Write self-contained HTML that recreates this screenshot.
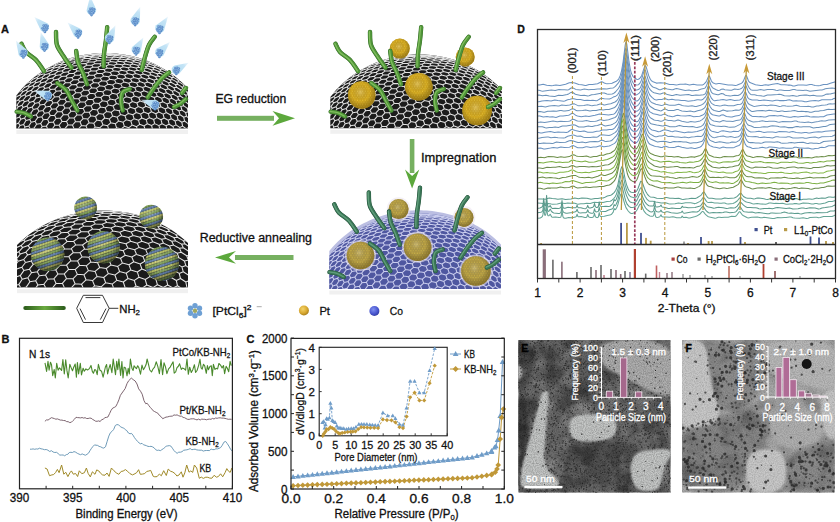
<!DOCTYPE html><html><head><meta charset="utf-8"><style>html,body{margin:0;padding:0;background:#fff;width:840px;height:522px;overflow:hidden}svg{display:block}</style></head><body><svg width="840" height="522" viewBox="0 0 840 522" font-family='"Liberation Sans", sans-serif'><rect width="840" height="522" fill="#ffffff"/>
<polyline points="537.5,85.0 539.8,85.1 543.2,84.3 546.7,85.3 551.7,85.7 553.0,85.6 556.0,85.0 559.9,85.5 565.6,84.2 569.3,82.8 571.6,82.6 574.8,83.0 578.8,84.4 581.8,84.8 585.2,85.6 586.0,85.5 589.0,84.5 592.4,84.5 597.5,83.7 601.4,81.8 602.6,82.0 604.3,83.1 605.6,83.6 606.9,83.7 610.7,83.6 612.0,83.3 616.3,81.2 617.5,80.4 618.8,78.8 620.1,75.9 621.4,71.5 623.1,62.1 625.2,45.1 625.6,43.0 626.0,42.1 626.5,42.8 626.9,44.7 629.0,61.7 630.3,69.3 631.6,73.8 632.9,76.3 634.6,78.0 636.7,79.3 637.5,79.4 638.4,79.3 639.7,78.5 640.9,76.9 641.8,75.2 644.4,67.1 644.8,66.1 645.2,65.7 645.6,65.9 646.1,66.7 648.6,75.4 650.3,79.3 651.2,80.4 652.4,81.5 656.3,83.1 657.5,83.1 660.5,82.7 663.1,83.1 664.8,83.0 669.5,84.5 670.7,84.6 673.3,84.4 676.3,84.9 677.6,84.8 680.1,84.2 683.5,84.3 685.6,84.1 689.5,84.9 693.3,84.2 697.1,84.9 702.2,85.1 703.9,84.2 705.7,82.4 706.9,80.2 708.6,76.1 709.1,75.8 709.5,76.3 711.2,80.5 712.0,81.9 713.3,83.0 714.6,83.6 715.9,83.9 718.4,83.4 719.7,83.4 728.2,84.9 732.0,84.9 735.5,85.6 736.7,85.3 741.0,83.5 742.3,82.6 743.5,80.9 745.2,76.5 745.7,75.6 746.1,75.3 746.5,75.8 748.6,81.2 749.9,82.6 755.5,84.7 760.6,85.5 762.3,85.4 764.0,84.9 765.7,84.8 767.4,85.1 769.1,85.1 772.5,84.3 777.6,83.6 781.0,84.7 782.7,84.8 784.4,84.7 787.8,85.1 789.5,85.1 791.2,85.3 792.9,85.9 794.6,86.0 798.0,85.0 801.4,85.0 803.1,84.9 806.5,85.2 809.9,84.4 811.7,84.6 813.4,85.1 815.1,85.5 818.5,85.7 820.2,85.5 823.6,84.4 827.0,84.5 830.4,83.2 835.5,81.7" fill="none" stroke="#6a92c0" stroke-width="1.05" stroke-linejoin="round" />
<polyline points="537.5,90.3 539.0,90.3 541.5,91.1 542.6,91.3 551.3,90.0 555.2,90.4 559.0,89.5 562.0,89.7 564.6,89.7 567.3,90.0 568.6,89.7 571.1,88.0 572.2,87.7 573.1,88.0 575.8,89.4 580.5,90.0 584.3,89.1 588.6,89.8 591.1,89.5 594.1,89.6 597.5,88.9 603.5,88.7 606.9,88.9 610.3,88.2 612.8,87.9 613.7,87.7 615.4,86.4 618.4,82.9 619.7,80.8 620.9,77.3 621.8,73.8 622.6,69.0 624.8,52.5 625.6,48.6 626.0,48.6 626.5,50.0 629.0,68.7 630.3,75.3 632.0,80.7 632.9,82.5 633.7,83.8 635.0,84.8 636.7,85.1 638.4,84.7 639.7,83.5 640.5,82.2 641.4,80.2 643.9,71.4 644.4,70.4 644.8,69.9 645.2,70.1 645.6,70.8 647.8,78.6 648.6,81.1 649.5,82.9 650.7,84.9 652.0,86.3 653.3,87.2 655.8,88.1 659.3,89.7 660.5,89.7 663.5,88.5 664.8,88.2 667.3,89.0 671.6,89.8 672.9,89.7 675.4,88.7 676.7,88.5 685.2,90.4 689.0,90.0 691.6,90.7 692.9,90.8 698.0,90.2 701.4,89.0 703.9,88.6 705.2,87.9 706.5,85.8 708.2,81.1 708.6,80.4 709.1,80.5 709.5,81.2 711.2,85.8 712.5,87.6 713.3,88.3 716.3,89.8 718.0,90.4 719.7,90.2 721.4,89.3 723.1,89.1 724.8,89.8 730.3,90.3 731.6,90.2 734.6,89.1 738.0,89.4 740.1,89.0 741.8,88.2 743.1,86.9 745.7,81.0 746.1,81.0 746.5,81.7 748.2,86.1 749.5,88.4 750.8,89.7 751.6,90.1 752.5,90.2 757.2,90.2 760.6,89.6 764.0,90.2 767.4,89.4 769.1,89.4 772.5,89.5 774.2,89.7 775.9,90.3 777.6,90.4 779.3,90.0 781.0,89.9 784.4,90.5 789.5,90.5 792.9,89.5 794.6,89.6 796.3,90.1 798.0,90.2 799.7,90.2 803.1,90.5 804.8,90.3 806.5,90.3 809.9,91.3 820.2,89.9 821.9,90.0 823.6,89.6 825.3,88.8 827.0,88.4 832.1,88.1 835.5,88.4" fill="none" stroke="#6e94bc" stroke-width="1.05" stroke-linejoin="round" />
<polyline points="537.5,95.1 539.0,95.1 542.4,95.8 546.0,95.2 549.2,95.9 554.8,96.4 558.5,95.3 562.4,95.5 567.1,94.5 568.6,93.9 571.0,92.4 571.8,92.2 572.8,92.5 575.0,94.0 576.2,94.6 580.9,95.4 584.3,95.3 587.7,96.0 589.0,95.7 591.6,94.8 594.5,94.5 602.2,93.0 604.3,93.1 606.9,94.0 608.2,94.2 612.0,93.9 613.7,93.4 615.4,92.0 618.4,88.5 619.7,86.3 620.5,84.0 621.4,80.7 622.2,76.1 624.8,56.0 625.2,53.8 625.6,52.9 626.0,53.5 626.5,55.4 628.6,71.6 630.3,80.6 631.6,84.8 632.9,87.6 634.1,89.3 635.4,89.9 636.7,90.0 638.4,89.6 639.2,89.0 640.1,88.1 640.9,86.5 641.8,84.3 643.9,77.2 644.4,76.4 644.8,76.2 645.2,76.6 645.6,77.6 647.3,83.8 648.6,87.3 650.3,89.9 652.4,91.9 654.1,92.8 659.3,94.1 660.5,94.0 663.1,93.0 664.4,92.9 667.3,94.6 671.6,95.5 672.9,95.4 676.3,94.5 680.1,95.2 688.6,94.5 691.6,95.4 692.9,95.6 695.9,95.1 699.3,95.3 703.5,94.8 704.8,94.1 705.7,93.0 706.5,91.1 707.8,87.1 708.2,86.2 708.6,85.9 709.1,86.3 711.2,91.7 712.0,92.9 713.3,93.8 717.6,94.8 718.4,94.7 721.4,93.6 723.1,93.8 724.8,94.9 726.5,95.5 730.3,95.9 731.6,95.8 734.6,95.2 738.0,95.5 739.7,94.8 741.4,93.4 742.7,91.9 743.5,90.3 744.8,86.7 745.2,85.8 745.7,85.5 746.1,86.0 747.8,90.4 748.6,92.1 749.5,93.3 750.8,94.4 752.1,94.8 754.6,94.8 757.2,95.4 760.6,95.7 762.3,96.1 764.0,96.2 767.4,95.0 770.8,95.1 774.2,94.7 777.6,94.6 779.3,94.3 781.0,94.4 784.4,95.7 789.5,96.0 792.9,95.6 796.3,96.3 798.0,96.1 799.7,95.5 804.8,95.1 806.5,95.1 809.9,95.8 813.4,95.3 816.8,96.0 821.9,96.0 823.6,95.5 825.3,94.6 827.0,94.1 828.7,94.1 830.4,93.9 832.1,93.4 835.5,92.7" fill="none" stroke="#6890b8" stroke-width="1.05" stroke-linejoin="round" />
<polyline points="537.5,101.8 538.9,101.8 541.9,100.9 547.0,100.4 551.1,100.9 554.7,100.1 557.9,100.6 563.7,101.2 564.7,101.0 567.6,99.8 570.1,99.3 572.8,98.5 573.9,98.7 576.7,99.6 580.5,99.4 584.3,100.5 587.3,100.2 590.3,100.4 592.8,100.2 596.2,100.7 597.5,100.4 600.1,98.7 601.4,98.3 604.3,98.8 609.4,99.0 610.7,98.6 613.3,97.1 615.8,96.2 617.5,94.8 618.8,92.9 620.1,89.9 620.9,87.1 622.2,80.5 624.8,60.5 625.2,58.8 625.6,58.5 626.0,59.7 626.5,62.2 628.2,76.3 629.5,84.4 630.7,89.3 631.6,91.3 632.4,92.7 634.1,94.4 635.0,94.8 635.8,95.0 637.5,94.4 639.2,93.1 640.5,91.5 641.4,89.8 643.9,81.6 644.4,80.8 644.8,80.7 645.2,81.2 645.6,82.3 648.2,91.6 649.5,94.4 650.3,95.7 652.0,97.4 654.1,99.2 655.4,99.8 656.3,99.9 658.8,99.5 661.8,99.4 664.8,98.4 668.2,99.7 669.0,99.7 672.0,99.2 675.4,99.9 678.4,99.9 681.4,100.6 684.8,100.4 688.2,101.3 694.2,100.4 697.1,99.7 698.4,99.8 700.5,100.1 701.4,100.0 703.1,99.2 705.2,97.2 706.1,95.8 707.8,91.7 708.2,91.3 708.6,91.6 710.3,96.0 711.6,98.4 712.9,99.9 713.7,100.4 714.6,100.7 717.6,100.2 719.7,100.1 723.1,99.5 726.5,100.3 730.3,99.6 734.6,100.5 739.7,100.0 741.0,99.3 742.3,97.8 743.1,96.2 744.8,92.2 745.2,91.9 745.7,92.3 747.8,97.7 749.1,99.0 752.1,100.0 753.3,100.1 755.5,99.9 757.2,100.0 758.9,100.5 760.6,100.6 762.3,100.2 764.0,100.0 772.5,101.1 775.9,100.2 777.6,100.2 779.3,100.6 784.4,100.6 786.1,100.5 787.8,100.0 789.5,99.8 792.9,100.9 796.3,100.8 798.0,101.0 801.4,100.9 803.1,101.2 804.8,101.8 806.5,101.8 809.9,100.9 815.1,100.5 818.5,101.0 821.9,99.7 830.4,99.7 832.1,99.4 833.8,98.6 835.5,98.2" fill="none" stroke="#6a92c0" stroke-width="1.05" stroke-linejoin="round" />
<polyline points="537.5,106.4 541.6,106.2 545.4,107.0 549.2,106.0 554.3,105.5 557.9,106.0 559.0,105.9 561.8,105.1 566.0,105.6 569.7,105.0 572.4,104.0 573.5,103.8 574.8,104.1 577.5,105.4 578.8,105.7 583.9,105.5 587.3,104.8 588.6,104.9 590.7,105.6 592.0,105.7 594.5,105.2 597.1,105.0 600.1,104.0 600.9,103.9 601.8,104.0 603.9,105.0 604.8,105.1 607.7,104.2 610.7,103.8 615.0,102.0 616.7,100.8 618.0,99.0 619.2,96.1 620.5,92.0 622.2,83.4 624.3,67.1 624.8,64.9 625.2,63.9 625.6,64.4 626.0,66.3 628.6,86.0 629.5,90.6 630.3,93.9 631.2,96.1 632.4,98.1 634.6,100.1 636.3,101.0 637.1,100.9 638.0,100.5 639.2,99.1 640.1,97.7 641.4,94.6 643.5,87.1 643.9,86.0 644.4,85.5 644.8,85.7 645.2,86.5 647.3,94.3 648.6,98.3 649.5,100.1 650.3,101.3 651.6,102.4 655.8,104.3 661.4,105.4 662.7,105.3 665.2,104.1 666.1,104.2 668.6,105.0 669.9,105.2 675.0,105.2 678.8,104.2 679.7,104.4 682.2,105.5 683.5,105.8 688.2,106.3 692.0,105.8 695.0,106.4 696.3,106.4 701.4,104.9 703.5,103.7 704.8,102.4 705.7,101.1 707.4,97.3 707.8,96.7 708.2,96.7 708.6,97.5 710.3,101.6 711.2,102.8 712.0,103.6 713.7,104.7 715.0,105.2 719.7,106.0 721.4,105.8 723.1,105.2 724.8,105.1 728.2,105.8 733.7,105.7 737.6,104.5 740.6,104.3 741.4,103.8 742.3,102.8 743.1,101.1 744.4,97.6 744.8,96.9 745.2,97.0 745.7,97.7 746.9,101.3 748.2,103.5 749.5,104.5 752.9,106.1 754.2,106.4 755.5,106.3 757.2,105.9 762.3,105.3 764.0,105.2 767.4,105.8 770.8,105.0 775.9,105.6 779.3,106.4 781.0,106.3 782.7,105.8 784.4,105.7 786.1,106.1 787.8,106.2 792.9,105.9 796.3,105.2 799.7,106.2 806.5,106.4 808.2,106.3 809.9,106.4 811.7,106.9 813.4,107.1 816.8,106.1 818.5,106.0 821.9,105.2 825.3,105.1 827.0,104.7 828.7,103.9 830.4,103.7 832.1,103.9 835.5,103.8" fill="none" stroke="#6e94bc" stroke-width="1.05" stroke-linejoin="round" />
<polyline points="537.5,111.6 540.2,111.6 543.6,112.3 544.6,112.2 547.7,111.2 550.4,111.2 553.4,111.0 556.5,111.2 560.1,110.4 561.2,110.5 563.5,111.0 565.0,111.1 568.8,110.6 571.8,108.9 572.7,108.7 573.7,108.9 575.8,110.3 577.1,110.8 582.6,110.6 585.6,110.1 589.9,111.0 592.8,110.5 596.2,110.4 600.1,109.6 603.1,109.9 606.0,109.4 609.0,109.4 614.1,107.8 615.8,106.5 617.5,104.1 619.2,100.6 620.5,96.8 621.4,93.0 622.2,87.8 624.3,71.3 624.8,69.6 625.2,69.3 625.6,70.4 626.0,72.8 628.6,92.3 629.9,98.0 631.2,101.3 632.4,103.6 634.1,105.7 635.4,106.3 636.3,106.3 637.5,105.6 638.8,104.3 639.7,103.1 640.5,101.4 641.4,99.1 643.5,91.5 643.9,90.7 644.4,90.6 644.8,91.2 645.2,92.4 647.8,102.2 648.6,104.2 649.5,105.6 650.7,106.8 654.6,109.3 660.1,110.8 661.0,110.9 661.8,110.6 663.9,109.2 664.8,109.0 665.6,109.1 667.8,110.2 668.6,110.4 673.7,110.4 676.7,109.5 677.6,109.4 678.4,109.6 680.5,110.6 681.8,110.9 686.9,111.4 690.3,111.1 693.3,111.8 694.6,111.8 697.6,110.8 701.0,110.1 703.9,108.5 705.2,107.1 707.4,102.2 707.8,101.8 708.2,102.2 710.3,107.0 712.0,109.1 712.9,109.8 714.2,110.5 718.4,111.4 719.7,111.4 723.1,109.9 726.5,111.1 728.2,111.1 732.5,110.8 735.9,109.9 738.9,110.2 739.7,110.1 741.0,109.3 741.8,108.2 742.7,106.6 744.0,103.2 744.4,102.3 744.8,102.1 745.2,102.6 746.9,107.0 747.8,108.4 749.1,109.6 750.8,110.9 752.1,111.5 752.9,111.6 757.2,110.8 762.3,110.6 765.7,111.1 769.1,110.2 772.5,110.8 775.9,111.1 777.6,111.4 779.3,111.4 781.0,110.9 782.7,110.9 784.4,111.4 786.1,111.6 791.2,111.1 794.6,110.5 798.0,111.5 799.7,111.5 801.4,111.3 804.8,111.6 806.5,111.6 808.2,111.7 809.9,112.2 811.7,112.3 815.1,111.3 818.5,111.3 820.2,110.8 823.6,110.6 827.0,109.4 828.7,109.2 830.4,109.4 832.1,109.5 835.5,109.2" fill="none" stroke="#6890b8" stroke-width="1.05" stroke-linejoin="round" />
<polyline points="537.5,116.1 539.8,115.9 543.3,116.9 547.0,116.6 549.6,116.9 552.6,116.8 556.0,117.4 559.9,116.1 563.0,116.0 568.4,115.3 569.4,114.9 571.6,113.5 572.4,113.2 573.5,113.6 576.2,115.6 577.5,116.0 581.3,116.7 585.6,116.1 589.0,116.6 592.4,115.7 595.0,115.3 597.9,114.4 599.2,114.1 608.6,115.0 612.8,114.3 614.1,113.9 615.4,112.9 617.1,110.4 618.8,106.9 620.1,103.2 621.4,97.2 623.9,77.4 624.3,75.1 624.8,74.0 625.2,74.3 625.6,76.1 627.7,92.7 628.6,97.8 629.5,101.6 630.7,105.3 632.4,108.5 634.1,110.6 635.4,111.3 636.3,111.3 637.5,110.9 638.8,109.9 639.7,108.7 640.9,105.8 643.1,98.1 643.5,97.0 643.9,96.6 644.4,96.8 644.8,97.7 646.9,105.9 647.8,108.5 649.0,110.8 650.3,112.1 653.3,113.7 657.1,114.4 659.7,115.3 661.4,115.3 663.9,114.1 664.8,114.1 667.8,115.7 672.4,116.7 673.7,116.6 676.3,115.5 677.6,115.2 680.5,115.8 685.6,116.0 689.9,115.5 693.7,116.7 699.7,116.3 702.7,115.1 704.4,113.9 705.2,112.7 706.9,108.3 707.4,107.6 707.8,107.7 708.2,108.3 709.5,111.4 710.3,112.8 711.2,113.8 712.5,114.7 718.4,116.0 719.7,115.9 721.4,115.1 723.1,114.8 726.5,116.4 730.8,117.0 732.0,117.1 735.5,115.9 738.9,115.6 740.1,114.9 741.0,114.0 741.8,112.7 744.0,107.4 744.4,106.9 744.8,107.1 746.5,111.0 747.8,113.0 750.8,115.6 752.1,116.2 752.9,116.4 755.5,116.4 758.9,116.7 760.6,116.5 762.3,116.7 764.0,117.1 765.7,117.0 769.1,115.8 774.2,115.4 777.6,116.0 781.0,115.5 782.7,115.9 784.4,116.5 789.5,117.2 791.2,117.2 792.9,116.7 794.6,116.4 798.0,117.0 801.4,116.4 803.1,116.4 806.5,115.9 808.2,116.2 809.9,116.8 811.7,117.0 813.4,116.7 818.5,117.0 820.2,116.7 823.6,116.7 827.0,115.1 833.8,113.9 835.5,113.9" fill="none" stroke="#6a92c0" stroke-width="1.05" stroke-linejoin="round" />
<polyline points="537.5,122.4 540.7,121.9 544.6,122.6 547.7,121.9 553.1,121.1 554.3,121.2 557.3,121.8 560.7,121.2 563.9,121.5 568.6,121.3 569.9,121.0 572.0,119.6 573.1,119.3 574.1,119.5 576.7,120.7 577.9,121.0 582.6,121.3 586.5,120.5 590.3,121.5 595.4,121.3 596.7,121.0 600.1,119.7 600.9,119.7 603.9,120.5 608.6,119.7 615.0,117.5 616.3,116.4 617.5,114.4 618.8,111.5 620.1,107.4 620.9,103.5 621.8,98.3 623.9,81.9 624.3,80.1 624.8,79.7 625.2,80.7 625.6,83.1 627.3,97.1 628.6,105.3 629.9,110.1 630.7,112.1 632.0,113.9 633.7,115.6 634.6,116.2 635.4,116.5 636.7,116.3 638.4,114.9 639.7,113.0 640.5,111.1 643.1,102.2 643.5,101.3 643.9,101.1 644.4,101.5 644.8,102.5 647.8,113.4 648.6,115.4 649.5,116.8 651.2,118.3 654.1,120.0 655.4,120.3 658.0,120.5 660.5,121.3 661.4,121.3 662.2,121.1 664.4,119.8 665.2,119.6 668.2,120.5 671.2,120.6 673.7,121.1 675.0,121.0 677.6,120.1 678.4,120.1 681.8,121.3 686.9,122.3 688.2,122.2 690.8,121.5 694.2,122.0 695.4,121.9 700.1,120.9 702.2,119.6 704.4,117.6 705.2,116.2 706.5,113.2 706.9,112.5 707.4,112.5 707.8,113.1 709.5,117.4 710.3,118.7 711.6,119.9 713.7,121.0 716.7,121.4 719.7,122.0 723.1,120.6 726.5,121.2 729.9,121.2 732.9,121.5 736.3,120.4 739.7,120.1 740.6,119.6 741.4,118.6 742.3,117.0 743.5,113.6 744.0,113.0 744.4,112.9 744.8,113.6 746.5,118.1 747.4,119.3 748.2,119.9 751.6,121.5 753.3,122.0 758.9,121.4 762.3,120.8 765.7,121.6 767.4,121.5 769.1,121.2 774.2,121.3 775.9,121.4 777.6,122.0 779.3,122.2 782.7,121.4 791.2,121.8 794.6,121.0 796.3,121.1 798.0,121.7 799.7,122.1 804.8,122.4 808.2,121.9 811.7,122.7 815.1,122.0 818.5,121.6 820.2,121.0 821.9,120.8 823.6,121.0 825.3,120.9 828.7,119.9 833.8,119.7 835.5,119.8" fill="none" stroke="#6e94bc" stroke-width="1.05" stroke-linejoin="round" />
<polyline points="537.5,126.8 542.4,126.7 545.3,127.8 546.3,127.9 549.4,127.4 552.2,127.4 555.1,127.0 558.5,127.4 559.6,127.1 562.4,126.0 566.3,126.0 573.3,124.7 575.0,125.0 578.8,127.0 583.9,127.1 588.2,126.1 591.1,126.5 592.4,126.5 595.0,125.8 597.5,125.4 600.9,124.2 601.8,124.3 603.9,125.6 605.2,125.9 610.7,125.0 612.0,124.6 615.0,122.9 616.3,121.8 617.5,120.0 618.8,116.8 620.1,111.8 620.9,107.3 623.5,87.9 623.9,85.6 624.3,84.4 624.8,84.7 625.2,86.3 627.7,105.7 628.6,110.6 629.9,115.5 630.7,117.6 632.0,119.4 634.1,120.9 636.3,121.8 637.1,121.7 638.0,121.2 639.2,119.5 640.5,116.4 642.6,109.1 643.1,108.0 643.5,107.4 643.9,107.5 644.4,108.2 646.5,115.3 647.8,118.9 649.0,121.5 650.3,123.2 651.2,123.7 652.0,124.1 656.7,125.1 659.7,125.4 662.2,126.0 663.1,125.9 664.8,125.4 665.6,125.3 669.9,126.7 675.0,126.7 676.3,126.5 678.4,125.7 679.7,125.4 683.5,126.4 686.1,126.5 689.0,126.8 692.5,126.4 695.4,127.3 697.1,127.4 701.0,126.4 702.7,125.4 703.5,124.4 704.4,123.0 706.1,118.6 706.5,117.8 706.9,117.5 707.4,118.0 709.5,123.4 710.3,124.4 711.2,124.8 715.4,125.9 721.4,126.5 723.1,126.2 724.8,126.3 728.2,127.1 729.9,127.3 734.6,127.1 740.1,124.4 741.4,123.0 743.5,117.8 744.0,117.4 744.4,117.7 744.8,118.6 746.5,123.0 747.8,124.8 748.6,125.3 751.2,126.0 753.8,127.2 755.0,127.6 760.6,127.2 764.0,126.7 767.4,127.1 770.8,126.0 772.5,125.8 777.6,126.2 779.3,126.8 781.0,127.1 784.4,126.7 787.8,127.6 792.9,127.6 796.3,126.6 798.0,126.6 799.7,127.0 801.4,127.1 803.1,126.8 809.9,126.8 813.4,128.0 816.8,127.5 818.5,127.5 823.6,126.5 825.3,126.5 827.0,126.1 828.7,125.1 830.4,124.5 835.5,124.1" fill="none" stroke="#6890b8" stroke-width="1.05" stroke-linejoin="round" />
<polyline points="537.5,132.4 538.5,132.4 540.7,132.9 541.9,132.9 544.9,132.2 550.5,131.5 554.5,132.5 558.1,132.0 560.9,132.3 563.7,132.2 566.4,132.5 568.0,132.0 570.7,130.0 571.6,129.6 572.2,129.5 575.4,130.5 579.6,131.6 580.9,131.5 583.5,131.1 584.3,131.1 587.7,132.2 592.8,132.2 596.7,131.2 599.7,130.9 602.2,130.0 606.5,130.1 609.4,129.5 612.0,129.4 613.3,129.1 615.0,127.6 617.1,124.9 618.4,122.5 619.2,120.2 620.1,116.9 620.9,112.4 623.5,93.0 623.9,91.2 624.3,90.7 624.8,91.7 625.2,93.9 626.9,107.3 628.2,114.9 629.0,118.4 629.9,120.9 630.7,122.9 632.0,125.0 633.3,126.1 634.1,126.5 635.0,126.5 636.3,126.3 637.1,126.0 638.4,124.9 639.2,123.4 640.1,121.3 642.6,112.5 643.1,111.8 643.5,111.7 643.9,112.3 644.4,113.5 646.9,123.2 647.8,125.2 649.0,127.3 650.7,129.1 652.0,130.0 655.4,130.7 658.4,131.8 660.1,131.6 663.5,130.1 664.8,129.8 668.2,130.6 671.2,131.6 672.4,131.7 674.6,131.1 675.9,130.9 684.4,132.8 688.2,131.9 692.0,132.3 697.1,131.6 702.7,129.8 703.5,129.3 704.4,128.1 706.1,123.8 706.5,123.1 706.9,123.1 707.4,123.9 708.6,127.3 709.5,129.1 710.8,130.6 712.0,131.2 717.1,132.6 718.4,132.4 721.4,130.9 723.1,130.7 729.9,132.0 731.2,131.9 733.7,131.3 737.2,131.6 738.4,131.4 739.7,130.6 741.0,129.3 743.5,123.6 744.0,123.7 744.4,124.3 745.7,127.4 746.9,129.4 749.1,131.3 750.8,132.0 755.5,131.8 758.9,131.3 760.6,131.5 762.3,132.1 764.0,132.4 767.4,132.0 769.1,132.1 772.5,132.0 775.9,132.5 779.3,131.6 786.1,131.8 787.8,132.1 789.5,132.2 791.2,131.7 792.9,131.6 796.3,132.6 801.4,133.1 804.8,132.4 806.5,132.5 808.2,132.9 809.9,132.9 813.4,132.2 818.5,131.7 821.9,132.1 825.3,131.2 832.1,130.7 833.8,130.8 835.5,130.5" fill="none" stroke="#6a92c0" stroke-width="1.05" stroke-linejoin="round" />
<polyline points="537.5,138.3 538.9,138.3 542.0,137.4 547.1,136.9 548.3,137.0 551.0,137.7 554.8,137.2 558.1,137.7 563.7,138.1 565.0,137.7 567.7,136.3 572.7,134.9 573.7,135.0 577.1,136.2 580.5,136.1 583.5,137.3 584.8,137.5 590.3,137.5 593.3,137.0 596.7,137.2 597.9,136.7 600.5,134.9 601.4,134.7 609.0,135.5 610.7,135.1 615.0,132.6 616.3,131.5 617.5,129.7 618.8,126.5 620.1,121.5 620.9,116.8 623.5,97.3 623.9,95.8 624.3,95.8 624.8,97.1 625.2,99.6 626.9,113.1 628.2,121.0 629.5,126.0 630.3,128.1 631.2,129.5 632.9,131.0 634.6,131.7 635.8,131.5 637.1,130.7 638.4,129.1 639.7,126.9 642.6,118.4 643.1,117.9 643.5,118.0 644.4,120.0 646.9,128.8 648.6,132.3 650.3,134.1 654.1,136.3 655.4,136.8 656.7,136.8 659.3,136.1 661.8,135.9 664.8,134.9 665.6,135.2 667.8,136.4 668.6,136.6 672.0,136.2 675.0,136.9 678.0,137.0 681.4,137.6 684.8,137.1 688.6,137.7 691.6,137.1 694.6,136.8 697.6,136.2 701.0,136.5 702.2,135.9 703.1,134.9 704.4,132.5 705.7,129.1 706.1,128.3 706.5,128.2 706.9,128.8 708.6,133.3 709.5,134.7 710.3,135.6 712.0,136.9 713.3,137.5 714.2,137.7 715.4,137.6 718.0,136.7 719.7,136.6 723.1,135.9 726.5,137.0 728.2,136.9 730.8,136.5 733.7,137.3 735.0,137.4 738.4,136.7 739.7,135.9 740.6,134.8 741.4,133.0 742.7,129.2 743.1,128.3 743.5,128.1 744.0,128.6 746.1,134.4 746.9,135.6 747.8,136.3 749.1,136.6 752.5,136.8 755.5,136.5 757.2,136.7 758.9,137.3 760.6,137.6 764.0,137.1 767.4,137.5 769.1,137.5 772.5,137.9 775.9,136.8 777.6,136.7 779.3,136.9 786.1,137.2 787.8,136.8 789.5,136.7 792.9,137.9 798.0,138.1 801.4,137.7 803.1,137.8 804.8,138.3 806.5,138.3 809.9,137.4 815.1,137.0 818.5,137.9 821.9,136.8 830.4,136.6 832.1,136.3 835.5,134.7" fill="none" stroke="#6e94bc" stroke-width="1.05" stroke-linejoin="round" />
<polyline points="537.5,142.7 539.2,143.4 540.2,143.5 543.7,142.9 546.6,143.3 549.4,143.2 552.2,143.4 553.4,143.2 556.5,142.1 559.9,142.4 565.6,142.2 569.3,140.8 570.7,140.6 572.4,140.8 577.9,142.4 579.2,142.5 582.2,142.1 585.6,142.7 589.9,141.7 595.0,141.4 597.9,141.7 598.8,141.5 600.9,140.4 601.8,140.2 602.6,140.3 604.8,141.2 606.0,141.4 609.9,141.1 611.1,140.8 612.8,139.5 616.7,135.3 618.0,133.0 618.8,130.6 619.7,127.2 620.5,122.5 623.1,102.9 623.5,100.9 623.9,100.3 624.3,101.0 624.8,103.1 627.3,122.1 629.0,130.1 629.9,132.8 631.2,135.5 632.4,137.0 633.7,137.5 635.0,137.6 636.3,137.3 637.5,136.4 638.4,135.2 639.7,132.4 642.2,124.1 642.6,123.3 643.1,123.2 643.5,123.6 643.9,124.7 646.5,133.1 647.3,134.9 648.6,136.9 649.9,138.3 651.2,139.3 656.3,141.6 657.5,141.9 660.5,141.4 664.8,141.2 669.5,142.6 670.7,142.5 672.9,141.7 674.1,141.5 677.1,141.8 680.1,141.6 683.1,142.0 686.1,141.9 690.3,143.2 693.7,142.8 696.7,142.7 701.4,141.6 702.7,140.7 703.9,138.5 705.7,133.4 706.1,132.8 706.5,133.0 708.6,138.2 709.9,140.1 711.6,141.1 714.6,142.3 715.9,142.5 719.7,141.8 721.4,141.9 726.5,142.9 728.2,143.0 729.9,142.7 732.0,142.0 735.5,142.2 736.7,141.9 738.9,140.6 740.1,139.3 741.0,137.8 742.7,133.4 743.1,132.9 743.5,133.1 744.0,134.0 745.7,138.5 746.9,140.6 748.2,142.0 749.1,142.4 749.9,142.6 752.5,142.6 755.5,142.9 758.9,142.9 760.6,143.2 762.3,143.0 764.0,142.3 765.7,141.9 769.1,142.1 770.8,142.0 774.2,142.3 777.6,141.8 779.3,142.2 781.0,142.9 782.7,143.2 787.8,143.1 791.2,142.4 794.6,143.1 798.0,142.4 803.1,142.3 804.8,142.7 806.5,143.3 808.2,143.5 809.9,143.1 811.7,143.0 813.4,143.3 816.8,143.3 818.5,143.5 820.2,143.3 823.6,141.5 832.1,140.7 833.8,140.4 835.5,139.8" fill="none" stroke="#6890b8" stroke-width="1.05" stroke-linejoin="round" />
<polyline points="537.5,148.3 540.7,148.0 543.7,148.9 544.9,149.1 547.9,148.4 550.5,148.1 553.4,147.6 557.3,148.1 560.9,147.1 564.3,147.4 569.0,147.2 570.1,146.9 572.2,145.8 573.1,145.6 574.1,145.9 576.7,147.3 577.9,147.7 582.6,147.8 586.0,146.8 586.9,146.8 590.7,147.5 593.3,147.1 596.2,147.0 600.1,145.8 601.4,146.0 603.5,146.7 604.3,146.8 609.0,146.0 610.7,145.4 614.1,143.6 615.4,142.6 616.7,140.7 618.0,137.5 619.2,132.9 620.1,128.6 622.6,109.7 623.5,105.7 623.9,105.7 624.3,107.2 626.9,126.8 627.7,131.8 628.6,135.4 629.5,137.8 630.7,140.0 632.9,141.9 634.1,142.7 635.0,142.9 635.8,142.9 636.7,142.5 637.5,141.6 638.4,140.3 639.7,137.3 642.2,128.7 642.6,128.0 643.1,127.9 643.5,128.5 643.9,129.5 646.9,139.6 647.8,141.6 649.0,143.5 650.3,144.5 654.1,146.1 655.4,146.4 658.0,146.7 661.0,147.6 662.2,147.5 664.8,146.1 665.6,146.2 668.6,147.2 673.7,147.5 675.0,147.3 677.1,146.4 678.4,146.2 681.8,147.3 686.9,148.2 688.2,148.2 691.2,147.7 694.2,148.4 695.4,148.4 699.7,147.2 701.4,146.2 703.1,143.9 705.2,138.9 705.7,138.3 706.1,138.4 706.5,139.2 708.2,143.8 709.5,145.4 710.8,146.1 713.3,147.0 716.7,147.5 719.7,148.2 723.1,147.0 726.5,147.8 732.9,147.8 734.2,147.4 736.7,146.2 738.9,145.5 739.7,144.9 740.6,143.7 742.3,139.3 742.7,138.6 743.1,138.7 743.5,139.4 745.2,144.1 746.5,146.0 747.8,146.7 749.9,147.3 752.1,148.2 753.3,148.6 758.9,148.0 762.3,147.3 765.7,147.9 767.4,147.7 769.1,147.1 770.8,147.0 775.9,147.4 779.3,148.3 782.7,147.8 786.1,148.3 791.2,148.2 792.9,147.9 794.6,147.3 796.3,147.3 799.7,148.1 801.4,148.0 804.8,148.3 808.2,148.1 811.7,149.1 813.4,149.0 815.1,148.5 818.5,148.2 820.2,147.6 821.9,147.3 823.6,147.4 825.3,147.2 828.7,145.8 835.5,145.7" fill="none" stroke="#6a92c0" stroke-width="1.05" stroke-linejoin="round" />
<polyline points="537.5,157.7 540.7,157.3 544.5,157.7 547.5,156.8 548.7,156.6 553.8,156.8 557.3,157.5 560.9,156.8 563.7,157.3 565.0,157.3 569.3,156.6 572.2,155.0 573.3,154.8 574.4,155.0 576.2,155.9 577.5,156.3 583.0,156.4 586.5,156.1 589.4,157.1 590.7,157.3 593.7,156.6 596.7,156.4 600.1,155.2 603.5,155.3 606.5,154.1 609.4,153.5 610.7,153.0 613.3,151.3 615.0,149.8 616.3,147.6 617.1,145.4 618.4,140.9 619.2,137.0 622.2,117.7 623.1,113.9 623.5,113.4 623.9,113.8 624.8,117.5 626.9,132.3 628.2,139.1 629.5,143.5 630.3,145.3 631.2,146.6 632.9,148.2 634.6,149.2 635.8,149.1 636.7,148.5 637.5,147.3 638.4,145.7 639.7,142.2 641.8,135.3 642.2,134.5 642.6,134.3 643.1,134.6 643.9,136.6 646.1,144.7 647.3,148.6 648.2,150.6 649.0,152.0 649.9,152.9 650.7,153.5 654.6,155.3 660.5,156.7 662.2,156.8 664.4,156.1 665.6,155.9 668.6,156.4 671.6,156.5 674.1,156.9 678.0,156.5 682.2,157.7 687.3,157.5 691.2,156.7 693.7,157.1 695.0,157.1 700.1,155.4 701.4,154.7 702.2,153.9 703.1,152.7 704.8,149.4 705.2,148.8 705.7,148.8 706.1,149.3 708.2,154.0 709.5,155.3 713.7,157.0 719.7,157.7 721.4,157.4 723.1,156.7 724.8,156.5 728.2,156.8 733.3,156.7 736.3,155.8 738.4,155.4 739.3,155.0 740.1,154.0 741.8,150.4 742.3,149.7 742.7,149.4 743.1,149.7 743.5,150.5 745.2,154.1 746.5,155.5 747.4,156.0 749.9,156.4 752.9,157.4 754.2,157.3 757.2,156.6 762.3,156.7 765.7,157.7 767.4,157.7 769.1,157.3 770.8,157.4 772.5,157.8 777.6,158.0 779.3,157.9 782.7,156.8 786.1,157.3 789.5,157.1 791.2,157.2 794.6,156.9 796.3,157.1 798.0,157.8 799.7,158.1 803.1,157.8 804.8,157.8 808.2,157.4 811.7,157.9 815.1,156.9 816.8,156.8 818.5,156.9 821.9,156.5 823.6,156.8 825.3,156.6 828.7,155.6 832.1,155.8 835.5,155.2" fill="none" stroke="#6c8e48" stroke-width="1.05" stroke-linejoin="round" />
<polyline points="537.5,162.8 539.8,162.4 543.3,162.9 546.3,162.2 551.8,161.6 553.0,161.7 556.1,162.6 559.6,162.1 562.4,162.4 565.2,162.2 567.7,162.3 569.0,162.0 571.6,160.3 572.8,160.0 576.2,161.0 580.9,161.7 582.2,161.7 585.2,161.1 589.0,162.2 594.1,162.1 595.4,161.8 598.4,160.7 602.6,160.4 607.3,159.4 612.8,156.9 614.1,156.0 615.4,154.2 616.7,151.3 618.0,147.3 619.7,139.5 622.2,122.5 623.1,119.4 623.5,119.3 623.9,120.2 624.3,122.1 626.5,136.8 627.7,143.9 628.6,147.0 629.5,149.3 630.3,150.9 631.6,152.6 632.9,153.9 634.1,154.5 635.4,154.4 636.7,153.4 638.0,151.6 638.8,149.8 641.4,141.6 642.2,139.9 642.6,139.8 643.1,140.3 643.5,141.3 646.5,152.3 647.3,154.5 648.6,156.8 650.3,158.5 652.9,160.1 654.1,160.5 656.7,160.8 660.1,162.0 661.4,162.0 663.9,161.4 669.0,161.3 670.3,161.4 672.9,162.2 673.7,162.2 677.1,161.7 680.1,162.4 685.6,163.0 686.9,162.8 689.9,161.9 692.9,162.2 694.2,162.1 698.4,161.3 700.1,160.5 702.2,158.5 704.4,154.9 704.8,154.3 705.2,154.0 705.7,154.3 706.1,155.0 707.8,158.7 708.6,159.8 709.9,160.9 712.0,161.9 715.4,162.1 718.4,162.9 719.7,162.9 723.1,161.9 728.2,161.7 732.0,162.1 735.0,161.2 738.0,160.7 738.9,160.2 739.7,159.2 741.4,155.7 741.8,154.9 742.3,154.6 742.7,154.8 743.1,155.5 744.4,158.4 745.7,160.3 746.5,160.8 752.1,162.4 755.0,162.1 757.2,162.0 760.6,161.6 762.3,161.9 764.0,162.6 765.7,162.8 767.4,162.6 774.2,162.8 777.6,163.4 781.0,162.3 786.1,162.2 787.8,162.2 789.5,162.5 791.2,162.5 792.9,162.0 794.6,162.0 798.0,163.0 803.1,163.3 806.5,162.5 808.2,162.6 809.9,163.0 811.7,162.9 813.4,162.5 816.8,162.2 820.2,161.6 823.6,162.0 827.0,161.1 830.4,160.9 832.1,160.6 835.5,160.7" fill="none" stroke="#7cb044" stroke-width="1.05" stroke-linejoin="round" />
<polyline points="537.5,168.0 539.8,168.0 542.9,168.5 547.0,167.2 550.1,167.5 553.1,167.2 555.6,167.3 559.4,166.6 560.5,166.8 562.9,167.5 564.1,167.6 568.6,166.9 571.4,165.7 572.4,165.5 573.3,165.7 575.4,166.7 576.2,167.0 577.1,167.0 579.6,166.5 584.8,166.4 589.0,167.1 592.4,166.4 595.4,166.7 596.7,166.7 602.2,165.8 605.2,164.9 608.2,164.7 609.4,164.3 612.4,162.3 614.1,160.7 615.4,158.7 616.7,155.7 618.0,151.5 618.8,148.0 620.1,141.2 622.2,127.7 622.6,126.2 623.1,125.5 623.5,125.8 624.3,129.1 626.5,143.3 628.2,151.6 629.0,154.2 629.9,156.1 632.0,159.2 633.3,160.3 634.1,160.7 635.0,160.5 636.3,159.5 637.5,157.5 638.4,155.6 641.4,146.7 641.8,146.0 642.2,145.7 642.6,145.9 643.1,146.6 646.1,156.9 646.9,159.2 648.2,161.4 649.5,162.6 654.1,165.7 655.4,166.2 659.7,167.2 661.0,167.3 663.9,166.6 666.9,167.2 668.2,167.3 670.7,166.9 673.7,166.8 676.3,166.4 677.6,166.6 680.5,167.7 683.9,167.4 686.9,167.7 689.5,167.5 693.3,168.0 694.2,167.8 696.7,166.6 699.7,165.9 701.0,165.1 702.2,163.7 704.4,159.6 704.8,159.1 705.2,159.1 705.7,159.6 707.4,163.1 708.2,164.2 709.1,164.8 712.0,166.7 713.3,167.3 718.4,168.0 719.7,168.0 721.4,167.5 723.1,167.3 726.5,167.8 729.9,167.0 732.5,166.7 735.0,166.0 738.0,165.6 739.3,164.5 740.1,163.0 741.4,159.9 741.8,159.3 742.3,159.2 742.7,159.6 744.8,164.3 745.7,165.4 747.4,166.6 750.4,167.7 751.6,168.1 752.9,167.9 755.5,167.1 758.9,167.3 762.3,167.3 764.0,167.5 765.7,167.4 767.4,167.0 769.1,167.1 772.5,168.1 777.6,168.3 781.0,167.6 784.4,168.2 786.1,168.0 787.8,167.5 792.9,167.0 794.6,167.1 798.0,168.0 801.4,167.5 809.9,168.6 811.7,168.3 813.4,167.6 815.1,167.4 818.5,167.6 820.2,167.2 823.6,166.7 827.0,165.6 830.4,166.1 835.5,165.4" fill="none" stroke="#6a8a4e" stroke-width="1.05" stroke-linejoin="round" />
<polyline points="537.5,172.2 539.8,172.0 543.3,173.0 547.0,172.6 549.7,173.0 552.7,173.0 556.0,173.5 559.9,172.2 563.3,172.2 568.4,171.5 571.4,170.1 572.4,169.9 573.5,170.2 576.2,171.8 577.5,172.2 581.8,172.7 585.6,172.2 589.0,172.7 592.4,171.7 595.4,171.2 598.4,170.4 602.6,170.5 605.6,170.0 608.2,170.0 609.4,169.7 610.7,169.2 612.8,168.0 614.1,166.8 615.4,164.8 616.7,161.5 618.0,156.9 619.2,150.8 621.8,134.6 622.6,131.4 623.1,131.2 623.5,131.9 623.9,133.5 626.5,149.6 627.7,155.7 628.6,158.4 629.5,160.3 630.7,162.3 632.0,163.8 633.3,165.0 634.6,165.5 635.4,165.4 636.7,164.3 638.4,161.3 641.4,152.8 641.8,152.2 642.2,152.1 642.6,152.6 643.1,153.4 646.5,164.6 647.3,166.3 648.2,167.5 649.5,168.5 652.9,169.9 654.1,170.2 657.1,170.7 660.1,171.8 661.4,171.9 664.4,171.6 667.3,172.4 672.9,173.2 674.1,173.1 677.1,172.2 681.0,172.6 683.5,172.3 686.5,172.2 689.5,171.6 690.8,171.8 692.9,172.6 694.6,172.7 698.8,171.9 700.5,171.0 702.2,169.0 703.9,165.6 704.4,165.0 704.8,164.8 705.2,165.2 707.4,169.4 708.2,170.3 709.5,170.8 712.5,171.7 715.9,171.9 718.4,172.5 719.7,172.6 721.4,172.2 723.1,172.0 726.5,172.9 731.6,173.1 732.9,172.8 735.5,171.6 737.6,170.9 738.4,170.4 739.3,169.3 741.0,165.4 741.4,164.6 741.8,164.2 742.3,164.4 742.7,165.1 744.0,167.9 744.8,169.3 745.7,170.1 746.5,170.5 748.6,171.2 752.1,172.7 755.5,172.6 758.9,173.0 760.6,172.9 764.0,173.6 765.7,173.5 767.4,172.8 769.1,172.4 774.2,172.4 777.6,172.8 781.0,172.2 782.7,172.5 784.4,173.1 789.5,173.5 791.2,173.5 792.9,173.0 794.6,172.8 798.0,173.3 801.4,172.6 806.5,172.1 808.2,172.4 809.9,173.0 811.7,173.2 813.4,172.8 815.1,172.8 818.5,173.2 820.2,172.9 821.9,173.0 823.6,172.9 827.0,171.2 830.4,170.8 833.8,170.1 835.5,170.0" fill="none" stroke="#84b848" stroke-width="1.05" stroke-linejoin="round" />
<polyline points="537.5,177.9 542.6,177.1 546.0,178.0 550.1,177.5 552.7,177.8 555.5,178.0 557.9,178.6 559.0,178.7 562.6,177.5 566.0,177.3 572.7,175.6 574.4,175.4 575.8,175.6 578.4,176.9 579.6,177.3 584.8,177.8 588.6,177.3 592.0,177.9 597.9,176.2 600.9,174.8 601.8,174.8 603.9,175.5 605.2,175.6 611.1,173.6 612.8,172.5 614.6,170.7 615.8,168.8 617.1,165.8 618.0,162.8 618.8,158.7 621.8,139.6 622.2,138.1 622.6,137.4 623.1,137.7 623.9,141.0 626.0,154.4 627.3,160.5 628.6,164.7 629.5,166.7 630.3,168.1 631.6,169.3 632.9,169.7 635.4,169.5 636.7,168.8 638.0,167.0 640.9,158.6 641.4,157.9 641.8,157.6 642.2,157.9 642.6,158.7 645.2,166.7 646.9,170.6 648.2,172.8 649.5,174.4 650.3,175.2 651.6,175.8 656.7,176.3 659.7,176.3 663.5,177.2 667.3,176.7 670.3,177.4 672.9,177.8 675.9,178.4 677.1,178.3 679.7,177.6 683.5,178.1 688.6,177.6 692.5,176.6 696.7,177.3 698.0,177.0 699.7,176.2 701.4,174.9 702.2,173.7 703.9,170.0 704.4,169.5 704.8,169.5 705.2,170.1 706.9,174.2 708.2,176.3 709.1,177.0 710.3,177.5 712.9,177.3 715.9,177.4 718.4,177.2 721.4,177.7 723.1,177.6 724.8,177.0 726.5,177.0 729.9,177.7 734.6,177.8 736.3,177.0 738.0,175.4 739.3,173.6 741.0,170.4 741.4,170.0 741.8,170.1 742.3,170.7 743.5,173.4 744.4,174.7 745.7,175.9 746.9,176.6 748.2,176.8 751.6,176.7 755.0,177.9 758.9,177.7 764.0,178.0 767.4,178.9 769.1,178.7 770.8,178.1 772.5,177.9 774.2,178.0 777.6,177.7 781.0,178.0 784.4,177.2 787.8,178.0 792.9,178.6 794.6,178.5 796.3,178.1 798.0,178.1 799.7,178.6 801.4,178.7 809.9,177.3 813.4,178.1 816.8,177.7 820.2,177.8 823.6,177.5 825.3,177.7 827.0,177.5 830.4,176.0 833.8,175.6 835.5,175.2" fill="none" stroke="#6c8e48" stroke-width="1.05" stroke-linejoin="round" />
<polyline points="537.5,182.9 539.2,182.4 540.2,182.3 543.3,182.9 546.2,183.2 548.7,183.6 550.0,183.6 552.8,183.0 556.8,183.6 562.2,182.7 565.6,181.6 569.3,181.7 571.8,180.7 572.7,180.6 582.2,183.4 586.0,182.5 588.6,182.5 591.6,182.2 595.0,182.1 598.4,180.5 599.7,180.2 606.5,180.9 607.7,180.8 608.6,180.5 612.8,177.8 614.1,176.7 615.4,174.8 616.3,172.9 617.5,168.7 618.4,165.0 621.8,144.8 622.2,143.5 622.6,143.1 623.1,143.7 623.9,147.2 626.0,160.7 627.3,166.9 628.6,170.8 629.9,173.0 631.6,174.7 633.3,175.6 634.6,175.7 635.8,175.0 637.1,173.6 638.0,172.2 640.9,164.8 641.4,164.2 641.8,164.0 642.2,164.3 642.6,165.0 645.6,173.7 647.3,177.1 648.2,178.2 649.5,179.2 652.0,180.6 653.3,181.0 654.6,181.1 657.1,180.8 661.4,182.2 666.5,182.8 669.9,182.6 673.7,183.6 677.1,182.9 679.7,182.7 682.7,182.2 686.5,182.9 690.3,182.1 693.3,182.5 698.4,182.6 699.7,182.1 700.5,181.3 701.8,179.2 703.5,175.3 703.9,174.7 704.4,174.6 704.8,175.1 706.5,179.0 707.4,180.3 708.6,181.3 710.3,182.0 712.5,182.4 715.9,181.8 719.7,182.9 723.1,182.8 724.8,183.0 728.2,182.8 731.6,183.5 732.5,183.5 734.2,182.9 737.6,180.7 738.9,179.0 740.6,175.0 741.0,174.4 741.4,174.2 741.8,174.6 742.3,175.4 744.0,179.4 744.8,180.6 745.7,181.3 746.5,181.5 749.1,181.7 752.1,182.6 755.0,183.1 757.2,183.7 758.9,183.7 760.6,183.2 762.3,183.1 765.7,183.6 770.8,183.1 774.2,182.3 775.9,182.5 777.6,183.1 779.3,183.2 781.0,183.0 787.8,183.3 789.5,183.8 791.2,184.1 794.6,183.3 799.7,182.9 803.1,183.2 804.8,183.1 806.5,182.5 808.2,182.4 811.7,183.2 816.8,183.8 818.5,183.5 820.2,182.9 823.6,183.0 830.4,181.0 832.1,180.3 833.8,179.9 835.5,180.2" fill="none" stroke="#7cb044" stroke-width="1.05" stroke-linejoin="round" />
<polyline points="537.5,188.3 540.3,188.3 543.2,189.1 544.1,189.2 547.9,188.1 550.9,188.1 553.5,187.9 556.8,188.1 560.5,187.1 564.3,187.8 568.6,187.5 569.7,187.3 571.8,186.3 572.8,186.1 573.9,186.3 576.2,187.6 577.5,187.9 582.6,187.5 586.0,186.9 589.0,187.5 590.3,187.6 593.3,187.0 596.2,187.0 599.7,186.4 603.5,186.6 606.5,185.6 609.4,185.0 611.1,184.0 613.7,181.7 615.0,179.9 616.3,177.0 617.5,172.5 618.4,168.6 621.4,151.7 621.8,150.3 622.2,149.7 622.6,149.9 623.5,152.9 625.6,165.7 627.3,173.5 628.6,177.1 629.5,178.6 630.3,179.7 632.0,180.9 633.7,181.7 635.0,181.7 635.8,181.1 636.7,180.0 637.5,178.3 640.5,169.9 640.9,169.1 641.4,168.7 641.8,168.9 642.6,170.3 644.8,176.7 646.1,180.0 647.3,182.4 648.2,183.5 649.0,184.3 649.9,184.7 652.0,185.3 655.0,186.6 661.0,188.3 662.2,188.2 665.2,187.6 668.2,188.0 673.7,187.9 677.6,187.0 678.4,187.1 681.8,188.1 684.4,188.0 687.3,188.2 690.3,187.9 693.3,188.5 694.6,188.6 698.8,186.6 700.1,185.8 701.4,184.1 703.1,180.3 703.5,179.5 703.9,179.2 704.4,179.5 704.8,180.2 706.5,184.3 707.8,185.8 708.6,186.2 711.2,186.7 713.7,187.7 719.7,188.8 723.1,188.0 724.8,188.1 726.5,188.4 728.2,188.3 733.3,187.3 738.0,184.6 738.9,183.5 740.6,180.2 741.0,179.9 741.4,180.1 741.8,180.7 743.5,184.2 745.2,186.4 746.5,187.1 749.5,187.8 751.6,188.7 752.9,188.9 757.2,188.1 762.3,187.8 765.7,188.3 769.1,187.5 770.8,187.7 772.5,188.2 777.6,188.9 779.3,188.9 781.0,188.5 782.7,188.3 786.1,188.9 791.2,188.2 794.6,187.5 796.3,187.7 798.0,188.3 799.7,188.4 801.4,188.1 808.2,188.5 809.9,189.0 811.7,189.3 815.1,188.3 818.5,188.3 821.9,187.6 823.6,187.5 825.3,187.1 827.0,186.2 828.7,185.9 832.1,186.2 835.5,185.9" fill="none" stroke="#6a8a4e" stroke-width="1.05" stroke-linejoin="round" />
<polyline points="537.5,199.1 541.9,198.9 545.3,199.2 548.3,198.2 549.4,198.0 552.2,198.5 555.1,198.7 557.9,199.2 562.0,198.7 565.6,199.5 571.0,199.1 574.8,198.1 578.4,198.7 581.8,198.1 586.9,198.2 591.1,199.2 595.0,198.4 597.9,198.4 600.5,198.0 603.1,198.0 604.3,197.6 607.3,196.0 610.7,195.2 612.0,194.5 614.1,192.6 615.8,190.2 617.1,187.1 618.0,184.1 620.9,169.2 621.8,166.8 622.2,166.7 622.6,167.4 623.1,168.7 625.2,179.4 626.5,184.6 628.2,189.0 629.0,190.5 629.9,191.5 631.2,192.2 632.9,192.4 635.0,192.2 636.3,191.4 637.1,190.3 638.0,188.5 640.5,181.7 640.9,181.2 641.4,181.2 642.2,182.3 644.4,188.3 645.6,191.2 647.3,194.1 648.6,195.7 649.5,196.4 650.3,196.9 653.7,197.3 656.7,198.2 662.2,198.6 663.5,198.3 665.6,197.6 666.5,197.5 669.9,198.3 672.9,198.3 675.0,198.6 678.8,198.3 681.8,199.3 683.1,199.5 686.1,199.0 688.6,198.8 691.6,198.2 695.4,198.4 697.1,197.8 700.5,195.6 701.4,194.8 703.1,192.3 703.5,192.0 703.9,192.0 704.4,192.4 706.5,196.0 707.4,197.1 708.2,197.9 709.5,198.3 712.0,198.3 715.9,199.1 721.4,199.0 724.8,197.9 728.2,198.4 734.2,197.9 735.5,197.5 737.2,196.4 740.1,193.4 740.6,193.2 741.0,193.3 741.4,193.7 743.5,196.5 745.7,197.8 747.4,198.3 750.8,198.3 753.8,198.9 755.0,198.8 757.2,198.1 758.9,198.1 764.0,198.7 765.7,199.2 767.4,199.4 770.8,198.8 774.2,199.5 779.3,199.3 782.7,198.3 784.4,198.3 786.1,198.7 787.8,198.9 791.2,198.6 796.3,198.6 799.7,199.8 801.4,199.7 803.1,199.2 806.5,199.2 808.2,199.0 809.9,199.0 811.7,199.2 813.4,199.1 815.1,198.5 816.8,198.1 818.5,198.4 821.9,198.1 825.3,198.2 828.7,197.1 830.4,197.0 832.1,197.3 833.8,197.2 835.5,196.7" fill="none" stroke="#5c9c8e" stroke-width="1.05" stroke-linejoin="round" />
<polyline points="537.5,203.0 541.2,203.2 544.6,204.0 548.4,203.4 551.3,204.1 552.6,204.2 557.3,204.1 561.2,202.9 565.0,203.5 567.7,203.1 570.7,203.2 573.5,202.9 574.8,203.2 577.1,204.1 577.9,204.2 580.9,203.7 583.9,203.7 586.5,203.3 590.3,203.6 593.3,202.5 594.5,202.3 597.1,202.4 600.1,202.3 603.1,202.6 606.9,201.4 610.3,201.2 612.0,200.2 613.7,198.6 615.0,197.0 616.3,194.5 618.0,188.9 620.9,174.8 621.4,173.6 621.8,173.1 622.2,173.2 623.1,175.5 625.2,185.3 626.9,191.0 628.6,194.6 629.5,195.7 630.3,196.5 631.6,197.1 634.1,197.8 635.0,197.8 635.8,197.4 637.1,195.8 640.1,188.6 640.5,188.0 640.9,187.7 641.4,187.9 642.2,189.3 643.9,193.8 645.2,196.5 646.9,199.1 648.2,200.4 649.0,201.0 649.9,201.2 652.9,201.2 655.8,202.0 658.8,202.4 661.4,203.0 665.6,202.8 668.6,203.8 669.9,204.0 675.0,203.7 678.4,203.0 681.8,203.5 685.6,202.8 690.8,202.7 694.2,203.6 695.0,203.6 696.3,203.3 700.1,201.4 701.4,200.0 702.7,198.0 703.1,197.5 703.5,197.4 704.4,198.1 706.5,201.4 707.4,202.1 708.2,202.5 711.6,202.2 714.6,202.9 717.6,203.0 719.7,203.3 721.4,203.3 723.1,203.0 724.8,203.1 726.5,203.7 728.2,204.1 732.9,203.4 734.6,202.8 737.2,201.0 739.7,197.9 740.6,197.4 741.4,198.0 743.5,200.4 745.7,201.7 747.4,202.3 749.9,202.7 752.5,203.7 753.8,203.9 757.2,203.4 760.6,204.0 765.7,204.2 767.4,203.8 769.1,203.1 770.8,202.9 774.2,203.5 775.9,203.3 779.3,203.5 782.7,203.2 786.1,204.3 787.8,204.3 789.5,204.1 792.9,204.0 794.6,203.6 796.3,203.6 798.0,203.9 799.7,204.0 803.1,202.9 808.2,203.2 811.7,204.0 813.4,203.9 815.1,203.5 816.8,203.6 818.5,204.1 820.2,204.0 825.3,203.0 828.7,201.4 832.1,201.4 835.5,200.5" fill="none" stroke="#64a496" stroke-width="1.05" stroke-linejoin="round" />
<polyline points="537.5,208.2 538.6,208.2 539.9,207.9 541.6,207.2 542.4,206.5 542.9,205.2 543.7,198.5 544.5,204.6 544.9,205.7 545.4,205.7 545.8,204.8 546.0,203.3 546.6,195.4 547.1,202.5 547.7,205.9 548.3,206.8 548.8,207.0 549.4,206.6 550.1,205.6 550.4,205.8 551.3,207.7 552.2,208.4 555.1,208.2 558.2,208.4 559.5,208.2 560.5,207.8 560.9,207.4 561.3,206.2 562.0,200.5 562.9,207.0 563.3,207.8 564.1,208.3 565.0,208.2 568.0,207.3 571.6,207.8 575.8,207.7 576.2,207.4 577.1,205.3 577.9,207.4 578.4,207.7 580.9,207.8 583.5,208.6 585.2,208.7 586.0,208.4 586.9,207.7 587.7,205.4 588.6,207.5 589.4,208.0 590.3,208.0 592.8,207.2 593.7,206.5 594.5,203.4 595.4,206.7 596.2,207.4 597.1,207.5 597.9,207.0 598.4,206.4 599.2,202.1 599.7,204.5 600.1,205.8 600.5,206.2 603.1,206.6 606.0,206.2 608.6,206.4 609.9,206.2 611.6,205.0 612.8,203.5 613.3,202.7 614.1,199.5 615.0,200.7 615.4,200.5 616.3,199.2 617.1,197.1 618.0,194.3 620.5,182.9 621.4,180.6 621.8,180.3 622.2,180.7 622.6,181.7 625.2,191.7 626.5,195.6 628.6,200.1 629.5,201.3 630.3,202.0 631.6,202.6 632.9,202.8 634.1,202.7 635.4,202.1 636.3,201.2 637.1,199.9 639.7,194.4 640.5,193.4 640.9,193.5 641.8,194.7 643.5,199.1 644.8,201.7 646.5,203.9 648.2,205.3 649.0,205.7 650.3,206.0 652.4,206.1 653.3,205.9 653.7,205.3 654.6,201.2 655.4,205.8 655.8,206.6 656.3,206.9 657.1,207.0 659.7,206.5 660.1,206.3 661.0,205.0 661.8,206.6 662.2,206.9 665.2,207.5 668.2,208.4 669.5,208.4 672.0,207.9 675.9,208.6 680.1,208.4 681.0,208.1 681.4,207.7 682.2,206.2 683.1,207.2 683.5,207.3 685.6,207.2 688.2,207.8 695.0,207.5 700.1,206.0 701.0,205.3 702.7,202.8 703.1,202.5 703.5,202.4 703.9,202.8 706.5,206.1 708.2,207.1 711.2,207.5 713.7,208.2 715.0,208.1 717.1,207.4 718.4,207.3 723.1,207.7 726.5,208.4 728.2,208.3 730.8,207.7 733.7,208.0 735.0,207.7 736.3,206.9 737.2,206.1 739.7,202.5 740.1,202.2 740.6,202.2 743.5,205.2 745.7,206.8 746.9,207.4 748.2,207.6 750.4,207.5 753.3,207.8 755.5,207.7 757.2,208.0 758.9,208.7 760.6,209.1 764.0,208.5 767.4,208.5 769.1,208.3 772.5,208.7 774.2,208.3 775.9,207.7 777.6,207.5 786.1,208.6 789.5,208.1 792.9,209.1 798.0,208.8 801.4,207.9 803.1,207.9 804.8,208.3 806.5,208.4 809.9,207.8 815.1,208.0 818.5,209.1 820.2,208.7 821.9,208.0 825.3,207.6 828.7,206.9 830.4,206.8 832.1,206.4 835.5,204.7" fill="none" stroke="#5a988a" stroke-width="1.05" stroke-linejoin="round" />
<polyline points="537.5,212.8 540.7,212.3 541.6,212.0 542.4,211.2 542.9,209.9 543.7,203.2 544.5,209.4 544.9,210.6 545.4,210.7 545.8,209.9 546.0,208.4 546.6,200.6 547.1,207.7 547.7,210.9 548.3,211.4 548.7,211.3 549.2,210.8 550.1,209.2 550.4,209.3 551.3,211.1 551.8,211.8 552.8,212.5 553.9,212.9 558.6,213.5 559.6,213.4 560.5,212.9 560.9,212.4 561.3,211.0 562.0,205.0 562.6,210.2 563.0,211.6 563.9,212.4 566.0,213.2 567.1,213.2 572.4,212.6 575.4,211.7 576.2,211.2 577.1,209.2 577.9,211.7 578.4,212.2 579.2,212.7 580.5,212.9 582.6,212.7 586.0,212.7 586.9,212.0 587.7,209.8 588.6,212.0 589.0,212.4 591.1,213.2 592.4,213.3 593.3,212.9 593.7,212.3 594.5,208.7 595.4,211.6 596.2,211.9 597.9,211.6 598.4,211.1 598.8,209.5 599.2,207.0 599.7,209.4 600.1,210.9 600.5,211.3 604.3,211.6 605.6,211.4 608.6,210.0 612.0,209.1 612.8,208.4 613.3,207.7 614.1,204.6 615.0,205.8 615.8,205.0 617.1,202.3 618.0,199.6 620.5,188.6 621.4,186.6 621.8,186.6 622.6,188.5 624.8,197.7 626.0,201.8 627.3,204.4 629.0,206.4 630.7,207.5 632.0,207.6 633.7,207.2 635.8,206.1 636.7,205.4 637.5,204.3 640.1,199.3 640.5,199.0 640.9,199.0 641.8,200.0 643.9,205.1 645.6,208.0 646.9,209.3 649.0,211.0 650.3,211.8 651.2,212.0 652.4,211.8 653.3,211.1 653.7,210.3 654.6,205.8 655.4,210.2 655.8,211.0 657.1,211.8 658.4,212.0 659.7,211.8 660.1,211.5 661.0,210.1 661.8,211.7 663.1,212.3 664.4,212.4 666.5,211.8 667.8,211.8 671.2,212.8 676.3,213.3 677.6,213.2 681.0,212.4 681.4,212.2 682.2,211.1 683.1,212.6 683.5,213.0 684.4,213.2 692.9,211.8 695.9,212.1 697.1,212.0 698.0,211.6 699.3,210.6 702.2,206.8 702.7,206.5 703.1,206.5 703.5,206.9 705.7,210.1 706.9,211.5 708.6,212.7 709.9,213.1 713.3,212.4 716.7,212.8 719.7,212.6 721.4,212.7 723.1,212.6 724.8,212.0 726.5,211.9 729.9,212.8 734.2,212.3 735.5,211.9 736.3,211.3 737.6,209.7 738.9,207.6 739.7,206.7 740.1,206.8 740.6,207.2 742.7,210.7 743.5,211.5 744.4,211.8 748.6,212.2 752.1,212.1 755.5,213.0 758.9,212.4 767.4,213.8 769.1,213.7 770.8,213.1 772.5,212.9 775.9,213.2 781.0,212.9 784.4,212.1 786.1,212.4 787.8,213.1 789.5,213.3 791.2,213.1 794.6,213.4 798.0,213.2 799.7,213.7 801.4,213.9 804.8,212.9 809.9,212.5 813.4,213.1 815.1,213.0 816.8,212.5 821.9,212.7 827.0,212.5 830.4,211.0 833.8,210.9 835.5,210.5" fill="none" stroke="#5c9c8e" stroke-width="1.05" stroke-linejoin="round" />
<polyline points="537.5,218.1 538.9,218.3 540.2,218.1 541.5,217.3 542.4,216.4 542.9,214.9 543.7,208.1 544.5,214.1 544.9,215.2 545.4,215.2 545.8,214.3 546.0,212.7 546.6,204.8 547.1,211.8 547.7,215.1 548.3,215.8 548.8,215.8 549.4,215.3 550.1,214.2 550.4,214.4 551.4,216.4 551.8,216.9 552.7,217.3 555.6,217.0 559.0,217.6 560.5,217.3 560.9,216.9 561.3,215.7 562.0,210.0 562.9,216.6 563.5,217.7 564.7,218.3 565.9,218.2 568.6,217.4 572.2,217.8 575.4,217.1 576.2,216.6 577.1,214.3 577.9,216.5 578.4,216.8 581.3,216.6 584.8,217.5 586.0,217.5 586.9,216.8 587.7,214.5 588.6,216.7 589.0,217.0 590.3,217.4 592.0,217.4 593.3,217.0 593.7,216.5 594.5,213.3 595.4,216.6 596.2,217.4 597.5,217.6 597.9,217.3 598.4,216.8 599.2,212.5 599.7,214.8 600.1,216.1 600.5,216.4 604.3,216.2 607.3,215.4 609.9,215.1 611.6,214.2 612.8,212.7 613.3,211.9 614.1,208.6 615.0,209.8 615.4,209.6 616.3,208.4 617.1,206.7 618.0,204.2 620.5,194.9 620.9,194.1 621.4,193.9 621.8,194.2 622.2,195.1 624.8,204.3 626.0,207.6 628.2,211.0 629.5,212.4 630.3,213.1 631.2,213.4 632.4,213.4 634.1,212.7 635.4,211.9 636.3,211.0 637.1,209.7 639.7,204.5 640.1,204.1 640.5,204.0 641.4,205.0 643.5,210.1 644.4,211.7 646.1,213.6 648.2,215.1 649.9,215.9 651.2,216.2 652.9,216.2 653.3,215.9 653.7,215.3 654.6,211.2 655.4,216.0 655.8,216.9 656.3,217.3 657.1,217.5 658.4,217.2 659.7,216.7 660.1,216.3 661.0,214.8 661.8,216.4 663.1,216.9 666.1,216.9 669.5,217.3 672.9,216.7 674.1,216.9 676.7,217.7 680.1,217.8 681.0,217.7 681.4,217.4 682.2,216.1 683.1,217.3 683.5,217.5 686.1,217.3 688.6,217.9 689.9,217.9 695.4,216.6 696.7,216.1 699.7,214.3 701.8,211.9 702.7,211.4 703.5,211.9 705.7,214.7 707.8,216.4 709.5,217.1 715.0,218.3 716.3,218.1 718.4,217.3 719.7,217.2 721.4,217.4 724.8,217.2 728.2,217.2 731.6,216.3 735.0,216.4 735.9,216.0 736.7,215.3 738.9,212.2 739.3,211.8 739.7,211.7 740.1,211.9 741.8,214.3 743.1,215.5 746.9,217.5 748.2,217.9 751.6,217.3 757.2,216.9 760.6,217.7 762.3,217.7 764.0,217.3 765.7,217.4 772.5,218.5 774.2,218.6 777.6,217.5 781.0,217.8 784.4,217.5 786.1,217.6 789.5,216.9 791.2,217.0 792.9,217.7 794.6,218.1 799.7,218.2 803.1,217.8 806.5,218.5 808.2,218.2 809.9,217.6 815.1,217.2 816.8,217.2 818.5,217.7 820.2,217.5 823.6,216.4 827.0,216.6 832.1,216.4 833.8,215.8 835.5,214.9" fill="none" stroke="#64a496" stroke-width="1.05" stroke-linejoin="round" />
<line x1="572.4" y1="76" x2="572.4" y2="244" stroke="#b8963a" stroke-width="1" stroke-dasharray="3,2"/>
<line x1="601.4" y1="77" x2="601.4" y2="244" stroke="#b8963a" stroke-width="1" stroke-dasharray="3,2"/>
<line x1="664.8" y1="77" x2="664.8" y2="244" stroke="#b8963a" stroke-width="1" stroke-dasharray="3,2"/>
<line x1="634.8" y1="62" x2="634.8" y2="244" stroke="#983a5a" stroke-width="1.7" stroke-dasharray="2.8,1.6"/>
<line x1="621.3" y1="210" x2="626.4" y2="37.6" stroke="#b8963a" stroke-width="1.3"/>
<path d="M623.4,43.1 L626.4,32.6 L629.4,43.1 L626.4,40.1 Z" fill="#c89a38"/>
<line x1="641.4" y1="210" x2="645.1" y2="61.3" stroke="#b8963a" stroke-width="1.3"/>
<path d="M642.1,66.8 L645.1,56.3 L648.1,66.8 L645.1,63.8 Z" fill="#c89a38"/>
<line x1="703" y1="210" x2="709.3" y2="68.8" stroke="#b8963a" stroke-width="1.3"/>
<path d="M706.3,74.3 L709.3,63.8 L712.3,74.3 L709.3,71.3 Z" fill="#c89a38"/>
<line x1="740" y1="210" x2="746.4" y2="68" stroke="#b8963a" stroke-width="1.3"/>
<path d="M743.4,73.5 L746.4,63 L749.4,73.5 L746.4,70.5 Z" fill="#c89a38"/>
<text x="576.3" y="60.5" font-size="11" fill="#222" stroke="#222" stroke-width="0.3" text-anchor="middle" textLength="26" lengthAdjust="spacingAndGlyphs" transform="rotate(-90 576.3 60.5)" >(001)</text>
<text x="605.8" y="63.0" font-size="11" fill="#222" stroke="#222" stroke-width="0.3" text-anchor="middle" textLength="26" lengthAdjust="spacingAndGlyphs" transform="rotate(-90 605.8 63.0)" >(110)</text>
<text x="639.3" y="48.0" font-size="11" fill="#222" stroke="#222" stroke-width="0.3" text-anchor="middle" textLength="26" lengthAdjust="spacingAndGlyphs" transform="rotate(-90 639.3 48.0)" >(111)</text>
<text x="659.1" y="49.0" font-size="11" fill="#222" stroke="#222" stroke-width="0.3" text-anchor="middle" textLength="26" lengthAdjust="spacingAndGlyphs" transform="rotate(-90 659.1 49.0)" >(200)</text>
<text x="671.2" y="64.0" font-size="11" fill="#222" stroke="#222" stroke-width="0.3" text-anchor="middle" textLength="26" lengthAdjust="spacingAndGlyphs" transform="rotate(-90 671.2 64.0)" >(201)</text>
<text x="716.6" y="47.5" font-size="11" fill="#222" stroke="#222" stroke-width="0.3" text-anchor="middle" textLength="26" lengthAdjust="spacingAndGlyphs" transform="rotate(-90 716.6 47.5)" >(220)</text>
<text x="753.6" y="47.5" font-size="11" fill="#222" stroke="#222" stroke-width="0.3" text-anchor="middle" textLength="26" lengthAdjust="spacingAndGlyphs" transform="rotate(-90 753.6 47.5)" >(311)</text>
<text x="767.0" y="80.0" font-size="11" fill="#111" stroke="#111" stroke-width="0.3" text-anchor="start" textLength="37.5" lengthAdjust="spacingAndGlyphs" >Stage III</text>
<text x="768.6" y="157.0" font-size="11" fill="#111" stroke="#111" stroke-width="0.3" text-anchor="start" textLength="34.5" lengthAdjust="spacingAndGlyphs" >Stage II</text>
<text x="769.5" y="200.3" font-size="11" fill="#111" stroke="#111" stroke-width="0.3" text-anchor="start" textLength="31.5" lengthAdjust="spacingAndGlyphs" >Stage I</text>
<rect x="620.2" y="222.9" width="1.8" height="21.4" fill="#3f4f8f"/>
<rect x="626.0" y="222.9" width="1.8" height="21.4" fill="#b89a48"/>
<rect x="640.1" y="232.9" width="1.8" height="11.4" fill="#3f4f8f"/>
<rect x="645.1" y="237.9" width="1.8" height="6.4" fill="#b89a48"/>
<rect x="649.8" y="240.7" width="1.8" height="3.6" fill="#b89a48"/>
<rect x="683.1" y="241.5" width="1.8" height="2.8" fill="#999"/>
<rect x="700.1" y="237" width="1.8" height="7.3" fill="#3f4f8f"/>
<rect x="707.7" y="241" width="1.8" height="3.3" fill="#b89a48"/>
<rect x="711.1" y="241" width="1.8" height="3.3" fill="#b89a48"/>
<rect x="540.2" y="243" width="1.8" height="1.3" fill="#b89a48"/>
<rect x="739.6" y="237" width="1.8" height="7.3" fill="#3f4f8f"/>
<rect x="744.1" y="242" width="1.8" height="2.3" fill="#b89a48"/>
<rect x="809.6" y="236.5" width="1.8" height="7.8" fill="#3f4f8f"/>
<rect x="818.1" y="237.5" width="1.8" height="6.8" fill="#3f4f8f"/>
<rect x="825.1" y="241" width="1.8" height="3.3" fill="#b89a48"/>
<rect x="832.1" y="242" width="1.8" height="2.3" fill="#b89a48"/>
<rect x="775.1" y="242" width="1.8" height="2.3" fill="#555"/>
<rect x="687.1" y="243" width="1.8" height="1.3" fill="#b89a48"/>
<rect x="754.5" y="228" width="3.2" height="3.2" fill="#3f4f8f"/>
<text x="763.8" y="233.6" font-size="11" fill="#111" stroke="#111" stroke-width="0.3" text-anchor="start" textLength="8.6" lengthAdjust="spacingAndGlyphs" >Pt</text>
<rect x="784" y="228" width="3.2" height="3.2" fill="#b89a48"/>
<text x="794.0" y="233.6" font-size="11" fill="#111" stroke="#111" stroke-width="0.3" text-anchor="start" textLength="39" lengthAdjust="spacingAndGlyphs" >L1<tspan font-size="7" dy="2">0</tspan><tspan dy="-2">-PtCo</tspan></text>
<rect x="542.7" y="249.3" width="3.2" height="29.2" fill="#8a6e7a"/>
<rect x="552.1" y="259.7" width="1.6" height="18.8" fill="#6a6a6a"/>
<rect x="561.1" y="261.7" width="1.6" height="16.8" fill="#8a6e7a"/>
<rect x="576.1" y="272" width="1.6" height="6.5" fill="#6a6a6a"/>
<rect x="590.2" y="267" width="1.6" height="11.5" fill="#6a6a6a"/>
<rect x="595.2" y="270" width="1.6" height="8.5" fill="#8a6e7a"/>
<rect x="600.2" y="265" width="1.6" height="13.5" fill="#6a6a6a"/>
<rect x="603.2" y="275" width="1.6" height="3.5" fill="#c08090"/>
<rect x="610.2" y="269" width="1.6" height="9.5" fill="#6a6a6a"/>
<rect x="615.2" y="270" width="1.6" height="8.5" fill="#8a6e7a"/>
<rect x="619.9" y="274" width="1.6" height="4.5" fill="#8a6e7a"/>
<rect x="624.2" y="271" width="1.6" height="7.5" fill="#6a6a6a"/>
<rect x="629.2" y="272" width="1.6" height="6.5" fill="#8a7e9a"/>
<rect x="644.9" y="273.6" width="1.6" height="4.9" fill="#6a6a6a"/>
<rect x="655.7" y="265.5" width="1.6" height="13.0" fill="#c06060"/>
<rect x="658.8" y="272" width="1.4" height="6.5" fill="#c08090"/>
<rect x="666.3" y="273" width="1.4" height="5.5" fill="#8a6e7a"/>
<rect x="671.3" y="272" width="1.4" height="6.5" fill="#8a6e7a"/>
<rect x="682.4" y="274" width="1.2" height="4.5" fill="#888"/>
<rect x="689.4" y="275" width="1.2" height="3.5" fill="#888"/>
<rect x="704.4" y="275" width="1.2" height="3.5" fill="#888"/>
<rect x="728.2" y="266" width="1.6" height="12.5" fill="#c07060"/>
<rect x="762.6" y="264" width="1.8" height="14.5" fill="#b04030"/>
<rect x="774.2" y="271" width="1.6" height="7.5" fill="#8a5050"/>
<rect x="711.4" y="276" width="1.2" height="2.5" fill="#888"/>
<rect x="739.4" y="276" width="1.2" height="2.5" fill="#999"/>
<rect x="799.4" y="276" width="1.2" height="2.5" fill="#999"/>
<rect x="633.8" y="249" width="2.2" height="29.5" fill="#b04030"/>
<rect x="671.5" y="257.5" width="3.2" height="3.2" fill="#a84040"/>
<text x="676.5" y="262.5" font-size="11" fill="#111" stroke="#111" stroke-width="0.3" text-anchor="start" textLength="11" lengthAdjust="spacingAndGlyphs" >Co</text>
<rect x="697.5" y="257.5" width="3.2" height="3.2" fill="#6a6a6a"/>
<text x="705.7" y="262.5" font-size="11" fill="#111" stroke="#111" stroke-width="0.3" text-anchor="start" textLength="60" lengthAdjust="spacingAndGlyphs" >H<tspan font-size="7" dy="2">2</tspan><tspan dy="-2">PtCl</tspan><tspan font-size="7" dy="2">6</tspan><tspan dy="-2">·6H</tspan><tspan font-size="7" dy="2">2</tspan><tspan dy="-2">O</tspan></text>
<rect x="774.5" y="257.5" width="3.2" height="3.2" fill="#8a6e7a"/>
<text x="782.9" y="262.5" font-size="11" fill="#111" stroke="#111" stroke-width="0.3" text-anchor="start" textLength="50.5" lengthAdjust="spacingAndGlyphs" >CoCl<tspan font-size="7" dy="2">2</tspan><tspan dy="-2">·2H</tspan><tspan font-size="7" dy="2">2</tspan><tspan dy="-2">O</tspan></text>
<rect x="537.5" y="29.5" width="298.0" height="249.0" fill="none" stroke="#2a2a2a" stroke-width="1.3"/>
<line x1="537.5" y1="244.5" x2="835.5" y2="244.5" stroke="#2a2a2a" stroke-width="1.3"/>
<line x1="537.5" y1="278.5" x2="537.5" y2="282.5" stroke="#333" stroke-width="1"/>
<line x1="558.8" y1="278.5" x2="558.8" y2="282.5" stroke="#333" stroke-width="1"/>
<line x1="580.1" y1="278.5" x2="580.1" y2="282.5" stroke="#333" stroke-width="1"/>
<line x1="601.4" y1="278.5" x2="601.4" y2="282.5" stroke="#333" stroke-width="1"/>
<line x1="622.6" y1="278.5" x2="622.6" y2="282.5" stroke="#333" stroke-width="1"/>
<line x1="643.9" y1="278.5" x2="643.9" y2="282.5" stroke="#333" stroke-width="1"/>
<line x1="665.2" y1="278.5" x2="665.2" y2="282.5" stroke="#333" stroke-width="1"/>
<line x1="686.5" y1="278.5" x2="686.5" y2="282.5" stroke="#333" stroke-width="1"/>
<line x1="707.8" y1="278.5" x2="707.8" y2="282.5" stroke="#333" stroke-width="1"/>
<line x1="729.1" y1="278.5" x2="729.1" y2="282.5" stroke="#333" stroke-width="1"/>
<line x1="750.4" y1="278.5" x2="750.4" y2="282.5" stroke="#333" stroke-width="1"/>
<line x1="771.6" y1="278.5" x2="771.6" y2="282.5" stroke="#333" stroke-width="1"/>
<line x1="792.9" y1="278.5" x2="792.9" y2="282.5" stroke="#333" stroke-width="1"/>
<line x1="814.2" y1="278.5" x2="814.2" y2="282.5" stroke="#333" stroke-width="1"/>
<line x1="835.5" y1="278.5" x2="835.5" y2="282.5" stroke="#333" stroke-width="1"/>
<text x="537.5" y="297.0" font-size="12" fill="#111" stroke="#111" stroke-width="0.3" text-anchor="middle" >1</text>
<text x="580.1" y="297.0" font-size="12" fill="#111" stroke="#111" stroke-width="0.3" text-anchor="middle" >2</text>
<text x="622.6" y="297.0" font-size="12" fill="#111" stroke="#111" stroke-width="0.3" text-anchor="middle" >3</text>
<text x="665.2" y="297.0" font-size="12" fill="#111" stroke="#111" stroke-width="0.3" text-anchor="middle" >4</text>
<text x="707.8" y="297.0" font-size="12" fill="#111" stroke="#111" stroke-width="0.3" text-anchor="middle" >5</text>
<text x="750.4" y="297.0" font-size="12" fill="#111" stroke="#111" stroke-width="0.3" text-anchor="middle" >6</text>
<text x="792.9" y="297.0" font-size="12" fill="#111" stroke="#111" stroke-width="0.3" text-anchor="middle" >7</text>
<text x="835.5" y="297.0" font-size="12" fill="#111" stroke="#111" stroke-width="0.3" text-anchor="middle" >8</text>
<text x="686.7" y="312.4" font-size="11.5" fill="#111" stroke="#111" stroke-width="0.3" text-anchor="middle" textLength="57.7" lengthAdjust="spacingAndGlyphs" >2-Theta (°)</text>
<text x="517.2" y="32.8" font-size="10.5" fill="#111" stroke="#111" stroke-width="0.3" text-anchor="start" font-weight="bold" >D</text>
<polyline points="45.0,362.9 46.6,371.4 48.0,361.2 49.1,370.1 50.5,362.2 51.5,364.6 52.7,375.6 54.2,369.5 55.3,378.0 56.7,363.3 58.1,370.1 59.5,367.9 60.6,369.2 61.6,370.5 62.9,359.6 64.3,373.9 65.7,359.8 67.0,370.9 68.2,378.0 69.8,364.3 71.3,368.1 72.5,370.8 73.6,367.5 75.2,364.0 76.4,377.3 77.4,362.6 78.6,373.9 80.3,363.4 81.5,374.9 83.1,368.2 84.3,371.2 85.9,368.9 87.5,370.0 88.5,369.4 89.6,368.3 91.0,365.4 92.3,371.4 93.4,373.2 94.8,369.5 96.0,370.4 97.2,374.6 98.4,364.3 100.0,370.3 101.6,371.3 103.1,377.1 104.2,372.3 105.4,367.0 106.6,364.6 107.6,373.9 108.8,368.9 110.2,364.5 111.9,372.6 113.2,359.0 114.4,367.3 115.5,374.7 116.7,361.4 117.8,369.6 118.9,359.0 120.6,375.4 121.9,361.6 123.0,378.0 124.1,367.1 125.6,368.0 127.0,375.8 128.2,368.3 129.3,373.9 130.4,359.0 131.9,368.2 133.1,370.4 134.1,365.7 135.3,367.4 136.4,368.7 137.7,365.7 138.9,367.8 140.5,374.2 142.0,365.1 143.4,369.7 144.4,368.3 146.1,364.6 147.1,359.0 148.5,364.4 149.8,370.0 151.5,372.0 153.0,369.0 154.6,367.1 156.2,361.8 157.8,366.4 159.4,373.7 161.0,359.6 162.6,374.6 164.0,362.8 165.5,366.9 166.9,373.6 168.6,368.9 170.2,367.1 171.7,364.2 173.1,361.9 174.2,373.1 175.7,371.8 177.0,367.7 178.2,366.5 179.6,363.8 181.3,369.4 182.5,368.1 184.0,368.7 185.6,370.2 187.0,359.0 188.3,374.3 189.7,367.2 191.3,372.5 192.9,369.4 194.4,364.7 195.6,372.4 197.2,370.2 198.8,364.8 200.0,359.2 201.1,367.9 202.2,369.1 203.5,364.2 204.7,365.9 206.3,373.3 207.4,365.6 208.4,369.7 209.9,366.5 211.3,365.8 212.3,375.7 213.4,364.4 215.0,369.5 216.1,368.3 217.6,368.9 218.9,363.5 220.5,365.1 222.1,367.9 223.5,365.5 224.6,373.6 226.1,366.4 227.2,368.0 228.7,371.8 230.1,361.4 231.3,365.7" fill="none" stroke="#4a8a2c" stroke-width="1.1" stroke-linejoin="round" />
<polyline points="44.9,421.3 46.5,419.9 48.1,420.0 49.8,418.8 51.4,417.7 52.9,418.1 54.4,418.6 55.9,419.2 57.4,418.9 58.9,419.5 60.4,420.1 61.9,420.1 63.5,420.5 65.1,420.6 66.6,421.6 68.2,421.7 69.8,422.6 71.4,422.2 72.9,420.7 74.5,419.2 76.0,417.3 77.6,417.6 79.1,417.7 80.6,417.9 82.1,417.5 83.6,418.1 85.1,417.7 86.6,418.5 88.1,418.5 89.6,418.1 91.1,418.2 92.6,419.4 94.1,420.2 95.6,421.2 97.1,421.3 98.6,420.9 100.2,421.5 101.7,419.6 103.3,419.3 104.8,417.6 106.4,417.4 108.0,416.9 109.6,413.5 111.1,410.3 112.7,408.1 114.3,407.4 115.8,406.5 117.4,403.4 118.9,399.8 120.4,395.3 122.0,393.0 123.5,390.9 125.2,388.5 127.0,383.6 128.7,380.7 131.3,378.1 133.2,379.6 135.2,381.0 137.0,384.0 138.7,388.9 140.5,391.2 142.2,394.2 144.0,400.7 145.7,403.7 147.2,403.3 148.7,405.4 150.2,407.3 151.7,408.9 153.2,410.8 154.7,411.6 156.2,412.4 157.8,413.2 159.4,415.4 161.1,416.7 162.7,418.7 164.3,417.9 166.0,417.1 167.7,416.9 169.3,416.4 170.9,416.2 172.4,416.1 174.0,414.9 175.5,415.2 177.1,414.9 178.6,415.7 180.1,416.2 181.6,416.2 183.1,417.4 184.6,417.7 186.1,418.6 187.6,419.3 189.2,419.4 190.7,418.9 192.3,418.8 193.9,418.8 195.4,419.4 197.0,419.9 198.6,419.1 200.2,420.0 201.7,419.1 203.3,419.3 204.8,419.3 206.4,419.8 207.9,419.3 209.4,419.1 211.0,419.3 212.5,418.4 214.0,419.0 215.6,418.0 217.1,418.3 218.6,417.9 220.2,417.8 221.7,418.1 223.3,418.1 225.0,418.4 226.6,418.8 228.3,419.3 229.9,419.2 231.6,419.3" fill="none" stroke="#6e5460" stroke-width="0.9" stroke-linejoin="round" />
<polyline points="30.0,449.2 31.6,449.2 33.1,448.9 34.7,449.3 36.3,448.9 37.9,449.1 39.4,448.2 41.0,448.8 42.7,449.1 44.5,449.7 46.2,449.5 47.9,450.2 49.7,451.5 51.4,450.7 53.1,452.0 54.8,452.5 56.5,452.3 58.1,453.5 59.8,455.1 61.5,455.0 63.2,455.0 64.7,455.8 66.3,454.6 67.8,454.3 69.3,452.5 70.9,452.3 72.4,452.5 74.0,451.6 75.7,452.2 77.3,453.3 79.0,454.1 80.6,454.7 82.2,453.9 83.9,454.7 85.5,455.2 87.0,454.3 88.5,453.2 90.0,450.6 91.5,448.3 93.0,446.4 94.5,444.9 96.0,445.2 97.6,445.4 99.1,446.4 100.7,446.8 102.2,447.7 103.8,448.1 105.5,446.8 107.1,441.6 108.8,436.1 110.4,432.7 112.0,431.4 113.7,429.4 115.3,425.5 116.9,424.6 118.6,424.8 120.4,426.7 122.1,427.6 123.7,428.0 125.3,429.7 126.8,430.6 128.4,433.0 130.0,433.8 131.5,433.4 133.0,435.2 134.5,437.7 136.0,439.6 137.5,441.4 139.0,442.8 140.5,443.8 142.0,443.3 143.5,444.8 145.0,445.2 146.5,445.7 148.0,446.4 149.5,446.5 151.0,446.3 152.6,446.9 154.1,447.8 155.7,449.7 157.2,450.4 158.8,450.1 160.3,450.7 161.8,449.7 163.3,448.7 164.8,447.6 166.3,446.0 167.8,445.9 169.3,445.6 170.9,446.1 172.4,448.2 174.0,450.6 175.5,452.1 177.1,453.3 178.7,452.2 180.4,452.2 182.0,451.7 183.6,450.3 185.3,450.0 186.9,449.8 188.6,449.3 190.2,448.6 191.8,449.7 193.5,449.4 195.1,449.2 196.8,449.9 198.4,450.1 200.0,450.2 201.7,450.2 203.3,451.1 204.9,450.6 206.4,450.5 208.0,450.5 209.6,450.6 211.2,449.0 212.7,449.6 214.3,449.6 215.9,448.8 217.4,448.9 219.0,448.4 220.7,447.5 222.3,445.2 223.9,442.2 225.6,441.4 227.2,443.5 228.9,446.1 230.5,449.1 232.2,451.1" fill="none" stroke="#5f90b0" stroke-width="0.9" stroke-linejoin="round" />
<polyline points="44.9,468.0 47.1,469.0 49.5,475.7 51.9,474.9 53.6,474.6 55.6,472.5 57.4,469.4 59.1,472.7 61.6,465.0 63.8,474.2 65.8,472.3 67.9,476.6 69.8,472.9 71.4,470.9 73.3,474.2 75.6,473.5 77.6,476.5 79.3,470.8 81.8,473.7 84.4,472.7 86.4,468.0 88.2,473.5 90.3,476.9 92.4,471.8 95.0,474.3 96.7,469.9 98.9,471.0 100.6,473.3 102.7,475.0 105.0,475.2 107.0,473.0 109.1,476.4 111.4,468.0 114.0,470.8 116.3,472.9 118.8,474.3 121.2,471.4 123.1,471.1 125.4,469.6 127.6,471.3 129.9,473.6 132.5,474.9 135.0,473.7 136.7,472.6 138.6,469.7 140.3,474.3 142.4,474.1 144.7,473.6 146.8,471.4 148.9,471.0 150.7,470.4 153.2,476.3 154.8,476.8 157.1,476.6 159.4,474.0 161.3,475.8 163.7,470.7 166.3,475.5 168.2,469.1 170.7,471.3 172.8,472.0 175.2,473.8 176.9,476.0 179.0,475.0 181.3,471.8 183.0,477.2 184.8,472.9 186.7,465.0 189.0,472.2 190.8,470.9 192.7,472.4 194.4,465.0 196.7,468.0 199.3,478.3 201.3,477.1 203.3,478.4 205.8,477.2 207.8,477.3 209.8,478.1 211.9,478.2 214.1,475.3 216.5,477.2 218.4,476.5 220.6,473.8 222.7,476.8 225.1,472.6 226.8,468.6 228.5,471.2 230.2,472.4 231.9,468.0" fill="none" stroke="#a08a28" stroke-width="1.0" stroke-linejoin="round" />
<rect x="19.5" y="338.3" width="212.9" height="150.5" fill="none" stroke="#222" stroke-width="1.2"/>
<line x1="19.5" y1="488.8" x2="19.5" y2="485.8" stroke="#222" stroke-width="1"/>
<line x1="46.1" y1="488.8" x2="46.1" y2="485.8" stroke="#222" stroke-width="1"/>
<line x1="72.7" y1="488.8" x2="72.7" y2="485.8" stroke="#222" stroke-width="1"/>
<line x1="99.3" y1="488.8" x2="99.3" y2="485.8" stroke="#222" stroke-width="1"/>
<line x1="125.9" y1="488.8" x2="125.9" y2="485.8" stroke="#222" stroke-width="1"/>
<line x1="152.6" y1="488.8" x2="152.6" y2="485.8" stroke="#222" stroke-width="1"/>
<line x1="179.2" y1="488.8" x2="179.2" y2="485.8" stroke="#222" stroke-width="1"/>
<line x1="205.8" y1="488.8" x2="205.8" y2="485.8" stroke="#222" stroke-width="1"/>
<line x1="232.4" y1="488.8" x2="232.4" y2="485.8" stroke="#222" stroke-width="1"/>
<text x="19.5" y="502.0" font-size="12.5" fill="#111" stroke="#111" stroke-width="0.3" text-anchor="middle" textLength="19.5" lengthAdjust="spacingAndGlyphs" >390</text>
<text x="72.7" y="502.0" font-size="12.5" fill="#111" stroke="#111" stroke-width="0.3" text-anchor="middle" textLength="19.5" lengthAdjust="spacingAndGlyphs" >395</text>
<text x="125.9" y="502.0" font-size="12.5" fill="#111" stroke="#111" stroke-width="0.3" text-anchor="middle" textLength="19.5" lengthAdjust="spacingAndGlyphs" >400</text>
<text x="179.2" y="502.0" font-size="12.5" fill="#111" stroke="#111" stroke-width="0.3" text-anchor="middle" textLength="19.5" lengthAdjust="spacingAndGlyphs" >405</text>
<text x="232.4" y="502.0" font-size="12.5" fill="#111" stroke="#111" stroke-width="0.3" text-anchor="middle" textLength="19.5" lengthAdjust="spacingAndGlyphs" >410</text>
<text x="126.5" y="517.5" font-size="12" fill="#111" stroke="#111" stroke-width="0.3" text-anchor="middle" textLength="102" lengthAdjust="spacingAndGlyphs" >Binding Energy (eV)</text>
<text x="29.0" y="357.6" font-size="11.5" fill="#111" stroke="#111" stroke-width="0.3" text-anchor="start" textLength="21" lengthAdjust="spacingAndGlyphs" >N 1s</text>
<text x="172.6" y="356.0" font-size="11.5" fill="#111" stroke="#111" stroke-width="0.3" text-anchor="start" textLength="57.7" lengthAdjust="spacingAndGlyphs" >PtCo/KB-NH<tspan font-size="7.5" dy="2">2</tspan></text>
<text x="179.5" y="413.5" font-size="11.5" fill="#111" stroke="#111" stroke-width="0.3" text-anchor="start" textLength="46" lengthAdjust="spacingAndGlyphs" >Pt/KB-NH<tspan font-size="7.5" dy="2">2</tspan></text>
<text x="185.5" y="445.0" font-size="11.5" fill="#111" stroke="#111" stroke-width="0.3" text-anchor="start" textLength="33.2" lengthAdjust="spacingAndGlyphs" >KB-NH<tspan font-size="7.5" dy="2">2</tspan></text>
<text x="199.4" y="472.0" font-size="11.5" fill="#111" stroke="#111" stroke-width="0.3" text-anchor="start" textLength="11.8" lengthAdjust="spacingAndGlyphs" >KB</text>
<text x="1.5" y="343.2" font-size="11" fill="#111" stroke="#111" stroke-width="0.3" text-anchor="start" font-weight="bold" >B</text>
<polyline points="293.1,476.9 298.0,476.3 302.8,475.8 307.6,475.3 312.5,474.8 317.3,474.2 322.2,473.7 327.0,473.2 331.8,472.7 336.7,472.1 341.5,471.6 346.4,471.1 351.2,470.5 356.0,470.0 360.9,469.5 365.7,469.0 370.5,468.4 375.4,467.9 380.2,467.4 385.1,466.9 389.9,466.3 394.7,465.8 399.6,465.3 404.4,464.8 409.3,464.2 414.1,463.7 418.9,463.2 423.8,462.6 428.6,462.1 433.4,461.6 438.3,461.1 443.1,460.5 448.0,460.0 452.8,459.5 457.6,459.0 462.5,458.4 467.3,457.9 472.1,457.4 477.0,456.0 481.8,454.6 486.7,453.3 491.5,451.9 491.5,451.0 494.5,447.5 495.9,446.3 497.5,440.0 498.7,430.5 500.2,416.0 502.5,362.0" fill="none" stroke="#6f9cc8" stroke-width="1.0" stroke-linejoin="round" />
<polyline points="293.1,485.7 298.0,485.5 302.8,485.3 307.6,485.1 312.5,484.8 317.3,484.6 322.2,484.4 327.0,484.2 331.8,484.0 336.7,483.8 341.5,483.6 346.4,483.3 351.2,483.1 356.0,482.9 360.9,482.7 365.7,482.5 370.5,482.3 375.4,482.1 380.2,481.8 385.1,481.6 389.9,481.4 394.7,481.2 399.6,481.0 404.4,480.8 409.3,480.6 414.1,480.3 418.9,480.1 423.8,479.9 428.6,479.7 433.4,479.5 438.3,479.3 443.1,479.1 448.0,478.8 452.8,478.6 457.6,478.4 462.5,478.2 467.3,478.0 472.1,477.8 477.0,477.0 481.8,476.2 486.7,475.4 491.5,474.7 492.0,474.0 495.3,472.2 497.0,469.0 498.2,465.0 500.2,439.0 501.6,417.6 503.4,409.0" fill="none" stroke="#c09838" stroke-width="1.0" stroke-linejoin="round" />
<path d="M293.1,474.0 L295.9,478.9 L290.4,478.9 Z" fill="#6f9cc8"/>
<path d="M298.0,473.4 L300.7,478.4 L295.2,478.4 Z" fill="#6f9cc8"/>
<path d="M302.8,472.9 L305.6,477.8 L300.1,477.8 Z" fill="#6f9cc8"/>
<path d="M307.6,472.4 L310.4,477.3 L304.9,477.3 Z" fill="#6f9cc8"/>
<path d="M312.5,471.9 L315.2,476.8 L309.7,476.8 Z" fill="#6f9cc8"/>
<path d="M317.3,471.3 L320.1,476.3 L314.6,476.3 Z" fill="#6f9cc8"/>
<path d="M322.2,470.8 L324.9,475.7 L319.4,475.7 Z" fill="#6f9cc8"/>
<path d="M327.0,470.3 L329.8,475.2 L324.2,475.2 Z" fill="#6f9cc8"/>
<path d="M331.8,469.8 L334.6,474.7 L329.1,474.7 Z" fill="#6f9cc8"/>
<path d="M336.7,469.2 L339.4,474.2 L333.9,474.2 Z" fill="#6f9cc8"/>
<path d="M341.5,468.7 L344.3,473.6 L338.8,473.6 Z" fill="#6f9cc8"/>
<path d="M346.4,468.2 L349.1,473.1 L343.6,473.1 Z" fill="#6f9cc8"/>
<path d="M351.2,467.6 L353.9,472.6 L348.4,472.6 Z" fill="#6f9cc8"/>
<path d="M356.0,467.1 L358.8,472.0 L353.3,472.0 Z" fill="#6f9cc8"/>
<path d="M360.9,466.6 L363.6,471.5 L358.1,471.5 Z" fill="#6f9cc8"/>
<path d="M365.7,466.1 L368.5,471.0 L363.0,471.0 Z" fill="#6f9cc8"/>
<path d="M370.5,465.5 L373.3,470.5 L367.8,470.5 Z" fill="#6f9cc8"/>
<path d="M375.4,465.0 L378.1,469.9 L372.6,469.9 Z" fill="#6f9cc8"/>
<path d="M380.2,464.5 L383.0,469.4 L377.5,469.4 Z" fill="#6f9cc8"/>
<path d="M385.1,464.0 L387.8,468.9 L382.3,468.9 Z" fill="#6f9cc8"/>
<path d="M389.9,463.4 L392.7,468.4 L387.1,468.4 Z" fill="#6f9cc8"/>
<path d="M394.7,462.9 L397.5,467.8 L392.0,467.8 Z" fill="#6f9cc8"/>
<path d="M399.6,462.4 L402.3,467.3 L396.8,467.3 Z" fill="#6f9cc8"/>
<path d="M404.4,461.9 L407.2,466.8 L401.7,466.8 Z" fill="#6f9cc8"/>
<path d="M409.3,461.3 L412.0,466.3 L406.5,466.3 Z" fill="#6f9cc8"/>
<path d="M414.1,460.8 L416.8,465.7 L411.3,465.7 Z" fill="#6f9cc8"/>
<path d="M418.9,460.3 L421.7,465.2 L416.2,465.2 Z" fill="#6f9cc8"/>
<path d="M423.8,459.7 L426.5,464.7 L421.0,464.7 Z" fill="#6f9cc8"/>
<path d="M428.6,459.2 L431.4,464.1 L425.8,464.1 Z" fill="#6f9cc8"/>
<path d="M433.4,458.7 L436.2,463.6 L430.7,463.6 Z" fill="#6f9cc8"/>
<path d="M438.3,458.2 L441.0,463.1 L435.5,463.1 Z" fill="#6f9cc8"/>
<path d="M443.1,457.6 L445.9,462.6 L440.4,462.6 Z" fill="#6f9cc8"/>
<path d="M448.0,457.1 L450.7,462.0 L445.2,462.0 Z" fill="#6f9cc8"/>
<path d="M452.8,456.6 L455.6,461.5 L450.0,461.5 Z" fill="#6f9cc8"/>
<path d="M457.6,456.1 L460.4,461.0 L454.9,461.0 Z" fill="#6f9cc8"/>
<path d="M462.5,455.5 L465.2,460.5 L459.7,460.5 Z" fill="#6f9cc8"/>
<path d="M467.3,455.0 L470.1,459.9 L464.6,459.9 Z" fill="#6f9cc8"/>
<path d="M472.1,454.5 L474.9,459.4 L469.4,459.4 Z" fill="#6f9cc8"/>
<path d="M477.0,453.1 L479.7,458.1 L474.2,458.1 Z" fill="#6f9cc8"/>
<path d="M481.8,451.7 L484.6,456.7 L479.1,456.7 Z" fill="#6f9cc8"/>
<path d="M486.7,450.4 L489.4,455.3 L483.9,455.3 Z" fill="#6f9cc8"/>
<path d="M491.5,449.0 L494.3,453.9 L488.7,453.9 Z" fill="#6f9cc8"/>
<path d="M491.5,448.1 L494.3,453.0 L488.7,453.0 Z" fill="#6f9cc8"/>
<path d="M494.5,444.6 L497.3,449.5 L491.7,449.5 Z" fill="#6f9cc8"/>
<path d="M495.9,443.4 L498.7,448.3 L493.1,448.3 Z" fill="#6f9cc8"/>
<path d="M497.5,437.1 L500.3,442.0 L494.7,442.0 Z" fill="#6f9cc8"/>
<path d="M498.7,427.6 L501.5,432.5 L495.9,432.5 Z" fill="#6f9cc8"/>
<path d="M500.2,413.1 L503.0,418.0 L497.4,418.0 Z" fill="#6f9cc8"/>
<path d="M502.5,359.1 L505.3,364.0 L499.7,364.0 Z" fill="#6f9cc8"/>
<path d="M293.1,482.9 L295.9,485.7 L293.1,488.5 L290.3,485.7 Z" fill="#c09838"/>
<path d="M298.0,482.7 L300.8,485.5 L298.0,488.3 L295.2,485.5 Z" fill="#c09838"/>
<path d="M302.8,482.5 L305.6,485.3 L302.8,488.1 L300.0,485.3 Z" fill="#c09838"/>
<path d="M307.6,482.3 L310.4,485.1 L307.6,487.9 L304.8,485.1 Z" fill="#c09838"/>
<path d="M312.5,482.0 L315.3,484.8 L312.5,487.6 L309.7,484.8 Z" fill="#c09838"/>
<path d="M317.3,481.8 L320.1,484.6 L317.3,487.4 L314.5,484.6 Z" fill="#c09838"/>
<path d="M322.2,481.6 L325.0,484.4 L322.2,487.2 L319.4,484.4 Z" fill="#c09838"/>
<path d="M327.0,481.4 L329.8,484.2 L327.0,487.0 L324.2,484.2 Z" fill="#c09838"/>
<path d="M331.8,481.2 L334.6,484.0 L331.8,486.8 L329.0,484.0 Z" fill="#c09838"/>
<path d="M336.7,481.0 L339.5,483.8 L336.7,486.6 L333.9,483.8 Z" fill="#c09838"/>
<path d="M341.5,480.8 L344.3,483.6 L341.5,486.4 L338.7,483.6 Z" fill="#c09838"/>
<path d="M346.4,480.5 L349.2,483.3 L346.4,486.1 L343.6,483.3 Z" fill="#c09838"/>
<path d="M351.2,480.3 L354.0,483.1 L351.2,485.9 L348.4,483.1 Z" fill="#c09838"/>
<path d="M356.0,480.1 L358.8,482.9 L356.0,485.7 L353.2,482.9 Z" fill="#c09838"/>
<path d="M360.9,479.9 L363.7,482.7 L360.9,485.5 L358.1,482.7 Z" fill="#c09838"/>
<path d="M365.7,479.7 L368.5,482.5 L365.7,485.3 L362.9,482.5 Z" fill="#c09838"/>
<path d="M370.5,479.5 L373.3,482.3 L370.5,485.1 L367.7,482.3 Z" fill="#c09838"/>
<path d="M375.4,479.3 L378.2,482.1 L375.4,484.9 L372.6,482.1 Z" fill="#c09838"/>
<path d="M380.2,479.0 L383.0,481.8 L380.2,484.6 L377.4,481.8 Z" fill="#c09838"/>
<path d="M385.1,478.8 L387.9,481.6 L385.1,484.4 L382.3,481.6 Z" fill="#c09838"/>
<path d="M389.9,478.6 L392.7,481.4 L389.9,484.2 L387.1,481.4 Z" fill="#c09838"/>
<path d="M394.7,478.4 L397.5,481.2 L394.7,484.0 L391.9,481.2 Z" fill="#c09838"/>
<path d="M399.6,478.2 L402.4,481.0 L399.6,483.8 L396.8,481.0 Z" fill="#c09838"/>
<path d="M404.4,478.0 L407.2,480.8 L404.4,483.6 L401.6,480.8 Z" fill="#c09838"/>
<path d="M409.3,477.8 L412.1,480.6 L409.3,483.4 L406.5,480.6 Z" fill="#c09838"/>
<path d="M414.1,477.5 L416.9,480.3 L414.1,483.1 L411.3,480.3 Z" fill="#c09838"/>
<path d="M418.9,477.3 L421.7,480.1 L418.9,482.9 L416.1,480.1 Z" fill="#c09838"/>
<path d="M423.8,477.1 L426.6,479.9 L423.8,482.7 L421.0,479.9 Z" fill="#c09838"/>
<path d="M428.6,476.9 L431.4,479.7 L428.6,482.5 L425.8,479.7 Z" fill="#c09838"/>
<path d="M433.4,476.7 L436.2,479.5 L433.4,482.3 L430.6,479.5 Z" fill="#c09838"/>
<path d="M438.3,476.5 L441.1,479.3 L438.3,482.1 L435.5,479.3 Z" fill="#c09838"/>
<path d="M443.1,476.3 L445.9,479.1 L443.1,481.9 L440.3,479.1 Z" fill="#c09838"/>
<path d="M448.0,476.0 L450.8,478.8 L448.0,481.6 L445.2,478.8 Z" fill="#c09838"/>
<path d="M452.8,475.8 L455.6,478.6 L452.8,481.4 L450.0,478.6 Z" fill="#c09838"/>
<path d="M457.6,475.6 L460.4,478.4 L457.6,481.2 L454.8,478.4 Z" fill="#c09838"/>
<path d="M462.5,475.4 L465.3,478.2 L462.5,481.0 L459.7,478.2 Z" fill="#c09838"/>
<path d="M467.3,475.2 L470.1,478.0 L467.3,480.8 L464.5,478.0 Z" fill="#c09838"/>
<path d="M472.1,475.0 L474.9,477.8 L472.1,480.6 L469.3,477.8 Z" fill="#c09838"/>
<path d="M477.0,474.2 L479.8,477.0 L477.0,479.8 L474.2,477.0 Z" fill="#c09838"/>
<path d="M481.8,473.4 L484.6,476.2 L481.8,479.0 L479.0,476.2 Z" fill="#c09838"/>
<path d="M486.7,472.6 L489.5,475.4 L486.7,478.2 L483.9,475.4 Z" fill="#c09838"/>
<path d="M491.5,471.9 L494.3,474.7 L491.5,477.5 L488.7,474.7 Z" fill="#c09838"/>
<path d="M492.0,471.2 L494.8,474.0 L492.0,476.8 L489.2,474.0 Z" fill="#c09838"/>
<path d="M495.3,469.4 L498.1,472.2 L495.3,475.0 L492.5,472.2 Z" fill="#c09838"/>
<path d="M497.0,466.2 L499.8,469.0 L497.0,471.8 L494.2,469.0 Z" fill="#c09838"/>
<path d="M498.2,462.2 L501.0,465.0 L498.2,467.8 L495.4,465.0 Z" fill="#c09838"/>
<path d="M500.2,436.2 L503.0,439.0 L500.2,441.8 L497.4,439.0 Z" fill="#c09838"/>
<path d="M501.6,414.8 L504.4,417.6 L501.6,420.4 L498.8,417.6 Z" fill="#c09838"/>
<path d="M503.4,406.2 L506.2,409.0 L503.4,411.8 L500.6,409.0 Z" fill="#c09838"/>
<rect x="291.0" y="338.4" width="213.3" height="150.6" fill="none" stroke="#222" stroke-width="1.2"/>
<line x1="291.0" y1="489.0" x2="291.0" y2="486.0" stroke="#222" stroke-width="1"/>
<line x1="312.3" y1="489.0" x2="312.3" y2="486.0" stroke="#222" stroke-width="1"/>
<line x1="333.7" y1="489.0" x2="333.7" y2="486.0" stroke="#222" stroke-width="1"/>
<line x1="355.0" y1="489.0" x2="355.0" y2="486.0" stroke="#222" stroke-width="1"/>
<line x1="376.3" y1="489.0" x2="376.3" y2="486.0" stroke="#222" stroke-width="1"/>
<line x1="397.6" y1="489.0" x2="397.6" y2="486.0" stroke="#222" stroke-width="1"/>
<line x1="419.0" y1="489.0" x2="419.0" y2="486.0" stroke="#222" stroke-width="1"/>
<line x1="440.3" y1="489.0" x2="440.3" y2="486.0" stroke="#222" stroke-width="1"/>
<line x1="461.6" y1="489.0" x2="461.6" y2="486.0" stroke="#222" stroke-width="1"/>
<line x1="483.0" y1="489.0" x2="483.0" y2="486.0" stroke="#222" stroke-width="1"/>
<line x1="504.3" y1="489.0" x2="504.3" y2="486.0" stroke="#222" stroke-width="1"/>
<line x1="291.0" y1="489.0" x2="294.0" y2="489.0" stroke="#222" stroke-width="1"/>
<line x1="504.3" y1="489.0" x2="501.3" y2="489.0" stroke="#222" stroke-width="1"/>
<line x1="291.0" y1="470.1" x2="294.0" y2="470.1" stroke="#222" stroke-width="1"/>
<line x1="504.3" y1="470.1" x2="501.3" y2="470.1" stroke="#222" stroke-width="1"/>
<line x1="291.0" y1="451.3" x2="294.0" y2="451.3" stroke="#222" stroke-width="1"/>
<line x1="504.3" y1="451.3" x2="501.3" y2="451.3" stroke="#222" stroke-width="1"/>
<line x1="291.0" y1="432.4" x2="294.0" y2="432.4" stroke="#222" stroke-width="1"/>
<line x1="504.3" y1="432.4" x2="501.3" y2="432.4" stroke="#222" stroke-width="1"/>
<line x1="291.0" y1="413.6" x2="294.0" y2="413.6" stroke="#222" stroke-width="1"/>
<line x1="504.3" y1="413.6" x2="501.3" y2="413.6" stroke="#222" stroke-width="1"/>
<line x1="291.0" y1="394.7" x2="294.0" y2="394.7" stroke="#222" stroke-width="1"/>
<line x1="504.3" y1="394.7" x2="501.3" y2="394.7" stroke="#222" stroke-width="1"/>
<line x1="291.0" y1="375.8" x2="294.0" y2="375.8" stroke="#222" stroke-width="1"/>
<line x1="504.3" y1="375.8" x2="501.3" y2="375.8" stroke="#222" stroke-width="1"/>
<line x1="291.0" y1="357.0" x2="294.0" y2="357.0" stroke="#222" stroke-width="1"/>
<line x1="504.3" y1="357.0" x2="501.3" y2="357.0" stroke="#222" stroke-width="1"/>
<line x1="291.0" y1="338.1" x2="294.0" y2="338.1" stroke="#222" stroke-width="1"/>
<line x1="504.3" y1="338.1" x2="501.3" y2="338.1" stroke="#222" stroke-width="1"/>
<text x="291.0" y="503.0" font-size="12.5" fill="#111" stroke="#111" stroke-width="0.3" text-anchor="middle" textLength="19" lengthAdjust="spacingAndGlyphs" >0.0</text>
<text x="333.7" y="503.0" font-size="12.5" fill="#111" stroke="#111" stroke-width="0.3" text-anchor="middle" textLength="19" lengthAdjust="spacingAndGlyphs" >0.2</text>
<text x="376.3" y="503.0" font-size="12.5" fill="#111" stroke="#111" stroke-width="0.3" text-anchor="middle" textLength="19" lengthAdjust="spacingAndGlyphs" >0.4</text>
<text x="419.0" y="503.0" font-size="12.5" fill="#111" stroke="#111" stroke-width="0.3" text-anchor="middle" textLength="19" lengthAdjust="spacingAndGlyphs" >0.6</text>
<text x="461.6" y="503.0" font-size="12.5" fill="#111" stroke="#111" stroke-width="0.3" text-anchor="middle" textLength="19" lengthAdjust="spacingAndGlyphs" >0.8</text>
<text x="504.3" y="503.0" font-size="12.5" fill="#111" stroke="#111" stroke-width="0.3" text-anchor="middle" textLength="19" lengthAdjust="spacingAndGlyphs" >1.0</text>
<text x="287.5" y="493.5" font-size="12.5" fill="#111" stroke="#111" stroke-width="0.3" text-anchor="end" textLength="6.5" lengthAdjust="spacingAndGlyphs" >0</text>
<text x="287.5" y="455.8" font-size="12.5" fill="#111" stroke="#111" stroke-width="0.3" text-anchor="end" textLength="19.5" lengthAdjust="spacingAndGlyphs" >500</text>
<text x="287.5" y="418.1" font-size="12.5" fill="#111" stroke="#111" stroke-width="0.3" text-anchor="end" textLength="25.5" lengthAdjust="spacingAndGlyphs" >1000</text>
<text x="287.5" y="380.3" font-size="12.5" fill="#111" stroke="#111" stroke-width="0.3" text-anchor="end" textLength="25.5" lengthAdjust="spacingAndGlyphs" >1500</text>
<text x="287.5" y="342.6" font-size="12.5" fill="#111" stroke="#111" stroke-width="0.3" text-anchor="end" textLength="25.5" lengthAdjust="spacingAndGlyphs" >2000</text>
<text x="396.5" y="517.5" font-size="12" fill="#111" stroke="#111" stroke-width="0.3" text-anchor="middle" textLength="124" lengthAdjust="spacingAndGlyphs" >Relative Pressure (P/P<tspan font-size="8" dy="2.5">0</tspan><tspan dy="-2.5">)</tspan></text>
<text x="257.5" y="421.0" font-size="12" fill="#111" stroke="#111" stroke-width="0.3" text-anchor="middle" textLength="142" lengthAdjust="spacingAndGlyphs" transform="rotate(-90 257.5 421.0)" >Adsorbed Volume (cm<tspan font-size="8" dy="-4">3</tspan><tspan dy="4">·g</tspan><tspan font-size="8" dy="-4">−1</tspan><tspan dy="4">)</tspan></text>
<text x="246.5" y="343.0" font-size="11" fill="#111" stroke="#111" stroke-width="0.3" text-anchor="start" font-weight="bold" >C</text>
<rect x="319.2" y="347.3" width="128.0" height="88.5" fill="#fff" stroke="#222" stroke-width="1.1"/>
<polyline points="322.4,422.5 323.7,421.4 324.6,428.1 325.6,424.7 326.6,418.5 327.8,419.2 329.4,417.7 330.4,403.3 331.4,407.9 332.3,420.5 333.6,421.4 335.2,422.5 336.8,425.8 338.1,428.1 340.0,427.8 341.9,428.5 343.8,428.5 346.4,429.2 348.6,428.7 351.2,428.5 353.4,428.5 356.0,427.0 358.9,424.3 361.4,424.1 364.0,424.3 366.9,424.3 369.8,424.7 372.3,425.0 375.2,425.2 378.1,425.2 382.9,412.8 387.7,415.7 392.8,415.7 395.4,418.5 399.5,424.3 403.0,425.2 406.6,407.9 410.1,381.2 414.6,381.2 419.4,392.7 424.2,392.7 429.6,370.5 434.7,348.4" fill="none" stroke="#6f9cc8" stroke-width="0.9" stroke-linejoin="round" stroke-dasharray="2.5,1.5"/>
<polyline points="322.7,435.8 324.0,433.6 325.6,431.4 326.6,429.2 328.5,429.2 330.4,427.2 332.3,428.1 334.2,429.2 336.2,431.4 338.4,433.1 340.0,433.6 342.2,432.9 344.8,432.5 347.7,432.0 350.6,431.8 352.8,431.6 355.4,431.4 358.2,429.2 361.1,427.2 364.0,427.4 367.2,427.6 370.4,427.8 374.2,427.8 378.1,428.1 382.9,419.4 387.0,420.1 391.5,420.3 395.4,422.3 399.5,427.2 403.0,428.1 406.6,416.6 410.1,397.3 414.6,392.7 419.4,400.4 424.2,400.4 429.6,383.2 434.7,365.7" fill="none" stroke="#c09838" stroke-width="0.9" stroke-linejoin="round" stroke-dasharray="2.5,1.5"/>
<path d="M322.4,420.3 L324.5,424.1 L320.3,424.1 Z" fill="#6f9cc8"/>
<path d="M323.7,419.2 L325.8,423.0 L321.6,423.0 Z" fill="#6f9cc8"/>
<path d="M324.6,425.9 L326.7,429.6 L322.6,429.6 Z" fill="#6f9cc8"/>
<path d="M325.6,422.5 L327.7,426.3 L323.5,426.3 Z" fill="#6f9cc8"/>
<path d="M326.6,416.3 L328.6,420.1 L324.5,420.1 Z" fill="#6f9cc8"/>
<path d="M327.8,417.0 L329.9,420.8 L325.8,420.8 Z" fill="#6f9cc8"/>
<path d="M329.4,415.5 L331.5,419.2 L327.4,419.2 Z" fill="#6f9cc8"/>
<path d="M330.4,401.1 L332.5,404.8 L328.3,404.8 Z" fill="#6f9cc8"/>
<path d="M331.4,405.7 L333.4,409.5 L329.3,409.5 Z" fill="#6f9cc8"/>
<path d="M332.3,418.3 L334.4,422.1 L330.2,422.1 Z" fill="#6f9cc8"/>
<path d="M333.6,419.2 L335.7,423.0 L331.5,423.0 Z" fill="#6f9cc8"/>
<path d="M335.2,420.3 L337.3,424.1 L333.1,424.1 Z" fill="#6f9cc8"/>
<path d="M336.8,423.6 L338.9,427.4 L334.7,427.4 Z" fill="#6f9cc8"/>
<path d="M338.1,425.9 L340.2,429.6 L336.0,429.6 Z" fill="#6f9cc8"/>
<path d="M340.0,425.6 L342.1,429.4 L337.9,429.4 Z" fill="#6f9cc8"/>
<path d="M341.9,426.3 L344.0,430.0 L339.8,430.0 Z" fill="#6f9cc8"/>
<path d="M343.8,426.3 L345.9,430.0 L341.8,430.0 Z" fill="#6f9cc8"/>
<path d="M346.4,427.0 L348.5,430.7 L344.3,430.7 Z" fill="#6f9cc8"/>
<path d="M348.6,426.5 L350.7,430.3 L346.6,430.3 Z" fill="#6f9cc8"/>
<path d="M351.2,426.3 L353.3,430.0 L349.1,430.0 Z" fill="#6f9cc8"/>
<path d="M353.4,426.3 L355.5,430.0 L351.4,430.0 Z" fill="#6f9cc8"/>
<path d="M356.0,424.8 L358.1,428.5 L353.9,428.5 Z" fill="#6f9cc8"/>
<path d="M358.9,422.1 L361.0,425.8 L356.8,425.8 Z" fill="#6f9cc8"/>
<path d="M361.4,421.9 L363.5,425.6 L359.4,425.6 Z" fill="#6f9cc8"/>
<path d="M364.0,422.1 L366.1,425.8 L361.9,425.8 Z" fill="#6f9cc8"/>
<path d="M366.9,422.1 L369.0,425.8 L364.8,425.8 Z" fill="#6f9cc8"/>
<path d="M369.8,422.5 L371.8,426.3 L367.7,426.3 Z" fill="#6f9cc8"/>
<path d="M372.3,422.8 L374.4,426.5 L370.2,426.5 Z" fill="#6f9cc8"/>
<path d="M375.2,423.0 L377.3,426.7 L373.1,426.7 Z" fill="#6f9cc8"/>
<path d="M378.1,423.0 L380.2,426.7 L376.0,426.7 Z" fill="#6f9cc8"/>
<path d="M382.9,410.6 L385.0,414.3 L380.8,414.3 Z" fill="#6f9cc8"/>
<path d="M387.7,413.5 L389.8,417.2 L385.6,417.2 Z" fill="#6f9cc8"/>
<path d="M392.8,413.5 L394.9,417.2 L390.7,417.2 Z" fill="#6f9cc8"/>
<path d="M395.4,416.3 L397.4,420.1 L393.3,420.1 Z" fill="#6f9cc8"/>
<path d="M399.5,422.1 L401.6,425.8 L397.4,425.8 Z" fill="#6f9cc8"/>
<path d="M403.0,423.0 L405.1,426.7 L400.9,426.7 Z" fill="#6f9cc8"/>
<path d="M406.6,405.7 L408.6,409.5 L404.5,409.5 Z" fill="#6f9cc8"/>
<path d="M410.1,379.0 L412.2,382.7 L408.0,382.7 Z" fill="#6f9cc8"/>
<path d="M414.6,379.0 L416.6,382.7 L412.5,382.7 Z" fill="#6f9cc8"/>
<path d="M419.4,390.5 L421.4,394.2 L417.3,394.2 Z" fill="#6f9cc8"/>
<path d="M424.2,390.5 L426.2,394.2 L422.1,394.2 Z" fill="#6f9cc8"/>
<path d="M429.6,368.3 L431.7,372.1 L427.5,372.1 Z" fill="#6f9cc8"/>
<path d="M434.7,346.2 L436.8,350.0 L432.6,350.0 Z" fill="#6f9cc8"/>
<path d="M322.7,433.7 L324.8,435.8 L322.7,437.9 L320.6,435.8 Z" fill="#c09838"/>
<path d="M324.0,431.5 L326.1,433.6 L324.0,435.7 L321.9,433.6 Z" fill="#c09838"/>
<path d="M325.6,429.3 L327.7,431.4 L325.6,433.5 L323.5,431.4 Z" fill="#c09838"/>
<path d="M326.6,427.1 L328.7,429.2 L326.6,431.3 L324.5,429.2 Z" fill="#c09838"/>
<path d="M328.5,427.1 L330.6,429.2 L328.5,431.3 L326.4,429.2 Z" fill="#c09838"/>
<path d="M330.4,425.1 L332.5,427.2 L330.4,429.3 L328.3,427.2 Z" fill="#c09838"/>
<path d="M332.3,426.0 L334.4,428.1 L332.3,430.2 L330.2,428.1 Z" fill="#c09838"/>
<path d="M334.2,427.1 L336.3,429.2 L334.2,431.3 L332.1,429.2 Z" fill="#c09838"/>
<path d="M336.2,429.3 L338.3,431.4 L336.2,433.5 L334.1,431.4 Z" fill="#c09838"/>
<path d="M338.4,431.0 L340.5,433.1 L338.4,435.2 L336.3,433.1 Z" fill="#c09838"/>
<path d="M340.0,431.5 L342.1,433.6 L340.0,435.7 L337.9,433.6 Z" fill="#c09838"/>
<path d="M342.2,430.8 L344.3,432.9 L342.2,435.0 L340.1,432.9 Z" fill="#c09838"/>
<path d="M344.8,430.4 L346.9,432.5 L344.8,434.6 L342.7,432.5 Z" fill="#c09838"/>
<path d="M347.7,429.9 L349.8,432.0 L347.7,434.1 L345.6,432.0 Z" fill="#c09838"/>
<path d="M350.6,429.7 L352.7,431.8 L350.6,433.9 L348.5,431.8 Z" fill="#c09838"/>
<path d="M352.8,429.5 L354.9,431.6 L352.8,433.7 L350.7,431.6 Z" fill="#c09838"/>
<path d="M355.4,429.3 L357.5,431.4 L355.4,433.5 L353.3,431.4 Z" fill="#c09838"/>
<path d="M358.2,427.1 L360.3,429.2 L358.2,431.3 L356.1,429.2 Z" fill="#c09838"/>
<path d="M361.1,425.1 L363.2,427.2 L361.1,429.3 L359.0,427.2 Z" fill="#c09838"/>
<path d="M364.0,425.3 L366.1,427.4 L364.0,429.5 L361.9,427.4 Z" fill="#c09838"/>
<path d="M367.2,425.5 L369.3,427.6 L367.2,429.7 L365.1,427.6 Z" fill="#c09838"/>
<path d="M370.4,425.7 L372.5,427.8 L370.4,429.9 L368.3,427.8 Z" fill="#c09838"/>
<path d="M374.2,425.7 L376.3,427.8 L374.2,429.9 L372.1,427.8 Z" fill="#c09838"/>
<path d="M378.1,426.0 L380.2,428.1 L378.1,430.2 L376.0,428.1 Z" fill="#c09838"/>
<path d="M382.9,417.3 L385.0,419.4 L382.9,421.5 L380.8,419.4 Z" fill="#c09838"/>
<path d="M387.0,418.0 L389.1,420.1 L387.0,422.2 L384.9,420.1 Z" fill="#c09838"/>
<path d="M391.5,418.2 L393.6,420.3 L391.5,422.4 L389.4,420.3 Z" fill="#c09838"/>
<path d="M395.4,420.2 L397.5,422.3 L395.4,424.4 L393.3,422.3 Z" fill="#c09838"/>
<path d="M399.5,425.1 L401.6,427.2 L399.5,429.3 L397.4,427.2 Z" fill="#c09838"/>
<path d="M403.0,426.0 L405.1,428.1 L403.0,430.2 L400.9,428.1 Z" fill="#c09838"/>
<path d="M406.6,414.5 L408.7,416.6 L406.6,418.7 L404.5,416.6 Z" fill="#c09838"/>
<path d="M410.1,395.2 L412.2,397.3 L410.1,399.4 L408.0,397.3 Z" fill="#c09838"/>
<path d="M414.6,390.6 L416.7,392.7 L414.6,394.8 L412.5,392.7 Z" fill="#c09838"/>
<path d="M419.4,398.3 L421.5,400.4 L419.4,402.5 L417.3,400.4 Z" fill="#c09838"/>
<path d="M424.2,398.3 L426.3,400.4 L424.2,402.5 L422.1,400.4 Z" fill="#c09838"/>
<path d="M429.6,381.1 L431.7,383.2 L429.6,385.3 L427.5,383.2 Z" fill="#c09838"/>
<path d="M434.7,363.6 L436.8,365.7 L434.7,367.8 L432.6,365.7 Z" fill="#c09838"/>
<line x1="319.2" y1="435.8" x2="319.2" y2="433.3" stroke="#222" stroke-width="0.9"/>
<text x="319.2" y="449.0" font-size="11.5" fill="#111" stroke="#111" stroke-width="0.3" text-anchor="middle" textLength="6" lengthAdjust="spacingAndGlyphs" >0</text>
<line x1="335.2" y1="435.8" x2="335.2" y2="433.3" stroke="#222" stroke-width="0.9"/>
<text x="335.2" y="449.0" font-size="11.5" fill="#111" stroke="#111" stroke-width="0.3" text-anchor="middle" textLength="6" lengthAdjust="spacingAndGlyphs" >5</text>
<line x1="351.2" y1="435.8" x2="351.2" y2="433.3" stroke="#222" stroke-width="0.9"/>
<text x="351.2" y="449.0" font-size="11.5" fill="#111" stroke="#111" stroke-width="0.3" text-anchor="middle" textLength="12" lengthAdjust="spacingAndGlyphs" >10</text>
<line x1="367.2" y1="435.8" x2="367.2" y2="433.3" stroke="#222" stroke-width="0.9"/>
<text x="367.2" y="449.0" font-size="11.5" fill="#111" stroke="#111" stroke-width="0.3" text-anchor="middle" textLength="12" lengthAdjust="spacingAndGlyphs" >15</text>
<line x1="383.2" y1="435.8" x2="383.2" y2="433.3" stroke="#222" stroke-width="0.9"/>
<text x="383.2" y="449.0" font-size="11.5" fill="#111" stroke="#111" stroke-width="0.3" text-anchor="middle" textLength="12" lengthAdjust="spacingAndGlyphs" >20</text>
<line x1="399.2" y1="435.8" x2="399.2" y2="433.3" stroke="#222" stroke-width="0.9"/>
<text x="399.2" y="449.0" font-size="11.5" fill="#111" stroke="#111" stroke-width="0.3" text-anchor="middle" textLength="12" lengthAdjust="spacingAndGlyphs" >25</text>
<line x1="415.2" y1="435.8" x2="415.2" y2="433.3" stroke="#222" stroke-width="0.9"/>
<text x="415.2" y="449.0" font-size="11.5" fill="#111" stroke="#111" stroke-width="0.3" text-anchor="middle" textLength="12" lengthAdjust="spacingAndGlyphs" >30</text>
<line x1="431.2" y1="435.8" x2="431.2" y2="433.3" stroke="#222" stroke-width="0.9"/>
<text x="431.2" y="449.0" font-size="11.5" fill="#111" stroke="#111" stroke-width="0.3" text-anchor="middle" textLength="12" lengthAdjust="spacingAndGlyphs" >35</text>
<line x1="447.2" y1="435.8" x2="447.2" y2="433.3" stroke="#222" stroke-width="0.9"/>
<text x="447.2" y="449.0" font-size="11.5" fill="#111" stroke="#111" stroke-width="0.3" text-anchor="middle" textLength="12" lengthAdjust="spacingAndGlyphs" >40</text>
<line x1="319.2" y1="435.8" x2="321.7" y2="435.8" stroke="#222" stroke-width="0.9"/>
<text x="315.0" y="440.0" font-size="11.5" fill="#111" stroke="#111" stroke-width="0.3" text-anchor="end" >0</text>
<line x1="319.2" y1="413.7" x2="321.7" y2="413.7" stroke="#222" stroke-width="0.9"/>
<text x="315.0" y="417.9" font-size="11.5" fill="#111" stroke="#111" stroke-width="0.3" text-anchor="end" >1</text>
<line x1="319.2" y1="391.6" x2="321.7" y2="391.6" stroke="#222" stroke-width="0.9"/>
<text x="315.0" y="395.8" font-size="11.5" fill="#111" stroke="#111" stroke-width="0.3" text-anchor="end" >2</text>
<line x1="319.2" y1="369.4" x2="321.7" y2="369.4" stroke="#222" stroke-width="0.9"/>
<text x="315.0" y="373.6" font-size="11.5" fill="#111" stroke="#111" stroke-width="0.3" text-anchor="end" >3</text>
<line x1="319.2" y1="347.3" x2="321.7" y2="347.3" stroke="#222" stroke-width="0.9"/>
<text x="315.0" y="351.5" font-size="11.5" fill="#111" stroke="#111" stroke-width="0.3" text-anchor="end" >4</text>
<text x="376.0" y="460.5" font-size="11.5" fill="#111" stroke="#111" stroke-width="0.3" text-anchor="middle" textLength="83" lengthAdjust="spacingAndGlyphs" >Pore Diameter (nm)</text>
<text x="303.5" y="391.5" font-size="11.5" fill="#111" stroke="#111" stroke-width="0.3" text-anchor="middle" textLength="87" lengthAdjust="spacingAndGlyphs" transform="rotate(-90 303.5 391.5)" >dV/dlogD (cm<tspan font-size="7.5" dy="-3.5">3</tspan><tspan dy="3.5">·g</tspan><tspan font-size="7.5" dy="-3.5">−1</tspan><tspan dy="3.5">)</tspan></text>
<line x1="450" y1="354" x2="461" y2="354" stroke="#6f9cc8" stroke-width="1"/>
<path d="M455.6,351.0 L458.5,356.1 L452.8,356.1 Z" fill="#6f9cc8"/>
<text x="464.0" y="358.0" font-size="11.5" fill="#111" stroke="#111" stroke-width="0.3" text-anchor="start" textLength="11" lengthAdjust="spacingAndGlyphs" >KB</text>
<line x1="450" y1="369" x2="461" y2="369" stroke="#c09838" stroke-width="1"/>
<path d="M455.6,366.0 L458.6,369.0 L455.6,372.0 L452.6,369.0 Z" fill="#c09838"/>
<text x="464.0" y="373.0" font-size="11.5" fill="#111" stroke="#111" stroke-width="0.3" text-anchor="start" textLength="32.5" lengthAdjust="spacingAndGlyphs" >KB-NH<tspan font-size="7.5" dy="2">2</tspan></text>
<defs>
<radialGradient id="gPt" cx="0.4" cy="0.35" r="0.7"><stop offset="0" stop-color="#f6dc5a"/><stop offset="0.55" stop-color="#d9ae22"/><stop offset="1" stop-color="#8e6a0c"/></radialGradient>
<radialGradient id="gOl" cx="0.4" cy="0.35" r="0.7"><stop offset="0" stop-color="#c8b468"/><stop offset="0.55" stop-color="#a08a40"/><stop offset="1" stop-color="#5c5024"/></radialGradient>
<radialGradient id="gShade" cx="0.42" cy="0.38" r="0.68"><stop offset="0" stop-color="#fff" stop-opacity="0.12"/><stop offset="0.55" stop-color="#000" stop-opacity="0.05"/><stop offset="1" stop-color="#000" stop-opacity="0.6"/></radialGradient>
<pattern id="patDot" width="1.6" height="2.6" patternUnits="userSpaceOnUse"><rect x="1.2" y="0" width="0.4" height="2.6" fill="#34402e" opacity="0.55"/></pattern>
<radialGradient id="gAu" cx="0.4" cy="0.35" r="0.7"><stop offset="0" stop-color="#f4d46a"/><stop offset="0.6" stop-color="#d8a830"/><stop offset="1" stop-color="#a07818"/></radialGradient>
<radialGradient id="gCo" cx="0.4" cy="0.35" r="0.7"><stop offset="0" stop-color="#8090f0"/><stop offset="0.6" stop-color="#4a58d0"/><stop offset="1" stop-color="#303aa0"/></radialGradient>
<pattern id="patBump" width="2.6" height="4.5" patternUnits="userSpaceOnUse"><circle cx="1.3" cy="1.1" r="0.95" fill="#f6da50" fill-opacity="0.75" stroke="#9a720c" stroke-width="0.4"/><circle cx="0" cy="3.35" r="0.95" fill="#f6da50" fill-opacity="0.75" stroke="#9a720c" stroke-width="0.4"/><circle cx="2.6" cy="3.35" r="0.95" fill="#f6da50" fill-opacity="0.75" stroke="#9a720c" stroke-width="0.4"/></pattern>
<radialGradient id="gEdge" cx="0.45" cy="0.4" r="0.65"><stop offset="0" stop-color="#fff" stop-opacity="0.25"/><stop offset="0.5" stop-color="#000" stop-opacity="0"/><stop offset="1" stop-color="#4a3400" stop-opacity="0.45"/></radialGradient>
<linearGradient id="gRod" x1="0" y1="0" x2="1" y2="0"><stop offset="0" stop-color="#2a5a1a"/><stop offset="0.5" stop-color="#6aaa40"/><stop offset="1" stop-color="#2a5a1a"/></linearGradient>
</defs>
<defs><clipPath id="dc0"><path d="M16.299999999999997,128.5 L16.299999999999997,95.5 L16.3,95.5 L19.2,91.9 L22.0,88.6 L24.9,85.5 L27.7,82.7 L30.6,80.2 L33.5,77.8 L36.3,75.5 L39.2,73.4 L42.1,71.5 L44.9,69.7 L47.8,68.0 L50.6,66.4 L53.5,64.9 L56.4,63.6 L59.2,62.3 L62.1,61.1 L64.9,60.0 L67.8,59.0 L70.7,58.1 L73.5,57.3 L76.4,56.5 L79.3,55.8 L82.1,55.2 L85.0,54.7 L87.8,54.3 L90.7,53.9 L93.6,53.6 L96.4,53.3 L99.3,53.1 L102.1,53.0 L105.0,53.0 L107.9,53.0 L110.7,53.1 L113.6,53.3 L116.5,53.6 L119.3,53.9 L122.2,54.3 L125.0,54.7 L127.9,55.2 L130.8,55.8 L133.6,56.5 L136.5,57.3 L139.4,58.1 L142.2,59.0 L145.1,60.0 L147.9,61.1 L150.8,62.3 L153.7,63.6 L156.5,64.9 L159.4,66.4 L162.2,68.0 L165.1,69.7 L168.0,71.5 L170.8,73.4 L173.7,75.5 L176.6,77.8 L179.4,80.2 L182.3,82.8 L185.1,85.6 L188.0,88.6 L188,128.5 Z"/></clipPath></defs>
<rect x="16.299999999999997" y="130.0" width="171.7" height="4" fill="#e6e6e6" opacity="0.6"/>
<path d="M16.3,128.5 L16.3,95.5 L19.2,91.9 L22.0,88.6 L24.9,85.5 L27.7,82.7 L30.6,80.2 L33.5,77.8 L36.3,75.5 L39.2,73.4 L42.1,71.5 L44.9,69.7 L47.8,68.0 L50.6,66.4 L53.5,64.9 L56.4,63.6 L59.2,62.3 L62.1,61.1 L64.9,60.0 L67.8,59.0 L70.7,58.1 L73.5,57.3 L76.4,56.5 L79.3,55.8 L82.1,55.2 L85.0,54.7 L87.8,54.3 L90.7,53.9 L93.6,53.6 L96.4,53.3 L99.3,53.1 L102.1,53.0 L105.0,53.0 L107.9,53.0 L110.7,53.1 L113.6,53.3 L116.5,53.6 L119.3,53.9 L122.2,54.3 L125.0,54.7 L127.9,55.2 L130.8,55.8 L133.6,56.5 L136.5,57.3 L139.4,58.1 L142.2,59.0 L145.1,60.0 L147.9,61.1 L150.8,62.3 L153.7,63.6 L156.5,64.9 L159.4,66.4 L162.2,68.0 L165.1,69.7 L168.0,71.5 L170.8,73.4 L173.7,75.5 L176.6,77.8 L179.4,80.2 L182.3,82.8 L185.1,85.6 L188.0,88.6 L188.0,128.5 Z" fill="#1c1c1c"/>
<defs><path id="mesh0" d="M44.4 -18.1l-4.2 -1.8M40.2 -19.9l-3.2 2.4M37.0 -17.6l1.1 4.2M38.0 -13.4l4.2 1.8M42.2 -11.6l3.2 -2.3M45.4 -14.0l-1.0 -4.2M51.7 -18.3l-4.1 -2.0M47.6 -20.3l-3.2 2.2M45.4 -14.0l4.1 1.9M49.5 -12.0l3.1 -2.2M52.7 -14.2l-0.9 -4.2M58.9 -18.2l-4.0 -2.1M54.9 -20.4l-3.1 2.0M52.7 -14.2l4.0 2.1M56.7 -12.1l3.1 -2.0M59.7 -14.1l-0.9 -4.1M65.9 -17.8l-3.9 -2.3M62.0 -20.1l-3.1 1.9M59.7 -14.1l3.9 2.2M63.6 -11.8l3.0 -1.8M66.6 -13.7l-0.8 -4.1M8.4 -19.3l-4.5 -1.1M3.9 -20.4l-3.2 3.0M0.7 -17.3l1.4 4.0M2.0 -13.3l4.5 1.0M6.5 -12.3l3.2 -3.0M9.7 -15.3l-1.3 -4.1M16.1 -21.0l-4.5 -1.2M11.6 -22.2l-3.2 2.9M9.7 -15.3l4.5 1.2M14.2 -14.1l3.2 -2.8M17.4 -16.9l-1.3 -4.1M23.8 -22.3l-4.5 -1.4M19.4 -23.7l-3.2 2.7M17.4 -16.9l4.4 1.4M21.8 -15.5l3.2 -2.7M25.0 -18.2l-1.2 -4.1M31.5 -23.3l-4.4 -1.6M27.1 -24.9l-3.2 2.6M25.0 -18.2l4.4 1.5M29.4 -16.7l3.2 -2.5M32.6 -19.3l-1.1 -4.1M39.1 -24.0l-4.4 -1.7M34.7 -25.7l-3.2 2.4M32.6 -19.3l4.3 1.7M40.2 -19.9l-1.1 -4.1M46.6 -24.4l-4.3 -1.9M42.3 -26.3l-3.2 2.2M47.6 -20.3l-1.0 -4.1M53.9 -24.4l-4.2 -2.0M49.7 -26.5l-3.2 2.1M54.9 -20.4l-1.0 -4.1M61.1 -24.1l-4.0 -2.2M57.0 -26.3l-3.1 1.9M62.0 -20.1l-0.9 -4.0M68.0 -23.5l-3.9 -2.3M64.1 -25.9l-3.1 1.7M65.9 -17.8l3.0 -1.7M68.9 -19.5l-0.8 -4.0M74.7 -22.6l-3.7 -2.5M71.0 -25.1l-3.0 1.5M68.9 -19.5l3.7 2.4M72.6 -17.1l2.9 -1.5M75.5 -18.6l-0.8 -4.0M81.2 -21.3l-3.6 -2.6M77.6 -23.9l-2.9 1.4M75.5 -18.6l3.6 2.6M79.1 -16.0l2.8 -1.3M81.9 -17.3l-0.7 -3.9M87.4 -19.7l-3.4 -2.8M84.0 -22.5l-2.8 1.2M81.9 -17.3l3.4 2.7M85.3 -14.6l2.7 -1.2M88.0 -15.8l-0.6 -3.9M-12.9 -19.7l-4.5 -0.6M-17.5 -20.3l-3.0 3.3M-20.5 -17.0l1.5 3.9M-19.0 -13.1l4.5 0.6M-14.5 -12.5l3.0 -3.3M-11.5 -15.8l-1.4 -3.9M-5.3 -22.2l-4.6 -0.7M-9.8 -22.9l-3.1 3.2M-11.5 -15.8l4.5 0.7M-7.0 -15.1l3.1 -3.2M-3.8 -18.2l-1.4 -3.9M2.5 -24.3l-4.6 -0.9M-2.1 -25.2l-3.2 3.1M-3.8 -18.2l4.5 0.9M3.9 -20.4l-1.4 -4.0M10.3 -26.2l-4.6 -1.1M5.7 -27.2l-3.2 2.9M11.6 -22.2l-1.3 -4.0M18.1 -27.7l-4.6 -1.2M13.5 -28.9l-3.2 2.8M19.4 -23.7l-1.3 -4.0M25.9 -28.9l-4.5 -1.4M21.3 -30.3l-3.3 2.6M27.1 -24.9l-1.2 -4.0M33.6 -29.7l-4.5 -1.6M29.1 -31.3l-3.3 2.4M34.7 -25.7l-1.2 -4.0M41.2 -30.3l-4.4 -1.8M36.8 -32.0l-3.2 2.3M42.3 -26.3l-1.1 -4.0M48.7 -30.4l-4.3 -1.9M44.4 -32.4l-3.2 2.1M49.7 -26.5l-1.1 -4.0M56.0 -30.3l-4.2 -2.1M51.9 -32.4l-3.2 1.9M57.0 -26.3l-1.0 -4.0M63.2 -29.8l-4.1 -2.2M59.1 -32.0l-3.1 1.7M64.1 -25.9l-0.9 -3.9M70.1 -29.0l-3.9 -2.4M66.2 -31.3l-3.0 1.6M71.0 -25.1l-0.9 -3.9M76.8 -27.8l-3.8 -2.5M73.0 -30.3l-2.9 1.4M77.6 -23.9l-0.8 -3.9M83.2 -26.3l-3.6 -2.7M79.6 -29.0l-2.8 1.2M84.0 -22.5l-0.8 -3.8M89.3 -24.5l-3.4 -2.8M85.9 -27.3l-2.7 1.0M87.4 -19.7l2.6 -1.0M90.0 -20.7l-0.7 -3.8M-26.5 -21.1l-4.5 -0.3M-31.0 -21.4l-2.9 3.5M-33.9 -17.9l1.5 3.7M-32.4 -14.2l4.4 0.3M-27.9 -13.9l2.9 -3.5M-25.0 -17.4l-1.5 -3.8M-18.9 -24.1l-4.5 -0.4M-23.5 -24.5l-3.0 3.4M-25.0 -17.4l4.5 0.4M-17.5 -20.3l-1.5 -3.8M-11.3 -26.7l-4.6 -0.6M-15.9 -27.3l-3.1 3.2M-9.8 -22.9l-1.4 -3.8M-3.5 -29.1l-4.6 -0.8M-8.1 -29.8l-3.2 3.1M-2.1 -25.2l-1.4 -3.8M4.3 -31.1l-4.6 -0.9M-0.3 -32.0l-3.2 3.0M5.7 -27.2l-1.4 -3.9M12.2 -32.8l-4.6 -1.1M7.6 -33.9l-3.2 2.8M13.5 -28.9l-1.3 -3.9M20.1 -34.2l-4.6 -1.3M15.5 -35.4l-3.3 2.6M21.3 -30.3l-1.3 -3.9M27.9 -35.2l-4.5 -1.4M23.3 -36.6l-3.3 2.5M29.1 -31.3l-1.2 -3.9M35.6 -35.9l-4.5 -1.6M31.2 -37.5l-3.3 2.3M36.8 -32.0l-1.2 -3.9M43.3 -36.2l-4.4 -1.8M38.9 -38.0l-3.2 2.1M44.4 -32.4l-1.1 -3.9M50.8 -36.2l-4.3 -2.0M46.5 -38.2l-3.2 1.9M51.9 -32.4l-1.1 -3.9M58.1 -35.9l-4.2 -2.1M53.9 -38.0l-3.1 1.8M59.1 -32.0l-1.0 -3.8M65.2 -35.2l-4.1 -2.3M61.2 -37.4l-3.1 1.6M66.2 -31.3l-1.0 -3.8M72.1 -34.1l-3.9 -2.4M68.2 -36.5l-3.0 1.4M73.0 -30.3l-0.9 -3.8M78.8 -32.7l-3.7 -2.6M75.0 -35.3l-2.9 1.2M79.6 -29.0l-0.9 -3.7M85.1 -31.0l-3.6 -2.7M81.5 -33.8l-2.8 1.0M85.9 -27.3l-0.8 -3.7M91.1 -29.0l-3.4 -2.9M87.7 -31.9l-2.6 0.8M89.3 -24.5l2.6 -0.8M91.9 -25.3l-0.8 -3.7M-39.9 -21.6l-4.4 0.1M-44.3 -21.5l-2.8 3.6M-47.0 -17.9l1.6 3.5M-45.4 -14.4l4.3 -0.0M-41.1 -14.4l2.8 -3.6M-38.3 -18.0l-1.6 -3.6M-32.5 -25.0l-4.5 -0.1M-37.0 -25.1l-2.9 3.5M-38.3 -18.0l4.4 0.1M-31.0 -21.4l-1.5 -3.6M-25.0 -28.2l-4.5 -0.3M-29.5 -28.4l-3.0 3.4M-23.5 -24.5l-1.5 -3.7M-17.3 -31.0l-4.6 -0.4M-21.9 -31.4l-3.1 3.3M-15.9 -27.3l-1.5 -3.7M-9.6 -33.6l-4.6 -0.6M-14.2 -34.1l-3.1 3.1M-8.1 -29.8l-1.4 -3.7M-1.7 -35.8l-4.7 -0.8M-6.3 -36.5l-3.2 3.0M-0.3 -32.0l-1.4 -3.7M6.2 -37.7l-4.7 -0.9M1.6 -38.6l-3.2 2.8M7.6 -33.9l-1.4 -3.8M14.1 -39.2l-4.6 -1.1M9.5 -40.3l-3.3 2.7M15.5 -35.4l-1.3 -3.8M22.0 -40.4l-4.6 -1.3M17.4 -41.7l-3.3 2.5M23.3 -36.6l-1.3 -3.8M29.9 -41.3l-4.6 -1.5M25.3 -42.7l-3.3 2.3M31.2 -37.5l-1.3 -3.8M37.7 -41.8l-4.5 -1.6M33.2 -43.4l-3.3 2.1M38.9 -38.0l-1.2 -3.8M45.3 -41.9l-4.4 -1.8M40.9 -43.7l-3.2 2.0M46.5 -38.2l-1.2 -3.7M52.8 -41.7l-4.3 -2.0M48.5 -43.7l-3.2 1.8M53.9 -38.0l-1.1 -3.7M60.1 -41.1l-4.2 -2.2M55.9 -43.3l-3.1 1.6M61.2 -37.4l-1.1 -3.7M67.2 -40.2l-4.1 -2.3M63.1 -42.5l-3.0 1.4M68.2 -36.5l-1.0 -3.7M74.0 -39.0l-3.9 -2.5M70.1 -41.4l-2.9 1.2M75.0 -35.3l-1.0 -3.6M80.6 -37.4l-3.7 -2.6M76.9 -40.0l-2.8 1.0M81.5 -33.8l-0.9 -3.6M86.9 -35.4l-3.6 -2.8M83.3 -38.2l-2.7 0.8M87.7 -31.9l-0.9 -3.6M-52.9 -21.1l-4.2 0.4M-57.1 -20.7l-2.6 3.8M-59.6 -16.9l1.6 3.3M-58.1 -13.6l4.2 -0.4M-53.9 -14.0l2.6 -3.7M-51.3 -17.7l-1.6 -3.4M-45.8 -25.0l-4.3 0.2M-50.1 -24.7l-2.7 3.7M-51.3 -17.7l4.3 -0.2M-44.3 -21.5l-1.6 -3.4M-38.5 -28.6l-4.4 0.1M-43.0 -28.5l-2.8 3.5M-37.0 -25.1l-1.5 -3.5M-31.1 -32.0l-4.5 -0.1M-35.6 -32.0l-2.9 3.4M-29.5 -28.4l-1.5 -3.5M-23.4 -35.0l-4.6 -0.3M-28.0 -35.2l-3.0 3.3M-21.9 -31.4l-1.5 -3.6M-15.7 -37.7l-4.6 -0.4M-20.3 -38.2l-3.1 3.2M-14.2 -34.1l-1.5 -3.6M-7.8 -40.1l-4.7 -0.6M-12.5 -40.7l-3.2 3.0M-6.3 -36.5l-1.4 -3.6M0.1 -42.2l-4.7 -0.8M-4.5 -43.0l-3.2 2.9M1.6 -38.6l-1.4 -3.6M8.1 -44.0l-4.7 -1.0M3.4 -44.9l-3.3 2.7M9.5 -40.3l-1.4 -3.6M16.1 -45.3l-4.7 -1.1M11.4 -46.5l-3.3 2.5M17.4 -41.7l-1.3 -3.6M24.0 -46.4l-4.6 -1.3M19.4 -47.7l-3.3 2.3M25.3 -42.7l-1.3 -3.6M31.9 -47.0l-4.6 -1.5M27.3 -48.5l-3.3 2.2M33.2 -43.4l-1.3 -3.6M39.7 -47.4l-4.5 -1.7M35.1 -49.0l-3.3 2.0M40.9 -43.7l-1.2 -3.6M47.3 -47.3l-4.4 -1.8M42.9 -49.1l-3.2 1.8M48.5 -43.7l-1.2 -3.6M54.8 -46.9l-4.3 -2.0M50.4 -48.9l-3.2 1.6M55.9 -43.3l-1.2 -3.6M62.0 -46.1l-4.2 -2.2M57.8 -48.3l-3.1 1.4M63.1 -42.5l-1.1 -3.6M69.1 -45.0l-4.0 -2.4M65.0 -47.3l-3.0 1.2M70.1 -41.4l-1.1 -3.5M75.8 -43.5l-3.9 -2.5M72.0 -46.0l-2.9 1.0M76.9 -40.0l-1.0 -3.5M82.3 -41.6l-3.7 -2.7M78.6 -44.3l-2.8 0.8M83.3 -38.2l-1.0 -3.5M88.5 -39.5l-3.5 -2.8M85.0 -42.3l-2.6 0.6M86.9 -35.4l2.6 -0.6M89.4 -36.1l-0.9 -3.4M-65.3 -19.6l-4.0 0.7M-69.3 -18.9l-2.4 3.9M-71.6 -15.1l1.6 3.1M-70.1 -11.9l3.9 -0.7M-66.2 -12.6l2.4 -3.8M-63.7 -16.4l-1.6 -3.2M-58.6 -24.0l-4.1 0.6M-62.8 -23.4l-2.5 3.8M-63.7 -16.4l4.1 -0.5M-57.1 -20.7l-1.6 -3.3M-51.7 -28.0l-4.3 0.4M-56.0 -27.6l-2.7 3.7M-50.1 -24.7l-1.5 -3.3M-44.5 -31.9l-4.4 0.3M-48.9 -31.6l-2.8 3.6M-43.0 -28.5l-1.5 -3.3M-37.1 -35.4l-4.5 0.1M-41.6 -35.3l-2.9 3.5M-35.6 -32.0l-1.5 -3.4M-29.5 -38.7l-4.6 -0.1M-34.1 -38.7l-3.0 3.3M-28.0 -35.2l-1.5 -3.4M-21.8 -41.6l-4.6 -0.2M-26.4 -41.8l-3.1 3.2M-20.3 -38.2l-1.5 -3.4M-13.9 -44.2l-4.7 -0.4M-18.6 -44.6l-3.2 3.0M-12.5 -40.7l-1.5 -3.5M-6.0 -46.5l-4.7 -0.6M-10.7 -47.1l-3.2 2.9M-4.5 -43.0l-1.4 -3.5M2.0 -48.4l-4.7 -0.8M-2.7 -49.2l-3.3 2.7M3.4 -44.9l-1.4 -3.5M10.0 -50.0l-4.7 -1.0M5.3 -50.9l-3.3 2.5M11.4 -46.5l-1.4 -3.5M18.0 -51.2l-4.7 -1.1M13.3 -52.3l-3.3 2.4M19.4 -47.7l-1.4 -3.5M26.0 -52.0l-4.7 -1.3M21.3 -53.4l-3.3 2.2M27.3 -48.5l-1.3 -3.5M33.9 -52.5l-4.6 -1.5M29.3 -54.0l-3.3 2.0M35.1 -49.0l-1.3 -3.5M41.6 -52.6l-4.5 -1.7M37.1 -54.3l-3.2 1.8M42.9 -49.1l-1.3 -3.5M49.2 -52.4l-4.4 -1.9M44.8 -54.2l-3.2 1.6M50.4 -48.9l-1.2 -3.5M56.6 -51.7l-4.3 -2.0M52.3 -53.8l-3.1 1.4M57.8 -48.3l-1.2 -3.4M63.9 -50.7l-4.2 -2.2M59.7 -52.9l-3.0 1.2M65.0 -47.3l-1.1 -3.4M70.8 -49.4l-4.0 -2.4M66.8 -51.8l-2.9 1.0M72.0 -46.0l-1.1 -3.4M77.5 -47.7l-3.9 -2.5M73.7 -50.2l-2.8 0.8M78.6 -44.3l-1.1 -3.3M83.9 -45.6l-3.7 -2.7M80.2 -48.3l-2.7 0.6M85.0 -42.3l-1.0 -3.3M90.0 -43.2l-3.5 -2.8M86.5 -46.0l-2.6 0.4M88.5 -39.5l2.5 -0.5M91.0 -39.9l-1.0 -3.3M-70.8 -22.0l-3.9 0.9M-74.7 -21.1l-2.3 3.9M-77.0 -17.2l1.5 3.0M-75.5 -14.2l3.8 -0.8M-69.3 -18.9l-1.5 -3.0M-64.3 -26.5l-4.1 0.7M-68.4 -25.8l-2.5 3.8M-62.8 -23.4l-1.5 -3.1M-57.5 -30.8l-4.2 0.6M-61.7 -30.2l-2.6 3.7M-56.0 -27.6l-1.5 -3.1M-50.4 -34.8l-4.3 0.4M-54.7 -34.4l-2.7 3.6M-48.9 -31.6l-1.5 -3.2M-43.1 -38.5l-4.4 0.3M-47.5 -38.3l-2.9 3.5M-41.6 -35.3l-1.5 -3.2M-35.6 -42.0l-4.5 0.1M-40.1 -41.9l-3.0 3.3M-34.1 -38.7l-1.5 -3.2M-27.9 -45.1l-4.6 -0.1M-32.5 -45.2l-3.1 3.2M-26.4 -41.8l-1.5 -3.3M-20.1 -47.9l-4.7 -0.2M-24.8 -48.2l-3.2 3.0M-18.6 -44.6l-1.5 -3.3M-12.2 -50.4l-4.7 -0.4M-16.9 -50.8l-3.2 2.9M-10.7 -47.1l-1.5 -3.3M-4.2 -52.5l-4.7 -0.6M-8.9 -53.1l-3.3 2.7M-2.7 -49.2l-1.4 -3.3M3.9 -54.3l-4.7 -0.8M-0.9 -55.1l-3.3 2.6M5.3 -50.9l-1.4 -3.3M11.9 -55.7l-4.7 -1.0M7.2 -56.6l-3.3 2.4M13.3 -52.3l-1.4 -3.3M20.0 -56.7l-4.7 -1.2M15.2 -57.9l-3.3 2.2M21.3 -53.4l-1.4 -3.3M27.9 -57.4l-4.7 -1.3M23.3 -58.7l-3.3 2.0M29.3 -54.0l-1.3 -3.3M35.8 -57.6l-4.6 -1.5M31.2 -59.2l-3.3 1.8M37.1 -54.3l-1.3 -3.3M43.5 -57.5l-4.5 -1.7M39.0 -59.3l-3.2 1.6M44.8 -54.2l-1.3 -3.3M51.1 -57.1l-4.4 -1.9M46.7 -59.0l-3.2 1.4M52.3 -53.8l-1.3 -3.3M58.5 -56.2l-4.3 -2.1M54.2 -58.3l-3.1 1.2M59.7 -52.9l-1.2 -3.3M65.6 -55.0l-4.2 -2.2M61.5 -57.2l-3.0 1.0M66.8 -51.8l-1.2 -3.2M72.5 -53.4l-4.0 -2.4M68.5 -55.8l-2.9 0.8M73.7 -50.2l-1.2 -3.2M79.1 -51.4l-3.9 -2.6M75.3 -54.0l-2.8 0.6M80.2 -48.3l-1.1 -3.2M85.4 -49.2l-3.7 -2.7M81.8 -51.9l-2.6 0.4M86.5 -46.0l-1.1 -3.1M91.4 -46.5l-3.5 -2.9M87.9 -49.4l-2.5 0.2M90.0 -43.2l2.4 -0.3M92.4 -43.4l-1.0 -3.1M-76.2 -24.0l-3.8 1.0M-80.0 -22.9l-2.2 3.9M-82.2 -19.0l1.5 2.8M-80.7 -16.2l3.7 -1.0M-74.7 -21.1l-1.5 -2.9M-69.8 -28.7l-3.9 0.9M-73.8 -27.8l-2.4 3.8M-68.4 -25.8l-1.5 -2.9M-63.2 -33.2l-4.1 0.8M-67.3 -32.4l-2.6 3.7M-61.7 -30.2l-1.5 -3.0M-56.2 -37.4l-4.2 0.6M-60.5 -36.8l-2.7 3.6M-54.7 -34.4l-1.5 -3.0M-49.0 -41.3l-4.4 0.5M-53.4 -40.9l-2.8 3.5M-47.5 -38.3l-1.5 -3.0M-41.6 -45.0l-4.5 0.3M-46.1 -44.7l-2.9 3.4M-40.1 -41.9l-1.5 -3.1M-34.0 -48.3l-4.6 0.1M-38.6 -48.2l-3.0 3.2M-32.5 -45.2l-1.5 -3.1M-26.2 -51.3l-4.6 -0.1M-30.9 -51.4l-3.1 3.1M-24.8 -48.2l-1.5 -3.1M-18.3 -54.0l-4.7 -0.2M-23.0 -54.2l-3.2 2.9M-16.9 -50.8l-1.5 -3.1M-10.4 -56.3l-4.7 -0.4M-15.1 -56.7l-3.3 2.7M-8.9 -53.1l-1.5 -3.2M-2.3 -58.2l-4.8 -0.6M-7.1 -58.8l-3.3 2.6M-0.9 -55.1l-1.4 -3.2M5.8 -59.8l-4.8 -0.8M1.0 -60.6l-3.3 2.4M7.2 -56.6l-1.4 -3.2M13.8 -61.0l-4.7 -1.0M9.1 -62.0l-3.3 2.2M15.2 -57.9l-1.4 -3.2M21.9 -61.9l-4.7 -1.2M17.2 -63.1l-3.3 2.0M23.3 -58.7l-1.4 -3.2M29.8 -62.3l-4.7 -1.4M25.2 -63.7l-3.3 1.8M31.2 -59.2l-1.4 -3.2M37.7 -62.4l-4.6 -1.6M33.1 -64.0l-3.2 1.6M39.0 -59.3l-1.3 -3.2M45.4 -62.1l-4.5 -1.7M40.8 -63.8l-3.2 1.4M46.7 -59.0l-1.3 -3.1M52.9 -61.4l-4.4 -1.9M48.5 -63.3l-3.1 1.2M54.2 -58.3l-1.3 -3.1M60.2 -60.3l-4.3 -2.1M55.9 -62.4l-3.0 1.0M61.5 -57.2l-1.3 -3.1M67.3 -58.9l-4.1 -2.3M63.1 -61.1l-2.9 0.8M68.5 -55.8l-1.2 -3.1M74.1 -57.0l-4.0 -2.4M70.1 -59.5l-2.8 0.6M75.3 -54.0l-1.2 -3.0M80.6 -54.9l-3.8 -2.6M76.8 -57.5l-2.7 0.4M81.8 -51.9l-1.2 -3.0M86.8 -52.3l-3.6 -2.8M83.1 -55.1l-2.5 0.2M87.9 -49.4l-1.1 -2.9M-87.2 -20.5l-3.5 1.4M-90.7 -19.2l-2.0 4.0M-92.7 -15.2l1.4 2.6M-91.3 -12.6l3.4 -1.3M-87.9 -13.9l2.1 -4.0M-85.8 -17.9l-1.4 -2.7M-81.4 -25.6l-3.7 1.2M-85.1 -24.4l-2.2 3.9M-85.8 -17.9l3.6 -1.2M-80.0 -22.9l-1.4 -2.7M-75.2 -30.5l-3.8 1.1M-79.1 -29.4l-2.3 3.8M-73.8 -27.8l-1.4 -2.8M-68.7 -35.2l-4.0 0.9M-72.7 -34.2l-2.5 3.7M-67.3 -32.4l-1.5 -2.8M-61.9 -39.6l-4.2 0.8M-66.1 -38.8l-2.6 3.6M-60.5 -36.8l-1.5 -2.8M-54.9 -43.7l-4.3 0.6M-59.2 -43.1l-2.8 3.5M-53.4 -40.9l-1.5 -2.9M-47.6 -47.6l-4.4 0.5M-52.0 -47.1l-2.9 3.4M-46.1 -44.7l-1.5 -2.9M-40.1 -51.1l-4.5 0.3M-44.6 -50.8l-3.0 3.2M-38.6 -48.2l-1.5 -2.9M-32.4 -54.3l-4.6 0.1M-37.0 -54.2l-3.1 3.1M-30.9 -51.4l-1.5 -3.0M-24.5 -57.2l-4.7 -0.0M-29.2 -57.2l-3.2 2.9M-23.0 -54.2l-1.5 -3.0M-16.6 -59.7l-4.7 -0.2M-21.3 -59.9l-3.2 2.7M-15.1 -56.7l-1.5 -3.0M-8.5 -61.8l-4.8 -0.4M-13.3 -62.3l-3.3 2.6M-7.1 -58.8l-1.5 -3.0M-0.4 -63.6l-4.8 -0.6M-5.2 -64.2l-3.3 2.4M1.0 -60.6l-1.4 -3.0M7.7 -65.0l-4.8 -0.8M2.9 -65.8l-3.3 2.2M9.1 -62.0l-1.4 -3.0M15.7 -66.1l-4.7 -1.0M11.0 -67.1l-3.3 2.0M17.2 -63.1l-1.4 -3.0M23.8 -66.7l-4.7 -1.2M19.0 -67.9l-3.3 1.8M25.2 -63.7l-1.4 -3.0M31.7 -66.9l-4.7 -1.4M27.0 -68.3l-3.3 1.6M33.1 -64.0l-1.4 -3.0M39.5 -66.8l-4.6 -1.6M34.9 -68.4l-3.2 1.4M40.8 -63.8l-1.4 -3.0M47.1 -66.3l-4.5 -1.8M42.6 -68.0l-3.2 1.2M48.5 -63.3l-1.3 -3.0M54.6 -65.3l-4.4 -1.9M50.2 -67.3l-3.1 1.0M55.9 -62.4l-1.3 -2.9M61.8 -64.0l-4.3 -2.1M57.6 -66.2l-3.0 0.8M63.1 -61.1l-1.3 -2.9M68.8 -62.4l-4.1 -2.3M64.7 -64.6l-2.9 0.6M70.1 -59.5l-1.3 -2.9M75.5 -60.3l-4.0 -2.5M71.6 -62.8l-2.7 0.4M76.8 -57.5l-1.2 -2.8M81.9 -57.9l-3.8 -2.6M78.1 -60.5l-2.6 0.2M83.1 -55.1l-1.2 -2.8M88.0 -55.1l-3.6 -2.8M84.4 -57.9l-2.5 0.0M86.8 -52.3l2.4 -0.0M89.2 -52.4l-1.2 -2.8M-92.0 -21.7l-3.3 1.5M-95.3 -20.1l-1.9 4.0M-97.2 -16.2l1.3 2.4M-95.9 -13.7l3.3 -1.5M-90.7 -19.2l-1.3 -2.5M-86.4 -26.9l-3.5 1.4M-89.9 -25.5l-2.1 3.9M-85.1 -24.4l-1.4 -2.5M-80.5 -32.0l-3.7 1.3M-84.2 -30.8l-2.3 3.8M-79.1 -29.4l-1.4 -2.6M-74.1 -36.9l-3.9 1.1M-78.0 -35.7l-2.4 3.7M-72.7 -34.2l-1.4 -2.6M-67.5 -41.5l-4.0 1.0M-71.6 -40.5l-2.6 3.6M-66.1 -38.8l-1.4 -2.7M-60.6 -45.8l-4.2 0.8M-64.8 -45.0l-2.7 3.5M-59.2 -43.1l-1.4 -2.7M-53.4 -49.8l-4.3 0.7M-57.7 -49.1l-2.9 3.4M-52.0 -47.1l-1.4 -2.7M-46.0 -53.5l-4.4 0.5M-50.4 -53.0l-3.0 3.2M-44.6 -50.8l-1.4 -2.7M-38.4 -56.9l-4.5 0.3M-42.9 -56.6l-3.1 3.1M-37.0 -54.2l-1.4 -2.8M-30.6 -60.0l-4.6 0.1M-35.3 -59.9l-3.1 2.9M-29.2 -57.2l-1.5 -2.8M-22.7 -62.7l-4.7 -0.0M-27.4 -62.8l-3.2 2.8M-21.3 -59.9l-1.5 -2.8M-14.7 -65.1l-4.7 -0.2M-19.5 -65.3l-3.3 2.6M-13.3 -62.3l-1.5 -2.8M-6.7 -67.1l-4.8 -0.4M-11.4 -67.5l-3.3 2.4M-5.2 -64.2l-1.5 -2.8M1.4 -68.7l-4.8 -0.6M-3.3 -69.3l-3.3 2.2M2.9 -65.8l-1.4 -2.8M9.5 -69.9l-4.8 -0.8M4.8 -70.7l-3.3 2.0M11.0 -67.1l-1.4 -2.8M17.6 -70.7l-4.7 -1.0M12.9 -71.7l-3.3 1.8M19.0 -67.9l-1.4 -2.8M25.6 -71.1l-4.7 -1.2M20.9 -72.3l-3.3 1.6M27.0 -68.3l-1.4 -2.8M33.5 -71.2l-4.6 -1.4M28.9 -72.6l-3.2 1.4M34.9 -68.4l-1.4 -2.8M41.2 -70.8l-4.6 -1.6M36.7 -72.4l-3.2 1.2M42.6 -68.0l-1.4 -2.8M48.8 -70.0l-4.5 -1.8M44.4 -71.8l-3.1 1.0M50.2 -67.3l-1.4 -2.8M56.2 -68.9l-4.4 -2.0M51.9 -70.8l-3.0 0.8M57.6 -66.2l-1.4 -2.7M63.4 -67.4l-4.2 -2.1M59.1 -69.5l-2.9 0.6M64.7 -64.6l-1.3 -2.7M70.2 -65.4l-4.1 -2.3M66.2 -67.7l-2.8 0.4M71.6 -62.8l-1.3 -2.7M76.8 -63.1l-3.9 -2.5M72.9 -65.6l-2.7 0.2M78.1 -60.5l-1.3 -2.6M83.1 -60.5l-3.8 -2.6M79.4 -63.1l-2.5 -0.0M84.4 -57.9l-1.3 -2.6M89.0 -57.5l-3.6 -2.8M85.5 -60.3l-2.4 -0.2M88.0 -55.1l2.3 0.2M90.3 -54.9l-1.2 -2.6M-91.2 -27.9l-3.4 1.6M-94.6 -26.3l-2.0 3.9M-96.6 -22.4l1.3 2.3M-89.9 -25.5l-1.3 -2.4M-85.5 -33.1l-3.6 1.5M-89.0 -31.7l-2.2 3.8M-84.2 -30.8l-1.3 -2.4M-79.4 -38.2l-3.8 1.3M-83.1 -36.9l-2.4 3.7M-78.0 -35.7l-1.3 -2.4M-72.9 -42.9l-3.9 1.2M-76.8 -41.8l-2.5 3.6M-71.6 -40.5l-1.4 -2.5M-66.2 -47.5l-4.1 1.0M-70.2 -46.4l-2.7 3.5M-64.8 -45.0l-1.4 -2.5M-59.1 -51.7l-4.2 0.9M-63.4 -50.8l-2.8 3.4M-57.7 -49.1l-1.4 -2.5M-51.9 -55.6l-4.4 0.7M-56.2 -54.9l-2.9 3.2M-50.4 -53.0l-1.4 -2.6M-44.4 -59.2l-4.5 0.5M-48.8 -58.7l-3.0 3.1M-42.9 -56.6l-1.4 -2.6M-36.7 -62.5l-4.6 0.3M-41.2 -62.1l-3.1 2.9M-35.3 -59.9l-1.4 -2.6M-28.9 -65.4l-4.6 0.2M-33.5 -65.2l-3.2 2.8M-27.4 -62.8l-1.4 -2.6M-20.9 -67.9l-4.7 -0.0M-25.6 -68.0l-3.2 2.6M-19.5 -65.3l-1.4 -2.6M-12.9 -70.1l-4.7 -0.2M-17.6 -70.3l-3.3 2.4M-11.4 -67.5l-1.4 -2.6M-4.8 -71.9l-4.8 -0.4M-9.5 -72.3l-3.3 2.2M-3.3 -69.3l-1.4 -2.6M3.3 -73.3l-4.8 -0.6M-1.4 -73.9l-3.3 2.0M4.8 -70.7l-1.4 -2.6M11.4 -74.3l-4.8 -0.8M6.7 -75.1l-3.3 1.8M12.9 -71.7l-1.4 -2.6M19.5 -74.9l-4.7 -1.0M14.7 -76.0l-3.3 1.6M20.9 -72.3l-1.4 -2.6M27.4 -75.2l-4.7 -1.2M22.7 -76.4l-3.3 1.4M28.9 -72.6l-1.4 -2.6M35.3 -75.0l-4.6 -1.4M30.6 -76.4l-3.2 1.2M36.7 -72.4l-1.4 -2.6M42.9 -74.4l-4.5 -1.6M38.4 -76.0l-3.1 1.0M44.4 -71.8l-1.4 -2.6M50.4 -73.4l-4.4 -1.8M46.0 -75.2l-3.1 0.8M51.9 -70.8l-1.4 -2.6M57.7 -72.0l-4.3 -2.0M53.4 -74.0l-3.0 0.6M59.1 -69.5l-1.4 -2.5M64.8 -70.2l-4.2 -2.1M60.6 -72.4l-2.9 0.4M66.2 -67.7l-1.4 -2.5M71.6 -68.1l-4.0 -2.3M67.5 -70.4l-2.7 0.2M72.9 -65.6l-1.4 -2.5M78.0 -65.6l-3.9 -2.5M74.1 -68.0l-2.6 -0.0M79.4 -63.1l-1.3 -2.4M84.2 -62.7l-3.7 -2.6M80.5 -65.3l-2.4 -0.2M85.5 -60.3l-1.3 -2.4M89.9 -59.4l-3.5 -2.8M86.4 -62.2l-2.3 -0.4M89.0 -57.5l2.2 0.4M91.2 -57.1l-1.3 -2.4M-90.3 -33.9l-3.4 1.6M-93.7 -32.3l-2.1 3.8M-95.8 -28.5l1.2 2.2M-89.0 -31.7l-1.2 -2.2M-84.4 -39.1l-3.6 1.5M-88.0 -37.6l-2.3 3.7M-83.1 -36.9l-1.3 -2.2M-78.1 -44.0l-3.8 1.4M-81.9 -42.7l-2.5 3.6M-76.8 -41.8l-1.3 -2.3M-71.6 -48.7l-4.0 1.2M-75.5 -47.5l-2.6 3.5M-70.2 -46.4l-1.3 -2.3M-64.7 -53.1l-4.1 1.1M-68.8 -52.1l-2.7 3.4M-63.4 -50.8l-1.3 -2.3M-57.6 -57.3l-4.3 0.9M-61.8 -56.4l-2.9 3.2M-56.2 -54.9l-1.4 -2.4M-50.2 -61.1l-4.4 0.7M-54.6 -60.3l-3.0 3.1M-48.8 -58.7l-1.4 -2.4M-42.6 -64.5l-4.5 0.5M-47.1 -64.0l-3.1 2.9M-41.2 -62.1l-1.4 -2.4M-34.9 -67.6l-4.6 0.4M-39.5 -67.3l-3.2 2.8M-33.5 -65.2l-1.4 -2.4M-27.0 -70.4l-4.7 0.2M-31.7 -70.2l-3.2 2.6M-25.6 -68.0l-1.4 -2.4M-19.0 -72.8l-4.7 -0.0M-23.8 -72.8l-3.3 2.4M-17.6 -70.3l-1.4 -2.4M-11.0 -74.8l-4.7 -0.2M-15.7 -75.0l-3.3 2.2M-9.5 -72.3l-1.4 -2.4M-2.9 -76.4l-4.8 -0.4M-7.7 -76.8l-3.3 2.0M-1.4 -73.9l-1.4 -2.4M5.2 -77.6l-4.8 -0.6M0.4 -78.2l-3.3 1.8M6.7 -75.1l-1.5 -2.4M13.3 -78.4l-4.8 -0.8M8.5 -79.2l-3.3 1.6M14.7 -76.0l-1.5 -2.4M21.3 -78.8l-4.7 -1.0M16.6 -79.8l-3.3 1.4M22.7 -76.4l-1.5 -2.4M29.2 -78.8l-4.7 -1.2M24.5 -80.0l-3.2 1.2M30.6 -76.4l-1.5 -2.4M37.0 -78.4l-4.6 -1.4M32.4 -79.8l-3.2 1.0M38.4 -76.0l-1.4 -2.4M44.6 -77.5l-4.5 -1.6M40.1 -79.1l-3.1 0.8M46.0 -75.2l-1.4 -2.4M52.0 -76.3l-4.4 -1.8M47.6 -78.1l-3.0 0.6M53.4 -74.0l-1.4 -2.3M59.2 -74.7l-4.3 -2.0M54.9 -76.7l-2.9 0.4M60.6 -72.4l-1.4 -2.3M66.1 -72.7l-4.2 -2.2M61.9 -74.8l-2.8 0.1M67.5 -70.4l-1.4 -2.3M72.7 -70.3l-4.0 -2.3M68.7 -72.6l-2.6 -0.1M74.1 -68.0l-1.4 -2.3M79.1 -67.5l-3.8 -2.5M75.2 -70.0l-2.5 -0.3M80.5 -65.3l-1.4 -2.2M85.1 -64.4l-3.7 -2.7M81.4 -67.1l-2.3 -0.5M86.4 -62.2l-1.4 -2.2M90.7 -60.9l-3.5 -2.8M87.2 -63.7l-2.2 -0.7M89.9 -59.4l2.1 0.6M92.0 -58.8l-1.3 -2.1M-89.2 -39.6l-3.4 1.7M-92.6 -38.0l-2.2 3.7M-94.8 -34.3l1.2 2.0M-88.0 -37.6l-1.2 -2.0M-83.1 -44.8l-3.6 1.5M-86.8 -43.2l-2.4 3.6M-81.9 -42.7l-1.2 -2.1M-76.8 -49.6l-3.8 1.4M-80.6 -48.2l-2.5 3.5M-75.5 -47.5l-1.2 -2.1M-70.1 -54.2l-4.0 1.2M-74.1 -53.0l-2.7 3.3M-68.8 -52.1l-1.3 -2.1M-63.1 -58.5l-4.1 1.1M-67.3 -57.4l-2.8 3.2M-61.8 -56.4l-1.3 -2.2M-55.9 -62.5l-4.3 0.9M-60.2 -61.6l-2.9 3.1M-54.6 -60.3l-1.3 -2.2M-48.5 -66.2l-4.4 0.7M-52.9 -65.4l-3.0 2.9M-47.1 -64.0l-1.3 -2.2M-40.8 -69.5l-4.5 0.6M-45.4 -68.9l-3.1 2.7M-39.5 -67.3l-1.4 -2.2M-33.1 -72.4l-4.6 0.4M-37.7 -72.0l-3.2 2.6M-31.7 -70.2l-1.4 -2.2M-25.2 -75.0l-4.7 0.2M-29.8 -74.8l-3.2 2.4M-23.8 -72.8l-1.4 -2.2M-17.2 -77.2l-4.7 -0.0M-21.9 -77.2l-3.3 2.2M-15.7 -75.0l-1.4 -2.2M-9.1 -79.0l-4.7 -0.2M-13.8 -79.2l-3.3 2.0M-7.7 -76.8l-1.4 -2.2M-1.0 -80.4l-4.8 -0.4M-5.8 -80.8l-3.3 1.8M0.4 -78.2l-1.4 -2.2M7.1 -81.4l-4.8 -0.6M2.3 -82.0l-3.3 1.6M8.5 -79.2l-1.5 -2.2M15.1 -82.0l-4.7 -0.8M10.4 -82.8l-3.3 1.4M16.6 -79.8l-1.5 -2.2M23.0 -82.2l-4.7 -1.0M18.3 -83.2l-3.3 1.2M24.5 -80.0l-1.5 -2.2M30.9 -81.9l-4.6 -1.2M26.2 -83.2l-3.2 1.0M32.4 -79.8l-1.5 -2.2M38.6 -81.3l-4.6 -1.4M34.0 -82.7l-3.1 0.8M40.1 -79.1l-1.5 -2.2M46.1 -80.3l-4.5 -1.6M41.6 -81.9l-3.0 0.6M47.6 -78.1l-1.5 -2.1M53.4 -78.8l-4.4 -1.8M49.0 -80.6l-2.9 0.3M54.9 -76.7l-1.5 -2.1M60.5 -76.9l-4.2 -2.0M56.2 -78.9l-2.8 0.1M61.9 -74.8l-1.5 -2.1M67.3 -74.7l-4.1 -2.2M63.2 -76.9l-2.7 -0.1M68.7 -72.6l-1.5 -2.1M73.8 -72.1l-3.9 -2.3M69.8 -74.4l-2.6 -0.3M75.2 -70.0l-1.4 -2.0M80.0 -69.1l-3.8 -2.5M76.2 -71.6l-2.4 -0.5M81.4 -67.1l-1.4 -2.0M85.8 -65.7l-3.6 -2.7M82.2 -68.4l-2.2 -0.7M87.2 -63.7l-1.4 -2.0M91.3 -62.0l-3.4 -2.8M87.9 -64.8l-2.1 -0.9M90.7 -60.9l2.0 0.8M92.7 -60.1l-1.4 -1.9M-87.9 -45.1l-3.5 1.7M-91.4 -43.4l-2.3 3.6M-93.7 -39.8l1.1 1.8M-86.8 -43.2l-1.1 -1.9M-81.8 -50.1l-3.7 1.6M-85.4 -48.5l-2.5 3.4M-80.6 -48.2l-1.2 -1.9M-75.3 -54.9l-3.9 1.4M-79.1 -53.5l-2.6 3.3M-74.1 -53.0l-1.2 -1.9M-68.5 -59.4l-4.0 1.3M-72.5 -58.1l-2.8 3.2M-67.3 -57.4l-1.2 -1.9M-61.5 -63.6l-4.2 1.1M-65.6 -62.4l-2.9 3.1M-60.2 -61.6l-1.3 -2.0M-54.2 -67.4l-4.3 0.9M-58.5 -66.4l-3.0 2.9M-52.9 -65.4l-1.3 -2.0M-46.7 -70.9l-4.4 0.8M-51.1 -70.1l-3.1 2.7M-45.4 -68.9l-1.3 -2.0M-39.0 -74.0l-4.5 0.6M-43.5 -73.5l-3.2 2.6M-37.7 -72.0l-1.3 -2.0M-31.2 -76.8l-4.6 0.4M-35.8 -76.4l-3.2 2.4M-29.8 -74.8l-1.4 -2.0M-23.3 -79.2l-4.7 0.2M-27.9 -79.0l-3.3 2.2M-21.9 -77.2l-1.4 -2.0M-15.2 -81.2l-4.7 -0.0M-20.0 -81.2l-3.3 2.0M-13.8 -79.2l-1.4 -2.0M-7.2 -82.8l-4.7 -0.2M-11.9 -83.0l-3.3 1.8M-5.8 -80.8l-1.4 -2.0M0.9 -84.0l-4.7 -0.4M-3.9 -84.4l-3.3 1.6M2.3 -82.0l-1.4 -2.0M8.9 -84.8l-4.7 -0.6M4.2 -85.4l-3.3 1.4M10.4 -82.8l-1.5 -2.0M16.9 -85.2l-4.7 -0.8M12.2 -86.0l-3.3 1.2M18.3 -83.2l-1.5 -2.0M24.8 -85.1l-4.7 -1.0M20.1 -86.1l-3.2 1.0M26.2 -83.2l-1.5 -2.0M32.5 -84.7l-4.6 -1.2M27.9 -85.9l-3.2 0.8M34.0 -82.7l-1.5 -2.0M40.1 -83.8l-4.5 -1.4M35.6 -85.2l-3.1 0.5M41.6 -81.9l-1.5 -1.9M47.5 -82.5l-4.4 -1.6M43.1 -84.1l-3.0 0.3M49.0 -80.6l-1.5 -1.9M54.7 -80.8l-4.3 -1.8M50.4 -82.6l-2.9 0.1M56.2 -78.9l-1.5 -1.9M61.7 -78.7l-4.2 -2.0M57.5 -80.7l-2.7 -0.1M63.2 -76.9l-1.5 -1.9M68.4 -76.3l-4.1 -2.2M64.3 -78.4l-2.6 -0.3M69.8 -74.4l-1.5 -1.8M74.7 -73.4l-3.9 -2.3M70.8 -75.7l-2.5 -0.5M76.2 -71.6l-1.5 -1.8M80.7 -70.2l-3.7 -2.5M77.0 -72.7l-2.3 -0.7M82.2 -68.4l-1.5 -1.8M86.4 -66.6l-3.5 -2.7M82.9 -69.2l-2.1 -0.9M87.9 -64.8l-1.5 -1.7M-92.4 -45.0l-3.3 1.9M-95.7 -43.1l-2.2 3.5M-98.0 -39.6l1.0 1.6M-97.0 -37.9l3.3 -1.9M-91.4 -43.4l-1.0 -1.7M-86.5 -50.2l-3.5 1.8M-90.0 -48.5l-2.4 3.4M-85.4 -48.5l-1.1 -1.7M-80.2 -55.2l-3.7 1.6M-83.9 -53.5l-2.6 3.3M-79.1 -53.5l-1.1 -1.7M-73.7 -59.8l-3.9 1.5M-77.5 -58.4l-2.7 3.2M-72.5 -58.1l-1.2 -1.7M-66.8 -64.2l-4.0 1.3M-70.8 -62.9l-2.8 3.0M-65.6 -62.4l-1.2 -1.8M-59.7 -68.2l-4.2 1.1M-63.9 -67.1l-2.9 2.9M-58.5 -66.4l-1.2 -1.8M-52.3 -71.9l-4.3 1.0M-56.6 -70.9l-3.0 2.7M-51.1 -70.1l-1.3 -1.8M-44.8 -75.2l-4.4 0.8M-49.2 -74.5l-3.1 2.6M-43.5 -73.5l-1.3 -1.8M-37.1 -78.2l-4.5 0.6M-41.6 -77.6l-3.2 2.4M-35.8 -76.4l-1.3 -1.8M-29.3 -80.8l-4.6 0.4M-33.9 -80.4l-3.2 2.2M-27.9 -79.0l-1.3 -1.8M-21.3 -83.0l-4.7 0.2M-26.0 -82.8l-3.3 2.0M-20.0 -81.2l-1.4 -1.8M-13.3 -84.8l-4.7 0.0M-18.0 -84.8l-3.3 1.8M-11.9 -83.0l-1.4 -1.8M-5.3 -86.2l-4.7 -0.2M-10.0 -86.4l-3.3 1.6M-3.9 -84.4l-1.4 -1.8M2.7 -87.2l-4.7 -0.4M-2.0 -87.6l-3.3 1.4M4.2 -85.4l-1.4 -1.8M10.7 -87.8l-4.7 -0.6M6.0 -88.4l-3.3 1.2M12.2 -86.0l-1.5 -1.8M18.6 -87.9l-4.7 -0.8M13.9 -88.7l-3.2 1.0M20.1 -86.1l-1.5 -1.8M26.4 -87.6l-4.6 -1.0M21.8 -88.7l-3.2 0.7M27.9 -85.9l-1.5 -1.7M34.1 -86.9l-4.6 -1.2M29.5 -88.2l-3.1 0.5M35.6 -85.2l-1.5 -1.7M41.6 -85.8l-4.5 -1.4M37.1 -87.2l-3.0 0.3M43.1 -84.1l-1.5 -1.7M48.9 -84.3l-4.4 -1.6M44.5 -85.9l-2.9 0.1M50.4 -82.6l-1.5 -1.7M56.0 -82.4l-4.3 -1.8M51.7 -84.2l-2.8 -0.1M57.5 -80.7l-1.5 -1.7M62.8 -80.1l-4.1 -2.0M58.6 -82.0l-2.7 -0.3M64.3 -78.4l-1.5 -1.6M69.3 -77.3l-4.0 -2.2M65.3 -79.5l-2.5 -0.5M70.8 -75.7l-1.5 -1.6M75.5 -74.3l-3.8 -2.3M71.6 -76.6l-2.4 -0.8M77.0 -72.7l-1.5 -1.6M81.3 -70.8l-3.7 -2.5M77.7 -73.3l-2.2 -1.0M82.9 -69.2l-1.5 -1.6M-91.0 -49.9l-3.3 2.0M-94.3 -48.0l-2.3 3.4M-96.7 -44.6l0.9 1.5M-90.0 -48.5l-1.0 -1.5M-85.0 -55.0l-3.5 1.8M-88.5 -53.2l-2.5 3.3M-83.9 -53.5l-1.0 -1.5M-78.6 -59.9l-3.7 1.7M-82.3 -58.2l-2.6 3.2M-77.5 -58.4l-1.1 -1.5M-72.0 -64.4l-3.9 1.5M-75.8 -62.9l-2.8 3.0M-70.8 -62.9l-1.1 -1.5M-65.0 -68.6l-4.0 1.3M-69.1 -67.3l-2.9 2.9M-63.9 -67.1l-1.1 -1.5M-57.8 -72.5l-4.2 1.2M-62.0 -71.3l-3.0 2.7M-56.6 -70.9l-1.2 -1.6M-50.4 -76.0l-4.3 1.0M-54.8 -75.0l-3.1 2.5M-49.2 -74.5l-1.2 -1.6M-42.9 -79.2l-4.4 0.8M-47.3 -78.4l-3.2 2.4M-41.6 -77.6l-1.3 -1.6M-35.1 -82.0l-4.5 0.6M-39.7 -81.4l-3.2 2.2M-33.9 -80.4l-1.3 -1.6M-27.3 -84.4l-4.6 0.4M-31.9 -84.0l-3.3 2.0M-26.0 -82.8l-1.3 -1.6M-19.4 -86.4l-4.6 0.2M-24.0 -86.2l-3.3 1.8M-18.0 -84.8l-1.4 -1.6M-11.4 -88.0l-4.7 0.0M-16.1 -88.0l-3.3 1.6M-10.0 -86.4l-1.4 -1.6M-3.4 -89.2l-4.7 -0.2M-8.1 -89.3l-3.3 1.4M-2.0 -87.6l-1.4 -1.6M4.5 -89.9l-4.7 -0.4M-0.1 -90.3l-3.3 1.2M6.0 -88.4l-1.4 -1.6M12.5 -90.3l-4.7 -0.6M7.8 -90.9l-3.2 0.9M13.9 -88.7l-1.5 -1.5M20.3 -90.2l-4.6 -0.8M15.7 -91.0l-3.2 0.7M21.8 -88.7l-1.5 -1.5M28.0 -89.7l-4.6 -1.0M23.4 -90.7l-3.1 0.5M29.5 -88.2l-1.5 -1.5M35.6 -88.7l-4.5 -1.2M31.1 -90.0l-3.0 0.3M37.1 -87.2l-1.5 -1.5M43.0 -87.4l-4.4 -1.4M38.5 -88.8l-2.9 0.1M44.5 -85.9l-1.5 -1.5M50.1 -85.6l-4.3 -1.6M45.8 -87.2l-2.8 -0.2M51.7 -84.2l-1.5 -1.5M57.1 -83.5l-4.2 -1.8M52.9 -85.3l-2.7 -0.4M58.6 -82.0l-1.6 -1.4M63.7 -80.9l-4.1 -2.0M59.6 -82.9l-2.6 -0.6M65.3 -79.5l-1.6 -1.4M70.1 -78.0l-3.9 -2.2M66.2 -80.1l-2.4 -0.8M71.6 -76.6l-1.6 -1.4M76.1 -74.7l-3.8 -2.3M72.3 -77.0l-2.3 -1.0M77.7 -73.3l-1.6 -1.4M81.8 -71.0l-3.6 -2.5M78.2 -73.5l-2.1 -1.2M81.3 -70.8l2.0 1.1M83.3 -69.6l-1.6 -1.3M-89.4 -54.5l-3.4 2.0M-92.8 -52.5l-2.4 3.2M-95.2 -49.3l0.9 1.3M-88.5 -53.2l-0.9 -1.3M-83.3 -59.5l-3.6 1.9M-86.9 -57.6l-2.6 3.1M-82.3 -58.2l-1.0 -1.3M-76.9 -64.2l-3.7 1.7M-80.6 -62.5l-2.7 3.0M-75.8 -62.9l-1.0 -1.3M-70.1 -68.6l-3.9 1.5M-74.0 -67.0l-2.8 2.8M-69.1 -67.3l-1.1 -1.3M-63.1 -72.6l-4.1 1.4M-67.2 -71.3l-2.9 2.7M-62.0 -71.3l-1.1 -1.3M-55.9 -76.4l-4.2 1.2M-60.1 -75.2l-3.0 2.5M-54.8 -75.0l-1.2 -1.3M-48.5 -79.7l-4.3 1.0M-52.8 -78.7l-3.1 2.3M-47.3 -78.4l-1.2 -1.3M-40.9 -82.7l-4.4 0.8M-45.3 -81.9l-3.2 2.2M-39.7 -81.4l-1.2 -1.3M-33.2 -85.3l-4.5 0.6M-37.7 -84.7l-3.2 2.0M-31.9 -84.0l-1.3 -1.3M-25.3 -87.5l-4.6 0.4M-29.9 -87.1l-3.3 1.8M-24.0 -86.2l-1.3 -1.3M-17.4 -89.3l-4.6 0.2M-22.0 -89.1l-3.3 1.6M-16.1 -88.0l-1.3 -1.3M-9.5 -90.7l-4.6 0.0M-14.1 -90.6l-3.3 1.4M-8.1 -89.3l-1.4 -1.3M-1.6 -91.6l-4.7 -0.2M-6.2 -91.8l-3.3 1.1M-0.1 -90.3l-1.4 -1.3M6.3 -92.2l-4.7 -0.4M1.7 -92.6l-3.2 0.9M7.8 -90.9l-1.4 -1.3M14.2 -92.3l-4.6 -0.6M9.6 -92.9l-3.2 0.7M15.7 -91.0l-1.5 -1.3M21.9 -92.0l-4.6 -0.8M17.3 -92.8l-3.1 0.5M23.4 -90.7l-1.5 -1.3M29.5 -91.2l-4.5 -1.0M25.0 -92.2l-3.1 0.3M31.1 -90.0l-1.5 -1.3M37.0 -90.1l-4.5 -1.2M32.5 -91.3l-3.0 0.0M38.5 -88.8l-1.5 -1.3M44.3 -88.5l-4.4 -1.4M39.9 -89.9l-2.9 -0.2M45.8 -87.2l-1.6 -1.2M51.3 -86.5l-4.3 -1.6M47.0 -88.1l-2.8 -0.4M52.9 -85.3l-1.6 -1.2M58.1 -84.1l-4.2 -1.8M53.9 -85.9l-2.6 -0.6M59.6 -82.9l-1.6 -1.2M64.6 -81.3l-4.0 -2.0M60.5 -83.3l-2.5 -0.8M66.2 -80.1l-1.6 -1.2M70.7 -78.1l-3.9 -2.2M66.9 -80.3l-2.3 -1.0M72.3 -77.0l-1.6 -1.1M-87.7 -58.7l-3.4 2.0M-91.1 -56.7l-2.5 3.1M-93.6 -53.6l0.8 1.1M-86.9 -57.6l-0.9 -1.1M-81.5 -63.6l-3.6 1.9M-85.1 -61.7l-2.6 3.0M-80.6 -62.5l-0.9 -1.1M-75.0 -68.1l-3.7 1.7M-78.8 -66.4l-2.8 2.8M-74.0 -67.0l-1.0 -1.1M-68.2 -72.4l-3.9 1.6M-72.1 -70.8l-2.9 2.7M-67.2 -71.3l-1.0 -1.1M-61.2 -76.3l-4.1 1.4M-65.2 -74.9l-3.0 2.5M-60.1 -75.2l-1.1 -1.1M-53.9 -79.8l-4.2 1.2M-58.1 -78.6l-3.1 2.3M-52.8 -78.7l-1.1 -1.1M-46.5 -83.0l-4.3 1.0M-50.8 -81.9l-3.1 2.1M-45.3 -81.9l-1.2 -1.1M-38.9 -85.8l-4.4 0.8M-43.3 -84.9l-3.2 1.9M-37.7 -84.7l-1.2 -1.1M-31.2 -88.2l-4.5 0.7M-35.6 -87.5l-3.2 1.7M-29.9 -87.1l-1.3 -1.1M-23.3 -90.2l-4.5 0.4M-27.9 -89.7l-3.3 1.5M-22.0 -89.1l-1.3 -1.1M-15.5 -91.7l-4.6 0.2M-20.1 -91.5l-3.3 1.3M-14.1 -90.6l-1.3 -1.1M-7.6 -92.9l-4.6 0.0M-12.2 -92.9l-3.3 1.1M-6.2 -91.8l-1.4 -1.1M0.3 -93.6l-4.6 -0.2M-4.3 -93.8l-3.2 0.9M1.7 -92.6l-1.4 -1.1M8.1 -94.0l-4.6 -0.4M3.5 -94.3l-3.2 0.7M9.6 -92.9l-1.4 -1.1M15.9 -93.8l-4.6 -0.6M11.3 -94.4l-3.2 0.5M17.3 -92.8l-1.5 -1.1M23.5 -93.3l-4.5 -0.8M18.9 -94.1l-3.1 0.2M25.0 -92.2l-1.5 -1.0M31.0 -92.3l-4.5 -1.0M26.5 -93.3l-3.0 0.0M32.5 -91.3l-1.5 -1.0M38.3 -90.9l-4.4 -1.2M33.9 -92.1l-2.9 -0.2M39.9 -89.9l-1.6 -1.0M45.4 -89.1l-4.3 -1.4M41.1 -90.5l-2.8 -0.4M47.0 -88.1l-1.6 -1.0M52.3 -86.9l-4.2 -1.6M48.1 -88.5l-2.7 -0.6M53.9 -85.9l-1.6 -1.0M58.9 -84.2l-4.1 -1.8M54.8 -86.0l-2.5 -0.8M60.5 -83.3l-1.6 -1.0M65.2 -81.2l-3.9 -2.0M61.3 -83.2l-2.4 -1.0M66.9 -80.3l-1.6 -0.9M-91.9 -57.5l-3.2 2.2M-95.1 -55.3l-2.4 3.1M-97.5 -52.3l0.7 0.9M-96.8 -51.4l3.2 -2.2M-91.1 -56.7l-0.8 -0.9M-85.9 -62.6l-3.4 2.1M-89.3 -60.5l-2.6 2.9M-85.1 -61.7l-0.8 -0.9M-79.6 -67.3l-3.6 1.9M-83.2 -65.3l-2.7 2.8M-78.8 -66.4l-0.9 -0.9M-73.0 -71.7l-3.8 1.8M-76.8 -69.9l-2.8 2.6M-72.1 -70.8l-0.9 -0.9M-66.2 -75.7l-3.9 1.6M-70.1 -74.1l-2.9 2.5M-65.2 -74.9l-1.0 -0.9M-59.1 -79.5l-4.1 1.4M-63.2 -78.0l-3.0 2.3M-58.1 -78.6l-1.0 -0.9M-51.9 -82.8l-4.2 1.2M-56.0 -81.6l-3.1 2.1M-50.8 -81.9l-1.1 -0.9M-44.4 -85.8l-4.3 1.1M-48.7 -84.8l-3.2 1.9M-43.3 -84.9l-1.1 -0.9M-36.8 -88.4l-4.4 0.9M-41.2 -87.5l-3.2 1.7M-35.6 -87.5l-1.2 -0.9M-29.1 -90.6l-4.5 0.7M-33.6 -89.9l-3.2 1.5M-27.9 -89.7l-1.2 -0.9M-21.3 -92.4l-4.5 0.5M-25.9 -91.9l-3.3 1.3M-20.1 -91.5l-1.3 -0.9M-13.5 -93.7l-4.6 0.3M-18.1 -93.5l-3.3 1.1M-12.2 -92.9l-1.3 -0.9M-5.7 -94.7l-4.6 0.0M-10.3 -94.6l-3.2 0.9M-4.3 -93.8l-1.4 -0.8M2.1 -95.2l-4.6 -0.2M-2.5 -95.3l-3.2 0.7M3.5 -94.3l-1.4 -0.8M9.8 -95.2l-4.6 -0.4M5.3 -95.6l-3.2 0.4M11.3 -94.4l-1.4 -0.8M17.5 -94.9l-4.5 -0.6M12.9 -95.5l-3.1 0.2M18.9 -94.1l-1.5 -0.8M25.0 -94.1l-4.5 -0.8M20.5 -94.9l-3.0 0.0M26.5 -93.3l-1.5 -0.8M32.4 -92.9l-4.4 -1.0M27.9 -93.9l-2.9 -0.2M33.9 -92.1l-1.5 -0.8M39.5 -91.3l-4.3 -1.2M35.2 -92.5l-2.8 -0.4M41.1 -90.5l-1.6 -0.8M46.5 -89.2l-4.2 -1.4M42.2 -90.6l-2.7 -0.7M48.1 -88.5l-1.6 -0.8M-90.0 -61.1l-3.2 2.3M-93.2 -58.9l-2.5 2.9M-95.7 -56.0l0.6 0.7M-89.3 -60.5l-0.7 -0.7M-84.0 -66.0l-3.4 2.1M-87.4 -63.9l-2.6 2.7M-83.2 -65.3l-0.8 -0.7M-77.6 -70.6l-3.6 2.0M-81.2 -68.6l-2.8 2.6M-76.8 -69.9l-0.8 -0.7M-71.0 -74.8l-3.7 1.8M-74.7 -73.0l-2.9 2.4M-70.1 -74.1l-0.9 -0.7M-64.1 -78.7l-3.9 1.6M-68.0 -77.1l-3.0 2.3M-63.2 -78.0l-0.9 -0.7M-57.0 -82.2l-4.0 1.5M-61.1 -80.8l-3.1 2.1M-56.0 -81.6l-1.0 -0.7M-49.7 -85.4l-4.2 1.3M-53.9 -84.1l-3.1 1.9M-48.7 -84.8l-1.1 -0.6M-42.3 -88.2l-4.3 1.1M-46.6 -87.1l-3.2 1.7M-41.2 -87.5l-1.1 -0.6M-34.7 -90.6l-4.4 0.9M-39.1 -89.7l-3.2 1.5M-33.6 -89.9l-1.2 -0.6M-27.1 -92.5l-4.4 0.7M-31.5 -91.9l-3.2 1.3M-25.9 -91.9l-1.2 -0.6M-19.4 -94.1l-4.5 0.5M-23.8 -93.6l-3.2 1.1M-18.1 -93.5l-1.3 -0.6M-11.6 -95.2l-4.5 0.3M-16.1 -95.0l-3.2 0.9M-10.3 -94.6l-1.3 -0.6M-3.9 -95.9l-4.5 0.1M-8.4 -95.9l-3.2 0.6M-2.5 -95.3l-1.4 -0.6M3.8 -96.2l-4.5 -0.2M-0.7 -96.4l-3.2 0.4M5.3 -95.6l-1.4 -0.6M11.5 -96.1l-4.5 -0.4M7.0 -96.4l-3.1 0.2M12.9 -95.5l-1.4 -0.6M19.0 -95.5l-4.5 -0.6M14.5 -96.0l-3.0 -0.0M20.5 -94.9l-1.5 -0.6M26.4 -94.4l-4.4 -0.8M22.0 -95.2l-3.0 -0.2M27.9 -93.9l-1.5 -0.6M33.6 -93.0l-4.4 -1.0M29.3 -94.0l-2.9 -0.5M35.2 -92.5l-1.6 -0.5M-88.0 -64.3l-3.2 2.3M-91.2 -62.0l-2.6 2.7M-93.8 -59.3l0.6 0.4M-87.4 -63.9l-0.6 -0.4M-81.9 -69.0l-3.4 2.2M-85.3 -66.9l-2.7 2.6M-81.2 -68.6l-0.7 -0.4M-75.5 -73.4l-3.6 2.0M-79.1 -71.4l-2.8 2.4M-74.7 -73.0l-0.8 -0.4M-68.9 -77.5l-3.7 1.8M-72.6 -75.6l-2.9 2.2M-68.0 -77.1l-0.8 -0.4M-62.0 -81.2l-3.9 1.7M-65.9 -79.5l-3.0 2.1M-61.1 -80.8l-0.9 -0.4M-54.9 -84.5l-4.0 1.5M-58.9 -83.1l-3.1 1.9M-53.9 -84.1l-1.0 -0.4M-47.6 -87.5l-4.1 1.3M-51.7 -86.2l-3.1 1.7M-46.6 -87.1l-1.0 -0.4M-40.2 -90.1l-4.2 1.1M-44.4 -89.0l-3.2 1.5M-39.1 -89.7l-1.1 -0.4M-32.6 -92.2l-4.3 0.9M-37.0 -91.3l-3.2 1.3M-31.5 -91.9l-1.1 -0.4M-25.0 -94.0l-4.4 0.7M-29.4 -93.3l-3.2 1.1M-23.8 -93.6l-1.2 -0.4M-17.4 -95.3l-4.4 0.5M-21.8 -94.8l-3.2 0.8M-16.1 -95.0l-1.3 -0.4M-9.7 -96.2l-4.5 0.3M-14.2 -96.0l-3.2 0.6M-8.4 -95.9l-1.3 -0.4M-2.0 -96.7l-4.5 0.1M-6.5 -96.6l-3.2 0.4M-0.7 -96.4l-1.4 -0.4M5.6 -96.8l-4.5 -0.1M1.1 -96.9l-3.1 0.2M7.0 -96.4l-1.4 -0.3M13.1 -96.4l-4.5 -0.4M8.6 -96.7l-3.1 -0.0M14.5 -96.0l-1.5 -0.3M-79.7 -71.6l-3.4 2.2M-83.1 -69.4l-2.7 2.4M-85.9 -67.1l0.6 0.2M-79.1 -71.4l-0.7 -0.2M-73.3 -75.8l-3.6 2.0M-76.9 -73.8l-2.9 2.2M-72.6 -75.6l-0.7 -0.2M-66.6 -79.7l-3.7 1.9M-70.4 -77.9l-2.9 2.0M-65.9 -79.5l-0.8 -0.2M-59.7 -83.2l-3.9 1.7M-63.6 -81.6l-3.0 1.8M-58.9 -83.1l-0.9 -0.2M-52.7 -86.4l-4.0 1.5M-56.7 -84.9l-3.1 1.6M-51.7 -86.2l-0.9 -0.2M-45.4 -89.1l-4.1 1.3M-49.5 -87.8l-3.1 1.5M-44.4 -89.0l-1.0 -0.2M-38.0 -91.5l-4.2 1.1M-42.2 -90.4l-3.2 1.2M-37.0 -91.3l-1.1 -0.2M-30.5 -93.4l-4.3 0.9M-34.8 -92.5l-3.2 1.0M-29.4 -93.3l-1.1 -0.1M-23.0 -95.0l-4.3 0.7M-27.3 -94.3l-3.2 0.8M-21.8 -94.8l-1.2 -0.1M-15.4 -96.1l-4.4 0.5M-19.8 -95.6l-3.2 0.6M-14.2 -96.0l-1.2 -0.1M-7.8 -96.8l-4.4 0.3M-12.2 -96.5l-3.2 0.4M-6.5 -96.6l-1.3 -0.1M-77.5 -73.8l-3.4 2.2M-80.9 -71.6l-2.8 2.2M-83.7 -69.4l0.5 -0.0M-76.9 -73.8l-0.6 0.0M-71.1 -77.8l-3.6 2.1M-74.6 -75.8l-2.9 2.0M-70.4 -77.9l-0.7 0.0M-64.4 -81.5l-3.7 1.9M-68.1 -79.6l-3.0 1.8M-63.6 -81.6l-0.8 0.1M-57.5 -84.8l-3.8 1.7M-61.3 -83.1l-3.0 1.6M-56.7 -84.9l-0.8 0.1M-50.4 -87.8l-4.0 1.5M-54.4 -86.3l-3.1 1.4M-49.5 -87.8l-0.9 0.1M-43.2 -90.3l-4.1 1.3M-47.3 -89.0l-3.1 1.2M-42.2 -90.4l-1.0 0.1M-35.8 -92.4l-4.2 1.1M-40.0 -91.3l-3.2 1.0M-34.8 -92.5l-1.0 0.1" fill="none"/></defs>
<g clip-path="url(#dc0)"><use href="#mesh0" x="105" y="150.0" stroke="#e2e2e2" stroke-width="1.05"/></g>
<defs><clipPath id="dc1"><path d="M330.3,128.3 L330.3,97.0 L330.3,97.0 L333.2,93.4 L336.0,90.1 L338.9,87.0 L341.7,84.2 L344.6,81.7 L347.5,79.3 L350.3,77.0 L353.2,74.9 L356.1,73.0 L358.9,71.2 L361.8,69.5 L364.6,67.9 L367.5,66.4 L370.4,65.1 L373.2,63.8 L376.1,62.6 L378.9,61.5 L381.8,60.5 L384.7,59.6 L387.5,58.8 L390.4,58.0 L393.3,57.3 L396.1,56.7 L399.0,56.2 L401.8,55.8 L404.7,55.4 L407.6,55.1 L410.4,54.8 L413.3,54.6 L416.1,54.5 L419.0,54.5 L421.9,54.5 L424.7,54.6 L427.6,54.8 L430.5,55.1 L433.3,55.4 L436.2,55.8 L439.0,56.2 L441.9,56.7 L444.8,57.3 L447.6,58.0 L450.5,58.8 L453.4,59.6 L456.2,60.5 L459.1,61.5 L461.9,62.6 L464.8,63.8 L467.7,65.1 L470.5,66.4 L473.4,67.9 L476.2,69.5 L479.1,71.2 L482.0,73.0 L484.8,74.9 L487.7,77.0 L490.6,79.3 L493.4,81.7 L496.3,84.3 L499.1,87.1 L502.0,90.1 L502,128.3 Z"/></clipPath></defs>
<rect x="330.3" y="129.8" width="171.7" height="4" fill="#e6e6e6" opacity="0.6"/>
<path d="M330.3,128.3 L330.3,97.0 L333.2,93.4 L336.0,90.1 L338.9,87.0 L341.7,84.2 L344.6,81.7 L347.5,79.3 L350.3,77.0 L353.2,74.9 L356.1,73.0 L358.9,71.2 L361.8,69.5 L364.6,67.9 L367.5,66.4 L370.4,65.1 L373.2,63.8 L376.1,62.6 L378.9,61.5 L381.8,60.5 L384.7,59.6 L387.5,58.8 L390.4,58.0 L393.3,57.3 L396.1,56.7 L399.0,56.2 L401.8,55.8 L404.7,55.4 L407.6,55.1 L410.4,54.8 L413.3,54.6 L416.1,54.5 L419.0,54.5 L421.9,54.5 L424.7,54.6 L427.6,54.8 L430.5,55.1 L433.3,55.4 L436.2,55.8 L439.0,56.2 L441.9,56.7 L444.8,57.3 L447.6,58.0 L450.5,58.8 L453.4,59.6 L456.2,60.5 L459.1,61.5 L461.9,62.6 L464.8,63.8 L467.7,65.1 L470.5,66.4 L473.4,67.9 L476.2,69.5 L479.1,71.2 L482.0,73.0 L484.8,74.9 L487.7,77.0 L490.6,79.3 L493.4,81.7 L496.3,84.3 L499.1,87.1 L502.0,90.1 L502.0,128.3 Z" fill="#1c1c1c"/>
<g clip-path="url(#dc1)"><use href="#mesh0" x="419" y="151.5" stroke="#e2e2e2" stroke-width="1.05"/></g>
<defs><clipPath id="dc2"><path d="M329.3,289 L329.3,255.8 L329.3,255.8 L332.2,252.2 L335.0,248.9 L337.9,245.8 L340.7,243.0 L343.6,240.5 L346.5,238.1 L349.3,235.8 L352.2,233.7 L355.1,231.8 L357.9,230.0 L360.8,228.3 L363.6,226.7 L366.5,225.2 L369.4,223.9 L372.2,222.6 L375.1,221.4 L377.9,220.3 L380.8,219.3 L383.7,218.4 L386.5,217.6 L389.4,216.8 L392.3,216.1 L395.1,215.5 L398.0,215.0 L400.8,214.6 L403.7,214.2 L406.6,213.9 L409.4,213.6 L412.3,213.4 L415.1,213.3 L418.0,213.3 L420.9,213.3 L423.7,213.4 L426.6,213.6 L429.5,213.9 L432.3,214.2 L435.2,214.6 L438.0,215.0 L440.9,215.5 L443.8,216.1 L446.6,216.8 L449.5,217.6 L452.4,218.4 L455.2,219.3 L458.1,220.3 L460.9,221.4 L463.8,222.6 L466.7,223.9 L469.5,225.2 L472.4,226.7 L475.2,228.3 L478.1,230.0 L481.0,231.8 L483.8,233.7 L486.7,235.8 L489.6,238.1 L492.4,240.5 L495.3,243.1 L498.1,245.9 L501.0,248.9 L501,289 Z"/></clipPath></defs>
<rect x="329.3" y="290.5" width="171.7" height="4" fill="#e6e6e6" opacity="0.6"/>
<path d="M329.3,289.0 L329.3,251.0 L332.2,247.6 L335.0,244.5 L337.9,241.6 L340.7,239.0 L343.6,236.5 L346.5,234.2 L349.3,232.1 L352.2,230.1 L355.1,228.2 L357.9,226.5 L360.8,224.8 L363.6,223.3 L366.5,221.9 L369.4,220.6 L372.2,219.3 L375.1,218.2 L377.9,217.1 L380.8,216.2 L383.7,215.3 L386.5,214.5 L389.4,213.7 L392.3,213.1 L395.1,212.5 L398.0,212.0 L400.8,211.5 L403.7,211.1 L406.6,210.8 L409.4,210.6 L412.3,210.4 L415.1,210.3 L418.0,210.3 L420.9,210.3 L423.7,210.4 L426.6,210.6 L429.5,210.8 L432.3,211.1 L435.2,211.5 L438.0,212.0 L440.9,212.5 L443.8,213.1 L446.6,213.7 L449.5,214.5 L452.4,215.3 L455.2,216.2 L458.1,217.1 L460.9,218.2 L463.8,219.3 L466.7,220.6 L469.5,221.9 L472.4,223.3 L475.2,224.9 L478.1,226.5 L481.0,228.2 L483.8,230.1 L486.7,232.1 L489.6,234.2 L492.4,236.5 L495.3,239.0 L498.1,241.7 L501.0,244.5 L501.0,289.0 Z" fill="#a4a8d8" opacity="0.75"/>
<path d="M329.3,289.0 L329.3,255.8 L332.2,252.2 L335.0,248.9 L337.9,245.8 L340.7,243.0 L343.6,240.5 L346.5,238.1 L349.3,235.8 L352.2,233.7 L355.1,231.8 L357.9,230.0 L360.8,228.3 L363.6,226.7 L366.5,225.2 L369.4,223.9 L372.2,222.6 L375.1,221.4 L377.9,220.3 L380.8,219.3 L383.7,218.4 L386.5,217.6 L389.4,216.8 L392.3,216.1 L395.1,215.5 L398.0,215.0 L400.8,214.6 L403.7,214.2 L406.6,213.9 L409.4,213.6 L412.3,213.4 L415.1,213.3 L418.0,213.3 L420.9,213.3 L423.7,213.4 L426.6,213.6 L429.5,213.9 L432.3,214.2 L435.2,214.6 L438.0,215.0 L440.9,215.5 L443.8,216.1 L446.6,216.8 L449.5,217.6 L452.4,218.4 L455.2,219.3 L458.1,220.3 L460.9,221.4 L463.8,222.6 L466.7,223.9 L469.5,225.2 L472.4,226.7 L475.2,228.3 L478.1,230.0 L481.0,231.8 L483.8,233.7 L486.7,235.8 L489.6,238.1 L492.4,240.5 L495.3,243.1 L498.1,245.9 L501.0,248.9 L501.0,289.0 Z" fill="#3c4496"/>
<g clip-path="url(#dc2)"><use href="#mesh0" x="418" y="310.3" stroke="#c4c8ec" stroke-width="1.05"/></g>
<path d="M329.3,289.0 L329.3,255.8 L332.2,252.2 L335.0,248.9 L337.9,245.8 L340.7,243.0 L343.6,240.5 L346.5,238.1 L349.3,235.8 L352.2,233.7 L355.1,231.8 L357.9,230.0 L360.8,228.3 L363.6,226.7 L366.5,225.2 L369.4,223.9 L372.2,222.6 L375.1,221.4 L377.9,220.3 L380.8,219.3 L383.7,218.4 L386.5,217.6 L389.4,216.8 L392.3,216.1 L395.1,215.5 L398.0,215.0 L400.8,214.6 L403.7,214.2 L406.6,213.9 L409.4,213.6 L412.3,213.4 L415.1,213.3 L418.0,213.3 L420.9,213.3 L423.7,213.4 L426.6,213.6 L429.5,213.9 L432.3,214.2 L435.2,214.6 L438.0,215.0 L440.9,215.5 L443.8,216.1 L446.6,216.8 L449.5,217.6 L452.4,218.4 L455.2,219.3 L458.1,220.3 L460.9,221.4 L463.8,222.6 L466.7,223.9 L469.5,225.2 L472.4,226.7 L475.2,228.3 L478.1,230.0 L481.0,231.8 L483.8,233.7 L486.7,235.8 L489.6,238.1 L492.4,240.5 L495.3,243.1 L498.1,245.9 L501.0,248.9 L501.0,289.0 Z" fill="#ffffff" opacity="0.1"/>
<defs><clipPath id="dc3"><path d="M17.0,287.6 L17.0,245.1 L17.0,245.1 L19.9,242.3 L22.7,239.7 L25.6,237.3 L28.4,235.0 L31.2,232.9 L34.1,230.9 L37.0,229.1 L39.8,227.4 L42.6,225.8 L45.5,224.3 L48.4,222.8 L51.2,221.5 L54.0,220.3 L56.9,219.1 L59.8,218.1 L62.6,217.1 L65.5,216.2 L68.3,215.3 L71.2,214.6 L74.0,213.9 L76.8,213.2 L79.7,212.7 L82.5,212.2 L85.4,211.8 L88.2,211.4 L91.1,211.1 L94.0,210.8 L96.8,210.7 L99.7,210.6 L102.5,210.5 L105.3,210.5 L108.2,210.6 L111.0,210.7 L113.9,210.9 L116.8,211.2 L119.6,211.5 L122.5,211.9 L125.3,212.3 L128.2,212.8 L131.0,213.4 L133.8,214.1 L136.7,214.8 L139.6,215.6 L142.4,216.4 L145.2,217.4 L148.1,218.4 L150.9,219.5 L153.8,220.6 L156.7,221.9 L159.5,223.2 L162.3,224.7 L165.2,226.2 L168.1,227.9 L170.9,229.6 L173.8,231.5 L176.6,233.5 L179.4,235.7 L182.3,238.0 L185.2,240.4 L188.0,243.1 L188.0,287.6 Z"/></clipPath></defs>
<rect x="17.0" y="289.1" width="171.0" height="4" fill="#e6e6e6" opacity="0.6"/>
<path d="M17.0,287.6 L17.0,245.1 L19.9,242.3 L22.7,239.7 L25.6,237.3 L28.4,235.0 L31.2,232.9 L34.1,230.9 L37.0,229.1 L39.8,227.4 L42.6,225.8 L45.5,224.3 L48.4,222.8 L51.2,221.5 L54.0,220.3 L56.9,219.1 L59.8,218.1 L62.6,217.1 L65.5,216.2 L68.3,215.3 L71.2,214.6 L74.0,213.9 L76.8,213.2 L79.7,212.7 L82.5,212.2 L85.4,211.8 L88.2,211.4 L91.1,211.1 L94.0,210.8 L96.8,210.7 L99.7,210.6 L102.5,210.5 L105.3,210.5 L108.2,210.6 L111.0,210.7 L113.9,210.9 L116.8,211.2 L119.6,211.5 L122.5,211.9 L125.3,212.3 L128.2,212.8 L131.0,213.4 L133.8,214.1 L136.7,214.8 L139.6,215.6 L142.4,216.4 L145.2,217.4 L148.1,218.4 L150.9,219.5 L153.8,220.6 L156.7,221.9 L159.5,223.2 L162.3,224.7 L165.2,226.2 L168.1,227.9 L170.9,229.6 L173.8,231.5 L176.6,233.5 L179.4,235.7 L182.3,238.0 L185.2,240.4 L188.0,243.1 L188.0,287.6 Z" fill="#1b1b1b"/>
<defs><path id="mesh1" d="M17.0 -16.3l-6.4 -1.6M10.6 -17.9l-4.5 4.0M6.0 -13.9l1.9 5.6M7.9 -8.3l6.3 1.6M14.2 -6.7l4.5 -3.9M18.7 -10.7l-1.8 -5.6M27.9 -18.1l-6.3 -1.9M21.6 -20.0l-4.6 3.7M18.7 -10.7l6.2 1.9M25.0 -8.8l4.6 -3.7M29.6 -12.5l-1.6 -5.6M38.7 -19.3l-6.2 -2.2M32.5 -21.5l-4.6 3.5M29.6 -12.5l6.1 2.2M35.7 -10.3l4.6 -3.4M40.3 -13.7l-1.5 -5.6M49.4 -19.9l-6.0 -2.5M43.3 -22.5l-4.6 3.2M40.3 -13.7l6.0 2.5M46.3 -11.2l4.5 -3.1M50.8 -14.3l-1.4 -5.6M59.8 -20.0l-5.8 -2.8M53.9 -22.8l-4.5 2.9M50.8 -14.3l5.8 2.7M56.6 -11.6l4.4 -2.8M61.0 -14.4l-1.3 -5.6M69.8 -19.4l-5.6 -3.1M64.2 -22.5l-4.4 2.5M61.0 -14.4l5.6 3.0M66.6 -11.4l4.3 -2.5M70.9 -13.9l-1.1 -5.5M79.3 -18.3l-5.3 -3.4M74.0 -21.7l-4.3 2.2M70.9 -13.9l5.3 3.3M76.2 -10.6l4.2 -2.2M80.4 -12.8l-1.0 -5.5M88.4 -16.6l-5.0 -3.6M83.4 -20.2l-4.1 1.9M80.4 -12.8l5.0 3.5M85.3 -9.3l4.0 -1.9M89.3 -11.1l-0.9 -5.4M-13.3 -17.4l-6.5 -0.8M-19.8 -18.2l-4.3 4.6M-24.0 -13.6l2.1 5.3M-21.9 -8.3l6.3 0.8M-15.6 -7.6l4.3 -4.5M-11.2 -12.0l-2.1 -5.3M-2.4 -20.7l-6.5 -1.1M-8.9 -21.7l-4.4 4.3M-11.2 -12.0l6.4 1.1M-4.8 -11.0l4.5 -4.3M-0.4 -15.3l-2.0 -5.4M8.7 -23.4l-6.5 -1.4M2.2 -24.8l-4.5 4.1M-0.4 -15.3l6.4 1.3M10.6 -17.9l-1.9 -5.4M19.8 -25.5l-6.5 -1.7M13.3 -27.2l-4.6 3.8M21.6 -20.0l-1.8 -5.5M30.9 -27.0l-6.4 -2.0M24.5 -29.0l-4.7 3.5M32.5 -21.5l-1.7 -5.5M41.8 -27.9l-6.3 -2.3M35.5 -30.3l-4.6 3.2M43.3 -22.5l-1.6 -5.5M52.5 -28.3l-6.1 -2.6M46.4 -30.9l-4.6 2.9M53.9 -22.8l-1.5 -5.4M62.8 -27.9l-5.9 -2.9M57.0 -30.8l-4.5 2.6M64.2 -22.5l-1.3 -5.4M72.8 -27.0l-5.6 -3.2M67.2 -30.2l-4.4 2.3M74.0 -21.7l-1.2 -5.4M82.3 -25.5l-5.3 -3.5M77.0 -29.0l-4.2 1.9M83.4 -20.2l-1.1 -5.3M91.3 -23.4l-5.0 -3.7M86.3 -27.1l-4.0 1.6M88.4 -16.6l3.9 -1.6M92.3 -18.1l-1.0 -5.2M-32.6 -19.2l-6.3 -0.2M-38.9 -19.4l-4.0 4.9M-43.0 -14.5l2.3 5.0M-40.7 -9.5l6.2 0.2M-34.5 -9.3l4.1 -4.8M-30.4 -14.1l-2.2 -5.1M-21.9 -23.3l-6.5 -0.5M-28.4 -23.8l-4.2 4.6M-30.4 -14.1l6.4 0.5M-19.8 -18.2l-2.1 -5.1M-10.9 -26.9l-6.6 -0.8M-17.5 -27.7l-4.4 4.4M-8.9 -21.7l-2.1 -5.2M0.2 -30.0l-6.6 -1.1M-6.4 -31.1l-4.5 4.2M2.2 -24.8l-2.0 -5.2M11.4 -32.5l-6.6 -1.4M4.8 -33.9l-4.6 3.9M13.3 -27.2l-1.9 -5.3M22.6 -34.3l-6.6 -1.7M16.1 -36.0l-4.7 3.6M24.5 -29.0l-1.8 -5.3M33.8 -35.5l-6.5 -2.1M27.3 -37.6l-4.7 3.3M35.5 -30.3l-1.7 -5.3M44.7 -36.1l-6.3 -2.4M38.4 -38.5l-4.6 3.0M46.4 -30.9l-1.6 -5.3M55.4 -36.1l-6.1 -2.7M49.3 -38.8l-4.6 2.6M57.0 -30.8l-1.5 -5.2M65.8 -35.4l-5.9 -3.0M59.9 -38.4l-4.5 2.3M67.2 -30.2l-1.4 -5.2M75.7 -34.1l-5.6 -3.3M70.1 -37.4l-4.3 2.0M77.0 -29.0l-1.3 -5.1M85.1 -32.2l-5.3 -3.5M79.8 -35.7l-4.1 1.6M86.3 -27.1l-1.2 -5.1M94.0 -29.6l-5.0 -3.8M89.0 -33.4l-3.9 1.3M91.3 -23.4l3.8 -1.3M95.1 -24.6l-1.1 -5.0M-51.4 -19.2l-6.1 0.4M-57.4 -18.8l-3.7 5.1M-61.1 -13.7l2.3 4.7M-58.8 -9.0l5.9 -0.3M-52.9 -9.4l3.8 -5.0M-49.1 -14.4l-2.3 -4.8M-41.2 -24.2l-6.3 0.1M-47.4 -24.1l-3.9 4.9M-49.1 -14.4l6.2 -0.1M-38.9 -19.4l-2.2 -4.8M-30.5 -28.7l-6.4 -0.2M-37.0 -28.9l-4.2 4.7M-28.4 -23.8l-2.2 -4.9M-19.6 -32.7l-6.6 -0.5M-26.2 -33.2l-4.4 4.5M-17.5 -27.7l-2.1 -5.0M-8.5 -36.1l-6.6 -0.8M-15.1 -36.9l-4.5 4.2M-6.4 -31.1l-2.1 -5.0M2.8 -38.9l-6.7 -1.1M-3.8 -40.0l-4.6 3.9M4.8 -33.9l-2.0 -5.0M14.2 -41.1l-6.7 -1.5M7.5 -42.6l-4.7 3.6M16.1 -36.0l-1.9 -5.1M25.5 -42.7l-6.6 -1.8M18.9 -44.4l-4.7 3.3M27.3 -37.6l-1.8 -5.1M36.7 -43.6l-6.5 -2.1M30.2 -45.7l-4.7 3.0M38.4 -38.5l-1.8 -5.1M47.6 -43.8l-6.3 -2.4M41.3 -46.2l-4.6 2.7M49.3 -38.8l-1.7 -5.0M58.3 -43.4l-6.1 -2.7M52.2 -46.1l-4.5 2.3M59.9 -38.4l-1.6 -5.0M68.6 -42.3l-5.9 -3.0M62.7 -45.4l-4.4 2.0M70.1 -37.4l-1.5 -5.0M78.4 -40.6l-5.6 -3.3M72.8 -43.9l-4.2 1.6M79.8 -35.7l-1.4 -4.9M87.7 -38.3l-5.3 -3.6M82.4 -41.9l-4.0 1.3M89.0 -33.4l-1.3 -4.8M-59.7 -23.3l-5.9 0.7M-65.6 -22.6l-3.6 5.1M-69.2 -17.4l2.3 4.4M-66.9 -13.0l5.8 -0.7M-57.4 -18.8l-2.2 -4.5M-49.6 -28.7l-6.2 0.4M-55.8 -28.2l-3.9 5.0M-47.4 -24.1l-2.2 -4.6M-39.2 -33.6l-6.4 0.1M-45.6 -33.4l-4.1 4.8M-37.0 -28.9l-2.2 -4.6M-28.3 -37.9l-6.5 -0.2M-34.9 -38.1l-4.3 4.5M-26.2 -33.2l-2.1 -4.7M-17.2 -41.7l-6.7 -0.5M-23.9 -42.2l-4.5 4.3M-15.1 -36.9l-2.1 -4.8M-5.9 -44.8l-6.7 -0.8M-12.6 -45.6l-4.6 4.0M-3.8 -40.0l-2.1 -4.8M5.5 -47.4l-6.7 -1.1M-1.2 -48.5l-4.7 3.7M7.5 -42.6l-2.0 -4.8M16.9 -49.3l-6.7 -1.5M10.2 -50.7l-4.7 3.4M18.9 -44.4l-1.9 -4.8M28.3 -50.5l-6.6 -1.8M21.7 -52.3l-4.7 3.0M30.2 -45.7l-1.9 -4.8M39.5 -51.0l-6.5 -2.1M33.0 -53.2l-4.7 2.7M41.3 -46.2l-1.8 -4.8M50.4 -50.9l-6.3 -2.5M44.1 -53.4l-4.6 2.3M52.2 -46.1l-1.7 -4.8M61.0 -50.1l-6.1 -2.8M54.9 -52.9l-4.5 2.0M62.7 -45.4l-1.7 -4.7M71.2 -48.6l-5.9 -3.1M65.4 -51.7l-4.3 1.6M72.8 -43.9l-1.6 -4.7M80.9 -46.5l-5.6 -3.4M75.4 -49.9l-4.1 1.3M82.4 -41.9l-1.5 -4.6M90.1 -43.7l-5.2 -3.7M84.8 -47.4l-3.9 0.9M87.7 -38.3l3.8 -0.9M91.5 -39.2l-1.4 -4.5M-77.0 -20.6l-5.5 1.3M-82.5 -19.3l-3.1 5.3M-85.6 -14.0l2.2 4.0M-83.5 -10.0l5.3 -1.2M-78.1 -11.2l3.3 -5.3M-74.9 -16.5l-2.2 -4.1M-67.8 -26.8l-5.8 1.0M-73.6 -25.8l-3.5 5.2M-74.9 -16.5l5.7 -1.0M-65.6 -22.6l-2.2 -4.2M-58.0 -32.5l-6.0 0.8M-64.1 -31.8l-3.8 5.0M-55.8 -28.2l-2.2 -4.3M-47.7 -37.8l-6.3 0.5M-54.0 -37.3l-4.0 4.8M-45.6 -33.4l-2.2 -4.4M-37.0 -42.5l-6.5 0.2M-43.5 -42.3l-4.2 4.6M-34.9 -38.1l-2.1 -4.4M-26.0 -46.6l-6.6 -0.2M-32.6 -46.8l-4.4 4.3M-23.9 -42.2l-2.1 -4.5M-14.7 -50.2l-6.7 -0.5M-21.4 -50.6l-4.6 4.0M-12.6 -45.6l-2.1 -4.5M-3.3 -53.0l-6.8 -0.8M-10.1 -53.9l-4.7 3.7M-1.2 -48.5l-2.1 -4.5M8.2 -55.3l-6.8 -1.2M1.4 -56.4l-4.7 3.4M10.2 -50.7l-2.0 -4.5M19.7 -56.8l-6.7 -1.5M13.0 -58.3l-4.7 3.1M21.7 -52.3l-2.0 -4.5M31.1 -57.7l-6.6 -1.8M24.4 -59.6l-4.7 2.7M33.0 -53.2l-1.9 -4.5M42.2 -57.9l-6.5 -2.2M35.7 -60.1l-4.7 2.4M44.1 -53.4l-1.9 -4.5M53.1 -57.4l-6.3 -2.5M46.8 -59.9l-4.5 2.0M54.9 -52.9l-1.8 -4.5M63.6 -56.2l-6.1 -2.8M57.5 -59.0l-4.4 1.6M65.4 -51.7l-1.7 -4.4M73.7 -54.3l-5.8 -3.2M67.8 -57.4l-4.2 1.3M75.4 -49.9l-1.7 -4.4M83.2 -51.7l-5.5 -3.5M77.7 -55.2l-4.0 0.9M84.8 -47.4l-1.6 -4.3M92.2 -48.5l-5.2 -3.7M87.0 -52.3l-3.7 0.5M90.1 -43.7l3.6 -0.6M93.7 -44.3l-1.5 -4.2M-84.6 -23.1l-5.2 1.6M-89.8 -21.5l-3.0 5.3M-92.8 -16.2l2.1 3.7M-90.7 -12.5l5.1 -1.5M-82.5 -19.3l-2.1 -3.8M-75.7 -29.7l-5.6 1.4M-81.3 -28.3l-3.3 5.2M-73.6 -25.8l-2.1 -3.9M-66.2 -35.8l-5.9 1.1M-72.0 -34.7l-3.6 5.0M-64.1 -31.8l-2.1 -4.0M-56.1 -41.4l-6.1 0.8M-62.3 -40.6l-3.9 4.8M-54.0 -37.3l-2.1 -4.1M-45.6 -46.4l-6.4 0.5M-52.0 -45.9l-4.2 4.6M-43.5 -42.3l-2.1 -4.1M-34.7 -50.9l-6.5 0.2M-41.3 -50.8l-4.4 4.3M-32.6 -46.8l-2.1 -4.2M-23.5 -54.8l-6.7 -0.1M-30.2 -55.0l-4.5 4.0M-21.4 -50.6l-2.1 -4.2M-12.1 -58.1l-6.8 -0.5M-18.9 -58.6l-4.6 3.7M-10.1 -53.9l-2.1 -4.2M-0.6 -60.7l-6.8 -0.8M-7.4 -61.5l-4.7 3.4M1.4 -56.4l-2.1 -4.2M10.9 -62.6l-6.8 -1.2M4.1 -63.8l-4.7 3.1M13.0 -58.3l-2.0 -4.2M22.4 -63.8l-6.7 -1.5M15.7 -65.3l-4.7 2.7M24.4 -59.6l-2.0 -4.2M33.8 -64.3l-6.6 -1.9M27.1 -66.2l-4.7 2.4M35.7 -60.1l-2.0 -4.2M44.9 -64.1l-6.5 -2.2M38.4 -66.3l-4.6 2.0M46.8 -59.9l-1.9 -4.2M55.7 -63.2l-6.3 -2.6M49.3 -65.7l-4.5 1.6M57.5 -59.0l-1.9 -4.2M66.0 -61.5l-6.1 -2.9M60.0 -64.4l-4.3 1.3M67.8 -57.4l-1.8 -4.1M75.9 -59.2l-5.8 -3.2M70.1 -62.4l-4.1 0.9M77.7 -55.2l-1.7 -4.0M85.3 -56.2l-5.5 -3.5M79.8 -59.7l-3.9 0.5M87.0 -52.3l-1.7 -4.0M94.0 -52.6l-5.1 -3.8M88.9 -56.4l-3.6 0.2M92.2 -48.5l3.4 -0.2M95.6 -48.7l-1.6 -3.9M-83.3 -31.9l-5.3 1.7M-88.6 -30.2l-3.2 5.2M-91.8 -25.0l2.0 3.5M-81.3 -28.3l-2.0 -3.6M-74.1 -38.3l-5.7 1.4M-79.7 -36.9l-3.5 5.0M-72.0 -34.7l-2.0 -3.7M-64.3 -44.3l-6.0 1.1M-70.3 -43.1l-3.8 4.8M-62.3 -40.6l-2.1 -3.7M-54.0 -49.7l-6.2 0.8M-60.2 -48.9l-4.1 4.6M-52.0 -45.9l-2.1 -3.8M-43.3 -54.6l-6.4 0.5M-49.8 -54.0l-4.3 4.3M-41.3 -50.8l-2.1 -3.8M-32.3 -58.8l-6.6 0.2M-38.9 -58.6l-4.5 4.0M-30.2 -55.0l-2.1 -3.9M-21.0 -62.5l-6.7 -0.1M-27.7 -62.6l-4.6 3.7M-18.9 -58.6l-2.1 -3.9M-9.5 -65.4l-6.8 -0.5M-16.3 -65.9l-4.7 3.4M-7.4 -61.5l-2.1 -3.9M2.1 -67.7l-6.8 -0.8M-4.8 -68.5l-4.7 3.1M4.1 -63.8l-2.1 -3.9M13.6 -69.2l-6.8 -1.2M6.8 -70.4l-4.8 2.7M15.7 -65.3l-2.0 -3.9M25.1 -70.1l-6.7 -1.5M18.4 -71.6l-4.7 2.4M27.1 -66.2l-2.0 -3.9M36.4 -70.2l-6.6 -1.9M29.7 -72.1l-4.7 2.0M38.4 -66.3l-2.0 -3.9M47.4 -69.6l-6.5 -2.2M40.9 -71.8l-4.5 1.6M49.3 -65.7l-2.0 -3.8M58.0 -68.2l-6.3 -2.6M51.8 -70.8l-4.4 1.2M60.0 -64.4l-1.9 -3.8M68.3 -66.2l-6.0 -2.9M62.2 -69.1l-4.2 0.9M70.1 -62.4l-1.9 -3.8M78.0 -63.4l-5.7 -3.2M72.2 -66.7l-4.0 0.5M79.8 -59.7l-1.8 -3.7M87.1 -60.0l-5.4 -3.5M81.7 -63.5l-3.7 0.1M88.9 -56.4l-1.8 -3.6M95.5 -56.0l-5.0 -3.8M90.5 -59.8l-3.4 -0.2M94.0 -52.6l3.3 0.2M97.2 -52.4l-1.7 -3.5M-90.5 -33.5l-5.0 2.0M-95.5 -31.4l-3.1 5.2M-98.6 -26.3l1.8 3.2M-96.7 -23.1l4.9 -1.9M-88.6 -30.2l-1.9 -3.2M-81.7 -40.2l-5.4 1.8M-87.1 -38.5l-3.4 5.0M-79.7 -36.9l-1.9 -3.3M-72.2 -46.5l-5.7 1.5M-78.0 -45.0l-3.7 4.8M-70.3 -43.1l-2.0 -3.4M-62.2 -52.3l-6.0 1.2M-68.3 -51.1l-4.0 4.6M-60.2 -48.9l-2.0 -3.4M-51.8 -57.5l-6.3 0.9M-58.0 -56.6l-4.2 4.3M-49.8 -54.0l-2.0 -3.5M-40.9 -62.1l-6.5 0.6M-47.4 -61.6l-4.4 4.0M-38.9 -58.6l-2.0 -3.5M-29.7 -66.1l-6.6 0.2M-36.4 -65.9l-4.5 3.7M-27.7 -62.6l-2.1 -3.5M-18.4 -69.4l-6.7 -0.1M-25.1 -69.6l-4.7 3.4M-16.3 -65.9l-2.1 -3.6M-6.8 -72.1l-6.8 -0.5M-13.6 -72.5l-4.7 3.1M-4.8 -68.5l-2.1 -3.6M4.8 -74.0l-6.8 -0.8M-2.1 -74.8l-4.8 2.7M6.8 -70.4l-2.1 -3.6M16.3 -75.2l-6.8 -1.2M9.5 -76.4l-4.7 2.4M18.4 -71.6l-2.1 -3.6M27.7 -75.6l-6.7 -1.6M21.0 -77.2l-4.7 2.0M29.7 -72.1l-2.1 -3.5M38.9 -75.3l-6.6 -1.9M32.3 -77.2l-4.6 1.6M40.9 -71.8l-2.0 -3.5M49.8 -74.3l-6.4 -2.3M43.3 -76.5l-4.5 1.2M51.8 -70.8l-2.0 -3.5M60.2 -72.5l-6.2 -2.6M54.0 -75.1l-4.3 0.8M62.2 -69.1l-2.0 -3.4M70.3 -70.0l-6.0 -2.9M64.3 -73.0l-4.1 0.5M72.2 -66.7l-2.0 -3.4M79.7 -66.9l-5.7 -3.3M74.1 -70.1l-3.8 0.1M81.7 -63.5l-1.9 -3.3M88.6 -63.0l-5.3 -3.6M83.3 -66.6l-3.5 -0.3M90.5 -59.8l-1.9 -3.2M-88.9 -41.4l-5.1 2.1M-94.0 -39.3l-3.3 5.0M-97.2 -34.3l1.7 2.9M-87.1 -38.5l-1.8 -3.0M-79.8 -48.0l-5.5 1.8M-85.3 -46.2l-3.6 4.8M-78.0 -45.0l-1.8 -3.0M-70.1 -54.2l-5.8 1.6M-75.9 -52.6l-3.9 4.6M-68.3 -51.1l-1.9 -3.1M-60.0 -59.7l-6.1 1.3M-66.0 -58.5l-4.1 4.3M-58.0 -56.6l-1.9 -3.1M-49.3 -64.7l-6.3 0.9M-55.7 -63.8l-4.3 4.0M-47.4 -61.6l-2.0 -3.1M-38.4 -69.1l-6.5 0.6M-44.9 -68.5l-4.5 3.7M-36.4 -65.9l-2.0 -3.2M-27.1 -72.7l-6.6 0.3M-33.8 -72.5l-4.6 3.4M-25.1 -69.6l-2.0 -3.2M-15.7 -75.7l-6.7 -0.1M-22.4 -75.8l-4.7 3.1M-13.6 -72.5l-2.0 -3.2M-4.1 -78.0l-6.8 -0.5M-10.9 -78.5l-4.7 2.7M-2.1 -74.8l-2.1 -3.2M7.4 -79.5l-6.8 -0.8M0.6 -80.4l-4.7 2.4M9.5 -76.4l-2.1 -3.2M18.9 -80.3l-6.8 -1.2M12.1 -81.5l-4.7 2.0M21.0 -77.2l-2.1 -3.2M30.2 -80.4l-6.7 -1.6M23.5 -81.9l-4.6 1.6M32.3 -77.2l-2.1 -3.2M41.3 -79.7l-6.5 -1.9M34.7 -81.6l-4.5 1.2M43.3 -76.5l-2.1 -3.1M52.0 -78.2l-6.4 -2.3M45.6 -80.5l-4.4 0.8M54.0 -75.1l-2.1 -3.1M62.3 -76.0l-6.1 -2.6M56.1 -78.6l-4.2 0.4M64.3 -73.0l-2.1 -3.0M72.0 -73.1l-5.9 -3.0M66.2 -76.1l-3.9 0.0M74.1 -70.1l-2.0 -3.0M81.3 -69.5l-5.6 -3.3M75.7 -72.8l-3.6 -0.3M83.3 -66.6l-2.0 -2.9M89.8 -65.2l-5.2 -3.6M84.6 -68.8l-3.3 -0.7M88.6 -63.0l3.2 0.7M91.8 -62.4l-2.0 -2.9M-87.0 -48.8l-5.2 2.2M-92.2 -46.7l-3.4 4.8M-95.6 -41.9l1.6 2.6M-85.3 -46.2l-1.7 -2.6M-77.7 -55.3l-5.5 1.9M-83.2 -53.4l-3.7 4.5M-75.9 -52.6l-1.7 -2.7M-67.8 -61.2l-5.8 1.6M-73.7 -59.6l-4.0 4.3M-66.0 -58.5l-1.8 -2.7M-57.5 -66.5l-6.1 1.3M-63.6 -65.2l-4.2 4.0M-55.7 -63.8l-1.9 -2.8M-46.8 -71.2l-6.3 1.0M-53.1 -70.3l-4.4 3.7M-44.9 -68.5l-1.9 -2.8M-35.7 -75.3l-6.5 0.6M-42.2 -74.6l-4.5 3.4M-33.8 -72.5l-2.0 -2.8M-24.4 -78.6l-6.6 0.3M-31.1 -78.4l-4.7 3.1M-22.4 -75.8l-2.0 -2.8M-13.0 -81.3l-6.7 -0.1M-19.7 -81.4l-4.7 2.7M-10.9 -78.5l-2.0 -2.8M-1.4 -83.2l-6.8 -0.4M-8.2 -83.6l-4.7 2.4M0.6 -80.4l-2.1 -2.8M10.1 -84.3l-6.8 -0.8M3.3 -85.2l-4.7 2.0M12.1 -81.5l-2.1 -2.8M21.4 -84.7l-6.7 -1.2M14.7 -85.9l-4.7 1.6M23.5 -81.9l-2.1 -2.8M32.6 -84.3l-6.6 -1.6M26.0 -85.9l-4.6 1.2M34.7 -81.6l-2.1 -2.8M43.5 -83.2l-6.5 -1.9M37.0 -85.1l-4.4 0.8M45.6 -80.5l-2.1 -2.7M54.0 -81.3l-6.3 -2.3M47.7 -83.6l-4.2 0.4M56.1 -78.6l-2.1 -2.7M64.1 -78.7l-6.0 -2.6M58.0 -81.3l-4.0 0.0M66.2 -76.1l-2.1 -2.6M73.6 -75.3l-5.8 -3.0M67.8 -78.3l-3.8 -0.4M75.7 -72.8l-2.1 -2.6M82.5 -71.3l-5.5 -3.3M77.0 -74.6l-3.5 -0.8M84.6 -68.8l-2.1 -2.5M90.7 -66.6l-5.1 -3.6M85.6 -70.2l-3.1 -1.1M89.8 -65.2l3.0 1.1M92.8 -64.2l-2.1 -2.5M-84.8 -55.7l-5.2 2.3M-90.1 -53.4l-3.6 4.5M-93.7 -48.9l1.5 2.3M-83.2 -53.4l-1.6 -2.3M-75.4 -61.9l-5.6 2.0M-80.9 -59.9l-3.9 4.3M-73.7 -59.6l-1.7 -2.3M-65.4 -67.6l-5.9 1.7M-71.2 -65.9l-4.1 4.0M-63.6 -65.2l-1.7 -2.4M-54.9 -72.6l-6.1 1.4M-61.0 -71.3l-4.3 3.7M-53.1 -70.3l-1.8 -2.4M-44.1 -77.1l-6.3 1.0M-50.4 -76.0l-4.5 3.4M-42.2 -74.6l-1.9 -2.4M-33.0 -80.8l-6.5 0.7M-39.5 -80.1l-4.6 3.0M-31.1 -78.4l-1.9 -2.4M-21.7 -83.8l-6.6 0.3M-28.3 -83.5l-4.7 2.7M-19.7 -81.4l-2.0 -2.4M-10.2 -86.0l-6.7 -0.1M-16.9 -86.1l-4.7 2.3M-8.2 -83.6l-2.0 -2.4M1.2 -87.5l-6.7 -0.4M-5.5 -88.0l-4.7 1.9M3.3 -85.2l-2.1 -2.4M12.6 -88.3l-6.7 -0.8M5.9 -89.1l-4.7 1.6M14.7 -85.9l-2.1 -2.4M23.9 -88.3l-6.7 -1.2M17.2 -89.5l-4.6 1.2M26.0 -85.9l-2.1 -2.4M34.9 -87.5l-6.5 -1.6M28.3 -89.0l-4.5 0.8M37.0 -85.1l-2.1 -2.3M45.6 -85.9l-6.4 -1.9M39.2 -87.8l-4.3 0.4M47.7 -83.6l-2.2 -2.3M55.8 -83.6l-6.2 -2.3M49.6 -85.9l-4.1 -0.0M58.0 -81.3l-2.2 -2.3M65.6 -80.5l-5.9 -2.6M59.7 -83.2l-3.9 -0.4M67.8 -78.3l-2.2 -2.2M74.9 -76.7l-5.7 -3.0M69.2 -79.7l-3.6 -0.8M77.0 -74.6l-2.2 -2.2M83.5 -72.3l-5.3 -3.3M78.1 -75.6l-3.3 -1.2M85.6 -70.2l-2.2 -2.1M91.4 -67.2l-5.0 -3.6M86.4 -70.7l-2.9 -1.5M90.7 -66.6l2.8 1.5M93.5 -65.1l-2.2 -2.0M-82.4 -61.9l-5.3 2.3M-87.7 -59.6l-3.8 4.2M-91.5 -55.3l1.4 1.9M-80.9 -59.9l-1.5 -1.9M-72.8 -67.9l-5.6 2.0M-78.4 -65.8l-4.0 3.9M-71.2 -65.9l-1.6 -2.0M-62.7 -73.3l-5.9 1.7M-68.6 -71.5l-4.2 3.7M-61.0 -71.3l-1.7 -2.0M-52.2 -78.0l-6.1 1.4M-58.3 -76.6l-4.4 3.4M-50.4 -76.0l-1.7 -2.0M-41.3 -82.1l-6.3 1.1M-47.6 -81.0l-4.5 3.0M-39.5 -80.1l-1.8 -2.0M-30.2 -85.5l-6.5 0.7M-36.7 -84.8l-4.6 2.7M-28.3 -83.5l-1.9 -2.0M-18.9 -88.1l-6.6 0.3M-25.5 -87.8l-4.7 2.3M-16.9 -86.1l-1.9 -2.0M-7.5 -90.0l-6.7 -0.0M-14.2 -90.0l-4.7 1.9M-5.5 -88.0l-2.0 -2.0M3.8 -91.1l-6.7 -0.4M-2.8 -91.5l-4.7 1.5M5.9 -89.1l-2.1 -2.0M15.1 -91.4l-6.6 -0.8M8.5 -92.2l-4.6 1.1M17.2 -89.5l-2.1 -2.0M26.2 -91.0l-6.6 -1.2M19.6 -92.1l-4.5 0.7M28.3 -89.0l-2.1 -1.9M37.0 -89.7l-6.4 -1.6M30.5 -91.3l-4.4 0.3M39.2 -87.8l-2.2 -1.9M47.4 -87.7l-6.3 -1.9M41.2 -89.7l-4.2 -0.1M49.6 -85.9l-2.2 -1.9M57.4 -85.0l-6.1 -2.3M51.4 -87.3l-3.9 -0.5M59.7 -83.2l-2.2 -1.8M66.9 -81.5l-5.8 -2.6M61.1 -84.1l-3.7 -0.9M69.2 -79.7l-2.3 -1.8M75.9 -77.3l-5.5 -3.0M70.3 -80.3l-3.4 -1.2M78.1 -75.6l-2.3 -1.7M84.1 -72.4l-5.2 -3.3M78.9 -75.7l-3.1 -1.6M86.4 -70.7l-2.3 -1.7M-89.0 -61.1l-5.0 2.7M-94.0 -58.4l-3.6 4.2M-97.6 -54.3l1.2 1.5M-96.4 -52.7l4.9 -2.6M-87.7 -59.6l-1.3 -1.5M-79.8 -67.4l-5.3 2.4M-85.1 -65.0l-3.9 3.9M-78.4 -65.8l-1.4 -1.6M-70.1 -73.1l-5.6 2.1M-75.7 -71.0l-4.1 3.6M-68.6 -71.5l-1.5 -1.6M-59.9 -78.2l-5.9 1.8M-65.8 -76.4l-4.3 3.3M-58.3 -76.6l-1.6 -1.6M-49.3 -82.6l-6.1 1.4M-55.4 -81.2l-4.5 3.0M-47.6 -81.0l-1.7 -1.6M-38.4 -86.3l-6.3 1.1M-44.7 -85.3l-4.6 2.6M-36.7 -84.8l-1.8 -1.6M-27.3 -89.3l-6.5 0.7M-33.8 -88.6l-4.6 2.3M-25.5 -87.8l-1.8 -1.6M-16.1 -91.6l-6.6 0.4M-22.6 -91.2l-4.7 1.9M-14.2 -90.0l-1.9 -1.6M-4.8 -93.1l-6.6 -0.0M-11.4 -93.1l-4.7 1.5M-2.8 -91.5l-2.0 -1.5M6.4 -93.7l-6.6 -0.4M-0.2 -94.2l-4.6 1.1M8.5 -92.2l-2.1 -1.5M17.5 -93.7l-6.6 -0.8M10.9 -94.4l-4.5 0.7M19.6 -92.1l-2.1 -1.5M28.4 -92.8l-6.5 -1.2M21.9 -93.9l-4.4 0.3M30.5 -91.3l-2.2 -1.5M38.9 -91.1l-6.3 -1.6M32.6 -92.7l-4.2 -0.1M41.2 -89.7l-2.2 -1.5M49.1 -88.7l-6.2 -1.9M43.0 -90.6l-4.0 -0.5M51.4 -87.3l-2.3 -1.4M58.8 -85.5l-5.9 -2.3M52.9 -87.8l-3.8 -0.9M61.1 -84.1l-2.3 -1.4M68.0 -81.6l-5.7 -2.6M62.3 -84.2l-3.5 -1.3M70.3 -80.3l-2.3 -1.3M-86.3 -66.1l-5.0 2.8M-91.3 -63.4l-3.8 3.8M-95.1 -59.5l1.1 1.1M-85.1 -65.0l-1.2 -1.1M-77.0 -72.2l-5.3 2.5M-82.3 -69.7l-4.0 3.6M-75.7 -71.0l-1.3 -1.2M-67.2 -77.6l-5.6 2.2M-72.8 -75.4l-4.2 3.3M-65.8 -76.4l-1.4 -1.2M-57.0 -82.3l-5.9 1.8M-62.8 -80.5l-4.4 2.9M-55.4 -81.2l-1.5 -1.2M-46.4 -86.4l-6.1 1.5M-52.5 -84.9l-4.5 2.6M-44.7 -85.3l-1.6 -1.2M-35.5 -89.8l-6.3 1.1M-41.8 -88.6l-4.6 2.2M-33.8 -88.6l-1.7 -1.1M-24.5 -92.4l-6.4 0.7M-30.9 -91.6l-4.6 1.9M-22.6 -91.2l-1.8 -1.1M-13.3 -94.2l-6.5 0.4M-19.8 -93.8l-4.7 1.5M-11.4 -93.1l-1.9 -1.1M-2.2 -95.3l-6.5 -0.0M-8.7 -95.3l-4.6 1.1M-0.2 -94.2l-2.0 -1.1M8.9 -95.5l-6.5 -0.4M2.4 -95.9l-4.5 0.7M10.9 -94.4l-2.1 -1.1M19.8 -95.0l-6.5 -0.8M13.3 -95.8l-4.4 0.3M21.9 -93.9l-2.1 -1.1M30.4 -93.7l-6.4 -1.2M24.0 -94.9l-4.3 -0.1M32.6 -92.7l-2.2 -1.0M40.7 -91.6l-6.2 -1.5M34.5 -93.1l-4.1 -0.6M43.0 -90.6l-2.3 -1.0M50.6 -88.7l-6.0 -1.9M44.6 -90.6l-3.9 -1.0M52.9 -87.8l-2.3 -1.0M-83.4 -70.4l-5.0 2.8M-88.4 -67.6l-3.9 3.5M-92.3 -64.1l1.0 0.7M-82.3 -69.7l-1.1 -0.7M-74.0 -76.2l-5.3 2.5M-79.3 -73.6l-4.1 3.2M-72.8 -75.4l-1.2 -0.7M-64.2 -81.2l-5.6 2.2M-69.8 -79.0l-4.3 2.9M-62.8 -80.5l-1.3 -0.7M-53.9 -85.7l-5.8 1.9M-59.8 -83.8l-4.4 2.5M-52.5 -84.9l-1.5 -0.7M-43.3 -89.4l-6.0 1.5M-49.4 -87.8l-4.5 2.2M-41.8 -88.6l-1.6 -0.7M-32.5 -92.3l-6.2 1.1M-38.7 -91.2l-4.6 1.8M-30.9 -91.6l-1.7 -0.7M-21.6 -94.5l-6.3 0.8M-27.9 -93.7l-4.6 1.4M-19.8 -93.8l-1.8 -0.7M-10.6 -95.9l-6.4 0.4M-17.0 -95.5l-4.6 1.0M-8.7 -95.3l-1.9 -0.7M0.4 -96.6l-6.4 0.0M-6.0 -96.6l-4.5 0.6M2.4 -95.9l-2.0 -0.6M11.2 -96.4l-6.4 -0.4M4.8 -96.8l-4.5 0.2M13.3 -95.8l-2.1 -0.6M21.9 -95.5l-6.3 -0.8M15.6 -96.2l-4.3 -0.2M24.0 -94.9l-2.1 -0.6M-89.3 -68.0l-4.6 3.2M-93.9 -64.8l-3.7 3.4M-97.6 -61.4l0.7 0.3M-96.9 -61.0l4.6 -3.1M-88.4 -67.6l-0.9 -0.3M-80.4 -74.0l-5.0 2.9M-85.3 -71.1l-4.0 3.1M-79.3 -73.6l-1.0 -0.3M-70.9 -79.4l-5.3 2.6M-76.2 -76.8l-4.2 2.8M-69.8 -79.0l-1.1 -0.3M-61.0 -84.1l-5.6 2.2M-66.6 -81.8l-4.3 2.5M-59.8 -83.8l-1.3 -0.3M-50.8 -88.1l-5.8 1.9M-56.6 -86.2l-4.4 2.1M-49.4 -87.8l-1.4 -0.3M-40.3 -91.4l-6.0 1.5M-46.3 -89.9l-4.5 1.8M-38.7 -91.2l-1.5 -0.3M-29.6 -94.0l-6.1 1.2M-35.7 -92.8l-4.6 1.4M-27.9 -93.7l-1.6 -0.2M-18.7 -95.8l-6.2 0.8M-25.0 -95.0l-4.6 1.0M-17.0 -95.5l-1.8 -0.2M-7.9 -96.8l-6.3 0.4M-14.2 -96.4l-4.5 0.6M-6.0 -96.6l-1.9 -0.2M-77.1 -76.7l-4.9 2.9M-82.0 -73.8l-4.0 2.8M-86.1 -71.0l0.8 -0.1M-76.2 -76.8l-0.9 0.1M-67.6 -81.7l-5.2 2.6M-72.9 -79.1l-4.2 2.4M-66.6 -81.8l-1.1 0.1M-57.8 -86.1l-5.5 2.3M-63.3 -83.8l-4.4 2.1M-56.6 -86.2l-1.2 0.2" fill="none"/></defs>
<g clip-path="url(#dc3)"><use href="#mesh1" x="103.5" y="307.5" stroke="#e6e6e6" stroke-width="1.05"/></g>
<path d="M21.5,43.8 C22.2,45.2 23.6,49.3 26.0,52.0 C28.4,54.7 33.0,56.8 36.0,60.0 C39.0,63.2 42.8,69.3 44.1,71.2 " fill="none" stroke="#2f6424" stroke-width="4.3999999999999995" stroke-linecap="round"/><path d="M21.5,43.8 C22.2,45.2 23.6,49.3 26.0,52.0 C28.4,54.7 33.0,56.8 36.0,60.0 C39.0,63.2 42.8,69.3 44.1,71.2 " fill="none" stroke="#4f9438" stroke-width="3.8" stroke-linecap="round"/><path d="M21.5,43.8 C22.2,45.2 23.6,49.3 26.0,52.0 C28.4,54.7 33.0,56.8 36.0,60.0 C39.0,63.2 42.8,69.3 44.1,71.2 " fill="none" stroke="#8cc868" stroke-width="1.3" stroke-linecap="round" transform="translate(-0.6,-0.3)" opacity="0.8"/><path d="M56.0,31.9 C56.2,34.1 55.7,40.8 57.0,45.0 C58.3,49.2 61.6,53.2 64.0,57.0 C66.4,60.8 70.2,65.8 71.5,67.6 " fill="none" stroke="#2f6424" stroke-width="4.3999999999999995" stroke-linecap="round"/><path d="M56.0,31.9 C56.2,34.1 55.7,40.8 57.0,45.0 C58.3,49.2 61.6,53.2 64.0,57.0 C66.4,60.8 70.2,65.8 71.5,67.6 " fill="none" stroke="#4f9438" stroke-width="3.8" stroke-linecap="round"/><path d="M56.0,31.9 C56.2,34.1 55.7,40.8 57.0,45.0 C58.3,49.2 61.6,53.2 64.0,57.0 C66.4,60.8 70.2,65.8 71.5,67.6 " fill="none" stroke="#8cc868" stroke-width="1.3" stroke-linecap="round" transform="translate(-0.6,-0.3)" opacity="0.8"/><path d="M76.2,51.0 C76.5,52.8 76.9,58.3 78.0,62.0 C79.1,65.7 81.5,69.3 83.0,73.0 C84.5,76.7 86.3,82.4 87.0,84.3 " fill="none" stroke="#2f6424" stroke-width="4.3999999999999995" stroke-linecap="round"/><path d="M76.2,51.0 C76.5,52.8 76.9,58.3 78.0,62.0 C79.1,65.7 81.5,69.3 83.0,73.0 C84.5,76.7 86.3,82.4 87.0,84.3 " fill="none" stroke="#4f9438" stroke-width="3.8" stroke-linecap="round"/><path d="M76.2,51.0 C76.5,52.8 76.9,58.3 78.0,62.0 C79.1,65.7 81.5,69.3 83.0,73.0 C84.5,76.7 86.3,82.4 87.0,84.3 " fill="none" stroke="#8cc868" stroke-width="1.3" stroke-linecap="round" transform="translate(-0.6,-0.3)" opacity="0.8"/><path d="M107.2,27.1 C107.0,29.2 106.5,35.5 106.0,40.0 C105.5,44.5 104.4,49.6 104.0,54.0 C103.6,58.4 103.7,64.3 103.6,66.4 " fill="none" stroke="#2f6424" stroke-width="4.3999999999999995" stroke-linecap="round"/><path d="M107.2,27.1 C107.0,29.2 106.5,35.5 106.0,40.0 C105.5,44.5 104.4,49.6 104.0,54.0 C103.6,58.4 103.7,64.3 103.6,66.4 " fill="none" stroke="#4f9438" stroke-width="3.8" stroke-linecap="round"/><path d="M107.2,27.1 C107.0,29.2 106.5,35.5 106.0,40.0 C105.5,44.5 104.4,49.6 104.0,54.0 C103.6,58.4 103.7,64.3 103.6,66.4 " fill="none" stroke="#8cc868" stroke-width="1.3" stroke-linecap="round" transform="translate(-0.6,-0.3)" opacity="0.8"/><path d="M154.8,36.7 C153.8,38.1 150.6,41.6 149.0,45.0 C147.4,48.4 146.2,52.8 145.0,57.0 C143.8,61.2 142.2,67.8 141.7,70.0 " fill="none" stroke="#2f6424" stroke-width="4.3999999999999995" stroke-linecap="round"/><path d="M154.8,36.7 C153.8,38.1 150.6,41.6 149.0,45.0 C147.4,48.4 146.2,52.8 145.0,57.0 C143.8,61.2 142.2,67.8 141.7,70.0 " fill="none" stroke="#4f9438" stroke-width="3.8" stroke-linecap="round"/><path d="M154.8,36.7 C153.8,38.1 150.6,41.6 149.0,45.0 C147.4,48.4 146.2,52.8 145.0,57.0 C143.8,61.2 142.2,67.8 141.7,70.0 " fill="none" stroke="#8cc868" stroke-width="1.3" stroke-linecap="round" transform="translate(-0.6,-0.3)" opacity="0.8"/><path d="M57.2,83.1 C58.7,84.2 63.5,87.0 66.0,90.0 C68.5,93.0 70.1,97.6 72.0,101.0 C73.9,104.4 76.5,108.9 77.4,110.5 " fill="none" stroke="#2f6424" stroke-width="4.3999999999999995" stroke-linecap="round"/><path d="M57.2,83.1 C58.7,84.2 63.5,87.0 66.0,90.0 C68.5,93.0 70.1,97.6 72.0,101.0 C73.9,104.4 76.5,108.9 77.4,110.5 " fill="none" stroke="#4f9438" stroke-width="3.8" stroke-linecap="round"/><path d="M57.2,83.1 C58.7,84.2 63.5,87.0 66.0,90.0 C68.5,93.0 70.1,97.6 72.0,101.0 C73.9,104.4 76.5,108.9 77.4,110.5 " fill="none" stroke="#8cc868" stroke-width="1.3" stroke-linecap="round" transform="translate(-0.6,-0.3)" opacity="0.8"/><path d="M129.8,89.0 C128.7,89.5 124.5,90.0 123.0,92.0 C121.5,94.0 121.0,97.9 121.0,101.0 C121.0,104.1 122.4,108.9 122.7,110.5 " fill="none" stroke="#2f6424" stroke-width="4.3999999999999995" stroke-linecap="round"/><path d="M129.8,89.0 C128.7,89.5 124.5,90.0 123.0,92.0 C121.5,94.0 121.0,97.9 121.0,101.0 C121.0,104.1 122.4,108.9 122.7,110.5 " fill="none" stroke="#4f9438" stroke-width="3.8" stroke-linecap="round"/><path d="M129.8,89.0 C128.7,89.5 124.5,90.0 123.0,92.0 C121.5,94.0 121.0,97.9 121.0,101.0 C121.0,104.1 122.4,108.9 122.7,110.5 " fill="none" stroke="#8cc868" stroke-width="1.3" stroke-linecap="round" transform="translate(-0.6,-0.3)" opacity="0.8"/><path d="M169.1,72.4 C167.9,73.3 164.5,75.4 162.0,78.0 C159.5,80.6 156.4,84.8 154.0,88.0 C151.6,91.2 148.8,95.8 147.7,97.4 " fill="none" stroke="#2f6424" stroke-width="4.3999999999999995" stroke-linecap="round"/><path d="M169.1,72.4 C167.9,73.3 164.5,75.4 162.0,78.0 C159.5,80.6 156.4,84.8 154.0,88.0 C151.6,91.2 148.8,95.8 147.7,97.4 " fill="none" stroke="#4f9438" stroke-width="3.8" stroke-linecap="round"/><path d="M169.1,72.4 C167.9,73.3 164.5,75.4 162.0,78.0 C159.5,80.6 156.4,84.8 154.0,88.0 C151.6,91.2 148.8,95.8 147.7,97.4 " fill="none" stroke="#8cc868" stroke-width="1.3" stroke-linecap="round" transform="translate(-0.6,-0.3)" opacity="0.8"/><path d="M16.7,111.7 C17.9,111.9 21.6,112.2 24.0,113.0 C26.4,113.8 29.8,115.8 31.0,116.4 " fill="none" stroke="#2f6424" stroke-width="4.3999999999999995" stroke-linecap="round"/><path d="M16.7,111.7 C17.9,111.9 21.6,112.2 24.0,113.0 C26.4,113.8 29.8,115.8 31.0,116.4 " fill="none" stroke="#4f9438" stroke-width="3.8" stroke-linecap="round"/><path d="M16.7,111.7 C17.9,111.9 21.6,112.2 24.0,113.0 C26.4,113.8 29.8,115.8 31.0,116.4 " fill="none" stroke="#8cc868" stroke-width="1.3" stroke-linecap="round" transform="translate(-0.6,-0.3)" opacity="0.8"/><path d="M186.0,99.0 C185.0,99.8 182.0,102.7 180.0,104.0 C178.0,105.3 175.0,106.5 174.0,107.0 " fill="none" stroke="#2f6424" stroke-width="4.3999999999999995" stroke-linecap="round"/><path d="M186.0,99.0 C185.0,99.8 182.0,102.7 180.0,104.0 C178.0,105.3 175.0,106.5 174.0,107.0 " fill="none" stroke="#4f9438" stroke-width="3.8" stroke-linecap="round"/><path d="M186.0,99.0 C185.0,99.8 182.0,102.7 180.0,104.0 C178.0,105.3 175.0,106.5 174.0,107.0 " fill="none" stroke="#8cc868" stroke-width="1.3" stroke-linecap="round" transform="translate(-0.6,-0.3)" opacity="0.8"/><path d="M186.0,88.0 C185.3,88.8 182.7,92.2 182.0,93.0 " fill="none" stroke="#2f6424" stroke-width="4.3999999999999995" stroke-linecap="round"/><path d="M186.0,88.0 C185.3,88.8 182.7,92.2 182.0,93.0 " fill="none" stroke="#4f9438" stroke-width="3.8" stroke-linecap="round"/><path d="M186.0,88.0 C185.3,88.8 182.7,92.2 182.0,93.0 " fill="none" stroke="#8cc868" stroke-width="1.3" stroke-linecap="round" transform="translate(-0.6,-0.3)" opacity="0.8"/>
<linearGradient id="cg1" gradientUnits="userSpaceOnUse" x1="91.4" y1="10.0" x2="90.2" y2="-3.9"><stop offset="0" stop-color="#b4dcf2"/><stop offset="0.6" stop-color="#c4e4f6"/><stop offset="1" stop-color="#dff0fa" stop-opacity="0.6"/></linearGradient><path d="M90.2,-3.9 L96.2,9.6 A4.8,4.8 0 1,1 86.6,10.4 Z" fill="url(#cg1)"/><circle cx="91.5" cy="10.8" r="1.35" fill="#5e8ec8"/><circle cx="91.2" cy="10.5" r="0.55" fill="#9cc0ea"/><circle cx="93.8" cy="11.5" r="1.35" fill="#5e8ec8"/><circle cx="93.5" cy="11.2" r="0.55" fill="#9cc0ea"/><circle cx="89.2" cy="11.5" r="1.35" fill="#5e8ec8"/><circle cx="88.9" cy="11.2" r="0.55" fill="#9cc0ea"/><circle cx="92.3" cy="8.6" r="1.35" fill="#5e8ec8"/><circle cx="92.0" cy="8.3" r="0.55" fill="#9cc0ea"/><circle cx="90.3" cy="8.8" r="1.35" fill="#5e8ec8"/><circle cx="90.0" cy="8.5" r="0.55" fill="#9cc0ea"/><circle cx="92.9" cy="13.2" r="1.35" fill="#5e8ec8"/><circle cx="92.6" cy="12.9" r="0.55" fill="#9cc0ea"/><circle cx="90.2" cy="13.3" r="1.35" fill="#5e8ec8"/><circle cx="89.9" cy="13.0" r="0.55" fill="#9cc0ea"/><circle cx="91.5" cy="15.1" r="1.35" fill="#5e8ec8"/><circle cx="91.2" cy="14.8" r="0.55" fill="#9cc0ea"/><circle cx="94.1" cy="9.3" r="1.35" fill="#5e8ec8"/><circle cx="93.8" cy="9.0" r="0.55" fill="#9cc0ea"/>
<linearGradient id="cg2" gradientUnits="userSpaceOnUse" x1="135.4" y1="20.0" x2="140.2" y2="6.8"><stop offset="0" stop-color="#b4dcf2"/><stop offset="0.6" stop-color="#c4e4f6"/><stop offset="1" stop-color="#dff0fa" stop-opacity="0.6"/></linearGradient><path d="M140.2,6.8 L139.9,21.6 A4.8,4.8 0 1,1 130.9,18.4 Z" fill="url(#cg2)"/><circle cx="135.1" cy="20.8" r="1.35" fill="#5e8ec8"/><circle cx="134.8" cy="20.5" r="0.55" fill="#9cc0ea"/><circle cx="137.4" cy="21.5" r="1.35" fill="#5e8ec8"/><circle cx="137.1" cy="21.2" r="0.55" fill="#9cc0ea"/><circle cx="132.8" cy="21.5" r="1.35" fill="#5e8ec8"/><circle cx="132.5" cy="21.2" r="0.55" fill="#9cc0ea"/><circle cx="135.9" cy="18.6" r="1.35" fill="#5e8ec8"/><circle cx="135.6" cy="18.3" r="0.55" fill="#9cc0ea"/><circle cx="133.9" cy="18.8" r="1.35" fill="#5e8ec8"/><circle cx="133.6" cy="18.5" r="0.55" fill="#9cc0ea"/><circle cx="136.5" cy="23.2" r="1.35" fill="#5e8ec8"/><circle cx="136.2" cy="22.9" r="0.55" fill="#9cc0ea"/><circle cx="133.8" cy="23.3" r="1.35" fill="#5e8ec8"/><circle cx="133.5" cy="23.0" r="0.55" fill="#9cc0ea"/><circle cx="135.1" cy="25.1" r="1.35" fill="#5e8ec8"/><circle cx="134.8" cy="24.8" r="0.55" fill="#9cc0ea"/><circle cx="137.7" cy="19.3" r="1.35" fill="#5e8ec8"/><circle cx="137.4" cy="19.0" r="0.55" fill="#9cc0ea"/>
<linearGradient id="cg3" gradientUnits="userSpaceOnUse" x1="44.3" y1="27.0" x2="34.4" y2="17.1"><stop offset="0" stop-color="#b4dcf2"/><stop offset="0.6" stop-color="#c4e4f6"/><stop offset="1" stop-color="#dff0fa" stop-opacity="0.6"/></linearGradient><path d="M34.4,17.1 L47.7,23.6 A4.8,4.8 0 1,1 40.9,30.4 Z" fill="url(#cg3)"/><circle cx="44.9" cy="27.6" r="1.35" fill="#5e8ec8"/><circle cx="44.6" cy="27.3" r="0.55" fill="#9cc0ea"/><circle cx="47.2" cy="28.3" r="1.35" fill="#5e8ec8"/><circle cx="46.9" cy="28.0" r="0.55" fill="#9cc0ea"/><circle cx="42.6" cy="28.3" r="1.35" fill="#5e8ec8"/><circle cx="42.3" cy="28.0" r="0.55" fill="#9cc0ea"/><circle cx="45.7" cy="25.4" r="1.35" fill="#5e8ec8"/><circle cx="45.4" cy="25.1" r="0.55" fill="#9cc0ea"/><circle cx="43.7" cy="25.6" r="1.35" fill="#5e8ec8"/><circle cx="43.4" cy="25.3" r="0.55" fill="#9cc0ea"/><circle cx="46.3" cy="30.0" r="1.35" fill="#5e8ec8"/><circle cx="46.0" cy="29.7" r="0.55" fill="#9cc0ea"/><circle cx="43.6" cy="30.1" r="1.35" fill="#5e8ec8"/><circle cx="43.3" cy="29.8" r="0.55" fill="#9cc0ea"/><circle cx="44.9" cy="31.9" r="1.35" fill="#5e8ec8"/><circle cx="44.6" cy="31.6" r="0.55" fill="#9cc0ea"/><circle cx="47.5" cy="26.1" r="1.35" fill="#5e8ec8"/><circle cx="47.2" cy="25.8" r="0.55" fill="#9cc0ea"/>
<linearGradient id="cg4" gradientUnits="userSpaceOnUse" x1="77.5" y1="32.5" x2="67.6" y2="22.6"><stop offset="0" stop-color="#b4dcf2"/><stop offset="0.6" stop-color="#c4e4f6"/><stop offset="1" stop-color="#dff0fa" stop-opacity="0.6"/></linearGradient><path d="M67.6,22.6 L80.9,29.1 A4.8,4.8 0 1,1 74.1,35.9 Z" fill="url(#cg4)"/><circle cx="78.1" cy="33.1" r="1.35" fill="#5e8ec8"/><circle cx="77.8" cy="32.8" r="0.55" fill="#9cc0ea"/><circle cx="80.4" cy="33.8" r="1.35" fill="#5e8ec8"/><circle cx="80.1" cy="33.5" r="0.55" fill="#9cc0ea"/><circle cx="75.8" cy="33.8" r="1.35" fill="#5e8ec8"/><circle cx="75.5" cy="33.5" r="0.55" fill="#9cc0ea"/><circle cx="78.9" cy="30.9" r="1.35" fill="#5e8ec8"/><circle cx="78.6" cy="30.6" r="0.55" fill="#9cc0ea"/><circle cx="76.9" cy="31.1" r="1.35" fill="#5e8ec8"/><circle cx="76.6" cy="30.8" r="0.55" fill="#9cc0ea"/><circle cx="79.5" cy="35.5" r="1.35" fill="#5e8ec8"/><circle cx="79.2" cy="35.2" r="0.55" fill="#9cc0ea"/><circle cx="76.8" cy="35.6" r="1.35" fill="#5e8ec8"/><circle cx="76.5" cy="35.3" r="0.55" fill="#9cc0ea"/><circle cx="78.1" cy="37.4" r="1.35" fill="#5e8ec8"/><circle cx="77.8" cy="37.1" r="0.55" fill="#9cc0ea"/><circle cx="80.7" cy="31.6" r="1.35" fill="#5e8ec8"/><circle cx="80.4" cy="31.3" r="0.55" fill="#9cc0ea"/>
<linearGradient id="cg5" gradientUnits="userSpaceOnUse" x1="109.6" y1="38.0" x2="115.5" y2="25.3"><stop offset="0" stop-color="#b4dcf2"/><stop offset="0.6" stop-color="#c4e4f6"/><stop offset="1" stop-color="#dff0fa" stop-opacity="0.6"/></linearGradient><path d="M115.5,25.3 L114.0,40.0 A4.8,4.8 0 1,1 105.2,36.0 Z" fill="url(#cg5)"/><circle cx="109.3" cy="38.7" r="1.35" fill="#5e8ec8"/><circle cx="109.0" cy="38.4" r="0.55" fill="#9cc0ea"/><circle cx="111.6" cy="39.4" r="1.35" fill="#5e8ec8"/><circle cx="111.3" cy="39.1" r="0.55" fill="#9cc0ea"/><circle cx="107.0" cy="39.4" r="1.35" fill="#5e8ec8"/><circle cx="106.7" cy="39.1" r="0.55" fill="#9cc0ea"/><circle cx="110.1" cy="36.5" r="1.35" fill="#5e8ec8"/><circle cx="109.8" cy="36.2" r="0.55" fill="#9cc0ea"/><circle cx="108.1" cy="36.7" r="1.35" fill="#5e8ec8"/><circle cx="107.8" cy="36.4" r="0.55" fill="#9cc0ea"/><circle cx="110.7" cy="41.1" r="1.35" fill="#5e8ec8"/><circle cx="110.4" cy="40.8" r="0.55" fill="#9cc0ea"/><circle cx="108.0" cy="41.2" r="1.35" fill="#5e8ec8"/><circle cx="107.7" cy="40.9" r="0.55" fill="#9cc0ea"/><circle cx="109.3" cy="43.0" r="1.35" fill="#5e8ec8"/><circle cx="109.0" cy="42.7" r="0.55" fill="#9cc0ea"/><circle cx="111.9" cy="37.2" r="1.35" fill="#5e8ec8"/><circle cx="111.6" cy="36.9" r="0.55" fill="#9cc0ea"/>
<linearGradient id="cg6" gradientUnits="userSpaceOnUse" x1="160.0" y1="28.0" x2="168.0" y2="16.5"><stop offset="0" stop-color="#b4dcf2"/><stop offset="0.6" stop-color="#c4e4f6"/><stop offset="1" stop-color="#dff0fa" stop-opacity="0.6"/></linearGradient><path d="M168.0,16.5 L163.9,30.8 A4.8,4.8 0 1,1 156.1,25.2 Z" fill="url(#cg6)"/><circle cx="159.5" cy="28.7" r="1.35" fill="#5e8ec8"/><circle cx="159.2" cy="28.4" r="0.55" fill="#9cc0ea"/><circle cx="161.8" cy="29.4" r="1.35" fill="#5e8ec8"/><circle cx="161.5" cy="29.1" r="0.55" fill="#9cc0ea"/><circle cx="157.2" cy="29.4" r="1.35" fill="#5e8ec8"/><circle cx="156.9" cy="29.1" r="0.55" fill="#9cc0ea"/><circle cx="160.3" cy="26.5" r="1.35" fill="#5e8ec8"/><circle cx="160.0" cy="26.2" r="0.55" fill="#9cc0ea"/><circle cx="158.3" cy="26.7" r="1.35" fill="#5e8ec8"/><circle cx="158.0" cy="26.4" r="0.55" fill="#9cc0ea"/><circle cx="160.9" cy="31.1" r="1.35" fill="#5e8ec8"/><circle cx="160.6" cy="30.8" r="0.55" fill="#9cc0ea"/><circle cx="158.2" cy="31.2" r="1.35" fill="#5e8ec8"/><circle cx="157.9" cy="30.9" r="0.55" fill="#9cc0ea"/><circle cx="159.5" cy="33.0" r="1.35" fill="#5e8ec8"/><circle cx="159.2" cy="32.7" r="0.55" fill="#9cc0ea"/><circle cx="162.1" cy="27.2" r="1.35" fill="#5e8ec8"/><circle cx="161.8" cy="26.9" r="0.55" fill="#9cc0ea"/>
<linearGradient id="cg7" gradientUnits="userSpaceOnUse" x1="44.3" y1="45.5" x2="40.7" y2="32.0"><stop offset="0" stop-color="#b4dcf2"/><stop offset="0.6" stop-color="#c4e4f6"/><stop offset="1" stop-color="#dff0fa" stop-opacity="0.6"/></linearGradient><path d="M40.7,32.0 L48.9,44.3 A4.8,4.8 0 1,1 39.7,46.7 Z" fill="url(#cg7)"/><circle cx="44.5" cy="46.3" r="1.35" fill="#5e8ec8"/><circle cx="44.2" cy="46.0" r="0.55" fill="#9cc0ea"/><circle cx="46.8" cy="47.0" r="1.35" fill="#5e8ec8"/><circle cx="46.5" cy="46.7" r="0.55" fill="#9cc0ea"/><circle cx="42.2" cy="47.0" r="1.35" fill="#5e8ec8"/><circle cx="41.9" cy="46.7" r="0.55" fill="#9cc0ea"/><circle cx="45.3" cy="44.1" r="1.35" fill="#5e8ec8"/><circle cx="45.0" cy="43.8" r="0.55" fill="#9cc0ea"/><circle cx="43.3" cy="44.3" r="1.35" fill="#5e8ec8"/><circle cx="43.0" cy="44.0" r="0.55" fill="#9cc0ea"/><circle cx="45.9" cy="48.7" r="1.35" fill="#5e8ec8"/><circle cx="45.6" cy="48.4" r="0.55" fill="#9cc0ea"/><circle cx="43.2" cy="48.8" r="1.35" fill="#5e8ec8"/><circle cx="42.9" cy="48.5" r="0.55" fill="#9cc0ea"/><circle cx="44.5" cy="50.6" r="1.35" fill="#5e8ec8"/><circle cx="44.2" cy="50.3" r="0.55" fill="#9cc0ea"/><circle cx="47.1" cy="44.8" r="1.35" fill="#5e8ec8"/><circle cx="46.8" cy="44.5" r="0.55" fill="#9cc0ea"/>
<linearGradient id="cg8" gradientUnits="userSpaceOnUse" x1="22.9" y1="52.5" x2="15.9" y2="40.4"><stop offset="0" stop-color="#b4dcf2"/><stop offset="0.6" stop-color="#c4e4f6"/><stop offset="1" stop-color="#dff0fa" stop-opacity="0.6"/></linearGradient><path d="M15.9,40.4 L27.1,50.1 A4.8,4.8 0 1,1 18.7,54.9 Z" fill="url(#cg8)"/><circle cx="23.3" cy="53.2" r="1.35" fill="#5e8ec8"/><circle cx="23.0" cy="52.9" r="0.55" fill="#9cc0ea"/><circle cx="25.6" cy="53.9" r="1.35" fill="#5e8ec8"/><circle cx="25.3" cy="53.6" r="0.55" fill="#9cc0ea"/><circle cx="21.0" cy="53.9" r="1.35" fill="#5e8ec8"/><circle cx="20.7" cy="53.6" r="0.55" fill="#9cc0ea"/><circle cx="24.1" cy="51.0" r="1.35" fill="#5e8ec8"/><circle cx="23.8" cy="50.7" r="0.55" fill="#9cc0ea"/><circle cx="22.1" cy="51.2" r="1.35" fill="#5e8ec8"/><circle cx="21.8" cy="50.9" r="0.55" fill="#9cc0ea"/><circle cx="24.7" cy="55.6" r="1.35" fill="#5e8ec8"/><circle cx="24.4" cy="55.3" r="0.55" fill="#9cc0ea"/><circle cx="22.0" cy="55.7" r="1.35" fill="#5e8ec8"/><circle cx="21.7" cy="55.4" r="0.55" fill="#9cc0ea"/><circle cx="23.3" cy="57.5" r="1.35" fill="#5e8ec8"/><circle cx="23.0" cy="57.2" r="0.55" fill="#9cc0ea"/><circle cx="25.9" cy="51.7" r="1.35" fill="#5e8ec8"/><circle cx="25.6" cy="51.4" r="0.55" fill="#9cc0ea"/>
<linearGradient id="cg9" gradientUnits="userSpaceOnUse" x1="136.4" y1="49.5" x2="143.4" y2="37.4"><stop offset="0" stop-color="#b4dcf2"/><stop offset="0.6" stop-color="#c4e4f6"/><stop offset="1" stop-color="#dff0fa" stop-opacity="0.6"/></linearGradient><path d="M143.4,37.4 L140.6,51.9 A4.8,4.8 0 1,1 132.2,47.1 Z" fill="url(#cg9)"/><circle cx="136.0" cy="50.2" r="1.35" fill="#5e8ec8"/><circle cx="135.7" cy="49.9" r="0.55" fill="#9cc0ea"/><circle cx="138.3" cy="50.9" r="1.35" fill="#5e8ec8"/><circle cx="138.0" cy="50.6" r="0.55" fill="#9cc0ea"/><circle cx="133.7" cy="50.9" r="1.35" fill="#5e8ec8"/><circle cx="133.4" cy="50.6" r="0.55" fill="#9cc0ea"/><circle cx="136.8" cy="48.0" r="1.35" fill="#5e8ec8"/><circle cx="136.5" cy="47.7" r="0.55" fill="#9cc0ea"/><circle cx="134.8" cy="48.2" r="1.35" fill="#5e8ec8"/><circle cx="134.5" cy="47.9" r="0.55" fill="#9cc0ea"/><circle cx="137.4" cy="52.6" r="1.35" fill="#5e8ec8"/><circle cx="137.1" cy="52.3" r="0.55" fill="#9cc0ea"/><circle cx="134.7" cy="52.7" r="1.35" fill="#5e8ec8"/><circle cx="134.4" cy="52.4" r="0.55" fill="#9cc0ea"/><circle cx="136.0" cy="54.5" r="1.35" fill="#5e8ec8"/><circle cx="135.7" cy="54.2" r="0.55" fill="#9cc0ea"/><circle cx="138.6" cy="48.7" r="1.35" fill="#5e8ec8"/><circle cx="138.3" cy="48.4" r="0.55" fill="#9cc0ea"/>
<linearGradient id="cg10" gradientUnits="userSpaceOnUse" x1="160.0" y1="52.0" x2="169.9" y2="42.1"><stop offset="0" stop-color="#b4dcf2"/><stop offset="0.6" stop-color="#c4e4f6"/><stop offset="1" stop-color="#dff0fa" stop-opacity="0.6"/></linearGradient><path d="M169.9,42.1 L163.4,55.4 A4.8,4.8 0 1,1 156.6,48.6 Z" fill="url(#cg10)"/><circle cx="159.4" cy="52.6" r="1.35" fill="#5e8ec8"/><circle cx="159.1" cy="52.3" r="0.55" fill="#9cc0ea"/><circle cx="161.7" cy="53.3" r="1.35" fill="#5e8ec8"/><circle cx="161.4" cy="53.0" r="0.55" fill="#9cc0ea"/><circle cx="157.1" cy="53.3" r="1.35" fill="#5e8ec8"/><circle cx="156.8" cy="53.0" r="0.55" fill="#9cc0ea"/><circle cx="160.2" cy="50.4" r="1.35" fill="#5e8ec8"/><circle cx="159.9" cy="50.1" r="0.55" fill="#9cc0ea"/><circle cx="158.2" cy="50.6" r="1.35" fill="#5e8ec8"/><circle cx="157.9" cy="50.3" r="0.55" fill="#9cc0ea"/><circle cx="160.8" cy="55.0" r="1.35" fill="#5e8ec8"/><circle cx="160.5" cy="54.7" r="0.55" fill="#9cc0ea"/><circle cx="158.1" cy="55.1" r="1.35" fill="#5e8ec8"/><circle cx="157.8" cy="54.8" r="0.55" fill="#9cc0ea"/><circle cx="159.4" cy="56.9" r="1.35" fill="#5e8ec8"/><circle cx="159.1" cy="56.6" r="0.55" fill="#9cc0ea"/><circle cx="162.0" cy="51.1" r="1.35" fill="#5e8ec8"/><circle cx="161.7" cy="50.8" r="0.55" fill="#9cc0ea"/>
<linearGradient id="cg11" gradientUnits="userSpaceOnUse" x1="177.0" y1="69.5" x2="188.5" y2="62.8"><stop offset="0" stop-color="#b4dcf2"/><stop offset="0.6" stop-color="#c4e4f6"/><stop offset="1" stop-color="#dff0fa" stop-opacity="0.6"/></linearGradient><path d="M188.5,62.8 L179.3,73.4 A4.6,4.6 0 1,1 174.7,65.6 Z" fill="url(#cg11)"/><circle cx="176.3" cy="69.9" r="1.28" fill="#5e8ec8"/><circle cx="176.0" cy="69.6" r="0.52" fill="#9cc0ea"/><circle cx="178.5" cy="70.6" r="1.28" fill="#5e8ec8"/><circle cx="178.2" cy="70.3" r="0.52" fill="#9cc0ea"/><circle cx="174.1" cy="70.6" r="1.28" fill="#5e8ec8"/><circle cx="173.8" cy="70.3" r="0.52" fill="#9cc0ea"/><circle cx="177.1" cy="67.8" r="1.28" fill="#5e8ec8"/><circle cx="176.8" cy="67.5" r="0.52" fill="#9cc0ea"/><circle cx="175.2" cy="68.0" r="1.28" fill="#5e8ec8"/><circle cx="174.9" cy="67.7" r="0.52" fill="#9cc0ea"/><circle cx="177.6" cy="72.2" r="1.28" fill="#5e8ec8"/><circle cx="177.3" cy="71.9" r="0.52" fill="#9cc0ea"/><circle cx="175.1" cy="72.3" r="1.28" fill="#5e8ec8"/><circle cx="174.8" cy="72.0" r="0.52" fill="#9cc0ea"/><circle cx="176.3" cy="74.0" r="1.28" fill="#5e8ec8"/><circle cx="176.0" cy="73.7" r="0.52" fill="#9cc0ea"/><circle cx="178.8" cy="68.5" r="1.28" fill="#5e8ec8"/><circle cx="178.5" cy="68.2" r="0.52" fill="#9cc0ea"/>
<linearGradient id="cg12" gradientUnits="userSpaceOnUse" x1="46.9" y1="95.2" x2="33.7" y2="90.4"><stop offset="0" stop-color="#b4dcf2"/><stop offset="0.6" stop-color="#c4e4f6"/><stop offset="1" stop-color="#dff0fa" stop-opacity="0.6"/></linearGradient><path d="M33.7,90.4 L48.5,90.7 A4.8,4.8 0 1,1 45.3,99.7 Z" fill="url(#cg12)"/><circle cx="47.7" cy="95.5" r="1.35" fill="#5e8ec8"/><circle cx="47.4" cy="95.2" r="0.55" fill="#9cc0ea"/><circle cx="50.0" cy="96.2" r="1.35" fill="#5e8ec8"/><circle cx="49.7" cy="95.9" r="0.55" fill="#9cc0ea"/><circle cx="45.4" cy="96.2" r="1.35" fill="#5e8ec8"/><circle cx="45.1" cy="95.9" r="0.55" fill="#9cc0ea"/><circle cx="48.5" cy="93.3" r="1.35" fill="#5e8ec8"/><circle cx="48.2" cy="93.0" r="0.55" fill="#9cc0ea"/><circle cx="46.5" cy="93.5" r="1.35" fill="#5e8ec8"/><circle cx="46.2" cy="93.2" r="0.55" fill="#9cc0ea"/><circle cx="49.1" cy="97.9" r="1.35" fill="#5e8ec8"/><circle cx="48.8" cy="97.6" r="0.55" fill="#9cc0ea"/><circle cx="46.4" cy="98.0" r="1.35" fill="#5e8ec8"/><circle cx="46.1" cy="97.7" r="0.55" fill="#9cc0ea"/><circle cx="47.7" cy="99.8" r="1.35" fill="#5e8ec8"/><circle cx="47.4" cy="99.5" r="0.55" fill="#9cc0ea"/><circle cx="50.3" cy="94.0" r="1.35" fill="#5e8ec8"/><circle cx="50.0" cy="93.7" r="0.55" fill="#9cc0ea"/>
<linearGradient id="cg13" gradientUnits="userSpaceOnUse" x1="154.2" y1="104.6" x2="141.0" y2="99.8"><stop offset="0" stop-color="#b4dcf2"/><stop offset="0.6" stop-color="#c4e4f6"/><stop offset="1" stop-color="#dff0fa" stop-opacity="0.6"/></linearGradient><path d="M141.0,99.8 L155.8,100.1 A4.8,4.8 0 1,1 152.6,109.1 Z" fill="url(#cg13)"/><circle cx="155.0" cy="104.9" r="1.35" fill="#5e8ec8"/><circle cx="154.7" cy="104.6" r="0.55" fill="#9cc0ea"/><circle cx="157.3" cy="105.6" r="1.35" fill="#5e8ec8"/><circle cx="157.0" cy="105.3" r="0.55" fill="#9cc0ea"/><circle cx="152.7" cy="105.6" r="1.35" fill="#5e8ec8"/><circle cx="152.4" cy="105.3" r="0.55" fill="#9cc0ea"/><circle cx="155.8" cy="102.7" r="1.35" fill="#5e8ec8"/><circle cx="155.5" cy="102.4" r="0.55" fill="#9cc0ea"/><circle cx="153.8" cy="102.9" r="1.35" fill="#5e8ec8"/><circle cx="153.5" cy="102.6" r="0.55" fill="#9cc0ea"/><circle cx="156.4" cy="107.3" r="1.35" fill="#5e8ec8"/><circle cx="156.1" cy="107.0" r="0.55" fill="#9cc0ea"/><circle cx="153.7" cy="107.4" r="1.35" fill="#5e8ec8"/><circle cx="153.4" cy="107.1" r="0.55" fill="#9cc0ea"/><circle cx="155.0" cy="109.2" r="1.35" fill="#5e8ec8"/><circle cx="154.7" cy="108.9" r="0.55" fill="#9cc0ea"/><circle cx="157.6" cy="103.4" r="1.35" fill="#5e8ec8"/><circle cx="157.3" cy="103.1" r="0.55" fill="#9cc0ea"/>
<circle cx="399.8" cy="48.6" r="10" fill="#e2b41e"/><circle cx="399.8" cy="48.6" r="10" fill="url(#patBump)" opacity="0.8"/><circle cx="399.8" cy="48.6" r="10" fill="url(#gEdge)"/>
<circle cx="465.2" cy="56.9" r="9.5" fill="#e2b41e"/><circle cx="465.2" cy="56.9" r="9.5" fill="url(#patBump)" opacity="0.8"/><circle cx="465.2" cy="56.9" r="9.5" fill="url(#gEdge)"/>
<circle cx="361.7" cy="95" r="13.8" fill="#e2b41e"/><circle cx="361.7" cy="95" r="13.8" fill="url(#patBump)" opacity="0.8"/><circle cx="361.7" cy="95" r="13.8" fill="url(#gEdge)"/>
<circle cx="418.8" cy="86.7" r="13.8" fill="#e2b41e"/><circle cx="418.8" cy="86.7" r="13.8" fill="url(#patBump)" opacity="0.8"/><circle cx="418.8" cy="86.7" r="13.8" fill="url(#gEdge)"/>
<circle cx="477.1" cy="110.5" r="14.8" fill="#e2b41e"/><circle cx="477.1" cy="110.5" r="14.8" fill="url(#patBump)" opacity="0.8"/><circle cx="477.1" cy="110.5" r="14.8" fill="url(#gEdge)"/>
<path d="M335.5,43.8 C336.2,45.2 337.6,49.3 340.0,52.0 C342.4,54.7 347.0,56.8 350.0,60.0 C353.0,63.2 356.8,69.3 358.1,71.2 " fill="none" stroke="#2f6424" stroke-width="4.3999999999999995" stroke-linecap="round"/><path d="M335.5,43.8 C336.2,45.2 337.6,49.3 340.0,52.0 C342.4,54.7 347.0,56.8 350.0,60.0 C353.0,63.2 356.8,69.3 358.1,71.2 " fill="none" stroke="#4f9438" stroke-width="3.8" stroke-linecap="round"/><path d="M335.5,43.8 C336.2,45.2 337.6,49.3 340.0,52.0 C342.4,54.7 347.0,56.8 350.0,60.0 C353.0,63.2 356.8,69.3 358.1,71.2 " fill="none" stroke="#8cc868" stroke-width="1.3" stroke-linecap="round" transform="translate(-0.6,-0.3)" opacity="0.8"/><path d="M370.0,31.9 C370.2,34.1 369.7,40.8 371.0,45.0 C372.3,49.2 375.6,53.2 378.0,57.0 C380.4,60.8 384.2,65.8 385.5,67.6 " fill="none" stroke="#2f6424" stroke-width="4.3999999999999995" stroke-linecap="round"/><path d="M370.0,31.9 C370.2,34.1 369.7,40.8 371.0,45.0 C372.3,49.2 375.6,53.2 378.0,57.0 C380.4,60.8 384.2,65.8 385.5,67.6 " fill="none" stroke="#4f9438" stroke-width="3.8" stroke-linecap="round"/><path d="M370.0,31.9 C370.2,34.1 369.7,40.8 371.0,45.0 C372.3,49.2 375.6,53.2 378.0,57.0 C380.4,60.8 384.2,65.8 385.5,67.6 " fill="none" stroke="#8cc868" stroke-width="1.3" stroke-linecap="round" transform="translate(-0.6,-0.3)" opacity="0.8"/><path d="M390.2,51.0 C390.5,52.8 390.9,58.3 392.0,62.0 C393.1,65.7 395.5,69.3 397.0,73.0 C398.5,76.7 400.3,82.4 401.0,84.3 " fill="none" stroke="#2f6424" stroke-width="4.3999999999999995" stroke-linecap="round"/><path d="M390.2,51.0 C390.5,52.8 390.9,58.3 392.0,62.0 C393.1,65.7 395.5,69.3 397.0,73.0 C398.5,76.7 400.3,82.4 401.0,84.3 " fill="none" stroke="#4f9438" stroke-width="3.8" stroke-linecap="round"/><path d="M390.2,51.0 C390.5,52.8 390.9,58.3 392.0,62.0 C393.1,65.7 395.5,69.3 397.0,73.0 C398.5,76.7 400.3,82.4 401.0,84.3 " fill="none" stroke="#8cc868" stroke-width="1.3" stroke-linecap="round" transform="translate(-0.6,-0.3)" opacity="0.8"/><path d="M421.2,27.1 C421.0,29.2 420.5,35.5 420.0,40.0 C419.5,44.5 418.4,49.6 418.0,54.0 C417.6,58.4 417.7,64.3 417.6,66.4 " fill="none" stroke="#2f6424" stroke-width="4.3999999999999995" stroke-linecap="round"/><path d="M421.2,27.1 C421.0,29.2 420.5,35.5 420.0,40.0 C419.5,44.5 418.4,49.6 418.0,54.0 C417.6,58.4 417.7,64.3 417.6,66.4 " fill="none" stroke="#4f9438" stroke-width="3.8" stroke-linecap="round"/><path d="M421.2,27.1 C421.0,29.2 420.5,35.5 420.0,40.0 C419.5,44.5 418.4,49.6 418.0,54.0 C417.6,58.4 417.7,64.3 417.6,66.4 " fill="none" stroke="#8cc868" stroke-width="1.3" stroke-linecap="round" transform="translate(-0.6,-0.3)" opacity="0.8"/><path d="M468.8,36.7 C467.8,38.1 464.6,41.6 463.0,45.0 C461.4,48.4 460.2,52.8 459.0,57.0 C457.8,61.2 456.2,67.8 455.7,70.0 " fill="none" stroke="#2f6424" stroke-width="4.3999999999999995" stroke-linecap="round"/><path d="M468.8,36.7 C467.8,38.1 464.6,41.6 463.0,45.0 C461.4,48.4 460.2,52.8 459.0,57.0 C457.8,61.2 456.2,67.8 455.7,70.0 " fill="none" stroke="#4f9438" stroke-width="3.8" stroke-linecap="round"/><path d="M468.8,36.7 C467.8,38.1 464.6,41.6 463.0,45.0 C461.4,48.4 460.2,52.8 459.0,57.0 C457.8,61.2 456.2,67.8 455.7,70.0 " fill="none" stroke="#8cc868" stroke-width="1.3" stroke-linecap="round" transform="translate(-0.6,-0.3)" opacity="0.8"/><path d="M371.2,83.1 C372.7,84.2 377.5,87.0 380.0,90.0 C382.5,93.0 384.1,97.6 386.0,101.0 C387.9,104.4 390.5,108.9 391.4,110.5 " fill="none" stroke="#2f6424" stroke-width="4.3999999999999995" stroke-linecap="round"/><path d="M371.2,83.1 C372.7,84.2 377.5,87.0 380.0,90.0 C382.5,93.0 384.1,97.6 386.0,101.0 C387.9,104.4 390.5,108.9 391.4,110.5 " fill="none" stroke="#4f9438" stroke-width="3.8" stroke-linecap="round"/><path d="M371.2,83.1 C372.7,84.2 377.5,87.0 380.0,90.0 C382.5,93.0 384.1,97.6 386.0,101.0 C387.9,104.4 390.5,108.9 391.4,110.5 " fill="none" stroke="#8cc868" stroke-width="1.3" stroke-linecap="round" transform="translate(-0.6,-0.3)" opacity="0.8"/><path d="M443.8,89.0 C442.7,89.5 438.5,90.0 437.0,92.0 C435.5,94.0 435.1,97.9 435.0,101.0 C434.9,104.1 436.4,108.9 436.7,110.5 " fill="none" stroke="#2f6424" stroke-width="4.3999999999999995" stroke-linecap="round"/><path d="M443.8,89.0 C442.7,89.5 438.5,90.0 437.0,92.0 C435.5,94.0 435.1,97.9 435.0,101.0 C434.9,104.1 436.4,108.9 436.7,110.5 " fill="none" stroke="#4f9438" stroke-width="3.8" stroke-linecap="round"/><path d="M443.8,89.0 C442.7,89.5 438.5,90.0 437.0,92.0 C435.5,94.0 435.1,97.9 435.0,101.0 C434.9,104.1 436.4,108.9 436.7,110.5 " fill="none" stroke="#8cc868" stroke-width="1.3" stroke-linecap="round" transform="translate(-0.6,-0.3)" opacity="0.8"/><path d="M483.1,72.4 C481.9,73.3 478.5,75.4 476.0,78.0 C473.5,80.6 470.4,84.8 468.0,88.0 C465.6,91.2 462.8,95.8 461.7,97.4 " fill="none" stroke="#2f6424" stroke-width="4.3999999999999995" stroke-linecap="round"/><path d="M483.1,72.4 C481.9,73.3 478.5,75.4 476.0,78.0 C473.5,80.6 470.4,84.8 468.0,88.0 C465.6,91.2 462.8,95.8 461.7,97.4 " fill="none" stroke="#4f9438" stroke-width="3.8" stroke-linecap="round"/><path d="M483.1,72.4 C481.9,73.3 478.5,75.4 476.0,78.0 C473.5,80.6 470.4,84.8 468.0,88.0 C465.6,91.2 462.8,95.8 461.7,97.4 " fill="none" stroke="#8cc868" stroke-width="1.3" stroke-linecap="round" transform="translate(-0.6,-0.3)" opacity="0.8"/><path d="M330.7,111.7 C331.9,111.9 335.6,112.2 338.0,113.0 C340.4,113.8 343.8,115.8 345.0,116.4 " fill="none" stroke="#2f6424" stroke-width="4.3999999999999995" stroke-linecap="round"/><path d="M330.7,111.7 C331.9,111.9 335.6,112.2 338.0,113.0 C340.4,113.8 343.8,115.8 345.0,116.4 " fill="none" stroke="#4f9438" stroke-width="3.8" stroke-linecap="round"/><path d="M330.7,111.7 C331.9,111.9 335.6,112.2 338.0,113.0 C340.4,113.8 343.8,115.8 345.0,116.4 " fill="none" stroke="#8cc868" stroke-width="1.3" stroke-linecap="round" transform="translate(-0.6,-0.3)" opacity="0.8"/><path d="M500.0,99.0 C499.0,99.8 496.0,102.7 494.0,104.0 C492.0,105.3 489.0,106.5 488.0,107.0 " fill="none" stroke="#2f6424" stroke-width="4.3999999999999995" stroke-linecap="round"/><path d="M500.0,99.0 C499.0,99.8 496.0,102.7 494.0,104.0 C492.0,105.3 489.0,106.5 488.0,107.0 " fill="none" stroke="#4f9438" stroke-width="3.8" stroke-linecap="round"/><path d="M500.0,99.0 C499.0,99.8 496.0,102.7 494.0,104.0 C492.0,105.3 489.0,106.5 488.0,107.0 " fill="none" stroke="#8cc868" stroke-width="1.3" stroke-linecap="round" transform="translate(-0.6,-0.3)" opacity="0.8"/><path d="M500.0,88.0 C499.3,88.8 496.7,92.2 496.0,93.0 " fill="none" stroke="#2f6424" stroke-width="4.3999999999999995" stroke-linecap="round"/><path d="M500.0,88.0 C499.3,88.8 496.7,92.2 496.0,93.0 " fill="none" stroke="#4f9438" stroke-width="3.8" stroke-linecap="round"/><path d="M500.0,88.0 C499.3,88.8 496.7,92.2 496.0,93.0 " fill="none" stroke="#8cc868" stroke-width="1.3" stroke-linecap="round" transform="translate(-0.6,-0.3)" opacity="0.8"/>
<circle cx="398.6" cy="209.1" r="11.8" fill="#ece6f0" opacity="0.6"/><circle cx="398.6" cy="209.1" r="10" fill="#b0a056"/><circle cx="398.6" cy="209.1" r="10" fill="url(#patBump)" opacity="0.7"/><circle cx="398.6" cy="209.1" r="10" fill="url(#gEdge)"/>
<circle cx="464.0" cy="217.4" r="11.3" fill="#ece6f0" opacity="0.6"/><circle cx="464.0" cy="217.4" r="9.5" fill="#b0a056"/><circle cx="464.0" cy="217.4" r="9.5" fill="url(#patBump)" opacity="0.7"/><circle cx="464.0" cy="217.4" r="9.5" fill="url(#gEdge)"/>
<circle cx="360.5" cy="255.5" r="15.600000000000001" fill="#ece6f0" opacity="0.6"/><circle cx="360.5" cy="255.5" r="13.8" fill="#b0a056"/><circle cx="360.5" cy="255.5" r="13.8" fill="url(#patBump)" opacity="0.7"/><circle cx="360.5" cy="255.5" r="13.8" fill="url(#gEdge)"/>
<circle cx="417.6" cy="247.2" r="15.600000000000001" fill="#ece6f0" opacity="0.6"/><circle cx="417.6" cy="247.2" r="13.8" fill="#b0a056"/><circle cx="417.6" cy="247.2" r="13.8" fill="url(#patBump)" opacity="0.7"/><circle cx="417.6" cy="247.2" r="13.8" fill="url(#gEdge)"/>
<circle cx="475.90000000000003" cy="271.0" r="16.6" fill="#ece6f0" opacity="0.6"/><circle cx="475.90000000000003" cy="271.0" r="14.8" fill="#b0a056"/><circle cx="475.90000000000003" cy="271.0" r="14.8" fill="url(#patBump)" opacity="0.7"/><circle cx="475.90000000000003" cy="271.0" r="14.8" fill="url(#gEdge)"/>
<path d="M334.3,204.3 C335.1,205.7 336.4,209.8 338.8,212.5 C341.2,215.2 345.8,217.3 348.8,220.5 C351.8,223.7 355.6,229.8 356.9,231.7 " fill="none" stroke="#1f4a34" stroke-width="4.3999999999999995" stroke-linecap="round"/><path d="M334.3,204.3 C335.1,205.7 336.4,209.8 338.8,212.5 C341.2,215.2 345.8,217.3 348.8,220.5 C351.8,223.7 355.6,229.8 356.9,231.7 " fill="none" stroke="#3a7656" stroke-width="3.8" stroke-linecap="round"/><path d="M334.3,204.3 C335.1,205.7 336.4,209.8 338.8,212.5 C341.2,215.2 345.8,217.3 348.8,220.5 C351.8,223.7 355.6,229.8 356.9,231.7 " fill="none" stroke="#6aa884" stroke-width="1.3" stroke-linecap="round" transform="translate(-0.6,-0.3)" opacity="0.8"/><path d="M368.8,192.4 C369.0,194.6 368.5,201.3 369.8,205.5 C371.1,209.7 374.4,213.7 376.8,217.5 C379.2,221.3 383.1,226.3 384.3,228.1 " fill="none" stroke="#1f4a34" stroke-width="4.3999999999999995" stroke-linecap="round"/><path d="M368.8,192.4 C369.0,194.6 368.5,201.3 369.8,205.5 C371.1,209.7 374.4,213.7 376.8,217.5 C379.2,221.3 383.1,226.3 384.3,228.1 " fill="none" stroke="#3a7656" stroke-width="3.8" stroke-linecap="round"/><path d="M368.8,192.4 C369.0,194.6 368.5,201.3 369.8,205.5 C371.1,209.7 374.4,213.7 376.8,217.5 C379.2,221.3 383.1,226.3 384.3,228.1 " fill="none" stroke="#6aa884" stroke-width="1.3" stroke-linecap="round" transform="translate(-0.6,-0.3)" opacity="0.8"/><path d="M389.0,211.5 C389.3,213.3 389.7,218.8 390.8,222.5 C391.9,226.2 394.3,229.8 395.8,233.5 C397.3,237.2 399.1,242.9 399.8,244.8 " fill="none" stroke="#1f4a34" stroke-width="4.3999999999999995" stroke-linecap="round"/><path d="M389.0,211.5 C389.3,213.3 389.7,218.8 390.8,222.5 C391.9,226.2 394.3,229.8 395.8,233.5 C397.3,237.2 399.1,242.9 399.8,244.8 " fill="none" stroke="#3a7656" stroke-width="3.8" stroke-linecap="round"/><path d="M389.0,211.5 C389.3,213.3 389.7,218.8 390.8,222.5 C391.9,226.2 394.3,229.8 395.8,233.5 C397.3,237.2 399.1,242.9 399.8,244.8 " fill="none" stroke="#6aa884" stroke-width="1.3" stroke-linecap="round" transform="translate(-0.6,-0.3)" opacity="0.8"/><path d="M420.0,187.6 C419.8,189.8 419.3,196.0 418.8,200.5 C418.3,205.0 417.2,210.1 416.8,214.5 C416.4,218.9 416.5,224.8 416.4,226.9 " fill="none" stroke="#1f4a34" stroke-width="4.3999999999999995" stroke-linecap="round"/><path d="M420.0,187.6 C419.8,189.8 419.3,196.0 418.8,200.5 C418.3,205.0 417.2,210.1 416.8,214.5 C416.4,218.9 416.5,224.8 416.4,226.9 " fill="none" stroke="#3a7656" stroke-width="3.8" stroke-linecap="round"/><path d="M420.0,187.6 C419.8,189.8 419.3,196.0 418.8,200.5 C418.3,205.0 417.2,210.1 416.8,214.5 C416.4,218.9 416.5,224.8 416.4,226.9 " fill="none" stroke="#6aa884" stroke-width="1.3" stroke-linecap="round" transform="translate(-0.6,-0.3)" opacity="0.8"/><path d="M467.6,197.2 C466.6,198.6 463.4,202.1 461.8,205.5 C460.2,208.9 459.0,213.3 457.8,217.5 C456.6,221.7 455.1,228.3 454.5,230.5 " fill="none" stroke="#1f4a34" stroke-width="4.3999999999999995" stroke-linecap="round"/><path d="M467.6,197.2 C466.6,198.6 463.4,202.1 461.8,205.5 C460.2,208.9 459.0,213.3 457.8,217.5 C456.6,221.7 455.1,228.3 454.5,230.5 " fill="none" stroke="#3a7656" stroke-width="3.8" stroke-linecap="round"/><path d="M467.6,197.2 C466.6,198.6 463.4,202.1 461.8,205.5 C460.2,208.9 459.0,213.3 457.8,217.5 C456.6,221.7 455.1,228.3 454.5,230.5 " fill="none" stroke="#6aa884" stroke-width="1.3" stroke-linecap="round" transform="translate(-0.6,-0.3)" opacity="0.8"/><path d="M370.0,243.6 C371.5,244.8 376.3,247.5 378.8,250.5 C381.3,253.5 382.9,258.1 384.8,261.5 C386.7,264.9 389.3,269.4 390.2,271.0 " fill="none" stroke="#1f4a34" stroke-width="4.3999999999999995" stroke-linecap="round"/><path d="M370.0,243.6 C371.5,244.8 376.3,247.5 378.8,250.5 C381.3,253.5 382.9,258.1 384.8,261.5 C386.7,264.9 389.3,269.4 390.2,271.0 " fill="none" stroke="#3a7656" stroke-width="3.8" stroke-linecap="round"/><path d="M370.0,243.6 C371.5,244.8 376.3,247.5 378.8,250.5 C381.3,253.5 382.9,258.1 384.8,261.5 C386.7,264.9 389.3,269.4 390.2,271.0 " fill="none" stroke="#6aa884" stroke-width="1.3" stroke-linecap="round" transform="translate(-0.6,-0.3)" opacity="0.8"/><path d="M442.6,249.5 C441.5,250.0 437.3,250.5 435.8,252.5 C434.3,254.5 433.9,258.4 433.8,261.5 C433.8,264.6 435.2,269.4 435.5,271.0 " fill="none" stroke="#1f4a34" stroke-width="4.3999999999999995" stroke-linecap="round"/><path d="M442.6,249.5 C441.5,250.0 437.3,250.5 435.8,252.5 C434.3,254.5 433.9,258.4 433.8,261.5 C433.8,264.6 435.2,269.4 435.5,271.0 " fill="none" stroke="#3a7656" stroke-width="3.8" stroke-linecap="round"/><path d="M442.6,249.5 C441.5,250.0 437.3,250.5 435.8,252.5 C434.3,254.5 433.9,258.4 433.8,261.5 C433.8,264.6 435.2,269.4 435.5,271.0 " fill="none" stroke="#6aa884" stroke-width="1.3" stroke-linecap="round" transform="translate(-0.6,-0.3)" opacity="0.8"/><path d="M481.9,232.9 C480.7,233.8 477.3,235.9 474.8,238.5 C472.3,241.1 469.2,245.3 466.8,248.5 C464.4,251.7 461.6,256.3 460.5,257.9 " fill="none" stroke="#1f4a34" stroke-width="4.3999999999999995" stroke-linecap="round"/><path d="M481.9,232.9 C480.7,233.8 477.3,235.9 474.8,238.5 C472.3,241.1 469.2,245.3 466.8,248.5 C464.4,251.7 461.6,256.3 460.5,257.9 " fill="none" stroke="#3a7656" stroke-width="3.8" stroke-linecap="round"/><path d="M481.9,232.9 C480.7,233.8 477.3,235.9 474.8,238.5 C472.3,241.1 469.2,245.3 466.8,248.5 C464.4,251.7 461.6,256.3 460.5,257.9 " fill="none" stroke="#6aa884" stroke-width="1.3" stroke-linecap="round" transform="translate(-0.6,-0.3)" opacity="0.8"/><path d="M329.5,272.2 C330.7,272.4 334.4,272.7 336.8,273.5 C339.2,274.3 342.6,276.3 343.8,276.9 " fill="none" stroke="#1f4a34" stroke-width="4.3999999999999995" stroke-linecap="round"/><path d="M329.5,272.2 C330.7,272.4 334.4,272.7 336.8,273.5 C339.2,274.3 342.6,276.3 343.8,276.9 " fill="none" stroke="#3a7656" stroke-width="3.8" stroke-linecap="round"/><path d="M329.5,272.2 C330.7,272.4 334.4,272.7 336.8,273.5 C339.2,274.3 342.6,276.3 343.8,276.9 " fill="none" stroke="#6aa884" stroke-width="1.3" stroke-linecap="round" transform="translate(-0.6,-0.3)" opacity="0.8"/><path d="M498.8,259.5 C497.8,260.3 494.8,263.2 492.8,264.5 C490.8,265.8 487.8,267.0 486.8,267.5 " fill="none" stroke="#1f4a34" stroke-width="4.3999999999999995" stroke-linecap="round"/><path d="M498.8,259.5 C497.8,260.3 494.8,263.2 492.8,264.5 C490.8,265.8 487.8,267.0 486.8,267.5 " fill="none" stroke="#3a7656" stroke-width="3.8" stroke-linecap="round"/><path d="M498.8,259.5 C497.8,260.3 494.8,263.2 492.8,264.5 C490.8,265.8 487.8,267.0 486.8,267.5 " fill="none" stroke="#6aa884" stroke-width="1.3" stroke-linecap="round" transform="translate(-0.6,-0.3)" opacity="0.8"/><path d="M498.8,248.5 C498.1,249.3 495.5,252.7 494.8,253.5 " fill="none" stroke="#1f4a34" stroke-width="4.3999999999999995" stroke-linecap="round"/><path d="M498.8,248.5 C498.1,249.3 495.5,252.7 494.8,253.5 " fill="none" stroke="#3a7656" stroke-width="3.8" stroke-linecap="round"/><path d="M498.8,248.5 C498.1,249.3 495.5,252.7 494.8,253.5 " fill="none" stroke="#6aa884" stroke-width="1.3" stroke-linecap="round" transform="translate(-0.6,-0.3)" opacity="0.8"/>
<clipPath id="cb8572079"><circle cx="85.7" cy="207.9" r="11.4"/></clipPath><g clip-path="url(#cb8572079)"><g transform="rotate(-18 85.7 207.9)"><rect x="71.3" y="193.5" width="28.8" height="2.5" fill="#d8d878"/><rect x="71.3" y="195.5" width="28.8" height="0.6" fill="#34402e" opacity="0.6"/><rect x="71.3" y="196.1" width="28.8" height="2.5" fill="#8cb060"/><rect x="71.3" y="198.1" width="28.8" height="0.6" fill="#34402e" opacity="0.6"/><rect x="71.3" y="198.7" width="28.8" height="2.5" fill="#6c8cc2"/><rect x="71.3" y="200.7" width="28.8" height="0.6" fill="#34402e" opacity="0.6"/><rect x="71.3" y="201.3" width="28.8" height="2.5" fill="#ccd470"/><rect x="71.3" y="203.3" width="28.8" height="0.6" fill="#34402e" opacity="0.6"/><rect x="71.3" y="203.9" width="28.8" height="2.5" fill="#94b468"/><rect x="71.3" y="205.9" width="28.8" height="0.6" fill="#34402e" opacity="0.6"/><rect x="71.3" y="206.5" width="28.8" height="2.5" fill="#7090c4"/><rect x="71.3" y="208.5" width="28.8" height="0.6" fill="#34402e" opacity="0.6"/><rect x="71.3" y="209.1" width="28.8" height="2.5" fill="#d8d878"/><rect x="71.3" y="211.1" width="28.8" height="0.6" fill="#34402e" opacity="0.6"/><rect x="71.3" y="211.7" width="28.8" height="2.5" fill="#8cb060"/><rect x="71.3" y="213.7" width="28.8" height="0.6" fill="#34402e" opacity="0.6"/><rect x="71.3" y="214.3" width="28.8" height="2.5" fill="#6c8cc2"/><rect x="71.3" y="216.3" width="28.8" height="0.6" fill="#34402e" opacity="0.6"/><rect x="71.3" y="216.9" width="28.8" height="2.5" fill="#ccd470"/><rect x="71.3" y="218.9" width="28.8" height="0.6" fill="#34402e" opacity="0.6"/><rect x="71.3" y="219.5" width="28.8" height="2.5" fill="#94b468"/><rect x="71.3" y="221.5" width="28.8" height="0.6" fill="#34402e" opacity="0.6"/><rect x="71.3" y="222.1" width="28.8" height="2.5" fill="#7090c4"/><rect x="71.3" y="224.1" width="28.8" height="0.6" fill="#34402e" opacity="0.6"/></g><circle cx="85.7" cy="207.9" r="11.4" fill="url(#patDot)"/><circle cx="85.7" cy="207.9" r="11.4" fill="url(#gShade)"/></g>
<clipPath id="cb15122167"><circle cx="151.2" cy="216.7" r="11.9"/></clipPath><g clip-path="url(#cb15122167)"><g transform="rotate(-18 151.2 216.7)"><rect x="136.29999999999998" y="201.8" width="29.8" height="2.5" fill="#d8d878"/><rect x="136.29999999999998" y="203.8" width="29.8" height="0.6" fill="#34402e" opacity="0.6"/><rect x="136.29999999999998" y="204.4" width="29.8" height="2.5" fill="#8cb060"/><rect x="136.29999999999998" y="206.4" width="29.8" height="0.6" fill="#34402e" opacity="0.6"/><rect x="136.29999999999998" y="207.0" width="29.8" height="2.5" fill="#6c8cc2"/><rect x="136.29999999999998" y="209.0" width="29.8" height="0.6" fill="#34402e" opacity="0.6"/><rect x="136.29999999999998" y="209.6" width="29.8" height="2.5" fill="#ccd470"/><rect x="136.29999999999998" y="211.6" width="29.8" height="0.6" fill="#34402e" opacity="0.6"/><rect x="136.29999999999998" y="212.2" width="29.8" height="2.5" fill="#94b468"/><rect x="136.29999999999998" y="214.2" width="29.8" height="0.6" fill="#34402e" opacity="0.6"/><rect x="136.29999999999998" y="214.8" width="29.8" height="2.5" fill="#7090c4"/><rect x="136.29999999999998" y="216.8" width="29.8" height="0.6" fill="#34402e" opacity="0.6"/><rect x="136.29999999999998" y="217.4" width="29.8" height="2.5" fill="#d8d878"/><rect x="136.29999999999998" y="219.4" width="29.8" height="0.6" fill="#34402e" opacity="0.6"/><rect x="136.29999999999998" y="220.0" width="29.8" height="2.5" fill="#8cb060"/><rect x="136.29999999999998" y="222.0" width="29.8" height="0.6" fill="#34402e" opacity="0.6"/><rect x="136.29999999999998" y="222.6" width="29.8" height="2.5" fill="#6c8cc2"/><rect x="136.29999999999998" y="224.6" width="29.8" height="0.6" fill="#34402e" opacity="0.6"/><rect x="136.29999999999998" y="225.2" width="29.8" height="2.5" fill="#ccd470"/><rect x="136.29999999999998" y="227.2" width="29.8" height="0.6" fill="#34402e" opacity="0.6"/><rect x="136.29999999999998" y="227.8" width="29.8" height="2.5" fill="#94b468"/><rect x="136.29999999999998" y="229.8" width="29.8" height="0.6" fill="#34402e" opacity="0.6"/><rect x="136.29999999999998" y="230.4" width="29.8" height="2.5" fill="#7090c4"/><rect x="136.29999999999998" y="232.4" width="29.8" height="0.6" fill="#34402e" opacity="0.6"/></g><circle cx="151.2" cy="216.7" r="11.9" fill="url(#patDot)"/><circle cx="151.2" cy="216.7" r="11.9" fill="url(#gShade)"/></g>
<clipPath id="cb4762543"><circle cx="47.6" cy="254.3" r="16.7"/></clipPath><g clip-path="url(#cb4762543)"><g transform="rotate(-18 47.6 254.3)"><rect x="27.900000000000002" y="234.6" width="39.4" height="2.5" fill="#d8d878"/><rect x="27.900000000000002" y="236.6" width="39.4" height="0.6" fill="#34402e" opacity="0.6"/><rect x="27.900000000000002" y="237.2" width="39.4" height="2.5" fill="#8cb060"/><rect x="27.900000000000002" y="239.2" width="39.4" height="0.6" fill="#34402e" opacity="0.6"/><rect x="27.900000000000002" y="239.8" width="39.4" height="2.5" fill="#6c8cc2"/><rect x="27.900000000000002" y="241.8" width="39.4" height="0.6" fill="#34402e" opacity="0.6"/><rect x="27.900000000000002" y="242.4" width="39.4" height="2.5" fill="#ccd470"/><rect x="27.900000000000002" y="244.4" width="39.4" height="0.6" fill="#34402e" opacity="0.6"/><rect x="27.900000000000002" y="245.0" width="39.4" height="2.5" fill="#94b468"/><rect x="27.900000000000002" y="247.0" width="39.4" height="0.6" fill="#34402e" opacity="0.6"/><rect x="27.900000000000002" y="247.6" width="39.4" height="2.5" fill="#7090c4"/><rect x="27.900000000000002" y="249.6" width="39.4" height="0.6" fill="#34402e" opacity="0.6"/><rect x="27.900000000000002" y="250.2" width="39.4" height="2.5" fill="#d8d878"/><rect x="27.900000000000002" y="252.2" width="39.4" height="0.6" fill="#34402e" opacity="0.6"/><rect x="27.900000000000002" y="252.8" width="39.4" height="2.5" fill="#8cb060"/><rect x="27.900000000000002" y="254.8" width="39.4" height="0.6" fill="#34402e" opacity="0.6"/><rect x="27.900000000000002" y="255.4" width="39.4" height="2.5" fill="#6c8cc2"/><rect x="27.900000000000002" y="257.4" width="39.4" height="0.6" fill="#34402e" opacity="0.6"/><rect x="27.900000000000002" y="258.0" width="39.4" height="2.5" fill="#ccd470"/><rect x="27.900000000000002" y="260.0" width="39.4" height="0.6" fill="#34402e" opacity="0.6"/><rect x="27.900000000000002" y="260.6" width="39.4" height="2.5" fill="#94b468"/><rect x="27.900000000000002" y="262.6" width="39.4" height="0.6" fill="#34402e" opacity="0.6"/><rect x="27.900000000000002" y="263.2" width="39.4" height="2.5" fill="#7090c4"/><rect x="27.900000000000002" y="265.2" width="39.4" height="0.6" fill="#34402e" opacity="0.6"/><rect x="27.900000000000002" y="265.8" width="39.4" height="2.5" fill="#d8d878"/><rect x="27.900000000000002" y="267.8" width="39.4" height="0.6" fill="#34402e" opacity="0.6"/><rect x="27.900000000000002" y="268.4" width="39.4" height="2.5" fill="#8cb060"/><rect x="27.900000000000002" y="270.4" width="39.4" height="0.6" fill="#34402e" opacity="0.6"/><rect x="27.900000000000002" y="271.0" width="39.4" height="2.5" fill="#6c8cc2"/><rect x="27.900000000000002" y="273.0" width="39.4" height="0.6" fill="#34402e" opacity="0.6"/><rect x="27.900000000000002" y="273.6" width="39.4" height="2.5" fill="#ccd470"/><rect x="27.900000000000002" y="275.6" width="39.4" height="0.6" fill="#34402e" opacity="0.6"/></g><circle cx="47.6" cy="254.3" r="16.7" fill="url(#patDot)"/><circle cx="47.6" cy="254.3" r="16.7" fill="url(#gShade)"/></g>
<clipPath id="cb10362471"><circle cx="103.6" cy="247.1" r="16.2"/></clipPath><g clip-path="url(#cb10362471)"><g transform="rotate(-18 103.6 247.1)"><rect x="84.39999999999999" y="227.9" width="38.4" height="2.5" fill="#d8d878"/><rect x="84.39999999999999" y="229.9" width="38.4" height="0.6" fill="#34402e" opacity="0.6"/><rect x="84.39999999999999" y="230.5" width="38.4" height="2.5" fill="#8cb060"/><rect x="84.39999999999999" y="232.5" width="38.4" height="0.6" fill="#34402e" opacity="0.6"/><rect x="84.39999999999999" y="233.1" width="38.4" height="2.5" fill="#6c8cc2"/><rect x="84.39999999999999" y="235.1" width="38.4" height="0.6" fill="#34402e" opacity="0.6"/><rect x="84.39999999999999" y="235.7" width="38.4" height="2.5" fill="#ccd470"/><rect x="84.39999999999999" y="237.7" width="38.4" height="0.6" fill="#34402e" opacity="0.6"/><rect x="84.39999999999999" y="238.3" width="38.4" height="2.5" fill="#94b468"/><rect x="84.39999999999999" y="240.3" width="38.4" height="0.6" fill="#34402e" opacity="0.6"/><rect x="84.39999999999999" y="240.9" width="38.4" height="2.5" fill="#7090c4"/><rect x="84.39999999999999" y="242.9" width="38.4" height="0.6" fill="#34402e" opacity="0.6"/><rect x="84.39999999999999" y="243.5" width="38.4" height="2.5" fill="#d8d878"/><rect x="84.39999999999999" y="245.5" width="38.4" height="0.6" fill="#34402e" opacity="0.6"/><rect x="84.39999999999999" y="246.1" width="38.4" height="2.5" fill="#8cb060"/><rect x="84.39999999999999" y="248.1" width="38.4" height="0.6" fill="#34402e" opacity="0.6"/><rect x="84.39999999999999" y="248.7" width="38.4" height="2.5" fill="#6c8cc2"/><rect x="84.39999999999999" y="250.7" width="38.4" height="0.6" fill="#34402e" opacity="0.6"/><rect x="84.39999999999999" y="251.3" width="38.4" height="2.5" fill="#ccd470"/><rect x="84.39999999999999" y="253.3" width="38.4" height="0.6" fill="#34402e" opacity="0.6"/><rect x="84.39999999999999" y="253.9" width="38.4" height="2.5" fill="#94b468"/><rect x="84.39999999999999" y="255.9" width="38.4" height="0.6" fill="#34402e" opacity="0.6"/><rect x="84.39999999999999" y="256.5" width="38.4" height="2.5" fill="#7090c4"/><rect x="84.39999999999999" y="258.5" width="38.4" height="0.6" fill="#34402e" opacity="0.6"/><rect x="84.39999999999999" y="259.1" width="38.4" height="2.5" fill="#d8d878"/><rect x="84.39999999999999" y="261.1" width="38.4" height="0.6" fill="#34402e" opacity="0.6"/><rect x="84.39999999999999" y="261.7" width="38.4" height="2.5" fill="#8cb060"/><rect x="84.39999999999999" y="263.7" width="38.4" height="0.6" fill="#34402e" opacity="0.6"/><rect x="84.39999999999999" y="264.3" width="38.4" height="2.5" fill="#6c8cc2"/><rect x="84.39999999999999" y="266.3" width="38.4" height="0.6" fill="#34402e" opacity="0.6"/></g><circle cx="103.6" cy="247.1" r="16.2" fill="url(#patDot)"/><circle cx="103.6" cy="247.1" r="16.2" fill="url(#gShade)"/></g>
<clipPath id="cb16192638"><circle cx="161.9" cy="263.8" r="17.1"/></clipPath><g clip-path="url(#cb16192638)"><g transform="rotate(-18 161.9 263.8)"><rect x="141.8" y="243.7" width="40.2" height="2.5" fill="#d8d878"/><rect x="141.8" y="245.7" width="40.2" height="0.6" fill="#34402e" opacity="0.6"/><rect x="141.8" y="246.3" width="40.2" height="2.5" fill="#8cb060"/><rect x="141.8" y="248.3" width="40.2" height="0.6" fill="#34402e" opacity="0.6"/><rect x="141.8" y="248.9" width="40.2" height="2.5" fill="#6c8cc2"/><rect x="141.8" y="250.9" width="40.2" height="0.6" fill="#34402e" opacity="0.6"/><rect x="141.8" y="251.5" width="40.2" height="2.5" fill="#ccd470"/><rect x="141.8" y="253.5" width="40.2" height="0.6" fill="#34402e" opacity="0.6"/><rect x="141.8" y="254.1" width="40.2" height="2.5" fill="#94b468"/><rect x="141.8" y="256.1" width="40.2" height="0.6" fill="#34402e" opacity="0.6"/><rect x="141.8" y="256.7" width="40.2" height="2.5" fill="#7090c4"/><rect x="141.8" y="258.7" width="40.2" height="0.6" fill="#34402e" opacity="0.6"/><rect x="141.8" y="259.3" width="40.2" height="2.5" fill="#d8d878"/><rect x="141.8" y="261.3" width="40.2" height="0.6" fill="#34402e" opacity="0.6"/><rect x="141.8" y="261.9" width="40.2" height="2.5" fill="#8cb060"/><rect x="141.8" y="263.9" width="40.2" height="0.6" fill="#34402e" opacity="0.6"/><rect x="141.8" y="264.5" width="40.2" height="2.5" fill="#6c8cc2"/><rect x="141.8" y="266.5" width="40.2" height="0.6" fill="#34402e" opacity="0.6"/><rect x="141.8" y="267.1" width="40.2" height="2.5" fill="#ccd470"/><rect x="141.8" y="269.1" width="40.2" height="0.6" fill="#34402e" opacity="0.6"/><rect x="141.8" y="269.7" width="40.2" height="2.5" fill="#94b468"/><rect x="141.8" y="271.7" width="40.2" height="0.6" fill="#34402e" opacity="0.6"/><rect x="141.8" y="272.3" width="40.2" height="2.5" fill="#7090c4"/><rect x="141.8" y="274.3" width="40.2" height="0.6" fill="#34402e" opacity="0.6"/><rect x="141.8" y="274.9" width="40.2" height="2.5" fill="#d8d878"/><rect x="141.8" y="276.9" width="40.2" height="0.6" fill="#34402e" opacity="0.6"/><rect x="141.8" y="277.5" width="40.2" height="2.5" fill="#8cb060"/><rect x="141.8" y="279.5" width="40.2" height="0.6" fill="#34402e" opacity="0.6"/><rect x="141.8" y="280.1" width="40.2" height="2.5" fill="#6c8cc2"/><rect x="141.8" y="282.1" width="40.2" height="0.6" fill="#34402e" opacity="0.6"/><rect x="141.8" y="282.7" width="40.2" height="2.5" fill="#ccd470"/><rect x="141.8" y="284.7" width="40.2" height="0.6" fill="#34402e" opacity="0.6"/></g><circle cx="161.9" cy="263.8" r="17.1" fill="url(#patDot)"/><circle cx="161.9" cy="263.8" r="17.1" fill="url(#gShade)"/></g>
<rect x="217" y="115.8" width="57" height="5" fill="#76b060"/>
<path d="M272.5,111 L295,118.3 L272.5,125.7 L279,118.3 Z" fill="#5ca83c"/>
<rect x="409.8" y="139" width="4.6" height="34" fill="#76b060"/>
<path d="M405,169.5 L412.1,188.6 L419.3,169.5 L412.1,176 Z" fill="#5ca83c"/>
<rect x="235" y="255" width="58.5" height="5" fill="#76b060"/>
<path d="M236,251 L215,257.4 L236,263.8 L229,257.4 Z" fill="#5ca83c"/>
<text x="215.4" y="102.9" font-size="12" fill="#111" stroke="#111" stroke-width="0.3" text-anchor="start" textLength="71" lengthAdjust="spacingAndGlyphs" >EG reduction</text>
<text x="421.0" y="161.7" font-size="12" fill="#111" stroke="#111" stroke-width="0.3" text-anchor="start" textLength="75.4" lengthAdjust="spacingAndGlyphs" >Impregnation</text>
<text x="199.7" y="242.1" font-size="12" fill="#111" stroke="#111" stroke-width="0.3" text-anchor="start" textLength="112.3" lengthAdjust="spacingAndGlyphs" >Reductive annealing</text>
<text x="1.0" y="33.1" font-size="11" fill="#111" stroke="#111" stroke-width="0.3" text-anchor="start" font-weight="bold" >A</text>
<rect x="23.3" y="306" width="42.5" height="4" rx="2" fill="url(#gRod)"/>
<path d="M76.7,308.3 L83.3,295.3 L102.5,295.3 L109.2,308.3 L102.5,322.5 L83.3,322.5 Z" fill="none" stroke="#222" stroke-width="0.9"/>
<path d="M85.5,297.6 L100.3,297.6 M80,308.6 L85.5,319.6 M106,308.6 L100.3,319.6" fill="none" stroke="#222" stroke-width="0.9"/>
<line x1="109.2" y1="308.3" x2="118.3" y2="308.3" stroke="#222" stroke-width="0.9"/>
<text x="119.2" y="312.5" font-size="11.5" fill="#111" stroke="#111" stroke-width="0.3" text-anchor="start" textLength="20.8" lengthAdjust="spacingAndGlyphs" >NH<tspan font-size="8" dy="2.5">2</tspan></text>
<circle cx="195" cy="305.8" r="2.7" fill="#6ea0d4"/>
<circle cx="199.5" cy="308.3" r="2.7" fill="#6ea0d4"/>
<circle cx="199.5" cy="313.3" r="2.7" fill="#6ea0d4"/>
<circle cx="195" cy="315.8" r="2.7" fill="#6ea0d4"/>
<circle cx="190.5" cy="313.3" r="2.7" fill="#6ea0d4"/>
<circle cx="190.5" cy="308.3" r="2.7" fill="#6ea0d4"/>
<circle cx="195" cy="310.8" r="2.2" fill="#a0a860"/>
<text x="212.5" y="315.0" font-size="11.5" fill="#111" stroke="#111" stroke-width="0.3" text-anchor="start" textLength="39" lengthAdjust="spacingAndGlyphs" >[PtCl<tspan font-size="8" dy="2.5">6</tspan><tspan dy="-2.5">]</tspan><tspan font-size="8" dy="-5">2</tspan></text>
<line x1="256.7" y1="306.7" x2="261.7" y2="306.7" stroke="#aaa" stroke-width="1"/>
<circle cx="303.9" cy="310.5" r="5" fill="url(#gAu)"/>
<text x="319.4" y="315.1" font-size="11.5" fill="#111" stroke="#111" stroke-width="0.3" text-anchor="start" textLength="10.6" lengthAdjust="spacingAndGlyphs" >Pt</text>
<circle cx="374.4" cy="311" r="5" fill="url(#gCo)"/>
<text x="389.8" y="315.1" font-size="11.5" fill="#111" stroke="#111" stroke-width="0.3" text-anchor="start" textLength="13.2" lengthAdjust="spacingAndGlyphs" >Co</text>
<defs>
<filter id="grain" x="0" y="0" width="100%" height="100%">
<feTurbulence type="fractalNoise" baseFrequency="0.9" numOctaves="2" seed="3" result="n"/>
<feColorMatrix type="matrix" values="0 0 0 0 0  0 0 0 0 0  0 0 0 0 0  0 0 0 -1.6 1.1"/>
</filter>
<filter id="cloudD" x="0" y="0" width="100%" height="100%"><feTurbulence type="fractalNoise" baseFrequency="0.05" numOctaves="3" seed="8"/><feColorMatrix type="matrix" values="0 0 0 0 0  0 0 0 0 0  0 0 0 0 0  2.2 0 0 0 -0.95"/></filter>
<filter id="cloudL" x="0" y="0" width="100%" height="100%"><feTurbulence type="fractalNoise" baseFrequency="0.05" numOctaves="3" seed="21"/><feColorMatrix type="matrix" values="0 0 0 0 1  0 0 0 0 1  0 0 0 0 1  2.2 0 0 0 -1.05"/></filter>
<filter id="blur2"><feGaussianBlur stdDeviation="2.2"/></filter>
<filter id="blur1"><feGaussianBlur stdDeviation="1.2"/></filter>
<filter id="blur4"><feGaussianBlur stdDeviation="4"/></filter>
<clipPath id="clipE"><rect x="518.3" y="340" width="152.4" height="152.7"/></clipPath>
<clipPath id="clipF"><rect x="682" y="340" width="152.8" height="152.7"/></clipPath>
</defs>
<g clip-path="url(#clipE)"><rect x="518.3" y="340" width="152.4" height="152.7" fill="#6e6e6e"/>
<path d="M515.0,364.9 Q515.0,335.0 525.7,335.0 Q536.5,335.0 535.7,350.3 Q534.9,365.7 530.3,377.9 Q525.7,390.2 520.4,392.5 Q515.0,394.8 515.0,364.9 Z" fill="#4e4e4e" filter="url(#blur2)"/>
<path d="M515.0,440.7 Q515.0,393.2 521.9,394.8 Q528.8,396.3 527.7,433.1 Q526.6,469.9 523.9,479.1 Q521.1,488.3 518.1,488.3 Q515.0,488.3 515.0,440.7 Z" fill="#404040" filter="url(#blur2)"/>
<path d="M544.9,368.0 Q544.1,339.6 570.9,339.6 Q597.8,339.6 597.0,360.3 Q596.2,381.0 587.8,396.3 Q579.4,411.6 567.1,413.5 Q554.8,415.3 550.2,405.8 Q545.7,396.3 544.9,368.0 Z" fill="#626262" filter="url(#blur2)"/>
<path d="M564.0,466.0 Q564.0,440.7 590.1,440.7 Q616.1,440.7 629.9,443.8 Q643.7,446.9 638.4,458.4 Q633.0,469.9 632.2,480.6 Q631.5,491.3 597.8,491.3 Q564.0,491.3 564.0,466.0 Z" fill="#525252" filter="url(#blur2)"/>
<path d="M645.3,422.7 Q643.7,396.3 659.1,396.3 Q674.4,396.3 674.4,423.9 Q674.4,451.5 660.6,450.2 Q646.8,449.0 645.3,422.7 Z" fill="#606060" filter="url(#blur2)"/>
<path d="M548.7,428.8 Q548.7,415.3 559.4,415.3 Q570.2,415.3 569.9,428.0 Q569.6,440.7 559.1,441.5 Q548.7,442.3 548.7,428.8 Z" fill="#6a6a6a" filter="url(#blur2)"/>
<path d="M593.2,381.0 Q594.7,371.8 610.0,376.4 Q625.3,381.0 640.7,388.6 Q656.0,396.3 649.9,400.9 Q643.7,405.5 628.4,400.9 Q613.1,396.3 602.4,393.2 Q591.6,390.2 593.2,381.0 Z" fill="#7a7a7a" filter="url(#blur2)"/>
<rect x="518.3" y="340" width="152.4" height="152.7" fill="#000" opacity="0.45" filter="url(#cloudD)"/>
<rect x="518.3" y="340" width="152.4" height="152.7" fill="#fff" opacity="0.3" filter="url(#cloudL)"/>
<path d="M599.3,352.6 Q597.8,339.6 636.1,339.6 Q674.4,339.6 674.4,368.0 Q674.4,396.3 665.2,395.5 Q656.0,394.8 640.7,386.3 Q625.3,377.9 613.1,371.8 Q600.8,365.7 599.3,352.6 Z" fill="#b0b0b0" filter="url(#blur1)"/>
<path d="M538.0,407.0 Q541.0,394.0 543.0,392.0 Q545.0,390.0 547.0,391.0 Q549.0,392.0 548.0,404.0 Q547.0,416.0 546.0,429.0 Q545.0,442.0 544.5,450.0 Q544.0,458.0 545.5,464.0 Q547.0,470.0 552.5,474.5 Q558.0,479.0 559.0,483.0 Q560.0,487.0 550.0,488.0 Q540.0,489.0 530.5,488.5 Q521.0,488.0 520.5,484.0 Q520.0,480.0 521.0,472.5 Q522.0,465.0 524.5,456.5 Q527.0,448.0 531.0,434.0 Q535.0,420.0 538.0,407.0 Z" fill="#c6c8c7" filter="url(#blur1)"/>
<path d="M570.2,421.6 Q571.7,416.2 578.6,415.2 Q585.5,414.1 594.7,414.4 Q603.9,414.7 609.3,417.0 Q614.6,419.3 616.1,423.1 Q617.7,427.0 616.1,431.6 Q614.6,436.1 609.3,438.4 Q603.9,440.7 596.2,441.2 Q588.6,441.7 582.4,441.2 Q576.3,440.7 573.2,438.4 Q570.2,436.1 569.4,431.6 Q568.6,427.0 570.2,421.6 Z" fill="#c6c8c7" filter="url(#blur1)"/>
<path d="M632.2,459.9 Q634.5,453.0 642.2,451.5 Q649.9,449.9 659.1,449.2 Q668.3,448.4 670.6,451.5 Q672.9,454.5 669.0,459.1 Q665.2,463.7 663.7,469.9 Q662.1,476.0 660.6,483.7 Q659.1,491.3 648.3,491.3 Q637.6,491.3 634.5,485.2 Q631.5,479.1 630.7,472.9 Q629.9,466.8 632.2,459.9 Z" fill="#c6c8c7" filter="url(#blur1)"/>
<path d="M515.0,373.3 Q515.0,365.7 518.1,364.9 Q521.1,364.1 521.9,371.0 Q522.7,377.9 518.8,379.4 Q515.0,381.0 515.0,373.3 Z" fill="#b8b8b8" filter="url(#blur1)"/>
<path d="M661.9 453.0h0M613.7 367.7h0M521.6 403.4h0M525.4 367.6h0M560.3 447.3h0M565.9 388.4h0M623.3 492.2h0M523.3 415.4h0M654.9 403.2h0M560.1 411.8h0M622.8 436.3h0M668.6 489.6h0M570.0 428.7h0M600.3 411.4h0M609.1 426.1h0M576.8 470.6h0M662.3 387.0h0M548.2 385.3h0M528.7 375.1h0M639.0 441.3h0M569.1 405.6h0M670.4 447.1h0M576.1 351.0h0M661.3 397.1h0M602.1 373.7h0M597.1 360.4h0M600.9 398.7h0M662.3 405.6h0M527.9 345.7h0M547.5 439.8h0M632.9 388.3h0M583.9 488.9h0M526.1 345.7h0M638.8 353.3h0M609.5 470.8h0M623.2 476.1h0M561.9 397.1h0M634.7 425.1h0M520.8 420.5h0M573.5 390.4h0M572.3 410.9h0M596.9 456.7h0M579.4 361.8h0M593.0 345.8h0M612.9 464.2h0M597.9 383.4h0M581.3 487.9h0M560.1 449.3h0M545.4 439.7h0M623.2 490.2h0M559.1 435.0h0M530.0 403.1h0M546.8 344.7h0M597.4 351.1h0M647.9 438.5h0M567.5 457.5h0M613.6 487.4h0M574.0 464.3h0M665.0 484.3h0M616.2 457.0h0M532.9 412.9h0M600.8 399.0h0M532.3 394.3h0M664.1 472.6h0M657.8 397.8h0M578.3 369.1h0M633.2 396.9h0M603.3 383.3h0M553.7 449.4h0M550.6 434.6h0M587.5 349.1h0M608.5 473.6h0M524.4 429.9h0M614.2 437.8h0M651.0 383.5h0M580.9 472.8h0M528.4 350.5h0M567.6 395.3h0M589.3 355.7h0M666.6 405.3h0M652.6 448.7h0M615.2 379.1h0M633.9 432.4h0M635.5 408.0h0M538.6 365.6h0M603.0 371.6h0M523.3 414.4h0M611.9 461.6h0M607.0 374.1h0M586.0 444.8h0M654.2 421.0h0M540.8 348.7h0M547.2 369.0h0M548.9 421.6h0M578.0 457.9h0M654.6 445.2h0M558.9 354.1h0M630.3 451.9h0M650.4 347.0h0M562.2 341.1h0M541.2 341.0h0M583.3 407.2h0M529.1 422.0h0M530.6 389.7h0M567.2 470.8h0M565.5 443.5h0M651.0 444.1h0M560.7 408.6h0M645.0 430.1h0M571.0 484.3h0M622.2 410.5h0M644.8 415.8h0M622.9 409.1h0M582.5 483.5h0M646.6 434.6h0M545.9 490.2h0M571.3 469.3h0M590.8 371.3h0M565.8 377.8h0M559.4 350.0h0M635.2 411.7h0M519.3 446.4h0M572.1 380.9h0M646.6 361.2h0M614.2 445.5h0M610.6 391.5h0M594.3 385.0h0M579.3 478.9h0M615.8 387.6h0M668.6 483.4h0M557.7 416.8h0M627.1 486.0h0M624.8 486.4h0M566.9 416.3h0M593.9 480.6h0M584.8 388.0h0M554.5 383.8h0M559.3 362.0h0M533.7 385.9h0M654.7 404.8h0M577.9 353.4h0M595.7 399.5h0M562.7 448.9h0M620.6 411.5h0M645.8 430.6h0M593.3 459.7h0M570.9 366.1h0M559.0 402.9h0M609.2 454.8h0M570.4 346.8h0M551.7 357.2h0M575.9 388.1h0M633.8 390.1h0M624.9 457.6h0M623.0 475.9h0M625.1 373.5h0M636.5 376.1h0M634.1 427.8h0M577.3 360.1h0M551.8 433.1h0M593.4 409.0h0M641.2 346.4h0M533.0 357.4h0M571.9 346.1h0M588.9 372.1h0M591.5 342.3h0M601.4 405.3h0M556.3 391.1h0M562.6 378.9h0M666.6 478.7h0M636.0 380.8h0M618.7 472.3h0M633.7 396.2h0M626.1 405.5h0M525.2 391.9h0M607.4 466.0h0M670.7 492.1h0M557.8 488.4h0M644.4 398.7h0M569.0 441.8h0M548.4 407.6h0M616.1 390.2h0M658.9 407.4h0M620.0 377.2h0M630.9 396.7h0M518.5 385.0h0M594.4 351.4h0M628.6 382.2h0M555.7 341.2h0M606.3 374.4h0M667.5 426.6h0M594.1 360.2h0M618.2 443.1h0M577.9 473.1h0M595.0 446.1h0M659.2 420.4h0M564.3 462.8h0M628.9 449.8h0M578.5 403.7h0M580.2 351.1h0M637.1 410.7h0M667.7 480.8h0M529.1 406.4h0M595.1 475.5h0M618.7 396.5h0M619.1 437.6h0M523.3 411.7h0M556.9 367.2h0M629.3 457.9h0M613.2 352.5h0M564.8 476.7h0M624.9 489.4h0M581.8 398.8h0M573.9 374.6h0M523.8 395.8h0M530.8 489.7h0M630.5 408.1h0M608.0 431.1h0M649.2 438.0h0M661.0 418.2h0M553.5 396.4h0M604.6 461.7h0M582.1 477.2h0M552.4 368.0h0M595.7 387.5h0M553.6 388.1h0M571.7 344.1h0M626.9 384.1h0M587.9 378.1h0M530.7 415.8h0M570.4 376.7h0M635.5 413.5h0M576.7 457.5h0M652.8 427.2h0M547.1 451.5h0M651.6 417.0h0M521.4 359.0h0M604.6 404.1h0M580.2 483.3h0M593.8 341.7h0M530.3 382.5h0M541.1 373.4h0M664.4 487.1h0M535.5 392.7h0M622.3 440.1h0M652.1 462.5h0M611.4 445.8h0M603.4 465.4h0M600.0 387.3h0M619.8 485.5h0M535.6 352.5h0M547.2 377.5h0M620.7 431.9h0M610.4 478.4h0M639.4 350.9h0M524.8 368.6h0M586.2 485.6h0M625.0 368.0h0M573.5 376.7h0M569.0 407.5h0M659.3 380.9h0M605.5 372.8h0M654.9 447.3h0M626.8 397.9h0M558.2 401.0h0M540.8 490.2h0M640.5 340.6h0M620.9 438.1h0M522.3 448.5h0M584.3 460.2h0M538.6 369.7h0M543.0 341.1h0M630.4 405.2h0M533.9 490.0h0M632.0 403.2h0M554.1 459.4h0M602.7 389.6h0M615.3 449.9h0M604.5 372.2h0M576.1 370.4h0M620.8 482.4h0M662.5 352.2h0M621.7 440.8h0M535.7 365.9h0M520.6 375.7h0M640.1 444.4h0M562.5 446.1h0M583.6 410.0h0M595.1 488.0h0M550.0 450.2h0M527.9 440.9h0M669.8 359.5h0M550.3 375.7h0M645.8 461.5h0M651.7 418.5h0M657.2 366.3h0M557.8 369.3h0M609.4 349.5h0M559.0 416.6h0M586.4 489.7h0M643.3 421.3h0M608.4 415.8h0M585.5 390.5h0M565.3 441.9h0M567.1 361.8h0M658.1 405.1h0M586.0 391.8h0M664.0 475.4h0M531.0 370.6h0M547.1 491.1h0M557.0 372.7h0M558.4 453.3h0M544.3 458.0h0M520.4 424.2h0M616.5 437.0h0M659.7 406.1h0M619.8 427.1h0M612.0 416.4h0M659.3 432.9h0M609.4 402.5h0M602.3 446.5h0M564.6 343.9h0M525.1 416.7h0M537.8 353.6h0M660.3 417.3h0M586.8 473.3h0M669.1 479.2h0M590.8 469.9h0M578.9 365.4h0M568.7 383.4h0M611.9 460.2h0M660.3 432.9h0M614.8 392.2h0M547.4 465.7h0M566.6 379.2h0M642.9 428.9h0M553.2 376.9h0M649.8 491.6h0M635.5 431.3h0M632.5 340.3h0M583.6 363.5h0M669.0 481.5h0M528.2 376.6h0M566.3 487.6h0M589.1 486.5h0M617.8 457.6h0M576.2 348.3h0M646.2 411.3h0M631.3 447.3h0M555.7 490.2h0M572.7 475.3h0M652.9 364.6h0M536.3 429.6h0M594.1 459.3h0M547.5 382.8h0M528.7 351.4h0M525.2 432.4h0M554.7 382.5h0M522.1 479.0h0M550.8 398.9h0M545.4 492.2h0M525.7 449.0h0M564.6 410.7h0M538.5 393.0h0M609.3 345.2h0M585.5 403.4h0M572.9 341.8h0M661.1 398.8h0M559.7 443.0h0M552.0 433.6h0M566.8 488.2h0M630.8 484.7h0M583.6 368.2h0M526.5 488.8h0M560.1 358.6h0M625.3 444.0h0M586.4 384.2h0M591.2 413.9h0M550.0 443.2h0M627.2 401.4h0M527.2 490.5h0M582.8 402.0h0M645.6 410.7h0M593.0 455.0h0M608.7 398.4h0M547.8 378.0h0M548.6 371.5h0M590.0 394.1h0M653.7 422.2h0M549.7 438.6h0M656.7 396.5h0M643.9 360.4h0M570.0 343.1h0M604.2 470.0h0M560.1 467.1h0M611.9 414.1h0M538.4 340.0h0M566.3 436.7h0M615.6 357.7h0M660.5 485.4h0M616.3 352.8h0M623.0 469.2h0M663.8 407.1h0M611.8 474.8h0M563.2 441.7h0M661.9 405.0h0M619.0 489.2h0M668.5 401.7h0M632.4 483.4h0M526.3 434.2h0M533.4 345.2h0M643.5 428.4h0M569.3 490.2h0M609.8 410.2h0M569.6 355.3h0M568.9 417.2h0M553.3 490.4h0M566.2 357.0h0M620.3 461.6h0M610.9 390.6h0M610.0 480.2h0M596.1 473.3h0M657.6 359.9h0M538.0 369.1h0M564.3 486.9h0M562.4 412.6h0M601.3 465.6h0M564.3 471.2h0M650.4 403.3h0M600.8 445.0h0M525.1 360.5h0M520.7 368.6h0M573.5 461.3h0M660.4 363.3h0M578.3 381.4h0M572.6 367.7h0M558.0 355.7h0M625.7 440.1h0M650.3 410.2h0M585.8 372.7h0M540.9 341.3h0M564.4 408.4h0M534.6 409.0h0M579.5 369.7h0M521.8 443.4h0M624.9 431.6h0M642.5 434.0h0M621.1 403.5h0M650.6 365.9h0M522.8 488.8h0M645.7 349.0h0M620.4 363.3h0M563.6 459.8h0M562.3 369.3h0M531.9 418.3h0M572.4 399.5h0M603.2 442.8h0M544.3 410.1h0M617.7 426.7h0M571.6 343.8h0M641.7 447.4h0M657.4 341.9h0M658.9 420.0h0M657.7 400.2h0M655.0 492.2h0M560.0 476.3h0M562.7 393.3h0M605.5 417.7h0M556.1 418.4h0M618.9 442.6h0M565.9 433.9h0M629.4 393.1h0M546.3 365.7h0M591.1 460.5h0M563.9 353.1h0M555.6 448.3h0M654.9 446.5h0M596.3 481.4h0M537.8 387.6h0M544.4 484.6h0M556.1 463.4h0M622.0 362.5h0M531.1 479.1h0M552.1 436.7h0M616.1 393.7h0M605.5 407.0h0M563.7 471.9h0M604.1 490.4h0M549.8 409.0h0M617.8 457.2h0M520.5 408.7h0M628.1 482.4h0M575.5 470.6h0M666.6 442.0h0M537.1 342.5h0M588.9 463.1h0M530.5 343.6h0M570.2 440.5h0M587.3 405.4h0M634.3 403.0h0M613.5 437.3h0M548.9 434.7h0M573.5 407.8h0M611.2 412.1h0M656.4 409.5h0M663.4 346.6h0M580.7 471.4h0M611.4 478.9h0M572.2 413.5h0M576.2 472.3h0M628.7 492.4h0M659.3 404.0h0M648.4 448.7h0M595.6 477.1h0M552.5 426.6h0M644.3 427.8h0M604.2 430.0h0M616.2 466.1h0M667.3 433.9h0M522.9 349.8h0M625.3 432.4h0M587.6 408.5h0M555.2 376.2h0M594.7 397.3h0M574.9 415.0h0M552.9 355.8h0M593.0 362.6h0M524.5 355.8h0M560.4 483.2h0M584.6 471.2h0M567.7 463.3h0M523.1 442.1h0M636.1 419.1h0M601.2 360.5h0M613.6 484.7h0M573.0 344.2h0M562.9 422.0h0M613.9 382.8h0M624.9 397.6h0M636.1 446.2h0M639.9 417.6h0M661.8 444.3h0M636.0 400.3h0M658.7 434.0h0M524.4 435.6h0M663.1 390.9h0M560.3 360.6h0M662.7 412.1h0M529.6 404.0h0M558.3 451.9h0M561.8 449.5h0M600.1 467.0h0M547.0 359.6h0M522.7 435.6h0M585.7 459.5h0M544.7 453.1h0M566.4 470.3h0M538.0 367.7h0M529.8 491.1h0M611.5 472.5h0M597.5 340.3h0M645.5 348.6h0M520.4 403.8h0M626.7 429.2h0M536.6 391.7h0M656.6 352.8h0M667.7 437.1h0M605.8 485.9h0M564.0 466.9h0M594.4 407.6h0M538.2 405.8h0M569.6 395.8h0M554.0 464.8h0M581.6 347.4h0M603.8 345.7h0M664.6 397.2h0M626.6 466.7h0M599.3 453.7h0M654.3 405.8h0M533.0 354.1h0M579.0 355.5h0M531.2 383.2h0M534.2 355.5h0M522.6 394.5h0M604.9 371.8h0M607.0 384.1h0M623.6 426.4h0M622.3 377.4h0M584.2 472.6h0M665.9 440.0h0M581.3 355.4h0M523.2 446.4h0M580.5 385.9h0M581.3 414.2h0M648.1 393.3h0M609.2 377.2h0M647.5 363.1h0M518.5 382.7h0M590.2 479.8h0M573.4 415.8h0M572.3 392.7h0M547.7 458.2h0M599.4 413.8h0M588.7 466.9h0M639.1 343.9h0M520.7 348.1h0M646.3 416.8h0M560.4 436.1h0M601.8 460.0h0" stroke="#1a1a1a" stroke-width="0.8" stroke-linecap="round" />
<path d="M526.2 364.0h0M551.3 382.7h0M668.0 473.2h0M665.6 476.5h0M528.4 394.3h0M591.6 388.2h0M590.3 366.9h0M647.1 342.8h0M575.7 468.5h0M536.4 377.6h0M570.2 433.3h0M584.5 362.8h0M592.7 451.4h0M619.5 456.0h0M603.5 442.1h0M636.2 389.8h0M621.0 394.4h0M616.5 452.7h0M586.8 395.6h0M602.6 472.4h0M526.6 360.4h0M523.7 411.1h0M627.7 397.1h0M580.1 382.5h0M658.0 422.4h0M614.2 476.1h0M583.7 489.1h0M562.7 488.5h0M609.1 379.7h0M593.9 403.4h0M539.1 399.9h0M599.5 381.8h0M541.9 491.0h0M563.5 420.9h0M601.4 342.2h0M617.2 471.1h0M564.6 340.5h0M622.8 414.7h0M602.4 378.8h0M649.9 409.2h0M649.9 417.3h0M554.7 473.9h0M632.5 352.8h0M572.3 375.9h0M660.1 447.7h0M575.9 450.4h0M617.0 462.8h0M549.1 346.0h0M619.1 393.2h0M575.4 398.9h0M541.5 378.8h0M623.1 442.9h0M647.7 363.8h0M579.4 488.7h0M528.5 491.7h0M622.4 438.4h0M578.9 349.2h0M599.3 352.9h0M613.5 407.4h0M613.6 450.8h0M619.8 382.1h0M521.2 347.2h0M559.1 464.0h0M603.9 389.1h0M614.4 362.0h0M657.7 410.4h0M661.0 421.3h0M609.1 355.8h0M578.8 455.1h0M655.5 370.4h0M613.3 462.2h0M566.6 344.1h0M527.6 362.4h0M524.1 353.5h0M532.3 358.5h0M666.8 423.1h0M666.0 442.5h0M657.0 433.7h0M629.3 403.7h0M582.0 352.9h0M654.5 434.0h0M535.3 391.3h0M549.8 397.2h0M519.2 489.7h0M538.5 340.5h0M563.4 357.8h0M570.7 361.6h0M606.0 385.2h0M551.9 490.6h0M519.1 457.0h0M526.4 373.4h0M520.2 419.3h0M609.5 468.1h0M595.7 348.1h0M635.6 403.1h0M654.2 362.6h0M614.8 457.5h0M521.1 466.5h0M616.4 397.3h0M656.4 423.6h0M625.9 341.2h0M524.1 398.9h0M636.6 425.2h0M586.9 440.0h0M661.1 485.0h0M570.2 464.5h0M644.7 435.5h0M608.8 426.4h0M532.4 350.2h0M646.9 358.4h0M587.4 385.7h0M596.9 477.7h0M576.3 440.2h0M572.1 352.1h0M594.8 482.8h0M534.7 379.6h0M647.2 418.8h0M525.9 488.4h0M565.8 384.7h0M595.5 355.9h0M668.8 422.9h0M535.8 386.8h0M621.4 462.5h0M561.3 391.0h0M538.5 404.1h0M574.8 458.1h0M591.9 411.1h0M524.9 421.7h0M579.2 355.6h0M616.6 375.0h0M588.1 406.9h0M549.0 350.1h0M527.1 368.6h0M519.2 424.0h0M629.0 475.2h0M628.5 396.4h0M558.6 427.3h0M524.5 418.4h0M551.3 386.4h0M666.1 418.9h0M668.9 473.0h0M609.0 475.8h0M596.1 474.8h0M618.4 433.9h0M567.5 345.8h0M553.6 406.2h0M670.2 426.1h0M613.5 357.0h0M535.9 401.4h0M629.1 409.9h0M660.3 401.4h0M596.9 358.1h0M525.2 416.3h0M607.4 480.8h0M657.3 425.1h0M631.3 481.1h0M574.4 486.1h0M608.6 389.2h0M531.9 376.2h0M619.6 429.2h0M629.9 414.4h0M543.5 364.4h0M548.5 449.4h0M561.1 476.7h0M598.1 450.3h0M537.0 408.1h0M669.1 419.4h0M627.1 488.2h0M549.3 423.7h0M568.4 379.6h0M563.0 436.0h0M601.0 473.4h0M568.0 368.1h0M519.3 386.9h0M573.7 487.1h0M662.7 412.6h0M597.6 351.4h0M522.8 358.5h0M581.3 486.6h0M569.7 375.7h0M592.7 378.7h0M586.1 364.9h0M591.9 475.3h0M597.4 453.5h0M535.6 492.4h0M571.4 403.0h0M615.7 394.8h0M531.9 362.6h0M590.4 484.6h0M521.5 444.9h0M650.1 425.4h0M623.6 490.1h0M630.6 389.2h0M566.2 345.3h0M531.0 355.9h0M667.3 434.8h0M668.7 415.8h0M523.9 431.9h0M574.3 439.4h0M521.0 361.2h0M633.0 403.5h0M608.2 409.9h0M593.0 464.7h0M599.5 482.8h0M568.1 476.9h0M663.1 416.1h0M581.4 463.3h0M575.3 379.3h0M600.2 376.1h0M648.8 447.1h0M626.5 411.8h0M629.5 399.1h0M570.6 356.2h0M589.6 476.3h0M537.2 392.2h0M656.4 395.4h0M644.3 425.2h0M629.7 380.8h0M536.3 383.5h0M657.9 359.7h0M575.8 410.1h0M655.3 431.2h0M563.7 411.9h0M627.5 489.8h0M520.1 437.0h0M551.5 469.4h0M547.6 444.3h0M622.4 405.4h0M622.1 412.5h0M529.1 435.5h0M649.3 436.3h0M556.2 461.7h0M550.9 393.6h0M593.2 442.9h0M615.8 405.9h0M577.4 465.8h0M636.5 391.5h0M626.7 417.5h0M560.2 456.0h0M561.3 387.3h0M534.2 342.7h0M616.8 418.3h0M579.0 478.5h0M577.0 452.1h0M562.4 359.2h0M555.7 370.3h0M568.8 368.4h0M643.0 438.1h0M532.5 362.3h0M545.4 402.1h0M557.9 383.1h0M547.7 437.6h0M582.9 447.7h0M566.6 361.1h0M596.9 461.8h0M629.9 417.3h0M583.5 368.4h0M576.5 352.4h0M629.8 384.7h0M539.4 429.9h0M669.4 472.2h0M625.6 426.4h0M580.4 359.9h0M619.2 487.9h0M544.9 458.0h0M564.0 476.2h0M639.8 398.8h0M562.6 350.7h0M529.2 402.8h0M602.4 356.0h0M616.9 462.8h0M551.7 470.1h0M549.3 446.7h0M519.2 445.3h0M640.4 390.4h0M546.5 447.5h0M563.1 403.1h0M561.4 459.0h0M606.1 412.3h0M626.4 407.7h0M630.6 347.4h0M637.7 471.5h0M638.5 419.7h0M669.8 424.7h0M616.5 465.3h0M571.4 455.5h0M595.6 461.5h0M585.9 361.2h0M661.2 445.1h0M547.7 411.3h0M520.0 446.9h0M641.8 413.9h0M594.2 409.5h0M629.3 477.8h0M659.8 421.6h0M587.4 346.0h0M666.6 431.1h0M667.6 465.9h0M520.0 430.1h0M565.1 490.5h0M545.7 464.4h0M566.3 479.8h0M665.4 392.1h0M646.0 440.8h0M626.6 461.6h0M609.4 483.3h0M587.0 469.2h0M600.2 380.7h0M667.0 394.9h0M527.9 372.9h0M630.9 398.0h0M541.1 389.2h0M536.7 371.1h0M557.4 488.9h0M521.9 394.7h0M630.8 473.8h0M551.9 418.9h0M652.1 480.7h0M521.2 438.7h0M620.4 453.6h0M597.3 396.6h0M534.4 395.3h0M665.1 437.6h0M652.7 437.0h0M553.8 438.2h0M591.9 348.8h0M660.7 407.2h0M552.7 463.9h0M616.4 448.8h0M613.1 445.2h0M522.4 488.1h0M637.3 392.9h0M600.3 471.1h0M576.8 464.3h0M595.3 368.0h0M569.0 348.0h0M565.8 427.3h0M547.1 433.2h0M531.4 432.6h0M638.6 387.4h0M559.7 352.6h0M628.1 467.7h0M606.1 391.3h0M562.9 414.6h0M601.4 432.5h0M580.5 470.1h0M518.3 387.9h0M615.1 415.4h0M630.6 490.6h0M623.6 381.2h0M550.5 403.9h0M572.5 389.6h0M595.3 451.0h0M572.8 413.7h0M581.1 365.9h0M529.9 489.4h0M566.1 365.0h0M547.5 452.9h0M568.0 351.7h0M571.5 475.0h0M541.7 374.6h0M627.6 340.8h0M572.1 371.3h0M532.2 358.8h0M575.3 475.5h0M667.0 423.2h0M641.6 431.2h0M666.1 422.5h0M561.4 344.2h0M591.7 405.3h0M538.7 367.6h0M572.3 370.9h0M608.2 360.3h0M574.7 453.8h0M662.8 428.6h0M661.9 431.7h0M520.4 355.1h0M649.6 433.7h0M630.0 461.6h0M598.6 466.1h0M634.0 491.3h0M547.4 341.0h0M641.6 419.2h0M596.6 346.2h0M603.0 451.0h0M565.4 351.1h0M587.7 447.3h0M625.2 466.6h0M554.5 360.0h0M598.9 479.4h0M609.4 355.5h0M527.5 437.3h0M616.7 342.5h0M576.8 381.4h0M634.1 411.4h0M582.0 371.2h0M562.6 431.6h0M552.6 431.1h0M540.4 361.6h0M597.6 384.6h0M578.2 346.2h0M544.7 379.8h0M652.4 492.4h0M609.0 379.7h0M521.1 399.5h0M667.2 422.6h0M556.9 380.4h0M552.0 436.8h0M549.7 348.7h0M583.7 405.1h0M591.8 465.9h0M618.1 447.3h0M617.4 412.9h0M581.0 388.1h0M554.1 420.5h0M595.2 468.4h0M554.1 416.7h0M627.5 426.5h0M604.5 442.1h0M596.0 384.8h0M524.2 426.3h0M628.3 371.4h0M593.1 374.8h0M666.4 469.1h0M660.2 400.0h0M668.0 421.8h0M609.7 366.6h0M618.6 460.3h0M552.8 388.1h0M581.0 374.4h0M573.0 397.7h0M593.8 402.7h0M574.8 371.8h0M580.0 390.8h0M527.2 393.2h0M553.8 440.8h0M668.5 482.8h0M548.3 465.5h0M534.4 348.0h0M572.5 387.3h0M536.9 409.8h0M551.3 472.1h0M595.6 376.7h0M526.9 490.8h0M662.9 431.0h0M551.1 445.9h0M560.6 427.4h0M546.2 464.1h0M648.2 434.1h0M568.5 467.9h0M554.2 367.6h0M602.2 384.5h0M594.3 450.3h0M618.0 470.5h0M635.8 414.2h0M571.3 372.5h0M647.9 446.4h0M587.7 395.1h0M531.1 401.3h0M634.6 431.5h0M651.2 392.8h0M608.7 465.0h0M555.3 403.5h0M576.1 488.7h0M579.0 394.1h0M524.3 387.8h0M558.4 397.0h0M580.9 368.8h0M573.0 442.0h0M536.0 384.2h0M609.4 381.5h0M626.3 371.7h0M547.7 365.6h0M586.5 471.0h0M645.9 417.5h0M536.0 348.2h0M566.3 443.8h0M550.4 389.8h0M583.9 364.5h0M626.0 442.4h0M575.8 397.6h0M598.4 362.2h0M624.8 410.1h0M588.7 472.0h0M599.8 437.4h0M576.4 364.7h0M578.8 352.7h0M567.8 404.6h0M520.9 428.7h0M598.2 376.5h0M595.3 348.6h0M629.5 416.6h0M619.6 479.9h0M615.1 401.2h0M574.0 398.5h0M641.1 442.3h0M521.0 456.2h0M582.0 341.7h0M531.5 403.8h0M551.3 366.4h0M548.3 370.3h0M604.0 387.5h0M608.4 480.2h0M622.3 453.0h0M567.9 412.9h0M579.3 348.1h0M589.5 350.0h0M599.2 490.1h0M569.9 410.7h0M592.4 385.5h0M565.0 484.9h0M661.7 445.7h0M627.9 492.6h0M619.3 439.3h0M549.9 346.8h0M569.4 390.6h0M544.0 390.9h0M531.9 428.2h0M547.1 416.7h0M566.3 343.0h0M658.1 425.0h0M578.7 476.5h0M606.2 372.1h0M581.3 359.0h0M527.1 440.2h0M646.4 427.6h0M553.4 440.4h0M668.7 466.6h0M555.9 344.5h0M550.3 370.7h0M534.8 386.0h0M596.1 449.5h0M619.4 451.4h0M574.5 356.1h0M573.8 459.7h0M669.3 418.8h0M548.6 419.0h0M579.3 466.5h0M667.8 491.2h0M557.8 348.8h0M622.1 351.4h0M588.0 399.6h0M623.4 357.3h0M657.8 438.7h0M620.5 446.0h0M523.1 347.3h0M564.8 451.0h0M580.3 468.7h0M570.7 375.5h0M621.7 477.5h0M552.6 393.3h0M601.3 441.1h0M544.5 491.6h0M521.4 395.4h0M583.6 389.5h0M553.0 480.0h0M618.6 380.1h0M661.7 483.3h0M616.3 474.2h0M573.7 471.1h0M640.1 356.6h0M564.6 453.2h0M562.2 355.2h0M573.9 353.0h0M656.1 417.7h0M592.0 450.9h0M593.5 476.3h0M551.2 469.3h0M660.1 421.2h0M570.6 486.9h0M572.1 482.9h0M539.4 389.4h0M628.5 436.9h0M623.5 446.1h0M627.4 452.5h0M559.7 482.0h0M602.7 489.8h0M523.5 403.8h0M577.1 393.0h0M599.6 476.9h0M627.3 459.5h0M632.0 412.2h0M549.9 455.9h0M574.4 397.5h0M529.6 490.9h0M620.4 403.7h0M652.0 393.3h0M667.3 447.7h0M581.2 380.3h0M577.8 409.3h0M559.7 400.4h0M618.6 394.0h0M654.3 396.0h0M525.0 380.4h0M577.0 360.7h0M541.5 345.5h0M591.9 368.4h0M570.3 376.9h0M525.9 401.4h0M558.0 391.6h0M579.1 442.0h0M633.5 445.2h0M659.9 439.1h0M598.6 441.5h0M570.1 374.7h0M592.9 443.0h0M522.1 452.7h0M660.4 434.6h0M587.1 376.1h0M528.6 350.9h0M549.3 470.8h0M529.7 361.1h0M650.3 432.7h0M634.1 450.7h0M535.3 351.0h0M535.3 387.7h0M622.9 377.7h0M609.8 414.3h0M532.3 341.4h0M553.6 489.3h0M556.1 425.2h0M627.3 447.0h0M554.2 436.1h0M608.9 416.8h0M554.1 345.1h0M608.7 469.4h0M534.6 367.5h0M637.1 385.4h0M525.4 387.5h0M520.5 391.0h0M566.3 465.6h0M546.9 489.6h0M557.8 437.6h0M636.3 450.3h0M559.4 348.1h0M565.6 363.4h0M650.8 435.5h0M599.6 394.3h0M566.4 453.5h0M565.5 491.9h0M549.8 348.7h0M646.7 362.3h0M664.5 426.8h0M628.8 387.3h0M571.2 348.6h0M597.1 349.1h0M541.8 341.0h0M594.4 354.9h0M520.2 365.4h0M603.6 409.6h0M565.5 445.2h0M590.5 343.9h0M547.0 459.2h0M588.4 444.7h0M533.2 421.3h0M527.5 454.6h0M537.7 351.1h0M608.4 410.6h0M543.4 347.4h0M527.3 415.5h0M613.4 348.4h0M629.2 427.5h0M587.6 453.2h0" stroke="#2a2a2a" stroke-width="1.2" stroke-linecap="round" />
<path d="M613.2 453.3h0M589.8 377.7h0M533.8 378.1h0M566.1 370.4h0M558.5 390.7h0M570.8 394.2h0M556.5 410.7h0M640.0 435.7h0M570.7 378.2h0M582.6 348.5h0M538.2 451.7h0M563.2 409.2h0M639.5 394.3h0M558.7 489.8h0M563.1 484.4h0M588.9 464.7h0M571.6 468.7h0M623.7 449.9h0M581.8 434.2h0M619.7 404.3h0M665.8 413.7h0M650.3 445.2h0M575.3 345.5h0M564.2 385.1h0M582.2 464.1h0M611.1 393.6h0M518.4 356.5h0M591.0 358.6h0M593.3 491.6h0M616.6 432.2h0M561.3 448.1h0M571.6 444.1h0M538.5 340.4h0M587.7 480.0h0M609.0 445.2h0M590.8 444.2h0M565.7 365.3h0M537.1 358.7h0M616.7 485.4h0M654.7 491.8h0M581.4 364.6h0M550.8 424.8h0M539.4 385.0h0M614.5 417.2h0M545.6 448.9h0M590.0 475.9h0M562.7 443.0h0M605.9 440.2h0M543.2 376.7h0M550.1 346.7h0M588.7 409.2h0M580.8 346.9h0M645.3 408.1h0M624.5 462.0h0M544.1 380.1h0M567.6 345.2h0M584.7 379.4h0M544.4 347.4h0M560.5 370.7h0M574.2 463.5h0M591.0 411.8h0M623.5 408.7h0M659.1 445.8h0M522.5 458.1h0M606.8 456.0h0M655.0 445.0h0M567.7 468.7h0M552.5 349.6h0M613.8 437.7h0M563.4 424.8h0M546.3 369.1h0M612.1 356.0h0M627.0 481.1h0M593.1 483.2h0M635.8 416.4h0M661.5 440.9h0M589.9 383.7h0M580.7 362.8h0M541.5 419.1h0M558.4 423.3h0M577.0 376.3h0M605.0 382.1h0M564.3 365.4h0M530.1 408.5h0M643.9 415.5h0M625.9 449.8h0M564.6 420.1h0M593.5 421.9h0M554.8 365.7h0M529.2 404.4h0M539.6 348.2h0M589.3 407.7h0M609.1 409.8h0M572.6 348.0h0M592.8 473.4h0M618.1 455.6h0M565.9 470.3h0M561.3 465.5h0M621.3 391.9h0M598.2 390.1h0M645.5 433.8h0M617.6 407.8h0M549.0 445.0h0M618.8 440.5h0M568.2 378.2h0M574.0 354.5h0M584.3 464.5h0M625.8 484.8h0M553.3 385.0h0M558.6 465.5h0M524.6 356.6h0M613.8 383.4h0M542.9 390.7h0M548.0 363.8h0M555.4 416.2h0M574.4 342.6h0M536.9 369.3h0M615.0 457.9h0M541.1 341.4h0M617.4 443.3h0M571.1 412.6h0M576.1 468.0h0M667.5 402.0h0M525.1 417.1h0M620.4 481.3h0M644.2 470.7h0M554.7 376.1h0M600.6 460.6h0M569.1 457.6h0M596.4 469.4h0M567.6 457.6h0M560.6 385.6h0M555.1 441.9h0M556.9 421.2h0M560.7 406.7h0M519.4 413.3h0M620.9 442.6h0M597.7 370.8h0M571.8 444.8h0M583.7 374.0h0M529.3 410.5h0M659.2 467.8h0M555.5 418.7h0M618.2 478.7h0M576.4 402.7h0M656.9 405.3h0M612.0 412.7h0M655.8 344.0h0M562.1 475.7h0M578.5 364.6h0M618.5 412.0h0M614.2 369.8h0M535.8 360.0h0M528.5 383.0h0M551.2 442.0h0M597.4 372.0h0M553.4 423.7h0M643.1 412.7h0M521.6 442.5h0M621.3 388.4h0M552.0 487.9h0M520.7 474.0h0M558.3 370.7h0M666.2 484.7h0M536.9 359.2h0M623.3 444.8h0M625.9 399.3h0M547.7 365.5h0M610.5 379.7h0M584.8 462.0h0M560.7 392.5h0M623.0 436.5h0M522.6 439.8h0M636.1 393.1h0M667.4 434.0h0M669.3 481.0h0M658.5 432.8h0M552.5 352.9h0M539.8 380.5h0M624.6 380.5h0M620.6 397.4h0M530.7 343.7h0M609.3 406.5h0M637.7 417.5h0M521.2 371.9h0M552.7 470.8h0M594.9 477.0h0M522.0 367.1h0M519.8 382.7h0M631.9 425.4h0M532.9 421.2h0M634.3 384.8h0M521.5 352.4h0M536.7 405.5h0M522.7 396.8h0M557.4 409.1h0M612.0 489.0h0M595.6 369.5h0M573.3 486.7h0M623.5 421.3h0M550.2 376.0h0M615.9 464.1h0M590.0 344.1h0M627.4 396.7h0M569.0 450.9h0M646.6 419.3h0M580.0 359.0h0M555.0 458.4h0M633.7 372.8h0M595.4 467.3h0M597.2 388.3h0M616.8 483.1h0M628.3 379.6h0M563.5 351.8h0M573.1 460.1h0M599.6 361.6h0M625.0 391.9h0M654.2 447.9h0M546.0 431.4h0M551.2 400.9h0M594.9 447.1h0M550.7 469.1h0M626.7 489.7h0M519.4 358.6h0M603.5 346.4h0M607.8 472.2h0M569.8 468.8h0M623.5 430.6h0M528.1 389.5h0M562.3 353.2h0M643.2 408.0h0M640.9 417.3h0M619.4 443.3h0M660.6 428.4h0M566.3 434.3h0M604.7 472.1h0M578.7 353.8h0M600.3 379.4h0M534.6 354.5h0M587.9 399.6h0M669.2 481.8h0M615.9 442.7h0M623.3 368.5h0M563.1 432.5h0M667.5 401.6h0M659.4 410.2h0M531.7 428.7h0M629.3 477.8h0M576.5 449.7h0M534.6 351.3h0M617.6 380.5h0M644.6 434.0h0M629.9 435.9h0M520.9 462.7h0M557.4 475.8h0M632.9 426.5h0M608.3 446.3h0M582.0 474.2h0M623.8 395.6h0M549.3 377.7h0M525.0 411.6h0M649.9 354.8h0M631.4 426.7h0M536.7 385.3h0M577.4 344.4h0M664.6 466.1h0M613.0 464.4h0M591.0 365.0h0M668.0 465.9h0M579.2 491.6h0M609.7 413.8h0M633.3 422.0h0M599.8 375.6h0M549.2 348.4h0M645.9 441.8h0M567.0 390.7h0M559.9 484.6h0M577.6 341.8h0M569.9 446.7h0M534.3 352.4h0M630.2 409.9h0M585.3 367.0h0M537.3 380.9h0M528.2 429.1h0M524.8 455.0h0M614.8 490.4h0M668.5 469.2h0M622.4 416.0h0M654.8 388.3h0M535.0 343.4h0M670.6 424.2h0M625.4 409.1h0M615.3 490.3h0M594.0 456.3h0M589.6 449.1h0M552.9 352.7h0M604.5 396.0h0M608.6 472.6h0M566.5 368.2h0M587.6 482.9h0M635.2 439.3h0M637.8 435.8h0M609.4 447.4h0M554.8 467.9h0M649.2 418.5h0M624.2 393.7h0M530.0 408.5h0M608.8 454.8h0M551.3 392.5h0M611.5 462.7h0M552.6 407.8h0M593.3 369.9h0M559.0 455.5h0M651.3 416.3h0M561.9 484.0h0M610.0 414.7h0M596.4 357.1h0M590.6 477.2h0M630.8 446.8h0M630.3 409.2h0M576.2 365.5h0M565.6 387.7h0M593.0 450.7h0M609.5 378.4h0M595.3 475.6h0M616.7 446.7h0M530.3 408.2h0M576.0 340.5h0M580.1 343.5h0M593.0 371.1h0M587.5 363.7h0M567.1 419.6h0M574.8 466.6h0M645.8 354.9h0M565.8 491.3h0M666.0 373.3h0M539.7 343.3h0M581.0 378.8h0M521.2 381.4h0M569.9 392.7h0M561.0 466.4h0M582.4 394.9h0M622.3 387.3h0M535.8 385.7h0M654.6 400.3h0M531.3 401.5h0M552.3 446.9h0M597.6 349.5h0M626.8 399.5h0M585.3 406.8h0M591.5 452.6h0M666.2 422.0h0M549.1 450.9h0M629.6 373.0h0M554.0 489.8h0M669.4 414.4h0M604.6 481.4h0M605.7 398.0h0M580.5 402.3h0M534.1 417.3h0M658.1 412.5h0M583.7 443.2h0M572.0 390.1h0M520.1 416.5h0M537.9 406.0h0M592.8 466.5h0M565.8 389.9h0M547.8 453.3h0M636.0 385.6h0M543.5 383.4h0M660.2 489.8h0M556.0 444.2h0M641.7 446.9h0M607.3 405.3h0M531.6 359.8h0M569.9 435.0h0M552.3 409.8h0M563.9 484.5h0M657.4 492.0h0M564.5 409.6h0M615.8 360.6h0M526.8 395.0h0M635.7 423.8h0M615.9 394.8h0M670.3 478.2h0M561.0 469.9h0M622.9 486.2h0M557.2 439.6h0M564.2 343.6h0M549.1 436.2h0M571.8 440.3h0M521.2 403.7h0M570.9 471.4h0M636.6 425.4h0M592.5 392.9h0M577.2 375.6h0M576.5 469.6h0M573.5 452.7h0M585.6 350.7h0M538.2 387.2h0M581.6 460.9h0M636.3 408.2h0M532.8 420.0h0M554.4 423.3h0M555.8 450.1h0M586.0 377.3h0M522.5 455.4h0M573.5 491.2h0M520.7 394.1h0M528.4 362.9h0M550.3 369.5h0M525.7 453.7h0M623.9 479.9h0M634.9 413.5h0M611.3 413.7h0M524.9 451.5h0M574.2 364.8h0M649.6 401.8h0M623.5 486.0h0M566.5 469.5h0M595.9 412.4h0M618.1 459.5h0M543.6 374.3h0M668.9 415.8h0M573.2 439.7h0M558.0 399.7h0M631.5 460.0h0M548.5 340.7h0M547.0 389.9h0M561.4 424.4h0M663.4 434.0h0M556.4 404.4h0M608.7 461.8h0M612.8 385.4h0M630.7 444.7h0M607.8 458.7h0M612.3 451.0h0M569.8 463.5h0M535.4 372.8h0M525.9 436.6h0M654.5 396.2h0M552.6 369.9h0M600.5 420.5h0M594.1 486.9h0M629.3 455.2h0M572.7 484.2h0M570.3 345.9h0M538.4 369.3h0M611.4 456.4h0M625.5 384.0h0M551.8 438.4h0M567.4 463.3h0M524.2 389.8h0M662.5 411.8h0M525.1 394.0h0M575.1 367.1h0M519.4 406.2h0M578.9 490.3h0M600.9 411.0h0M635.5 407.4h0M594.8 392.9h0M522.9 409.7h0M623.2 427.8h0M596.0 492.6h0M615.2 363.2h0M604.6 469.4h0M617.2 377.5h0M628.4 461.7h0M563.4 380.4h0M620.0 482.1h0M626.4 421.5h0M576.2 482.4h0M524.1 350.3h0M551.7 434.4h0M586.9 464.2h0M630.2 401.7h0M633.0 387.0h0M576.8 347.5h0M663.8 407.7h0M556.0 472.9h0M661.9 403.7h0M533.8 398.2h0M659.9 387.3h0M563.0 440.8h0M660.6 393.2h0M572.0 447.1h0M603.4 454.4h0M600.3 389.6h0M602.3 465.4h0M554.0 376.8h0M669.1 397.9h0M612.2 457.9h0M562.9 409.8h0M551.0 379.5h0M622.3 449.3h0M563.4 409.9h0M584.1 378.0h0M567.3 347.3h0M546.2 448.5h0M613.2 465.5h0M656.0 468.0h0M590.4 485.4h0M602.7 486.4h0M647.7 438.0h0M623.0 410.9h0M618.3 464.7h0M553.8 471.7h0M629.6 394.0h0M555.9 446.6h0M598.7 388.7h0M551.1 424.7h0M634.8 380.8h0M584.4 396.5h0M548.9 428.6h0M548.8 470.3h0M532.0 427.9h0M669.5 471.0h0M526.8 395.6h0M604.0 379.2h0M550.1 386.8h0M543.0 466.1h0M664.1 478.8h0M594.2 353.2h0M617.6 407.1h0M554.6 450.5h0M592.8 450.7h0M594.3 408.5h0M639.1 418.0h0M613.7 453.6h0M666.7 486.6h0M521.6 465.1h0M635.0 444.5h0M585.7 470.2h0M552.0 457.8h0M585.4 480.9h0M556.6 381.7h0M630.6 409.0h0M611.4 391.9h0M636.6 393.6h0M642.2 486.5h0M653.0 447.2h0M600.7 356.3h0M534.0 346.5h0M605.2 390.4h0M639.2 378.7h0M528.7 409.7h0M568.3 366.6h0M520.2 472.5h0M569.7 459.1h0M611.9 383.1h0M532.6 418.8h0M624.1 482.9h0M606.0 382.6h0M657.7 432.8h0M653.9 426.9h0M611.6 489.1h0M594.2 400.9h0M522.8 438.2h0M662.4 443.6h0M598.5 393.9h0M570.8 361.2h0M534.0 370.2h0M601.5 449.1h0M590.5 387.6h0M563.7 367.7h0M569.8 442.1h0M600.2 377.8h0M565.4 463.6h0M627.8 423.6h0M593.0 443.1h0M649.5 362.0h0M546.7 477.0h0M566.4 402.3h0M567.4 366.5h0M551.5 417.2h0M586.1 463.7h0M584.5 457.8h0M532.8 407.5h0M573.9 402.9h0M648.4 431.2h0M604.6 465.3h0M626.5 467.2h0M545.7 357.4h0M578.2 391.6h0M595.3 480.4h0M561.6 341.3h0M577.1 371.2h0M595.0 391.1h0M568.9 365.9h0M541.1 402.3h0M664.3 480.4h0M560.5 350.2h0M553.6 424.9h0M627.2 440.6h0M599.7 361.8h0M555.8 370.5h0M584.7 452.8h0M586.7 487.4h0M664.3 435.0h0M655.5 377.4h0M620.9 406.8h0M635.9 417.1h0M544.6 419.0h0M564.5 369.2h0M581.2 396.5h0M662.0 446.3h0M589.6 485.1h0M633.8 486.9h0M553.8 413.4h0M659.1 417.3h0M604.0 486.4h0M525.6 421.8h0M547.3 366.5h0M538.5 356.7h0M625.3 424.8h0M531.4 382.8h0M618.4 391.4h0M559.3 378.1h0M657.4 478.0h0M617.7 394.9h0M624.2 447.0h0M571.0 391.2h0M584.1 391.8h0M547.9 382.0h0M620.1 488.7h0M660.0 466.6h0M530.3 359.8h0M616.6 457.2h0M544.2 455.2h0M669.2 476.0h0" stroke="#383838" stroke-width="1.5" stroke-linecap="round" />
<rect x="518.3" y="340" width="152.4" height="152.7" fill="#000" opacity="0.28" filter="url(#grain)"/></g>
<text x="521.2" y="351.8" font-size="10.5" fill="#000" stroke="#000" stroke-width="0.3" text-anchor="start" font-weight="bold" >E</text>
<rect x="524.4" y="486" width="38.1" height="2.3" fill="#fff"/>
<text x="526.0" y="482.3" font-size="9.5" fill="#fff" stroke="#fff" stroke-width="0.3" text-anchor="start" textLength="28.6" lengthAdjust="spacingAndGlyphs" >50 nm</text>
<line x1="601.5" y1="347.2" x2="601.5" y2="397.3" stroke="#fff" stroke-width="1"/>
<line x1="597.8" y1="397.3" x2="661.7" y2="397.3" stroke="#fff" stroke-width="1"/>
<line x1="599.5" y1="397.3" x2="601.5" y2="397.3" stroke="#fff" stroke-width="0.8"/>
<line x1="599.5" y1="392.3" x2="601.5" y2="392.3" stroke="#fff" stroke-width="0.8"/>
<line x1="599.5" y1="387.3" x2="601.5" y2="387.3" stroke="#fff" stroke-width="0.8"/>
<line x1="599.5" y1="382.3" x2="601.5" y2="382.3" stroke="#fff" stroke-width="0.8"/>
<line x1="599.5" y1="377.3" x2="601.5" y2="377.3" stroke="#fff" stroke-width="0.8"/>
<line x1="599.5" y1="372.2" x2="601.5" y2="372.2" stroke="#fff" stroke-width="0.8"/>
<line x1="599.5" y1="367.2" x2="601.5" y2="367.2" stroke="#fff" stroke-width="0.8"/>
<line x1="599.5" y1="362.2" x2="601.5" y2="362.2" stroke="#fff" stroke-width="0.8"/>
<line x1="599.5" y1="357.2" x2="601.5" y2="357.2" stroke="#fff" stroke-width="0.8"/>
<line x1="599.5" y1="352.2" x2="601.5" y2="352.2" stroke="#fff" stroke-width="0.8"/>
<line x1="599.5" y1="347.2" x2="601.5" y2="347.2" stroke="#fff" stroke-width="0.8"/>
<line x1="601.5" y1="397.3" x2="601.5" y2="399.3" stroke="#fff" stroke-width="0.8"/>
<line x1="609.0" y1="397.3" x2="609.0" y2="399.3" stroke="#fff" stroke-width="0.8"/>
<line x1="616.4" y1="397.3" x2="616.4" y2="399.3" stroke="#fff" stroke-width="0.8"/>
<line x1="623.9" y1="397.3" x2="623.9" y2="399.3" stroke="#fff" stroke-width="0.8"/>
<line x1="631.3" y1="397.3" x2="631.3" y2="399.3" stroke="#fff" stroke-width="0.8"/>
<line x1="638.8" y1="397.3" x2="638.8" y2="399.3" stroke="#fff" stroke-width="0.8"/>
<line x1="646.2" y1="397.3" x2="646.2" y2="399.3" stroke="#fff" stroke-width="0.8"/>
<line x1="653.6" y1="397.3" x2="653.6" y2="399.3" stroke="#fff" stroke-width="0.8"/>
<line x1="661.1" y1="397.3" x2="661.1" y2="399.3" stroke="#fff" stroke-width="0.8"/>
<rect x="606.3" y="391.2" width="6.4" height="6.1" fill="#a5688c" stroke="#f4e8f0" stroke-width="0.8"/>
<rect x="620.5" y="357.9" width="6.4" height="39.4" fill="#a5688c" stroke="#f4e8f0" stroke-width="0.8"/>
<rect x="635.4" y="391.9" width="6.4" height="5.4" fill="#a5688c" stroke="#f4e8f0" stroke-width="0.8"/>
<text x="601.2" y="409.5" font-size="10" fill="#fff" stroke="#fff" stroke-width="0.3" text-anchor="middle" >0</text>
<text x="616.1" y="409.5" font-size="10" fill="#fff" stroke="#fff" stroke-width="0.3" text-anchor="middle" >1</text>
<text x="631.0" y="409.5" font-size="10" fill="#fff" stroke="#fff" stroke-width="0.3" text-anchor="middle" >2</text>
<text x="645.9" y="409.5" font-size="10" fill="#fff" stroke="#fff" stroke-width="0.3" text-anchor="middle" >3</text>
<text x="660.8" y="409.5" font-size="10" fill="#fff" stroke="#fff" stroke-width="0.3" text-anchor="middle" >4</text>
<text x="598.0" y="400.6" font-size="9.5" fill="#fff" stroke="#fff" stroke-width="0.3" text-anchor="end" textLength="5" lengthAdjust="spacingAndGlyphs" >0</text>
<text x="598.0" y="390.6" font-size="9.5" fill="#fff" stroke="#fff" stroke-width="0.3" text-anchor="end" textLength="10" lengthAdjust="spacingAndGlyphs" >20</text>
<text x="598.0" y="380.6" font-size="9.5" fill="#fff" stroke="#fff" stroke-width="0.3" text-anchor="end" textLength="10" lengthAdjust="spacingAndGlyphs" >40</text>
<text x="598.0" y="370.5" font-size="9.5" fill="#fff" stroke="#fff" stroke-width="0.3" text-anchor="end" textLength="10" lengthAdjust="spacingAndGlyphs" >60</text>
<text x="598.0" y="360.5" font-size="9.5" fill="#fff" stroke="#fff" stroke-width="0.3" text-anchor="end" textLength="10" lengthAdjust="spacingAndGlyphs" >80</text>
<text x="598.0" y="350.5" font-size="9.5" fill="#fff" stroke="#fff" stroke-width="0.3" text-anchor="end" textLength="15" lengthAdjust="spacingAndGlyphs" >100</text>
<text x="577.5" y="372.0" font-size="9.5" fill="#fff" stroke="#fff" stroke-width="0.3" text-anchor="middle" textLength="57" lengthAdjust="spacingAndGlyphs" transform="rotate(-90 577.5 372.0)" >Frequency (%)</text>
<text x="631.0" y="420.5" font-size="10" fill="#fff" stroke="#fff" stroke-width="0.3" text-anchor="middle" textLength="70" lengthAdjust="spacingAndGlyphs" >Particle Size (nm)</text>
<text x="611.3" y="354.5" font-size="9.5" fill="#fff" stroke="#fff" stroke-width="0.3" text-anchor="start" textLength="54.7" lengthAdjust="spacingAndGlyphs" >1.5 ± 0.3 nm</text>
<g clip-path="url(#clipF)"><rect x="682" y="340" width="152.8" height="152.7" fill="#a8a8a8"/>
<path d="M707.1,357.2 Q707.1,342.7 733.9,342.7 Q760.8,342.7 765.4,355.7 Q770.0,368.7 763.8,382.5 Q757.7,396.3 748.5,402.4 Q739.3,408.6 730.1,410.1 Q720.9,411.6 716.3,404.0 Q711.7,396.3 709.4,384.0 Q707.1,371.8 707.1,357.2 Z" fill="#8e8e8e" filter="url(#blur2)"/>
<path d="M678.0,460.7 Q678.0,428.5 697.9,423.1 Q717.8,417.8 728.6,413.9 Q739.3,410.1 754.6,411.6 Q770.0,413.2 770.0,424.7 Q770.0,436.1 759.2,443.8 Q748.5,451.5 747.3,472.2 Q746.0,492.9 712.0,492.9 Q678.0,492.9 678.0,460.7 Z" fill="#888888" filter="url(#blur2)"/>
<path d="M785.9,473.7 Q785.9,454.5 804.0,447.6 Q822.1,440.7 830.5,441.5 Q838.9,442.3 838.9,467.6 Q838.9,492.9 812.4,492.9 Q785.9,492.9 785.9,473.7 Z" fill="#8c8c8c" filter="url(#blur2)"/>
<rect x="682" y="340" width="152.8" height="152.7" fill="#000" opacity="0.3" filter="url(#cloudD)"/>
<path d="M678.0,384.0 Q678.0,339.6 687.2,339.6 Q696.4,339.6 701.8,343.4 Q707.1,347.3 707.9,359.5 Q708.7,371.8 711.7,384.0 Q714.8,396.3 717.8,404.0 Q720.9,411.6 717.8,417.8 Q714.8,423.9 707.1,425.4 Q699.5,427.0 688.7,427.7 Q678.0,428.5 678.0,384.0 Z" fill="#c8c8c8" filter="url(#blur1)"/>
<path d="M746.0,472.9 Q746.0,453.0 758.0,450.4 Q770.0,447.8 777.9,451.5 Q785.9,455.2 785.9,474.0 Q785.9,492.9 766.0,492.9 Q746.0,492.9 746.0,472.9 Z" fill="#c9c9c9" filter="url(#blur1)"/>
<path d="M821.3,403.2 Q822.1,391.7 830.5,389.4 Q838.9,387.1 838.9,413.9 Q838.9,440.7 832.0,439.2 Q825.1,437.7 822.8,426.2 Q820.5,414.7 821.3,403.2 Z" fill="#c6c6c6" filter="url(#blur1)"/>
<path d="M763.8,355.7 Q760.8,339.6 799.8,339.6 Q838.9,339.6 838.9,364.1 Q838.9,388.6 830.5,389.4 Q822.1,390.2 808.3,385.6 Q794.5,381.0 780.7,376.4 Q766.9,371.8 763.8,355.7 Z" fill="#b8b8b8" filter="url(#blur1)"/>
<path d="M770.0,423.9 Q770.0,411.6 796.0,410.1 Q822.1,408.6 823.6,423.9 Q825.1,439.2 806.7,445.3 Q788.3,451.5 779.1,443.8 Q770.0,436.1 770.0,423.9 Z" fill="#b0b0b0" filter="url(#blur1)"/>
<path d="M827.1 400.1h0M807.7 453.7h0M820.7 471.6h0M745.5 371.2h0M692.3 458.5h0M726.8 429.1h0M819.6 492.0h0M752.7 356.9h0M830.5 455.2h0M702.2 450.0h0M707.1 480.7h0M714.5 388.6h0M696.1 481.1h0M683.8 484.6h0M742.7 456.8h0M715.1 379.3h0M759.8 382.6h0M791.7 489.6h0M743.8 353.1h0M714.5 465.4h0M707.8 421.4h0M738.3 468.9h0M753.5 416.8h0M819.5 487.4h0M727.0 443.0h0M714.6 435.1h0M693.1 427.6h0M711.4 347.9h0M714.9 361.7h0M708.9 350.0h0M743.0 379.7h0M718.3 398.7h0M690.8 487.7h0M746.5 434.7h0M795.9 341.1h0M739.9 404.0h0M771.2 465.4h0M738.8 449.7h0M697.5 393.7h0M812.9 476.0h0M723.6 377.8h0M761.6 437.9h0M710.4 450.5h0M794.1 483.7h0M726.3 431.9h0M742.8 481.2h0M820.9 488.8h0M746.3 373.2h0M713.6 425.2h0M718.7 353.6h0M790.4 463.0h0M717.2 460.0h0M726.3 441.4h0M818.7 469.7h0M765.6 432.2h0M799.9 464.3h0M752.7 383.6h0M799.5 475.2h0M741.9 454.0h0M726.8 382.0h0M804.8 485.9h0M727.2 415.7h0M812.3 483.5h0M741.7 447.3h0M696.4 425.2h0M751.0 357.2h0M784.3 385.4h0M685.9 481.6h0M823.8 456.0h0M762.1 386.2h0M705.8 422.8h0M742.5 436.3h0M736.2 435.7h0M791.3 349.2h0M725.5 457.3h0M684.0 451.0h0M721.7 375.2h0M744.0 425.5h0M714.7 438.6h0M707.6 374.1h0M687.5 450.7h0M801.3 472.0h0M755.7 458.9h0M692.8 479.4h0M748.7 362.4h0M736.4 346.9h0M818.1 468.3h0M727.0 423.1h0M802.5 466.5h0M707.9 360.3h0M750.0 372.5h0M688.2 357.8h0M743.3 485.8h0M756.7 340.9h0M752.1 394.0h0M727.5 420.4h0M705.4 425.1h0M687.8 428.0h0M792.0 468.1h0M731.8 386.6h0M816.3 458.5h0M741.8 367.3h0M715.2 384.4h0M715.5 421.2h0M710.9 368.0h0M828.7 407.7h0M767.5 412.1h0M809.7 474.3h0M829.8 467.6h0M746.9 435.6h0M713.5 418.9h0M769.1 361.0h0M736.5 481.9h0M740.9 373.6h0M734.1 425.2h0M828.2 456.6h0M736.6 484.1h0M829.3 370.7h0M827.8 480.8h0M767.4 417.1h0M718.5 382.3h0M720.0 437.6h0M761.5 432.9h0M752.7 426.2h0M762.2 359.2h0M744.0 462.1h0M713.3 376.9h0M741.6 421.9h0M786.8 486.4h0M811.0 474.7h0M734.8 351.8h0M742.7 471.8h0M702.8 455.9h0M709.4 475.0h0M713.4 462.1h0M754.4 389.7h0M700.0 355.4h0M803.6 485.1h0M825.9 438.9h0M751.8 418.7h0M716.0 356.7h0M749.4 400.6h0M731.5 481.1h0M763.6 420.1h0M745.4 470.6h0M704.5 446.3h0M743.2 418.7h0M721.2 373.2h0M717.3 389.2h0M768.4 433.7h0M794.1 464.6h0M743.3 416.1h0M700.8 457.9h0M806.9 473.5h0M754.1 413.6h0M720.0 421.4h0M721.5 392.8h0M757.5 383.6h0M734.8 423.6h0M749.2 425.8h0M696.6 378.5h0M717.1 459.1h0M711.7 476.2h0M772.4 405.5h0M755.8 350.2h0M686.9 463.0h0M713.3 480.8h0M734.1 461.0h0M822.1 450.5h0M723.5 377.5h0M705.2 429.0h0M755.5 366.5h0M690.5 481.6h0M745.0 472.4h0M791.2 462.9h0M819.4 469.8h0M736.5 489.2h0M727.5 464.0h0M717.2 400.4h0M744.4 458.0h0M763.3 360.7h0M690.1 439.2h0M830.3 487.2h0M753.0 447.6h0M769.8 418.3h0M688.1 460.7h0M736.9 463.1h0M743.5 415.6h0M793.5 464.8h0M713.9 372.5h0M703.4 438.4h0M815.1 489.1h0M747.5 458.3h0M736.9 407.2h0M683.9 432.8h0M736.9 489.4h0M744.1 405.1h0M741.7 393.1h0M726.2 381.0h0M707.4 372.3h0M759.9 438.3h0M751.2 389.6h0M725.1 458.5h0M788.3 425.7h0M722.9 401.4h0M722.1 379.3h0M791.9 464.1h0M731.4 383.4h0M733.3 389.9h0M731.1 490.8h0M725.1 464.8h0M737.8 385.7h0M758.3 379.5h0M711.6 457.2h0M710.0 364.2h0M741.1 433.9h0M755.9 427.3h0M737.9 487.0h0M699.5 470.4h0M754.6 367.5h0M736.0 483.1h0M710.2 478.1h0M695.7 460.9h0M704.0 489.3h0M762.0 382.3h0M723.0 467.2h0M729.0 443.4h0M686.8 430.8h0M768.7 371.1h0M751.4 420.6h0M808.5 483.2h0M705.7 484.6h0M764.2 362.4h0M738.9 407.7h0M830.2 369.8h0M704.0 485.9h0M733.5 365.2h0M733.6 417.8h0M715.1 455.9h0M715.6 459.2h0M815.8 428.8h0M702.6 426.8h0M727.1 395.5h0M820.1 461.7h0M738.5 437.7h0M731.6 359.8h0M693.7 432.8h0M761.5 465.2h0M824.4 476.2h0M730.4 363.9h0M711.9 481.2h0M692.6 475.4h0M809.5 478.7h0M710.0 452.9h0M688.5 490.1h0M751.6 399.0h0M708.4 474.9h0M769.2 423.5h0M746.0 412.1h0M733.5 412.6h0M744.7 402.0h0M736.8 358.6h0M737.5 463.6h0M803.2 456.3h0M818.6 479.1h0M761.3 375.9h0M710.3 430.2h0M737.8 378.3h0M733.3 425.9h0M720.2 392.8h0M750.0 411.3h0M691.6 444.4h0M774.0 376.0h0M688.3 468.3h0M722.3 372.2h0M757.4 427.1h0M685.4 467.3h0" stroke="#484848" stroke-width="1.5" stroke-linecap="round" opacity="0.8"/>
<path d="M690.7 487.0h0M823.4 468.7h0M693.2 458.6h0M724.3 484.9h0M808.5 429.7h0M730.0 476.0h0M725.4 471.4h0M804.5 483.0h0M714.8 440.6h0M830.5 461.5h0M812.6 464.0h0M733.2 430.4h0M727.0 456.8h0M813.1 447.2h0M765.5 425.6h0M756.4 385.6h0M763.9 488.2h0M712.1 464.7h0M754.5 354.2h0M747.0 358.2h0M759.8 426.1h0M834.6 487.5h0M697.9 467.5h0M722.3 474.8h0M736.0 458.0h0M696.8 468.1h0M716.9 483.8h0M820.6 455.9h0M750.7 361.1h0M737.8 361.4h0M737.4 473.6h0M696.1 361.8h0M744.1 398.6h0M724.6 441.9h0M731.6 384.5h0M731.8 472.7h0M767.8 372.1h0M822.3 368.8h0M742.3 465.5h0M703.8 469.4h0M815.2 452.1h0M725.2 352.3h0M706.4 490.1h0M719.9 423.5h0M719.9 369.1h0M725.2 442.1h0M790.8 491.4h0M697.3 429.0h0M722.2 456.4h0M749.2 346.1h0M768.8 371.2h0M822.1 479.8h0M721.5 458.2h0M822.2 477.1h0M720.9 441.4h0M704.4 464.0h0M748.7 375.1h0M720.2 482.7h0M699.4 473.2h0M817.1 459.8h0M740.7 482.1h0M765.9 366.1h0M684.4 441.8h0M724.8 481.6h0M830.0 480.6h0M686.5 461.8h0M715.1 382.1h0M734.9 449.1h0M731.8 369.7h0M748.0 414.4h0M785.5 411.0h0M693.9 453.7h0M766.2 385.8h0M734.3 471.6h0M750.4 366.6h0M799.2 482.7h0M740.2 363.9h0M750.4 355.9h0M733.6 361.4h0M773.0 370.6h0M706.8 484.5h0M730.8 444.2h0M700.7 472.8h0M787.5 368.8h0M824.5 477.2h0M748.6 400.2h0M810.9 486.4h0M796.1 365.9h0M736.2 478.5h0M830.5 487.2h0M821.5 426.7h0M833.3 491.3h0M731.6 403.4h0M763.4 425.1h0M688.0 429.3h0M703.0 425.0h0M831.4 453.6h0M761.9 431.1h0M820.9 342.6h0M761.3 361.6h0M705.4 392.6h0M705.4 471.1h0M719.2 466.8h0M763.9 356.9h0M723.5 474.4h0M692.7 409.6h0M747.5 370.3h0M729.6 478.9h0M716.2 392.8h0M747.3 450.7h0M732.5 407.0h0M745.0 454.0h0M754.9 396.4h0M759.8 434.9h0M750.4 491.5h0M711.1 349.8h0M696.9 467.3h0M710.1 488.0h0M685.2 347.6h0M815.6 480.7h0M718.5 425.0h0M758.0 423.0h0M790.3 359.7h0M729.3 342.1h0M732.1 368.5h0M717.5 478.1h0M737.5 394.2h0M728.7 384.5h0M736.0 395.8h0M706.4 452.6h0M724.7 467.1h0M728.0 485.1h0M760.8 430.1h0M710.3 456.2h0M725.1 423.7h0M741.7 491.2h0M714.5 488.8h0M805.8 397.2h0M761.2 378.4h0M832.8 457.8h0M811.8 465.6h0M738.4 420.1h0M694.1 434.2h0M777.2 416.3h0M805.4 461.5h0M698.6 491.3h0M700.0 483.1h0M694.4 479.6h0M710.1 421.7h0M707.4 431.0h0M719.2 347.5h0M745.1 456.3h0M748.7 482.6h0M714.8 424.4h0M805.2 452.2h0M694.7 472.6h0M693.1 465.1h0M806.2 477.2h0M779.7 347.4h0M817.5 454.4h0M683.7 448.5h0M713.6 474.8h0M697.0 444.6h0M784.0 452.3h0M739.3 479.8h0M720.4 344.8h0M706.3 429.5h0M743.8 377.1h0M803.8 468.2h0M780.4 346.6h0M758.3 381.1h0M757.7 372.2h0M736.0 380.1h0M716.2 352.7h0M795.3 359.6h0M789.2 478.5h0M707.6 365.5h0M737.4 467.6h0M706.2 425.8h0M751.1 489.3h0M732.9 444.9h0M729.9 367.3h0M787.3 464.5h0M736.4 408.1h0M726.5 357.7h0M833.8 473.2h0M805.6 474.3h0M709.0 354.2h0M727.6 345.7h0M756.9 409.0h0M754.3 386.9h0M758.2 441.0h0M735.2 454.9h0M737.5 385.2h0M744.5 460.8h0M801.0 466.7h0M684.8 458.8h0M769.4 410.0h0M695.6 438.8h0M812.1 455.6h0M769.1 429.7h0M686.3 485.1h0M817.6 482.6h0M754.7 345.2h0M692.5 433.7h0M749.9 385.6h0M803.0 461.6h0M796.1 475.9h0M725.2 482.8h0M744.8 372.5h0M712.0 491.7h0M803.5 473.6h0M739.0 376.5h0M709.9 448.7h0M693.3 477.7h0M687.2 489.1h0M823.6 461.6h0M744.9 465.1h0M748.6 401.2h0M695.1 361.6h0M722.0 350.2h0M800.3 459.3h0M737.0 381.9h0M695.9 406.6h0M691.4 465.0h0M726.0 473.0h0M741.9 369.5h0M768.0 480.7h0M726.1 398.2h0M732.1 442.0h0M703.5 401.8h0M735.5 402.7h0M684.9 404.0h0M791.5 367.7h0M749.3 424.4h0M725.5 423.8h0M702.9 434.9h0M750.8 393.4h0M812.8 462.6h0M782.2 414.9h0M833.3 445.1h0M690.1 393.4h0M716.7 463.5h0M683.8 479.6h0M754.1 425.8h0M715.8 381.6h0M817.9 490.4h0M752.0 346.1h0M729.8 372.5h0M829.9 469.7h0M801.1 468.7h0M685.2 441.1h0M807.4 457.5h0M819.0 462.2h0M713.1 368.0h0M794.7 472.3h0M742.0 489.8h0M723.6 345.2h0M789.8 476.1h0M753.9 456.8h0M685.6 461.9h0M816.1 425.0h0M688.9 430.4h0M775.2 433.4h0M822.4 446.1h0M817.9 443.9h0M756.6 345.9h0M757.4 468.2h0M710.6 420.2h0M730.5 366.1h0M687.7 470.6h0M800.2 449.2h0M755.7 406.0h0M687.4 487.9h0M719.4 483.9h0M791.1 437.6h0M734.8 395.7h0M718.2 406.2h0M833.1 457.6h0M735.1 459.2h0M724.6 343.2h0M772.0 450.8h0M741.6 439.7h0M693.6 437.3h0M766.6 365.1h0M827.0 466.5h0M801.7 374.7h0M808.1 392.4h0M764.9 430.7h0M694.3 462.9h0M727.6 487.2h0M717.6 405.5h0M716.1 463.0h0M750.9 370.7h0M804.8 399.1h0M698.3 423.7h0M760.5 368.4h0" stroke="#383838" stroke-width="2.3" stroke-linecap="round" opacity="0.8"/>
<path d="M750.3 418.5h0M811.7 344.2h0M745.6 394.7h0M763.1 425.9h0M723.8 378.9h0M715.0 378.9h0M711.8 422.8h0M735.6 382.2h0M826.1 463.2h0M730.7 424.7h0M792.1 485.0h0M740.2 383.9h0M750.4 348.8h0M752.9 379.7h0M799.4 457.3h0M741.0 388.9h0M693.3 438.8h0M828.1 487.0h0M749.0 353.6h0M813.5 455.0h0M740.0 388.5h0M708.9 466.1h0M738.7 417.4h0M702.5 441.4h0M715.4 355.1h0M765.6 456.0h0M724.8 454.0h0M683.9 459.6h0M710.7 474.8h0M731.2 347.7h0M700.0 399.3h0M720.7 380.5h0M737.4 463.0h0M760.6 429.7h0M793.7 489.7h0M745.5 448.4h0M749.7 428.6h0M790.7 481.3h0M721.9 386.1h0M791.1 465.6h0M827.1 465.3h0M717.5 396.4h0M801.8 461.3h0M799.3 461.7h0M824.9 465.7h0M743.4 486.7h0M719.7 377.8h0M722.2 372.3h0M809.8 354.2h0M790.8 482.1h0M687.2 463.5h0M725.6 481.9h0M752.5 425.3h0M723.4 350.2h0M735.8 362.2h0M744.5 353.5h0M689.2 457.7h0M717.9 384.1h0M688.4 466.8h0M687.6 460.3h0M692.1 425.8h0M735.2 367.3h0M735.7 446.6h0M730.5 351.0h0M740.9 435.9h0M705.3 435.3h0M795.5 474.2h0M810.0 462.0h0M703.5 474.5h0M725.6 366.3h0M770.0 419.4h0M702.9 468.1h0M718.8 419.2h0M734.9 366.8h0M756.1 384.2h0M730.7 357.7h0M747.4 380.2h0M754.2 450.7h0M811.6 483.2h0M761.3 435.2h0M766.9 363.7h0M744.4 488.7h0M685.5 461.7h0M796.2 485.0h0M690.5 471.1h0M732.2 488.9h0M704.7 461.0h0M829.5 471.0h0M717.1 434.9h0M713.3 396.1h0M817.2 490.0h0M703.2 421.9h0M705.3 446.8h0M770.9 469.6h0M735.8 346.3h0M741.3 393.8h0M762.2 431.4h0M710.1 434.5h0M833.8 482.7h0M683.1 428.1h0M731.4 352.6h0M827.6 453.3h0M716.4 409.2h0M722.1 438.3h0M768.4 364.9h0M818.9 449.6h0M709.7 444.1h0M725.1 479.2h0M744.9 372.9h0M820.8 464.5h0M813.1 371.7h0M709.5 399.7h0M718.8 355.0h0M726.7 371.9h0M721.7 408.2h0M823.3 488.3h0M800.2 442.8h0M752.1 344.5h0M757.3 416.1h0M712.9 458.8h0M686.6 480.6h0M806.1 469.9h0M746.9 382.5h0M744.7 442.8h0M833.2 473.9h0M736.7 382.2h0M764.8 372.8h0M806.1 454.4h0M722.0 341.9h0M794.1 486.0h0M720.0 484.4h0M747.2 426.9h0M731.7 466.4h0M754.8 445.3h0M765.7 482.1h0M715.9 479.8h0M714.8 393.4h0M734.7 368.4h0" stroke="#2a2a2a" stroke-width="3.2" stroke-linecap="round" opacity="0.8"/>
<circle cx="806.7" cy="364" r="5" fill="#151515"/>
<rect x="682" y="340" width="152.8" height="152.7" fill="#000" opacity="0.18" filter="url(#grain)"/></g>
<text x="685.6" y="351.5" font-size="10.5" fill="#000" stroke="#000" stroke-width="0.3" text-anchor="start" font-weight="bold" >F</text>
<rect x="688.2" y="486.4" width="38.1" height="2.3" fill="#fff"/>
<text x="689.0" y="482.3" font-size="9.5" fill="#fff" stroke="#fff" stroke-width="0.3" text-anchor="start" textLength="29" lengthAdjust="spacingAndGlyphs" >50 nm</text>
<line x1="768" y1="346.4" x2="768" y2="397" stroke="#fff" stroke-width="1"/>
<line x1="765" y1="397" x2="828" y2="397" stroke="#fff" stroke-width="1"/>
<line x1="766" y1="397.0" x2="768" y2="397.0" stroke="#fff" stroke-width="0.8"/>
<line x1="766" y1="391.9" x2="768" y2="391.9" stroke="#fff" stroke-width="0.8"/>
<line x1="766" y1="386.9" x2="768" y2="386.9" stroke="#fff" stroke-width="0.8"/>
<line x1="766" y1="381.8" x2="768" y2="381.8" stroke="#fff" stroke-width="0.8"/>
<line x1="766" y1="376.8" x2="768" y2="376.8" stroke="#fff" stroke-width="0.8"/>
<line x1="766" y1="371.7" x2="768" y2="371.7" stroke="#fff" stroke-width="0.8"/>
<line x1="766" y1="366.6" x2="768" y2="366.6" stroke="#fff" stroke-width="0.8"/>
<line x1="766" y1="361.6" x2="768" y2="361.6" stroke="#fff" stroke-width="0.8"/>
<line x1="766" y1="356.5" x2="768" y2="356.5" stroke="#fff" stroke-width="0.8"/>
<line x1="766" y1="351.5" x2="768" y2="351.5" stroke="#fff" stroke-width="0.8"/>
<line x1="766" y1="346.4" x2="768" y2="346.4" stroke="#fff" stroke-width="0.8"/>
<line x1="768.0" y1="397" x2="768.0" y2="399" stroke="#fff" stroke-width="0.8"/>
<line x1="775.5" y1="397" x2="775.5" y2="399" stroke="#fff" stroke-width="0.8"/>
<line x1="782.9" y1="397" x2="782.9" y2="399" stroke="#fff" stroke-width="0.8"/>
<line x1="790.4" y1="397" x2="790.4" y2="399" stroke="#fff" stroke-width="0.8"/>
<line x1="797.8" y1="397" x2="797.8" y2="399" stroke="#fff" stroke-width="0.8"/>
<line x1="805.3" y1="397" x2="805.3" y2="399" stroke="#fff" stroke-width="0.8"/>
<line x1="812.8" y1="397" x2="812.8" y2="399" stroke="#fff" stroke-width="0.8"/>
<line x1="820.2" y1="397" x2="820.2" y2="399" stroke="#fff" stroke-width="0.8"/>
<line x1="827.7" y1="397" x2="827.7" y2="399" stroke="#fff" stroke-width="0.8"/>
<rect x="776" y="367.4" width="5.8" height="29.6" fill="#b06c96" fill-opacity="1" stroke="#f4e8f0" stroke-width="0.8"/>
<rect x="783" y="357.5" width="6.4" height="39.5" fill="#b06c96" fill-opacity="1" stroke="#f4e8f0" stroke-width="0.8"/>
<rect x="789.9" y="379.7" width="6.4" height="17.3" fill="#b06c96" fill-opacity="1" stroke="#f4e8f0" stroke-width="0.8"/>
<rect x="798.6" y="390.9" width="6.1" height="6.1" fill="#b06c96" fill-opacity="1" stroke="#f4e8f0" stroke-width="0.8"/>
<rect x="805.5" y="393.2" width="6.1" height="3.8" fill="#b06c96" fill-opacity="0.6" stroke="#f4e8f0" stroke-width="0.8"/>
<rect x="812.4" y="395" width="6.9" height="2.0" fill="#b06c96" fill-opacity="0.3" stroke="#f4e8f0" stroke-width="0.8"/>
<rect x="819" y="396" width="7.0" height="1.0" fill="#b06c96" fill-opacity="0.3" stroke="#f4e8f0" stroke-width="0.8"/>
<text x="767.5" y="411.0" font-size="10" fill="#fff" stroke="#fff" stroke-width="0.3" text-anchor="middle" >0</text>
<text x="782.4" y="411.0" font-size="10" fill="#fff" stroke="#fff" stroke-width="0.3" text-anchor="middle" >2</text>
<text x="797.3" y="411.0" font-size="10" fill="#fff" stroke="#fff" stroke-width="0.3" text-anchor="middle" >4</text>
<text x="812.2" y="411.0" font-size="10" fill="#fff" stroke="#fff" stroke-width="0.3" text-anchor="middle" >6</text>
<text x="827.1" y="411.0" font-size="10" fill="#fff" stroke="#fff" stroke-width="0.3" text-anchor="middle" >8</text>
<text x="765.0" y="400.5" font-size="9.5" fill="#fff" stroke="#fff" stroke-width="0.3" text-anchor="end" textLength="5" lengthAdjust="spacingAndGlyphs" >0</text>
<text x="765.0" y="390.4" font-size="9.5" fill="#fff" stroke="#fff" stroke-width="0.3" text-anchor="end" textLength="10" lengthAdjust="spacingAndGlyphs" >10</text>
<text x="765.0" y="380.3" font-size="9.5" fill="#fff" stroke="#fff" stroke-width="0.3" text-anchor="end" textLength="10" lengthAdjust="spacingAndGlyphs" >20</text>
<text x="765.0" y="370.1" font-size="9.5" fill="#fff" stroke="#fff" stroke-width="0.3" text-anchor="end" textLength="10" lengthAdjust="spacingAndGlyphs" >30</text>
<text x="765.0" y="360.0" font-size="9.5" fill="#fff" stroke="#fff" stroke-width="0.3" text-anchor="end" textLength="10" lengthAdjust="spacingAndGlyphs" >40</text>
<text x="765.0" y="349.9" font-size="9.5" fill="#fff" stroke="#fff" stroke-width="0.3" text-anchor="end" textLength="10" lengthAdjust="spacingAndGlyphs" >50</text>
<text x="743.0" y="372.0" font-size="9.5" fill="#fff" stroke="#fff" stroke-width="0.3" text-anchor="middle" textLength="57" lengthAdjust="spacingAndGlyphs" transform="rotate(-90 743.0 372.0)" >Frequency (%)</text>
<text x="797.5" y="420.5" font-size="10" fill="#fff" stroke="#fff" stroke-width="0.3" text-anchor="middle" textLength="70" lengthAdjust="spacingAndGlyphs" >Particle Size (nm)</text>
<text x="773.5" y="354.5" font-size="9.5" fill="#fff" stroke="#fff" stroke-width="0.3" text-anchor="start" textLength="55.5" lengthAdjust="spacingAndGlyphs" >2.7 ± 1.0 nm</text></svg></body></html>
